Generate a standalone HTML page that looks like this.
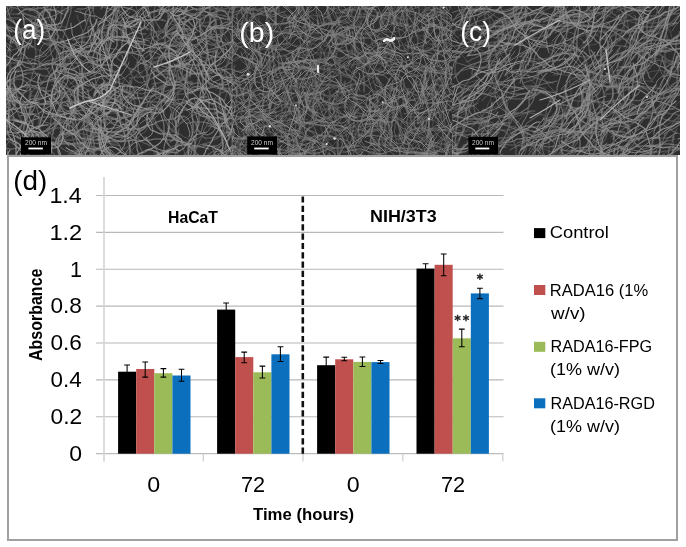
<!DOCTYPE html>
<html><head><meta charset="utf-8"><style>
html,body{margin:0;padding:0;background:#fff;}
body{width:686px;height:547px;position:relative;overflow:hidden;font-family:"Liberation Sans",sans-serif;}
svg{position:absolute;left:0;top:0;}
</style></head><body>
<svg width="686" height="547" font-family="Liberation Sans"><rect x="8" y="156" width="669" height="384" fill="#fff" stroke="#a0a0a0" stroke-width="2"/><line x1="96" x2="503.5" y1="416.71" y2="416.71" stroke="#b8b8b8" stroke-width="1.1"/><line x1="96" x2="503.5" y1="379.85" y2="379.85" stroke="#b8b8b8" stroke-width="1.1"/><line x1="96" x2="503.5" y1="343.00" y2="343.00" stroke="#b8b8b8" stroke-width="1.1"/><line x1="96" x2="503.5" y1="306.14" y2="306.14" stroke="#b8b8b8" stroke-width="1.1"/><line x1="96" x2="503.5" y1="269.28" y2="269.28" stroke="#b8b8b8" stroke-width="1.1"/><line x1="96" x2="503.5" y1="232.42" y2="232.42" stroke="#b8b8b8" stroke-width="1.1"/><line x1="96" x2="503.5" y1="195.56" y2="195.56" stroke="#b8b8b8" stroke-width="1.1"/><line x1="96" x2="503.5" y1="453.6" y2="453.6" stroke="#bcbcbc" stroke-width="1.3"/><line x1="104" x2="104" y1="177" y2="461.5" stroke="#d4d4d4" stroke-width="1.6"/><line x1="203.3" x2="203.3" y1="453.7" y2="461.5" stroke="#d0d0d0" stroke-width="1.3"/><line x1="303.0" x2="303.0" y1="453.7" y2="461.5" stroke="#d0d0d0" stroke-width="1.3"/><line x1="402.8" x2="402.8" y1="453.7" y2="461.5" stroke="#d0d0d0" stroke-width="1.3"/><line x1="502.8" x2="502.8" y1="453.7" y2="461.5" stroke="#d0d0d0" stroke-width="1.3"/><line x1="302.8" x2="302.8" y1="196.4" y2="453.7" stroke="#111" stroke-width="2.6" stroke-dasharray="6.2 3.1"/><rect x="118.1" y="371.7" width="18.1" height="82.0" fill="#000000"/><rect x="136.2" y="369.0" width="18.1" height="84.7" fill="#c0504d"/><rect x="154.3" y="373.2" width="18.1" height="80.5" fill="#9bbb59"/><rect x="172.4" y="375.5" width="18.1" height="78.2" fill="#0b6fbe"/><path d="M127.1 365.0V378.4M124.2 365.0h5.8M124.2 378.4h5.8" stroke="#000" stroke-width="1.05" fill="none"/><path d="M145.2 361.9V377.1M142.3 361.9h5.8M142.3 377.1h5.8" stroke="#000" stroke-width="1.05" fill="none"/><path d="M163.4 368.6V377.1M160.5 368.6h5.8M160.5 377.1h5.8" stroke="#000" stroke-width="1.05" fill="none"/><path d="M181.5 369.2V381.3M178.6 369.2h5.8M178.6 381.3h5.8" stroke="#000" stroke-width="1.05" fill="none"/><rect x="217.1" y="309.6" width="18.1" height="144.1" fill="#000000"/><rect x="235.2" y="357.1" width="18.1" height="96.6" fill="#c0504d"/><rect x="253.3" y="372.3" width="18.1" height="81.4" fill="#9bbb59"/><rect x="271.4" y="354.3" width="18.1" height="99.4" fill="#0b6fbe"/><path d="M226.2 303.0V316.0M223.2 303.0h5.8M223.2 316.0h5.8" stroke="#000" stroke-width="1.05" fill="none"/><path d="M244.2 352.1V362.7M241.3 352.1h5.8M241.3 362.7h5.8" stroke="#000" stroke-width="1.05" fill="none"/><path d="M262.4 366.1V377.9M259.5 366.1h5.8M259.5 377.9h5.8" stroke="#000" stroke-width="1.05" fill="none"/><path d="M280.4 346.8V361.4M277.6 346.8h5.8M277.6 361.4h5.8" stroke="#000" stroke-width="1.05" fill="none"/><rect x="317.1" y="365.2" width="18.1" height="88.5" fill="#000000"/><rect x="335.2" y="359.3" width="18.1" height="94.4" fill="#c0504d"/><rect x="353.3" y="361.9" width="18.1" height="91.8" fill="#9bbb59"/><rect x="371.4" y="362.1" width="18.1" height="91.6" fill="#0b6fbe"/><path d="M326.2 357.1V373.3M323.3 357.1h5.8M323.3 373.3h5.8" stroke="#000" stroke-width="1.05" fill="none"/><path d="M344.3 357.3V360.8M341.4 357.3h5.8M341.4 360.8h5.8" stroke="#000" stroke-width="1.05" fill="none"/><path d="M362.4 356.9V366.5M359.5 356.9h5.8M359.5 366.5h5.8" stroke="#000" stroke-width="1.05" fill="none"/><path d="M380.5 360.4V363.5M377.6 360.4h5.8M377.6 363.5h5.8" stroke="#000" stroke-width="1.05" fill="none"/><rect x="416.5" y="268.6" width="18.1" height="185.1" fill="#000000"/><rect x="434.6" y="264.8" width="18.1" height="188.9" fill="#c0504d"/><rect x="452.7" y="338.3" width="18.1" height="115.4" fill="#9bbb59"/><rect x="470.8" y="293.4" width="18.1" height="160.3" fill="#0b6fbe"/><path d="M425.6 263.7V273.5M422.7 263.7h5.8M422.7 273.5h5.8" stroke="#000" stroke-width="1.05" fill="none"/><path d="M443.7 254.0V275.8M440.8 254.0h5.8M440.8 275.8h5.8" stroke="#000" stroke-width="1.05" fill="none"/><path d="M461.8 329.1V346.8M458.9 329.1h5.8M458.9 346.8h5.8" stroke="#000" stroke-width="1.05" fill="none"/><path d="M479.9 288.3V298.6M477.0 288.3h5.8M477.0 298.6h5.8" stroke="#000" stroke-width="1.05" fill="none"/><path d="M479.9 273.5V280.1M477.0 275.2L482.8 278.4M477.0 278.4L482.8 275.2" stroke="#2a2a2a" stroke-width="1.4" fill="none"/><path d="M457.6 314.7V321.3M454.7 316.4L460.5 319.6M454.7 319.6L460.5 316.4" stroke="#2a2a2a" stroke-width="1.4" fill="none"/><path d="M466.0 314.7V321.3M463.1 316.4L468.9 319.6M463.1 319.6L468.9 316.4" stroke="#2a2a2a" stroke-width="1.4" fill="none"/><rect x="534" y="228.1" width="11.3" height="10" fill="#000000"/><rect x="534" y="285.0" width="11.3" height="10" fill="#c0504d"/><rect x="534" y="341.8" width="11.3" height="10" fill="#9bbb59"/><rect x="534" y="398.3" width="11.3" height="10" fill="#0b6fbe"/></svg>
<svg width="674" height="149" viewBox="6 6 674 149" style="left:6px;top:6px;will-change:transform"><defs><filter id="bl" x="0" y="0" width="1" height="1"><feGaussianBlur stdDeviation="0.55"/></filter><clipPath id="ca"><rect x="6" y="6" width="226" height="149"/></clipPath><clipPath id="cb"><rect x="232" y="6" width="220" height="149"/></clipPath><clipPath id="cc"><rect x="452" y="6" width="228" height="149"/></clipPath></defs><g filter="url(#bl)"><g clip-path="url(#ca)"><rect x="6" y="6" width="226" height="149" fill="#2e2e2e"/><g fill="none" stroke-linecap="round" stroke-linejoin="round"><path stroke="#5f5f5f" stroke-width="0.8" d="M77 102l0-3 0-4 0-3 1-4 1-3 1-3 1-4 2-3 1-3 2-3 3-2 3-2 3-2 2-2 4-2 3 0M190 140l-3-2-3-1-3-2-3-2-2-3-2-3-1-3-1-3-1-4 0-3 1-4 1-3 1-3 1-4 0-3M162 38l-2-2-3-3-2-2-3-2-3-3-2-2-3-3-2-3-2-2-2-3-1-3-1-4M125 92l2-3 1-4 2-3 2-3 2-2 3-2 3-2 3-2 3-2 3-2 2-2 3-2 3-2 4-1 3-1 3-2 3-2 3-2 3-2 3-1M130 141l4-1 3-2 3-2 2-2 3-2 2-3 2-3 2-3 2-3 1-3-1-3-2-3-3-2-4 0-3 1-4 0M17 100l-1 3-1 3-2 3-2 3-3 2-4 0-3 1-4 1-3 0-4-1-3 0-4-1-3 0-3 1-4 2-2 2-3 2-3 2-3 2-3 1-4 0M-9 44l0-4 0-3 0-4 0-3-1-4-1-3-2-3-3-2-3-2-3-2-3-1-4-1-3-1-3 0-4 0-3 0-4 1-3-1-4 0-3 0-4 0-3 0-4-1-3 0M-11 45l3 2 3 2 3 1 4 1 3 0 3-1 4 0 3-1 4-1 3-1 4 0 3 0 4 0 3 2 3 1 3 2 3 2 2 2M-3 141l1 3 2 3 1 4 1 3 1 3-1 4-1 3-3 2-2 3-2 3-3 2-2 3-2 2-3 3-3 2-2 2-3 2-3 3-2 2-3 2-3 2-4 0-3 1-3 1M20 146l-2-3-2-2-3-1-3-3-3-2-2-3-1-3-2-3-1-4 0-3 1-3 1-4 0-3 1-4 1-3 2-3M101 7l4 0 3-1 3-1 4 0 3 0 4 0 3 2 4 1 3 1 3 2 3 1 3 2 3 1 3 2M127 87l0 3 0 4 0 3 0 4 0 3 0 4 0 3 0 4 0 3 1 4 0 3 1 4M-10 137l1-3 1-3 1-4 2-3 1-3 1-3 2-3 1-4 1-3M76 76l-4 0-3 1-3 2-3 1-3 3-3 2-2 2-3 2-3 2-3 2-3 2-3 1-4 0-3 0-4 0M147 166l-3 2-3 2-3 2-2 3-2 3-1 3-1 3 0 4 0 3 0 4-1 3 0 4 1 3 1 4-1 3 0 4M251 132l3 2 2 3 2 3 1 3 1 4 0 3 1 4 0 3 1 3 3 3 3 2 3 1 4 0 3 1 4 0 3 0 3-1 4-1 3-1 4 0 3 0 4 0 3 1M237 129l-1 3-2 3-3 2-2 2-3 2-3 3-2 2-3 2-2 3-1 3 0 4-1 3-1 4 0 3-1 4M151 67l4 1 3 0 4 1 3 1 3 1 3 2 4 1 3 2 3 2 3 2 2 2 3 1 3 2 3 2 4 1 3 0 4-1M61 169l-4-1-3 0-3-1-4-1-3 0-4 0-3 1-4 0M234 67l2 3 2 3 3 2 2 3 3 2 2 2 3 2 3 2 4 1 3 0 4 0 3 0 4-1 3-1 3-1 4-1 3-1 4 0 3 0 4-1 3-1 3-1 4 0 3 1M215 3l3 1 3 1 4 1 3 1 3 2 3 1 3 2 4 1 3 2 3 2 2 3 1 3 1 3 0 4-2 3-1 3-3 3-2 2-3 2M99 25l-2-2-2-4-1-3 0-3-1-4 0-3 0-4 0-3 1-4 0-3 0-4 0-3 0-4M27 100l2-3 2-3 2-3 2-3 2-2 3-3 3-2 2-2 2-3 2-3 2-3 1-3 2-3 2-3 2-3 3-2 3-2 3-1 4 0 3 1 3 2 2 2 3 3 1 3 0 4-2 3M249 114l2-3 2-3 2-3 1-3 0-3 1-4 0-3-1-4-1-3-2-3-2-3-2-3-2-2-3-3-2-3-2-3-1-3-2-3-1-3-1-4M197 104l-1 3-2 3-3 3-2 2-3 3-3 2-2 2-3 2-3 2-2 3-2 3-2 3M195 13l1 4 2 2 3 3 2 3 2 2 3 3 2 3 2 2 2 3 2 3 0 4-1 3-1 4-1 3-2 2-3 3-2 3M46 146l3 2 2 3 2 2 3 3 3 2 3 2 3 1 3 2 3 1 4 0 3 0 4 1 3 1 4 1 3 1 3 2 3 2 3 1 3 2 3 1 4 0M180 28l-3-2-3-1-3-1-3-2-4-2-3-1-3-1-3-1M153 70l4 0 3 1 4 0 3 0 4 0 3 0 4 0 3-2 3-1 3-3 2-2 1-4 0-3-1-4-1-3-1-3-2-3-2-3-2-3-2-3-2-3 0-4M224 75l1-3 1-3 1-4 0-3 1-4 1-3 1-3 3-3 2-3 2-2 3-3 2-3 2-2 2-3 1-4 1-3 2-3 1-3 1-4M240 57l-2-3-2-3-2-2-2-3-2-3-2-3-2-3-2-2-3-3-2-3-2-3-1-3-2-3 0-3 1-4 1-3 2-3 3-2 3-1 3-2 4-1 3-2 3-1 3-1 3-2 3-2M76 5l-3 2-3 2-3 2-3 0-4 0-3-1-4 0-3 0-4 1-3 2-3 1-3 2-4 1-3 0M81 165l2 3 2 2 4 2 3 1 3 1 4 0 3 0 3-2 3-2 2-3 2-3 3-2 2-2 3-2 3-2 3-2 3-2 3-2 2-2 3-3M101 119l1-3 1-3 2-3 3-3 3-2 2-2 3-1 4-2 3-1M-2-13l0-4 0-3 1-4 1-3 2-3 2-3 3-2 2-3 3-2 3-2 3-1 3-2 3-1 3-2M54 116l3-3 1-3 2-3 1-3 1-3 1-4 2-3 3-2 3-1 3-1 4-2 3-1 3-2 2-3 3-2 3-1 4-1 3 0 4 1 2 2 3 2 3 3 2 2 3 2 2 3 3 2M13 4l-1 4-1 3-2 3-2 2-3 2-3 2-3 2-3 1-3 1-4 2-3 2-2 2-3 2-3 2-4 1-3 0-3-1-4-2-2-2-3-2-3-2-3-2-3-2-3-1-3-1-4-1M135 66l2-2 3-3 3-2 3-2 3-2 2-2 3-2 1-4 1-3 1-3 1-4 1-3 0-4 0-3-2-3M76 149l-1-3-1-3-1-4-1-3-1-4-1-3-2-3-2-2-3-3-2-2-3-2-3-2-4-1-3-1-3-2M181 144l1 3 2 4 1 3 3 2 2 3 4 1 3 1 3 2 3 2 3 2 2 2 3 3 2 3 1 3 1 3 1 4 1 3 1 3 2 3 2 3 2 3 3 2M132 72l-3 2-2 2-2 3-2 3-1 3-2 3-2 3-3 3-2 2-3 3-2 2-3 3-2 2-3 2-2 3-3 2-2 3-2 3-1 3-1 4-1 3M105 8l0-4 0-3 0-4 0-3 1-3 2-4 1-3 2-3 2-3 3-2 3-1 3-1 4 1 3 1 4 0 3 1 3 1 4 1 3 1 4 1 3 0 3 2 3 1 3 2M233 5l-2 3-2 3-2 3-2 2-3 2-3 1-4 1-3 1-3 1-4 1-3 0-3-1-3-3-3-2-2-2-3-2-3-3-2-3-1-3-1-3-1-3-1-4-2-3M124 13l-2 3 0 3-1 4 0 3 0 4 0 3 1 4 2 3 2 2 3 2 4 1 3 1 4 0M2 9l-3 1-4 2-2 2-3 1-4 2-3 1-3 1-4 1-3 2-3 1-4 0-3 1-4 0-3 2-3 1-4 0-3 0-4 0-3 0-3 1-4 2-3 2-2 2-2 3M231 165l0-4-2-3-2-3-2-3-3-2-3-1-3-2-3-1-4 0-3 0-4 1-3 0-3 1-4 1-2 3-3 2-2 3-2 2-2 3-2 3-2 3M200 175l-4 0-3 0-4 0-3-1-4 0-3 0-4 1-3 2M67 27l-3 0-4 0-3-1-4-1-2-2-2-3-1-4 0-3 0-4-1-3M104 156l-3 0-4 1-3-1-4 0-3-1-4-1-3 0-3 1-4 1-3 2-2 3-1 3 0 4 1 3 1 3 1 4 1 3 2 3 1 3 1 4 1 3 0 3 0 4M117 113l-3 0-4 0-3-1-4 0-3 0-4 0-3 0-3-2-3-1-4-1-3-2-3-1-3-3-2-2-3-2-3-1-4 0-3 1-4 1-3 0-3 2-4 1-3 2-3 2-2 2M12 68l-2-2-3-2-3-2-2-2-3-3-3-2-2-2-3-3-2-2-3-3-3-2-3-1-3-1-4-1-3 0-4 0-3 0-4 0-3 0-4 1M135 31l1 4 1 3 1 3 1 4 0 3 0 4 0 3-1 4-1 3-1 4-1 3-2 3-3 2-3 2-3 2-3 1-3 1M78 96l-1-4-1-3-2-3-2-2-3-3-2-3-1-3 0-4 0-3 1-4 2-3 2-2 2-3 2-3 3-2 2-3 2-2 2-4 0-3 0-4-1-3-1-3-2-4 0-3-2-3-1-4M186 39l-2 3-2 3-1 3-2 3-1 3-2 3-3 3-3 2-3 1-3 0-4 1-3 0-4-1-3 1-4 1-3-1-3-1-3-3-2-2-3-3M164 33l-3-1-3-1-4 1-3 2-3 2-2 2-3 2-3 2-3 2-3 2M62-4l0 3-2 4-1 3-2 2-3 2-4 1-3-1-3-1-4-1-3 0-4 1-3 0-4 0-3 0M-8 14l-3 1-4 1-3-1-3-1-3-2-3-2-2-2-2-3-2-4-1-3-2-3-2-2-2-3-3-2-3-1-4-1-3 1-4 1-3 0-4-1-3 0-4-1-3-1M137 131l-2 2-3 2-3 2-3 2-3 1-4 1-3 2-3 0-4 0-3 0-4-2-2-2-3-3-2-2-3-2-3-2-3-1-4 0-3 1-3 1-4 1-3 1-3 2-3 2-3 2-2 3M209 6l4-1 3-2 3-1 4 0 3 0 4 1 3 0 4 1 3 0 4 0 3 1 3 0M83 159l3-1 4-2 3-1 2-3 2-2 2-4 2-3 2-2 3-2 3-2 4 0 3 0 3-1 4-2 2-2 2-3 2-3 1-3 1-4M43 132l2 3 2 3 2 3 1 3 1 4 1 3 2 3 1 3 1 3 2 3 2 3 2 3 2 3 2 3 2 2 2 3 2 3 2 3 2 3M232 137l4-1 3 0 4 1 3 2 3 2 2 2 3 2 4 1 3 0 3 1 4 1 3 0 4 1 3 0 3-2 3-3 1-3 1-3-1-4 0-3-2-4-1-3-1-3-2-3-3-2M22 40l3-1 4-1 3-2 2-2 3-3 1-3 2-3 1-3-1-4-1-3-3-2-3-2-3-2-3-2-3-1-3-1-4 1-3 2-2 3M-9 129l-2 2-3 3-2 2-3 2-4 0-3 0-4-2-2-2-2-3-2-3-1-3 0-4 1-3 0-4 0-3 0-4 0-3 2-3 2-3 2-3 0-4-2-3-3-2-3-2-3-1M206 140l-2-3-3-2-2-3-2-3-1-3-1-3-2-4-1-3-2-3-2-2-3-2-3-3-2-2-2-4 0-3 0-3 0-4 2-3 3-2 3-2 3-1 3-1M239 79l-3 2-3 3-2 2-2 3-2 3-1 4-1 3-1 3 0 4 0 3 0 4-1 3-2 3-2 3M80 10l2 3 3 2 2 3 2 3 2 3 2 3 1 3 0 4 1 3 0 4 1 3 0 4-1 3-1 3-2 3-2 3-2 3-2 3M217 74l4 1 3 1 3 1 3 2 2 3 3 2 2 3 3 2 2 3 3 2 3 2 3 2 3 2 3 1 3 2 2 2 3 2M42 16l1-3 1-4 2-2 3-3 3-1 3-2 3-2 3-2 3-2 3-1 3-1 4 0 3-1 3-2 3-2 1-4 1-3-1-4 0-3 0-4-1-3-1-3M33 31l-4 0-3 1-4 0-3 0-4 0-3-1-3 0-4-1-3-2-2-2-2-3-2-3-2-3M36 119l-3 1-4 1-3 1-4-1-3-1-3-1-4-1-3 0M2 8l-3 1-4 0-3 0-4 0-3 2-3 2-3 1-3 1-4 1-3 1-3 2-3 1-4 1-3 0-4 0-3 1-3 2-3 1M239 118l3 1 4 0 3 1 3 2 3 2 2 3 2 3 1 3 1 3 1 4-1 3-2 3-3 2-3 2-3 1"/><path stroke="#5f5f5f" stroke-width="1.1" d="M243 68l3-1 4-1 3-2 3-1 4-1 3-1 3-1 3-1 3-2 3-3 1-3 0-4-1-3M166 138l-2-3-2-3-3-3-2-2-2-3-2-3-1-3-1-4-1-3 0-4 0-3 2-3 3-2 3-2 3-2 3 0 4-1M183 117l-3 2-3 2-1 3 0 4 0 3 1 4 1 3 0 4-2 3-1 3-2 3-3 2-3 2-3 0-4 1-3 1-3 2-4 0-3 1-4-1-3-1-4 0-3-1-3-2M26 57l2 3 2 2 2 3 1 4 2 3 2 3 2 3 2 3 1 3M185 20l0 3-1 4 0 3 1 4 1 3 1 3 1 4 2 3 2 3 1 3 2 3M36 19l-3 0-4 0-3 0-4 0-3-1-4 0-3 0-4 0-3 0-4-1-3 1-3 1-4 1-2 3-2 3-1 3-2 3-2 3-2 3-2 2-2 3-2 3-2 3-1 4-1 3M20 90l-3-2-3-3-2-2-1-3-1-4 0-3 0-4 0-3 0-4 0-3 0-4 0-3 0-4M230 136l-3-2-3-2-3-2-3-1-3-2-3-1-2-3-2-3-1-3 0-4-1-3-2-4-1-2-3-3-2-3-2-2-3-3-2-2M104 85l-4 1-2 2-3 3-1 3-1 4 0 3 0 4-1 3-1 3-2 3-2 3-2 3-2 3 0 3 0 4 1 3 0 4 1 3-1 4-1 3-2 3-3 2-3 1-4 1-3 0M122 158l1 4 2 3 2 3 3 2 2 2 3 2 3 2 2 3 2 3 2 3 1 3 1 3 1 4 0 3M123 127l-3 1-3 2-3 2-3 2-3 2-4 1-3 0-4-1-3 0-4 0-3-1-4-1-3-1-3-2M150 107l1 3 1 3 1 4 2 3 1 3 2 3 2 3 3 2 3 2 3 2 3 1 3 2 2 3M212 148l2 3 1 3 3 3 3 1 3-1 3-1 2-4 2-3 2-2 2-3 2-3 2-3 0-4 1-3 0-4 0-3-1-3-1-4 0-3-1-4 0-3M153 58l4 0 3 0 4-1 3-1 3-1 4-1 3-3 2-2 1-3 1-4 1-3 1-4-1-3-1-3-1-4M129 78l3 0 4-1 3 0 4 0 3-1 3-1 3-2 3-2 3-2 1-3 2-3 1-4 1-3 1-3 2-3 3-3 2-2 3-2 2-3 1-3 1-4 0-3-1-3-2-4-2-3-2-2-2-3M152 84l4-1 3 0 4-1 3 0 3 1 4 0 3 1 4 1 3 1 3 2 3 1 4 0 3 1M199 65l-2 2-3 2-3 2-3 2-3 2-3 2-3 2-3 2-3 1-3 2-3 2-3 2-3 2M-13 58l2 3 3 2 2 3 2 2 3 3 3 1 3 1 4 0 3-1 4-1 3-2M203 158l-3 2-2 3-1 3-1 3-1 4 0 3 0 4-1 3-2 3-2 3-1 3-1 4 1 3 1 3 0 4M132 169l3-1 4-1 3-2 3-1 3-2 3 0 4-1 3 0 4 1 3 0 4-1 3 0 4-1 3 1 4 1 3 2 3 2 3 1 3 1 3 1 4 1 3 1 4 0M-12 174l3 2 3 2 3 2 3 1 4 0 3 1 4 0 3 0 4 0 3-1 3-1 4-1 3-1 3-2 3-1 4-1 3 0M62 105l-1 3-1 3 0 4-1 3-1 4-1 3-2 3-3 2-2 3-3 1-4 2-3 1-3 1-3 2-3 2-2 3-3 2-2 3-2 3-2 3-1 3-2 3-1 3M94 157l0-3 0-4-2-3-1-3-2-3-1-3-1-4 0-3 0-4 0-3 1-3 1-4M101 93l2 3 2 2 2 3 1 4 2 3 2 2 3 2 2 3 4 2 3 1 3-1 4-1 2-3 1-3 1-4 0-3-1-3-2-4-2-2-3-2-3-1-4-1M193 83l-3-1-3-1-4-1-3-1-3-2-3-1-3-2-4 0-3 0-4 1-3 1-3 1-3 2-4 2-3 1-3 1-3-1-3-2-2-3-2-3-1-4-2-3-2-3-2-3-1-3-1-3M59 28l-4-1-3 0-4-1-3-1-3-2-3-1-3-3-2-2-4-1-3-1-3-1-4 0-3 0-4 0-3 0-4 0-3 1-4 1-3 1-3 1-4 0-3 1-4 1-3 1-3 2-3 2-2 2M248 161l3 2 3 1 3 2 3 2 1 3 2 3 0 4 1 3 0 4 0 3 1 4-1 3 0 4-1 3-2 3M88 147l1 3 1 3 0 4 0 3-1 4-2 3-1 3-2 3-2 3M97 0l-2-3-2-3-2-2-1-4 0-3 0-4 2-3 1-3 1-3 2-4 0-3-1-4-1-3-1-3 0-4 1-3M-10 170l3-2 2-3 3-2 3-2 2-2 3-2 3-2 4 0 3 0 4 2 2 2 2 3 1 3-1 4-1 3-3 2-3 2-3 1-4 1-3 1-3 0-4 0-3-1-3-2M235 7l-4 1-3 0-4 1-3 0-4 0-3 0-4 0-3-1-4-1-3-1-3 0-3-2-4-1M150 146l-3-2-3-1-3-2-3-2-2-3-2-3-1-3 0-4 1-3M62 91l0 3-1 4 0 3 0 4 2 3 2 2 3 1 4 0 3-2 1-3 0-4-1-3-2-3-2-3-2-3-2-2-3-2-3-2-2-3-1-3-2-4M86 145l-3-2-1-3-2-4-1-3-1-3-2-3-2-3-3-2-3-1-4-1-3 0-4 2-3 1-3 2-2 2-3 3-2 3-2 3-2 2-3 3-2 2-3 2-3 2-3 2-3 1M131 107l-2 2-2 3-2 3-2 3-3 2-3 2-4 1-3 0-4 0-3-1-3-2M186 22l-1-3-1-3-1-4-2-3-2-3-2-2-3-2-3-2-3-2-3-2-3-2-2-3-1-3-1-4 0-3-1-3 0-4 1-3 1-4 3-2M17 108l-3-2-2-3-2-3-1-4-2-3-2-2-2-3-3-2-3-2-3-1-4-1-3-2-3-2-2-2-3-2-2-3-2-3-1-3M154-3l1 3 0 4 0 3-1 4 0 3 0 4 1 3 2 3 2 3 2 3 3 2 2 3 3 2 2 2 3 3 3 2 3 0 4 1 3-1 3-2 3-2 3-2M1 56l2 2 3 3 0 3 0 4-2 3-2 2-3 2-3 3-2 3 0 3-1 4-1 3 0 4 1 3 1 3 1 4 2 3 2 2M180 170l4 0 3-1 4 0 3-1 3-2 3-2 2-3 2-2 2-3 3-2 3-2 3-2 3-2 2-2 2-3 1-4 0-3 0-4 0-3-1-4 0-3 0-4M46 151l0 3 0 4 0 3 0 4 0 3 0 4-1 3-1 4 1 3 1 3 2 3 3 3 2 3 1 3 0 3 1 4M114 37l-2-3-3-1-4-1-3 0-4 1-3 2-2 3-2 3 0 3 2 3 3 2 3 1 4-1 3 0 4-1 3 1 3 0 4 2M230 63l-3 2-3 2-3 1-4 1-3 1-3 1-4 0-3 0-4 0-3-2-3-1-4-1-2-3-3-2-1-3-2-4-1-3-2-3-3-2-3-1-4 0-3-1M251 52l3-2 3-3 2-2 3-3 2-3 2-3 1-3 1-3-1-4-2-2-3-2-3-2-3-2-2-3-2-3-2-3-2-3 0-3-1-4-1-3-2-3-2-3-2-3-3-2-2-3-2-3-2-2-2-3M168 55l4 1 3 2 3 2 2 2 3 3 2 2 3 2 3 2 3 1 4 1 3 2 2 2 3 3 2 3 2 2 3 2 3 1 4 1 3 1M59 60l4-1 3 0 4-1 3-1 3-1 4-1 3-2 3-1 4-1 3-2 2-2 2-3 2-3 3-2 2-3 3-2 2-3 1-3 2-3 2-3 1-3 1-4 1-3 2-3M172 164l4 0 2-3 3-2 2-3 2-2 3-3 2-2 3-2 3-1 4-1 3-1 4-1 3-1 3-2 3-1 3-2 3-2 3-2 4-1 3-1 3-2 3-2 2-2 2-3 1-3 1-4M187 63l0 4 0 3 0 4 1 3-1 4-1 3-2 3-3 3-2 2-3 1-4 2-3 2-3 1-2 2-3 3-3 2-3 2-3 1-3 2-3 2-3 0-4 1-3 0-4-1-3-2-3-2M15 66l3-2 2-3 1-3 0-3 0-4-2-3-2-3-3-2-3-2-2-3-2-3-2-3-3-2-3-2-3-1-3-2-4 0-3 0-4 0-3 1-3 1-4 0-3 1-4 0-3-1-4-1M140-2l3-3 2-2 3-2 3-2 3-1 4 0 3 1 3 2 3 3 1 3 1 3 0 4 0 3-1 4 0 3 0 4 0 3-1 4-2 3-2 2-3 2-4 0-3-1-3-2-3-1-3-2M79 149l3-1 4-1 3-2 2-2 2-4 1-3 1-3 1-4-1-3 0-4 1-3 0-4 1-3 2-3 2-3 2-2 3-3 3-1 3-1 4-1 3-2 3-2 1-3 1-3 0-4M152 105l4 1 3 1 2 3 2 3 1 3 1 4 2 3 1 3 3 3 2 2 3 2 3 1M43 105l3-1 3-2 3-2 3-1 3-2 3-2 3-2 3-1 4-1 3-1 4 0 3-1 3-1M224 4l-2 3-3 2-2 2-3 2-3 2-4 1-3-1-3 0-4-1-3 0-4-1-3-2-2-3-2-3-1-3-2-3-2-3 0-3 0-4 2-3 2-3 2-2 3-2 4-1 3 1 3 3M170-13l-4-1-3-1-3-1-4-2-2-2-3-2-3-2-3-2-2-3-2-3-1-3-1-3-2-3-2-3-1-4-1-3-1-3 0-4-1-3-3-3M62-2l0 3 1 4-1 3 0 4-1 3 0 4-1 3-2 3-1 3-3 3-2 3-1 3-1 4 0 3 0 4 1 3 0 3 2 4 1 3 1 3 2 3 1 4 0 3 0 4 0 3-2 3-1 3M244-8l2 4 0 3 0 3-1 4-2 3-2 3-2 3-3 1-4 1-3 0-4-1-3-1-3 0-4-1-3-1-4-1-3 0-3-1-4-1-3-1M142 60l3 1 4 0 3 1 4 0 3-1 3-2 3-2 3-2 3-2 3-2 3-1 3-1 4 0 3 2 3 2 3 2 2 2 3 3 2 2 2 3 2 3 2 3 2 3 2 2 4 1M61 54l-1-3-2-3-2-3-2-3-2-3-3-2-3-1-4-2-3 0-3 0-4 0-3 1-3 2M90 144l-1 3-2 3-1 3-1 3-1 4-2 3-2 3-2 2-2 3-3 2-3 3-2 2M53 65l1-3 2-3 1-3 0-4 0-3-1-4-1-3-2-3-2-3-2-2-2-3-1-3-2-3-2-3-3-3-3-2-3-1-3-1-4-1M22 114l1-3 2-4 2-3 2-2 1-4 1-3 0-4-1-3-1-3-3-3-3-2-3-1-3 0-4 2-2 3-2 2-1 4-2 3-1 3-2 3-1 3-2 3-2 3-1 3M176 75l1 3-1 3-1 4-2 3-2 3-1 3-2 3 0 3 0 4 2 3 1 3 1 4 1 3 1 3 2 4 2 2M54 143l-3 2-2 3-2 3-1 3 0 4 0 3 2 3 3 2 3 2 3 2 3 1 4 1 3 0 4 1 3 1 3 1M142 23l-3 1-4 1-3-1-4-1-3 0-3-1-4 0-3-1M28 18l2 3 2 3 1 4 1 3 0 3 1 4 0 3 0 4 0 3 1 4 0 3-1 4 0 3-1 4 0 3-1 3-1 4-1 3-1 4-2 3-1 3-2 3-2 3M27 15l-3-2-3-2-3-2-3-1-4-1-3-1-4-1-3 0-3-1-4-1-3-1-4-1-3 0-3-1-4 0-3-1-4-1-2-3-3-2-3-2-3-1-3-1M116 56l2 3 3 2 2 2 3 3 3 2 3 1 3 1 3 2 4 1M177 64l-1 4-1 3-1 3-2 3-2 3-3 3-2 2-3 3-3 2-2 2-2 3-3 2-2 3-2 3-1 3-2 3-2 3-2 3-2 3-2 2-3 2-3 2-4 1-3 2-2 2-3 2-3 2M15 87l-4 0-3 0-4-1-3-2-2-3-2-2-1-4-1-3-1-3-1-4-1-3-1-3-2-4M80-7l4-2 3-1 3-1 3-1 4 0 3 1 3 2 2 3 2 3 2 3 1 3 2 3 2 3 2 3 1 4 0 3 0 4-1 3-1 3-2 3-1 3-3 3-2 2-4 2-3 1-3 2M212 64l2-3 2-3 1-3 0-4 0-3 1-4 0-3-1-4 0-3-1-4-1-3 0-3 1-4 0-3 1-4 0-3 1-4 1-3M93-11l1-3 0-3 3-3 3-1 3 0 4 1 3 2 2 3 1 3 1 3 0 4 1 3-1 4 1 3 0 4 0 3 0 4M222 68l2 3 2 3 1 3 3 3 2 2 3 2 4 1 3 0 3 1 4 2 3 1 2 3 3 2 1 3 2 3 1 4 1 3 0 3 1 4 1 3 1 4 2 3 0 3 1 4M7 32l-3 1-3 1-4 1-3 1-4-1-3-1-3-2-2-3-2-3-1-3 0-4-1-3 0-4 0-3-1-4 0-3 1-3 1-3M42 31l-4 1-3 0-4 0-3 0-4 1-3 1-3 2-3 2-3 1-4 0M110 109l2-3 2-2 3-3 3-2 3-1 3-1 3-2 3-3 2-2M90 77l3-1 3-2 3-2 2-3 1-3 2-3 2-3 1-4 1-3 1-3 0-4 0-3-2-4-1-3-2-3-3-2-4-1M217 50l-4 1-3 1-3 1-4 1-3 1-3 0-4 0-3 0-4 0-3-1-4-1-3-2-3-1-3-1M55 89l3 2 2 2 3 2 3 2 2 3 2 3 3 2 2 3 1 3 0 4-2 3-2 3-2 2-3 2-3 2-3 1-4 0-3 1-4 0-3 1M208 34l3-3 2-3 1-3 2-3 0-4 0-3 0-4 1-3 1-4 0-3 0-4M135 26l-4 0-3-1-4 0-3-1-3-2-4-1-3-1-3 0-4 0-3 1-3 1-4 2-3 2-3 1M178 63l0 3 0 4-1 3-2 3-2 2-3 2-3 2-3 2-3 2-3 2-3 2-3 1-3 1-4 1-3 1-4-1-3-1-4 0-3-1-4 1M100 136l-3 0-4 0-3 0-4 1-3 1-4 1-3 0-4 1-3 0-3 0-4-1-3 0-4-1-3 0-4 1-3 2-2 2-1 3-1 4 0 3 1 4 0 3 0 3M195-13l-3-1-3-1-3-2-3-2-1-3-2-3-2-3-1-4-2-3-2-2-3-2-3-2-3-1M79 145l3 3 2 3 1 3 2 3 1 3 2 4 2 2 2 3 3 2 3 2 4 0 3 0 4 1 3 1 3 1 3 2 4 1 2 2 2 3 2 3M15 89l1 4 1 3 1 4 1 3 2 3 1 3 2 3 2 3 1 3 1 4 0 3-1 4-1 3 0 3 0 4 2 3 1 3 3 3 3 2 3 1 3 1 4 1 3 2"/><path stroke="#717171" stroke-width="0.8" d="M62 170l-4 0-3 1-4 1-3 1-3 2-2 2-3 3-2 3-1 3-2 3-2 3-2 3-2 3-2 2-3 2-3 2-3 1-4 2-3 2-2 2-3 2-2 2-3 3-1 3-2 3 0 4-1 3M39 5l-3-2-3-1-3-2-4-1-3-1-3 0-4-1-3 0-4 0-3 1-4 1-3 0-3 1-4 1-3 2-3 2-2 2-3 2-3 2-3 3-2 2-1 4-1 3-1 3 0 4 1 3M30 88l0 3 0 4 0 3 0 4 1 3 0 4-1 3-2 3-1 3-2 3 0 4-1 3 0 4 1 3 1 4M5 90l3 1 4 1 3 1 4 0 3 0 4-1 3-2 2-2 3-2 4-1M192 172l2-3 3-2 3-2 3-2 3-1 3-1 4-1 3-1 3-1 4-1 3 1 4 0 3 0 4-1M214 155l3-1 3-1 4-1 3-1 4 0 3 1 3 0 4 1 3 0 4-1 3-1 3-1 4 0 3 2 2 3 1 3 0 4 0 3-1 4M203 137l3 1 3 0 4 0 3-1 4-1 2-3 2-3 1-3 0-4 1-3-1-3-3-3-3-1-3 0-3 2-3 2-1 3-2 4-1 3-2 3-1 3-1 4-2 3-1 3-2 3-1 3-1 4-1 3M1-7l-2 2-2 3-2 4 0 3-1 3 1 4 1 3 2 3 2 3 2 3 3 2 2 3 2 3 1 3 1 4 0 3-1 3-1 4-1 3-2 3-3 3-2 2-3 2-3 1M122 53l-3 2-3 2-3 1-3 0-4 0-3-1-3-2-3-2-1-3-2-3M101 139l3 1 4 2 2 2 3 3 3 1 3 1 4 0 3-1 3-2 3-2 1-4 2-2 2-3 2-3 2-3 3-2M98 97l3 2 3 1 3 2 3 1 3 0 4-1 3-1 3-2 3-2 4-1 3-1 3-2 3-2 3-2 2-2 2-3 2-3 1-4-1-3-2-3-1-3-1-4-1-3M107 51l2-3 2-3 1-3 1-4 1-3 1-3 1-4 2-3 2-3 2-2 3-3 2-2 3-3M235 72l-3 2-3 2-3 1-4 1-3 2-3 1-3 2-2 3-3 2-2 3-1 3-2 3-2 3-1 3-2 4-1 3M142 21l2-3 1-3 1-3 1-4-1-3-1-3-2-4-1-3 0-3 1-4 2-3 1-3 2-3 1-4 0-3M10-2l2 3 2 3 3 2 4 1 3 1 3 1 4 0 3-2 2-2 2-3 1-3 2-3M94 9l-3-1-4-1-2-2-3-2-3-2-3-2-3-2-3-2-3-1-3-2-3-2-3-2-3-1-4 0-3 1-3 2-3 2-2 3-1 3-1 4 0 3-1 3 0 4 1 3 2 3 3 2M7 140l3 2 3 2 3 2 3 2 3 1 3 2 2 3 1 3 1 3M20 122l-3-2-3-2-3-2-2-3-2-2-2-3-3-3-2-2-3-3-2-3-2-2-2-3-3-2M243 109l0 4-1 3-1 3-3 3-3 1-4 0-3 0-3-2-3-2-3-2-3-2-1-3-1-4 0-3 0-4 1-3 3-3 3-2 3-1 3-1 4 0 3 1 4 1 3 0 4 0M89 116l0-3 0-4 2-3 2-3 2-3 2-2 2-3 2-3 2-3 3-2 2-3 2-3 3-2 3-2 3-1 3-2M245 80l4 0 3-1 4 0 3 1 4 1 3 2 3 1 4 0 3 0M154 153l4 0 3-1 4-1 3-2 2-1 4-2 3-1 3-1 3-2 4 0 3-1 4-1 3-1 3-2 3-2 3-2 2-2 2-3 3-2 3-3M16 76l4-1 3-1 3-1 4 0 3 0 4 1 3 1 4 1 3 0 4 1 3 1 3 1 3 2 3 1 3 2 2 3 2 4 1 3M46 24l2 2 2 3 3 2 3 3 2 2 2 3 3 2 2 3 2 3 2 3 2 3 2 3 2 3 1 3 2 3 1 3 1 4 0 3 0 3 0 4-1 3-1 4-1 3 0 4 0 3 1 4 1 3M238 174l-3-3-2-2-2-3-3-2-3-2-3-1-3-2-4-1-3-1-3-2M247 130l-3-2-3-2-2-3-3-2-3-2-3-2-3-2-3-1-3-1-4-1-3 1-4 0-3 0-4 0-3-1-3-2-3-2-2-3-2-3-2-3-1-3-2-3-1-3-1-3-2-4-1-3-1-3-1-4M85 55l3 2 2 2 2 3 1 4 1 3 0 4 1 3 0 3 1 4-2 3-2 3-3 2-3 1-3 1-4-1-3-1-4-1-3-1-3-1-3-1-4-1-3 0-4-1M225 100l-4 0-3-1-4 0-3 0-3 1-3 2-3 2-1 4 0 3 2 3 2 3 3 2 3 2 3 2 2 2 3 3 1 3 0 4M35 137l2-3 3-2 3-1 3 0 4 2 2 2 2 3 2 3 2 3 2 3 3 2 3 2 3 1 3 1 4 1 3 1 4 0 3 1 3 2 4 1 3 1 3 2 3 2 2 2 3 3M176 89l-3 0-4 1-3 1-3 1-3 2-4 1-3 1-3 1M127 111l2 3 2 2 2 4 1 3 0 3 0 4-2 3-3 2-3 2-3 1-3 2M220 34l-3 1-3 2-3 2-3 2-2 3-3 2-2 3-3 2-3 2-2 2-2 3-1 4-1 3-1 3-1 4 0 3-1 4-1 3-2 3-3 2-3 1M246 86l-2 2-4 1-3 0-4 0-3 0-4-1-3 0-3-1-4-1M127 120l-2-3 0-4 1-3 1-3 1-3 2-3 3-2 4-1 3 0 4-1 3 0 3-1 4-1 3-1 4-1 3 1 3 1 3 2 3 2 3 3 2 2M29 63l3-3 3-1 3-1 3-1 4-1 2-3 2-2 2-4 1-3 2-3 3-2 2-3M225 39l2 3 3 2 2 2 3 2 4 1 3-1 3-1 3-2 3-2M130 129l1 4 2 3 2 3 1 3 3 2 1 3 2 4 0 3-1 4-2 2-3 2-3 2-4 1-3 2-3 2-2 2-2 3M83 101l0-3 0-4-1-3 0-3 0-4 1-3 1-4 2-3 2-2 3-3 2-2 3-2 1-4 1-3-1-3-2-4-1-3-2-3-1-3-1-3-1-4-1-3 0-4M138 171l3-1 3-1 4-1 3-1 3-2 3-2 3-2 2-3 2-2 3-3 3-1 3-2M187 110l-4 0-3-1-3-2-3-2-1-3 1-4 2-3 3-1 3 0 4 0 3 0 4-1 3-2 3-2 2-2 3-2 3-3 3-2 3-2 2-2 3-1 3-2M158 128l3 3 2 2 2 3 1 3 2 4 2 3 2 2 2 3 3 2 2 3 2 3 1 3 2 3 2 3 2 3 3 2M108 36l-1-3 1-4 1-3 2-3 3-2 3-1 3-2 2-2 3-3 3-2M40 69l0-4-1-3 0-4 1-3 0-4 1-3 2-3 3-2 4 0 3 0 4 1 3 2 3 2 2 2 2 3 1 3 2 3 1 4 2 3 1 3 2 3 0 4-1 3-2 3-3 2M96 0l-1 3-1 3-1 4-2 3-2 3-1 3-1 3-1 4-1 3-2 3-2 3-2 3-2 3-1 3-2 3-2 3-2 3M227 12l4 0 3 0 3 0 4 0 3-1 4-1 3-1 4 0 3-2 3-2 2-2 2-3 0-4 0-3-1-4 0-3-2-4-2-3-2-2-2-3-2-3-2-3-1-3-1-4 0-3M76-2l-4-1-3-1-4-1-3-1-3-2-3-1-3-1-4-2-3-2-2-2-2-3-2-3-1-3 0-4-1-3 1-4 0-3 1-4 0-3 1-3 2-3 2-3 3-2 2-3 3-2 4-1M130 80l0 3 0 4 0 3-1 4-2 3-2 2-3 3-2 2-3 1-3 2-3 2-3 3-2 2-3 2-3 3-2 2-3 2-4 0-3 0-4-1-3-2-2-2M120 146l-3-1-4 0-3-2-2-2-3-3-2-3-1-3-2-3-1-3-1-3 0-4 0-3-1-4 0-3-1-4 0-3-1-4 0-3 0-4 1-3 0-4 1-3 2-3 2-2 3-3M188 5l-4 0-3 0-4 0-3-1-3-2-3-2-3-2-3-2-2-3-2-3-2-2-2-3-4-1-3-1-3-1-4-1-3 0-4-1-3-1-3-1-3-1-4-1-3-1-4-1-3-2-3-1M245 110l2-3 3-3 3-2 3-1 3-2 3-1 4 0 3 0 4-1 3 0 4 0 3 0 4 1 3 1 3 2 3 2M61 118l-2 2-2 3-2 3-1 4-1 3-1 3-1 4 0 3 0 4 0 3 0 4-1 3-1 3-1 4-1 3-2 3-1 3 0 4 1 3M7 56l-3 2-4 1-3 1-3 1-4 0-3 0-4 0-3 0-4 1-3 1-4 0-3 0-4 0-3 0-4 0-3 0-4 1-3 1-3 1M118 157l-4 1-3 2-2 2-3 2-3 2-3 2-3 2-3 2-3 2M123 23l4-1 3 0 4 0 3-1 4 0 3 0 4-1 3 0 3-1 4 1 3 0 4 1M-1 85l3 1 2 3 3 3 2 2 2 3 2 3 1 3 1 4 1 3 2 3 1 3 2 3 1 3 2 4M31 153l3-1 3-2 3-3 2-2 2-3 2-3 2-3 1-3 0-4 1-3 1-4 0-3 1-4 1-3 1-3 1-3 2-3 3-3 2-2 2-3 2-3 3-2 3-3 3-1 3 0 4 1 3 1 3 3M202 4l-2 3 0 4 0 3 0 4 0 3 0 4 0 3 1 4 1 3 2 3 3 2 3 2 3 2 3 0M208 103l3 1 4 1 3 2 3 2 2 2 2 3 1 4 2 2 2 3 2 3 3 3 2 2 2 3M219 171l3 1 3 1 4-1 3-2 2-3 2-3 3-2 3-2 3-1M217 52l1-3 1-3 0-4-1-3-1-4-3-1-4 1-3 2-2 2-3 2-3 2-3 2-3 2-3 2-3 2-3 2-3 1-3 1-4 1-3 0-3 1-4 0-3 0-4 0M145 173l-2-3-2-3-2-3-3-2-2-2-4-2-3 0-4 0-3 1-3 1-4 1-3 1-4-1-3-1M153 60l-1-3-1-3 1-4 2-3 3-2 3-1 3-1 4 1 3 1 4 0 3 0 4-1 3-1 3-2M205 162l-3 1-3 2-3 1-3 2-4 1-3 1-3 1-3 2-3 2-2 3-3 2-2 3-1 4 1 3 1 3 1 4 1 3 2 3 2 3 3 2 3 1 4 1 3-1 3-2 3-1 3-2 3-2M179 129l-1 4 0 3 0 4 0 3-1 4 0 3-1 3-1 4 0 3-1 4-1 3-1 3-1 4-1 3-1 3-2 3-3 3-2 2-2 3-3 3-2 2-3 3-2 2-2 3-3 2-2 3M33 111l-3 2-3 2-2 3-1 3-2 3-1 4-2 3-2 3-2 2-3 3-2 2-3 3-1 3 1 3 1 4 3 2 2 2 3 3 3 1 3 2 3 2 3 2M65 138l3-2 3-1 3-2 3-2 3-2 2-3 2-2 2-3 2-3 2-4 1-3 1-3-1-4-1-3-2-3-3-2-3-2-2-2-2-3-1-4-1-3 1-3M226 174l-1 3 0 4 0 3-1 3-2 4-2 2-2 3-3 3-2 2-4 1-3 0-4 0-3 1-4 0-3 1-3 1-4 1-3 2-3 2-3 1-3 1M37 67l3-3 2-3 3-2 2-2 3-2 2-3 2-3 2-3 3-2 2-3 2-3 1-3 1-3 1-4 1-3 1-4 1-3 1-3 1-4 0-3 1-3M171 71l-1-4 0-3 0-4 0-3-1-4-1-3-2-3-3-1-3-2-3-2-3-2-2-3M211 56l1 4 1 3 2 3 2 2 3 3 1 3 1 3 0 4-1 3 0 4-1 3 0 4-1 3 0 4 0 3 1 4 2 3 1 3M-8 72l-3-3-2-3-1-3-1-3 0-4-1-3 1-4 1-3 1-3 2-3 2-3 3-1 4-1 3 0 4 1 3 1 3 1 4 0 3 0 4 0 3-1 4-1M125 4l-3 2-3 1-3 2-3 2-2 3-1 3 0 4-1 3 0 4M188 15l-2-3-3-2-3-1-4 0-3 2-2 2-2 3-1 4 0 3-1 4-1 3-3 2-3 2-3 2-3 1-3 1-4 1-3 1M219 53l-4-1-3 0-4 0-3 0-4 0-3-1-3-2-3-2-3-1-4-2-3-1-3-1M215 76l4-2 3-2 2-2 2-3 2-3 1-3 1-4 0-3 0-4 0-3 1-4 0-3 0-4-1-3-2-3 0-4 0-3 0-4 0-3 1-4 1-3M222 50l-2 3-2 2-3 2-4 1-3 0-4 0-3-2-3-2-2-2-3-2-3-2-3-2-3-2-3-2-2-3-2-3-1-3-3-2M108 33l3 2 3 1 4 0 3 1 4-1 3-1 3-1 4-2 3-1 3-1 3-1M170 78l-2 4-2 2-3 2-3 2-3 1-4 0-3 1-4 0-3 0-4 0-3-1-3-2-3-2-2-3-2-2-3-3-3-2-3-2-3-2-3-1-4 0-3 0-4 1-3 1-3 1-4 1M56 69l3-2 4-1 3-1 3-1 4-1 3 0 4 0 3-1 3-2 2-3 1-3 1-3 1-4 2-3 1-3 0-4 1-3 2-3 2-3 3-2 3-2M147 53l2-3 3-2 2-3 3-3 2-2 3-2 3-2 3-2 3-1 4-1 3-1 4 0 3 0 3 0 4-1M37 92l-1 3-1 3 0 4 1 3 1 4 1 3 1 3 0 4 0 3 0 4 1 3 1 4 0 3 1 4 1 3 2 3 2 3 2 2 3 2M143 76l1 4 1 3 2 3 2 3 2 3 2 2 3 3 3 2 3 1 3 2 3 2 3 0 4 1 3-1 4 0 3-1 3-1 3-2 3-2 3-2M76 2l-4 1-3 0-4 1-3-1-3-2-3-2-3-2-2-2-3-3M173 2l-1-3-2-3-3-2-3-2-3-1-4-1-3 0-3 1-4 2-2 2-3 2-3 3-3 1-2 2-3 2M62 97l-1 4 0 3-1 4-1 3-1 3-1 4-2 3-2 3-2 2-3 3-3 2-3 1-3 1-4 0M133 134l-2 3-1 3-1 3 0 4 1 3 2 3 3 2 2 2 3 2 3 2 3 2 3 1 4 2 3 1 3 2 3 1 3 1 4 1 3 1 3 2 4 1 3 1 3 1 3 2M216 54l-2 3-3 2-3 1-3 1-4 0-3-1-4-1-3 1-4 0-3 2-3 2-3 2-2 2-3 2-4 1-3 1-4-1M50 102l2-2 2-3 1-3 1-4 0-3-1-4-1-3-2-3-2-3-2-3-2-3-2-2-3-3-3-2-3-1-3-1-4-1-3 0-4 0-3 0-3 1-4 0-3 1-4-1-3-1-3-2-3-2M173 132l2-3 3-3 2-2 3-2 3-2 3-2 3-2 3-2 2-3 0-3-1-4-1-3-1-3M160 109l0 4-2 2-3 3-4 1-3 0-3-1-3-3-3-2-2-2-2-3-2-3-2-3 0-4-1-3 0-4 0-3 1-4 1-3M110 76l1 3 0 4 0 3 1 4-1 3-1 4-1 3-2 3-1 3-2 3-1 3-2 4-1 3 0 3M76 113l-2 2-3 3-3 1-3 2-3 1-4 1-3 1-4 0-3-1-3-1-3-2-3-2-3-2-3-2-2-3-2-3-2-3-2-3-2-2-3-2-3-1-4 0-3 0-4 0-3 1-4 1-3 1-3 1M223 126l3 1 3 2 2 3 2 3 2 2 3 3 2 2 4 1 3 0M0 64l3-1 4-1 3 1 4 0 3 0 4 0 3-1 4 0 3 1 4 1 3 0 4 0 3-2 3-1 3-1 4-1 3-1 4-1 3 0 4 0 3 0 4 0 3-1 3 0 3-2 3-3M241-1l3-1 4-1 3-1 3-1 3-2 4-1 3-2 3-2 3-2 3-1 3-2 3-2 3-1 3-1 4 0 3 1 4 0 3 1 4 0 3 0 4 0M31 30l4 0 3 1 4 0 3 2 3 2 2 2 2 3 2 3 2 3 2 3 1 3 2 3 1 3 1 4M20 86l4 1 3 0 4 0 3 1 3 1 4 1 3 1 4 0 3 0 4 1 3 0 4 0 3 1 3 1 4 1 3 2 3 2 3 2 2 2 2 3 3 2 3 1 4 1 3 0 4 0 3-1 4 0"/><path stroke="#717171" stroke-width="1.1" d="M-8 109l3 1 3 2 4 0 3 0 4-1 3-2 2-2 1-4-1-3-1-3-3-3-3-2-3-2-3-1-3 0-4-1-3-1-4 0-3 1-3 2-3 2-4 0-3 1-3 2-3 2-1 3M53 134l0-3 1-3 1-4 0-3 1-4 1-3 1-3 1-4 2-3 3-2 3-1 4 1 3 0 3 2 3 2 3 3 2 2 1 4 1 3 1 3 2 3 2 3 3 2 3 2 3 1 3 2M66 88l3 1 3 1 3 3 3 1 3 2 3 1 3 1 4 1 3 1 3 1 3 3 2 3 1 3 2 3 2 3 1 3 3 3 2 2 3 1 4 1 3 1 4 1 3 1 4 0 3 0M148 30l-3-2-3 0-4-1-3 0-4 0-3-1-4-1-3-1-3-2-3-1-3-2-3-1M251-5l0-4 1-3 1-3-1-4-2-3-2-3-2-2-3-2-3-2-3-2-3-2-3-2-1-3-1-3-1-4 1-3 2-3 2-3 2-3 2-3 3-2 2-3 3-2 2-3 3-2M66 148l4 2 3 1 3 0 4 0 3 0 4 0 3 0 4 0 3-1 4 0 3 1 4 1 3 1M8 28l-1-3-2-3-1-3-2-3-1-3-1-4-2-3 0-3 0-4 1-3 1-4 2-2 3-3 3-1 3-1 4 0 3 0 4 1 3 1 4 1 3 0 4 1 3 0 4-1 3-1 3-2 3-2 3-2M198 31l-2-2-3-3-2-2-3-3-3-2-3-1-4 0-3 1-3 2-2 3-2 3M-9 61l-2-3-2-3-2-3-2-3-1-3-2-3-3-2-2-2-3-2-3-2-3-2-3-1-4-1-3-1-4 1-3 1-3 2-2 2-3 3-2 2-3 3-1 3-1 3M172 118l1-3 1-4 2-3 2-2 3-3 3-1 3 0 4 0 2 2 3 3 1 3 2 3 0 4 0 3 0 4-1 3-2 3-2 3M29 11l3-1 3-1 4-1 3 0 3-1 4-2 2-2 3-1 3-2 4-2 3 0 4 0 3 0 4 0 3 0 3-1 4-2 2-2 2-3 1-3-1-4-2-2-3-3-3-1-3-2M54 88l3 2 3 1 4 2 2 2 3 3 2 2 1 4 1 3 1 3 0 4 0 3-1 4 0 3 0 4 0 3 0 4M32 141l-4-1-3 0-3-1-4-1-3-2-3-1-4-1-3 0-4-1M112 36l0-4 1-3 0-4 1-3 2-3 1-3 1-4 1-3 0-4 0-3 1-4 0-3 1-4 0-3M89 119l1 3 1 4 2 3 0 4 0 3 0 4 1 3 0 3 0 4 0 3 0 4-1 3 0 4 0 3 1 4 2 3 2 3M71 112l-1-3-1-3-3-3-3-1-4 1-3 0-3 2-3 1-4 2-2 2-3 2-3 2-4 0-3 1-4 0-3 0-4 1M229 26l3 1 3 0 4-1 3-1 4 0 3-1 4 1 3 1 3 1 3 3 2 3 1 3 1 3 0 4-1 3-1 4-2 3-2 2-3 2-4 2-3 0-3 1-4 0-3 2-3 1-4 0-3 0M-8 14l3 2 4 0 3-1 3-2 3-2 2-3 2-3 2-3 2-3 2-2 3-2 3-1 4-1M159 18l2-3 1-3 3-3 2-2 4-1 3-2 3-1 4 1 3 0 3 1M241 89l0-3 1-3 1-4 1-3 2-3 1-4 2-2 3-2 2-3 3-2 3-1 4 0 3 0 4 1 3 0 4-1 3-1 3-1 4-1 3-2 3-1 4-1 3-1 3-1 4 0M201 105l1 4 2 2 2 3 2 3 2 3 3 3 2 2 0 4-2 3-3 2-3 1-4-1-3-2-2-2-1-4-1-3M127 90l-4 0-3 1-3 1-3 2-3 3-2 2-2 3-2 3-1 4M196 134l0 3 0 4-1 3-1 3-2 3-1 4-2 3-1 3-1 3 0 4 0 3 1 4 2 2 3 2 4 1 3 2 3 2M156 6l-2-3-2-2-2-3-2-3-1-4-1-3 0-4-1-3-1-3 1-4 1-3 3-2 3-2 3-2 3-1 3-2 4-1 3-2 3-2 3-2 2-2 3-1M161 111l0-4 0-3 2-4 2-3 1-2 3-3 3-2 3-1 4-1 3 1 4 0 3 1 4 0 3 0 4 0 3-1 3 0 4-1 3-1 4-1 3-1 3-2 3-1 3-2 4 0 3 1M150 90l-2-3-1-3 0-4 0-3 0-4 0-3 0-4-1-3-1-3-2-3-2-3-2-3-2-3-1-3-2-3-1-4 0-3M107 159l-2-3-2-2-2-3-1-4 0-3 0-4 1-3 1-3 1-4 2-3 0-3 1-4 0-3 0-4M31 20l1 3 2 3 2 3 3 3 3 1 3-1 4-1 2-3 1-3 0-3-1-4-1-3 0-4 1-3 1-4 1-3 1-3 2-3 2-3 2-3 2-2 3-3 2-3 2-3M2 119l-2 3-2 3-2 2-3 2-3 1-4 1-3 2-3 1-3 1-4 2-2 2-3 2-2 3-2 3-3 2-3 2-3 1-4 0-3 1M36 136l3-2 3-2 4-1 3-2 3-1 3-2 3-2 3-1 4 0 3 1 3 2 2 2 2 3 0 4 1 3 1 3 1 4 2 3 1 3 1 4 1 3 0 4-1 3 0 3M106 107l1-4 1-3 0-4-1-3 0-4-1-3-1-3-2-4-1-3-1-3-2-3-2-3-2-3-2-3-2-2-2-3-2-3-2-3-3-2-3-2-3-1-4-1M226 11l-4-1-3 1-4 1-3 1-3 2-3 1-3 2-3 2-1 3 1 4 2 3 2 3 2 2 3 2 3 2 3 1 4 1 3 1 3 1 4 2M63 105l4 1 3 1 3 2 3 1 3 2 2 3 3 2 3 2 2 2 3 3 2 3 2 2 3 3 2 2 3 2 3 3 3 2M20 75l4 2 3 1 3 2 3 1 3 1 4 1 3-1 4-1 2-3 3-2 2-3 2-2 2-3 3-3 2-2 2-3M236 69l3 0 3-1 4-1 3 0 4 0 3 0 3 2 2 3M135 172l-1 3-2 3-1 3-2 3-2 3-2 2-3 2-3 2-2 3-3 3-2 2-3 2-3 2-3 2-2 3M178 39l3-1 3-1 4-2 2-2 3-2 2-3 1-3 1-4-1-3M144 60l3 1 3 2 3 2 3 3 2 2 3 3 2 2 2 3 2 3 3 2 4 0 3-1 4-1 3-2 2-2 3-2 4-1 3 0 4-1 3-1 3-1 4 0 3-1 4-1 3-1M0 174l3-1 4-1 3-1 4 0 3 1 4 0 3 1 3 0 4 1 3 0 4 0 3 0 4-1 3 0 4 1 3 0M194 56l-3-1-3-1-3-1-4 0-3-1-4-1-3-1-3-2-2-3-1-3 0-4 1-3 2-3 3-2 3-2 3 0 4 0 3 1 4 0M171 36l3 2 2 3 3 2 3 1 4 1 3 1 4-1 3 0 3-2 2-3 3-3 1-3 2-3 1-3 1-3 1-4 1-3 1-3M134 115l2-3 2-3 2-3 2-3 2-3 2-3 2-3 2-3 2-3 2-2 2-3M16 94l1 3 1 3 2 3 3 3 3 2 3 0 3-1 3-2M246 171l-3-3-2-2-2-3-3-2-3-2-3-2-3-1-4 0M184 54l-2 3-1 3-1 4 0 3 0 4 1 3 2 3 2 3 2 3 1 3 0 4 0 3M16 129l3-1 2-2 2-3 3-3 2-3 2-2 2-3 2-3 1-3 1-4 0-3 2-4 1-3 2-3M-1 119l-3-1-4-1-3-1-3-2-2-3-3-2-2-2-3-3-2-3-1-3 0-4 1-3M10 111l-2-3-2-3-3-2-2-3-2-2-3-3-2-3-1-3-1-3-1-4 0-3-1-4-2-3-2-3M71 79l3-1 4-2 3-1 3-1 4-1 3-1 3 0 4 1 3 1 3 2 3 2 3 2 3 1 4 1 3 1 3 1 4 1 3 2 3 1 2 3M139 1l2-3 2-2 3-3 2-2 2-3 2-3 2-3 2-2M80 144l3 2 3 2 3 2 3 2 2 2 3 3 2 2 3 2 3 3 3 1 3 2 3 1 4 0 3 1 3 1 4 1 3 1 3 1 4 1 3 0 4 1M117 111l2-3 1-3 1-4 0-3-1-3-2-3-3-2-3-2-4 0-3-1-3-1-4-1-3 0-4 0-3-1-3-2-2-3-1-4 0-3 0-4M157-6l-3 0-4 0-3-1-3-1-4-2-2-2-2-3-2-3M-8 48l-2 3-2 3-2 3-3 1-3 2-3 1-4 2-2 2-3 2-2 3-2 3-1 3 0 4 0 3 2 4 2 2 1 3 2 3 2 3 2 3 2 3 1 4M126 1l-2-3-3-2-3-1-4-2-3-2-2-2-3-2-2-3-2-3 0-4 1-3 2-3 3-2 2-3 2-2 3-3 2-3M113 158l-2-2-3-2-3-2-4-2-3-1-3-2-3 0-4 0-3 0-4 2-3 1-2 3-2 3-1 3 0 4 0 3 1 4M170 43l-2 3-2 3-1 3 0 4 1 3 2 3 1 4 0 3-1 3 0 4-1 3-1 4-1 3-1 3-1 4 1 3 1 3M150 43l3 1 3 0 4-1 3 0 4-1 3-2 3-2 2-2 3-3 2-2 2-3 2-3 2-3 2-2 3-3 3-2 3-2 3-1 3-1 4 1 3 2 2 2 3 3 1 3 0 4-1 3-1 3M49 68l-3 1-4 0-3 0-4 0-3 0-3-1-4-1-2-2-3-3-3-2-3-1-3-1-4-1-3-1-3-1-4-2-3-1-3-1-4 0-3-1-3-2-3-2-3-2-3-2-3-2M248 113l1-3 2-3 2-3 3-2 2-2 3-3 2-2 3-2 4 0 3-1 4-1 3-1 3-3 2-2 3-2M214 41l-2-3-1-3 0-4 0-3-1-3 0-4 0-3-1-4 1-3 0-4 1-3 0-4 0-3M-14 144l-3-2-3 0-4-1-3-2-3-1-3-2-3-3-2-2-1-4-1-3 0-4-1-3 0-4 1-3 0-3 1-4M192 84l-4-1-3-2-2-3-1-3 0-3 1-4 2-2 3-2 3-3 3-2 2-2 3-2 3-2 3-2 3-1 4-1 3-1 4-1 3-1 3-1 3-2 4-1 3 1 3 0 4 2 3 0M25-7l-3 2-3 2-3 2-3 2-3 1-3 2-4 0-3 1-4 0-3 0-4 1-3 1-4 0-3 1-4 0-3 0-3 0-4 2-3 1-3 2-3 1-3 2-3 2-3 2-3 2-2 3 0 3 0 4M111 158l0 4 0 3-1 4-1 3 0 4 0 3 1 3 1 4 1 3 1 3 2 4 2 2 3 2 3 1 4 1 3 0 4 1 3 1 4 0 3 1M180 156l-2 3-2 3-2 3-2 3-3 2-2 3-2 3-3 2-2 2-3 3-3 2M64 137l-2 3-3 2-3 1-3-1-4 0-3 0-4 0-3 1-4 1-3 1-3 1-3 3-2 3-1 3 1 3 2 3 2 3 3 2 4 1 3 2 3 0 4 0 3-2 3-2 2-2 3-2 3-2M68-7l-2-4-1-3 0-3 1-4 1-3 2-3 3-3 2-2 2-3 2-3 2-3 1-3 0-4-1-3-2-3-3-2-3-2-3-1-3-1-4-1-3-2-3-1-2-3-2-3M168 136l3 1 4 1 3 1 3 1 3 2 3 2 3 3 2 2 3 2 2 3 3 2 3 2 3 2 3 1 3 2 3 1M208 1l2 2 3 3 2 2 4 2 3 1 3 1 3 3 1 3 1 3 0 4-2 3-1 3-3 3-2 1-4 2-3 0-4 0-3-1-3-1-3-2-3-2M237-12l1 4 1 3 1 3 1 4 0 3 1 4 0 3 0 4 0 3-1 3-3 3M152-8l-3 2-2 2-3 3-1 3 0 3 0 4 0 3 1 4 2 3 2 3 2 2 3 3 1 3 2 3 1 3 2 3M157-12l-3 1-3 2-4 1-3-1-4-1-3-2-2-2-2-3-2-3-1-4-1-3-1-3-1-3-2-3-2-3-2-3-2-3-1-4-1-3-2-3M6-3l-3 2-2 2-3 3-1 3 0 4 0 3 1 3 2 4 2 2 3 2 3 2 3 2 3 2 2 3 2 2 3 3 2 3 1 3 1 3 0 4-1 3-1 4-1 3-3 2M165 36l4-2 3 0 3 0 4 1 3 1 3 1 4 1 3 0 4 0 3 1 4 0 3 0 4-1M12 20l-2-3-1-3-1-3-1-4-1-3-1-4-1-3 0-3 0-4 1-3 0-4-1-3-1-4-1-3M173 38l3-2 4-1 3-1 4 1 3 1 3 1 3 1 3 2 3 2 3 2 1 4 1 3 0 4 0 3-1 4-1 3-1 3-2 3-3 2-4 1-3 0-3-1M116-12l-3 2-3 1-4 0-3 1-4 0-3-1-3-1-4-1-3 0-4-1-3 0-4 0-3 0-4 0-3 1M150 101l-3 1-3 1-4 2-3 1-3 2-3 2-3 1-4 1-3 0-4 0-3-1-3-2-3-2-2-3-3-2-3-1-4-1-3 0-3 0-4 1-3 1-4 0-3 1-4 0-3 1M27 84l-3 2-3 1-2 2-3 3-3 2-2 3-1 3-2 3-2 3-2 3-2 3-1 3-1 3-2 4M27 74l-4 1-3 1-3 1-3 1-3 2-3 2-3 2-3 2M224 166l0-3 1-4 1-3 0-4 0-3 0-4 1-3 2-3 1-3 1-4 1-3 1-4 0-3M179 28l-1-3-2-3-2-3-3-2-2-3-3-2-3-2-2-2-3-2-3-2M8 152l0 4-1 3-1 4-1 3-1 3-1 4-1 3-1 3-1 4-3 2-1 3M9 86l0 3-1 4-1 3 0 4 0 3-1 4 0 3 0 4 0 3-1 3-2 3-2 3-4 1-3 1-3 2M47 21l-3 2-3 2-3 2-2 3-2 3-1 3-1 3-1 4-2 3-1 3M96 154l2 3 1 4 1 3 0 4 0 3 1 3 2 3 2 3 3 3 2 2 3 2 4 1 3 2 3 1 3 2 3 1 4 1 3 0 4 0M42-8l-2-2-3-3-3-2-3-1-3-1-4 1-3 1-4 0-3 2-2 2-3 2-2 3-1 4-1 3-2 3-2 3-2 2"/><path stroke="#838383" stroke-width="0.8" d="M22 146l0-3-1-4-1-3-2-3-3-2-3-2-3-2-3-1-4-1-3-1-3 0-4 0-3 0M202 64l4 1 3 1 4 0 3 0 3-1 3-2 2-2 2-4 1-3 0-3-1-4-2-3-2-3-2-3-2-2-2-3-2-3-3-2-2-2M198 21l-1 3-2 3-2 3-2 3-1 3-2 3-2 3-2 3-2 2-3 3-2 3M235 121l4-1 3-1 3-1 4-1 3-1 3-1 4-1 3-1 3-2 3-2 2-3 1-3-2-3-2-3-1-3-1-4 0-3 1-3 2-3 2-3 2-3 3-2M176 126l0-3 1-3 2-3 4-1 3 1 2 2 2 3 1 3 1 4 0 3 1 4 1 3 1 4 0 3-1 3 0 4-1 3-1 4-1 3-1 4-1 3 0 3-1 4M145 50l-3 1-4 0-3 1-4 0-3 0-4-1-3 1-3 1-3 3M76 100l2 4 2 2 2 3 2 3 3 2 2 2 3 2 4 1 3 1 4 0 3-1 4 0 3 0 4 1 3 1 3 2 2 3 3 2 3 2 3 1 3 2 3 1 3 3 3 2 2 2 2 3M94 114l-3-2-3-1-4-1-3 0-4 1-3 1-3 1-4 1-3 1-4 0-3 1-3 0-4 1-3 0-4 0-3 1-4 1-3 1-3 1M154 166l-3 2-3 1-4 1-3-1-4-1-3 0-3 1-4 0-3 2-3 2-1 3-1 4 0 3M125 19l4-2 3-1 3-2 2-2 3-3 3-2 2-3 2-3 1-3-1-3-1-3-3-2M136 138l-3-2-3-2-2-3-1-3-1-4 0-3-1-3-1-4-1-3 0-4 0-3-1-3-2-3M211 115l3 2 3 1 4-1 3-1 3-2 2-3 2-3 1-3 1-3 0-4 0-3-1-4M103 110l-3-2-3-1-3 0-4 1-2 3-1 3-2 3-1 4 0 3 1 4 1 3M74 4l-3 2-3 2-3 1-3 2-3 2-3 2-3 1-3 1-4 1-3 1-3 2-3 2-3 2-3 1-4 2-3 1-3 0-4 0-3-1-4-1-3 0-3-2-4-1-3-1-3-2M195 147l0 4 0 3-1 4 1 3 1 4 1 3 0 3 1 4 0 3 0 4 2 3 1 3 1 4M12 47l-3-2-3-2-3 0-4 0-3 0-4 0-3 0-4-1-3-1-3-1-4 0-3 0-4 0-3-1-4 0-3 0-4 0-3 1-4 0-3-1-3-1-4-1M64 1l-3 1-4 1-3 1-3 1-3 2-3 2-1 4-1 3-1 3-2 4-2 2-2 3-3 1-4 2-3 0-3 1M218 70l3 0 4 0 3-1 4 0 3 1 4 1 3 2 3 2 3 1 3 1 4 1 3 0 4 1 3 0 4 0 3 0 4-1 3 0 4 1 3 0 3 1 4 0 3 1 4 1M245 35l3-2 2-3 2-3 1-3-1-4-2-3-2-2-3-2-2-3 0-4 0-3 2-3 3-2 3-1 3 0 4 1 3 1M148 7l1 4 1 3 0 3 1 4 0 3 1 4-1 3 0 4 2 3 1 3 1 4 2 3 2 2 3 2 3 2 3 1 4 2 3 1 3 2 3 2 2 2 3 2M221 21l0 4 0 3 0 4 0 3 0 4 1 3 1 3 0 4 1 3-1 4-1 3-2 3-2 3-2 3M175 148l1-4 1-3 0-3 0-4-1-3-1-4-2-2-3-3-2-2-3-3-1-3-1-3-1-4M104 73l-2-3-2-3-2-3-1-3 0-4 1-3 1-4 1-3 2-3 2-2 3-2 4-1 3-1 4-1 3 0 4 0 3 0 4 0 3 1 3 0 4 1 3 1 4 1M172 33l3-1 4-2 3-1 4 0 3 0 3 0 4-1 3-2 3-2 2-3 1-3 2-3 3-2M224 120l2-3 2-3 1-3 1-3 1-4 1-3 0-3-1-4-1-3-1-4-1-3-1-3 0-4M140 169l3-1 4-1 3-1 3-2 2-2 2-3 1-3 0-4-2-3-3-2-2-3-3-2-3-2-2-3-2-2-2-4-1-3 0-3-1-4 1-3 1-4 1-3 1-3 1-3 2-4 1-3M136 25l1-3 1-3-1-4-1-3-3-2-3-1-4-1-3-1-3 0-4-1-3 0-4-1-3-1-3-2-3-2-3-2-3-1-3-2-3-2-3-2M29 113l1-4 1-3 2-3 1-3 1-4 2-3 1-3 1-3 2-3 3-2 4-1 3 0 4 0 3 1 3 2 2 3 2 3 0 3-1 4-2 2M75 138l1-3 2-3 3-2 3-1 4 0 3 0 4 0 3 0 4-1 3-2 3-2 2-2 3-3M88 89l0 3 1 4 1 3 2 3 2 3 3 2 2 2 3 3 2 2 3 2 4 1 3 1 3 1 4 0 3-1 4-1 3-1 4 0 3 0M85 149l-3-1-4-1-3-2-3 0-4-1-3-1-4 0-3 1-4-1-3 0-4-1M183 64l-3-1-3-2-4-2-3-1-3-1-3-1-4-1-3-2-3-1-4-1-3 1-3 2-2 3-2 3-2 3 0 3 0 4 1 3 2 3 3 2M129 62l-1 3-2 3-2 3-2 3-3 2-3 3-2 2-3 2-3 2-4 0-3-1M81 118l-2-2-3-3-3-2-3 0-4 1-3 2-2 2-1 4 0 3 2 3 2 3 3 2 3 0 4-1 2-2 2-3 2-3 3-2 3-2 3-2 3-2 2-2 3-3 3-2 2-2M87 24l-2-3 0-3 0-4 1-3 3-2 3-2 3-1 4 0 3 0M129 157l-3-3-2-2-3-3-1-3-2-3-3-2-3-2-3-2-3-1-4 0-3 0-4 1-3 1-3 1-3 2-3 2-4 1-3 0-4 0-3-1-3-1M60 132l3 2 3 1 4-1 3 0 4 0 3 2 2 2 2 3 2 3 1 4 2 3M154 73l0 3 0 4 1 3 1 4 0 3-1 3-2 3-3 2-3 1-4 0-3-1-4 0-3 0-4-1-3 0-4 0-3-1-4-1-3-1-3-1-3-2-2-3 1-3 3-3M188 44l4 0 3 2 2 2 2 3 1 4 1 3 0 4 1 3 1 4 0 3M33 22l4 2 3 1 3 2 3 1 3 1 4 0 3 0 4 1 3 1 2 3 2 3 1 4 1 3 2 3 3 2 3 2 3 1 4 0 3 1 3-1 4-2 2-2M200 26l4 0 3 0 4 1 3 0 4 1 3 0 4-1 3-2 2-3 3-2M235 0l0-3-1-4 0-3 1-4 2-3 2-3 2-2 3-2 2-3 3-1 4-2 3 1 3 2 2 3 2 3 2 2 3 3 2 2 3 2 3 2 3 1 4-1 3-2 2-2M77 9l4 0 3 0 3-1 4-2 3-2 3-1 3-1 3 0 4 1 3 1 3 2 3 2 2 3 2 3 2 3 1 3 2 3 2 3 3 2 3 1 3 2 3 2 3 1 4 0M177 56l3 1 4-1 3-1 2-3 3-2 3-2 3-2 2-3 3-2 2-3 2-2 3-3 2-3 3-2 2-2 4-1 3-2 3-1M246 70l-2-3-2-2-3-3-2-2-2-3-2-3-3-2-3-2-3-1-3-1-4-1-3-2-3 0-4-2-3-2-2-2-1-3-1-4 0-3 0-4M186 123l4 0 3-1 4 0 3 0 4 0 3 1 3 1 4 0 3 1 4 1 3 0 4 0 3-2M69 133l0-4 0-3-1-4 1-3 1-4 2-2 3-3 3-2 3-2 3-1 3-2 3 0 4-1 3-1 3-2 3-2 3-2 3-2 2-3 2-3 2-3 1-3 0-3-1-4M94 70l0-3-1-3 0-4 0-3 1-4 1-3 2-3 2-3 3-2 3-1 4-1 3 0 4 0 3-1 3-2 3-2M239 13l4 1 3 0 4 0 3-1 4 0 3 1 4 0 3 0 4 2 3 1 3 2 2 2 3 3 2 2 2 3 3 3 2 3 2 2 2 3 3 2 2 3 1 3 1 4M182-11l3 0 3 2 3 2 3 2 3 2 2 3 1 3 2 3 1 3 3 3 3 1 3 1 4 1 3 2 2 3 1 3 1 3 0 4 0 3-1 4-1 3-2 3M73 4l-4 0-3 0-4 1-3 0-4 0-3 0-4-1-3-1-3-2-3-1-4-1-3-1-4 0-3 0-4 0M204 10l3-2 3-2 3-2 3-1 3-2 3-2 3-2 3-2 2-2 2-4 0-3 0-3-1-4-1-3-1-3-2-3-3-3-3-1-3-1M110 28l1 3 0 3-1 4-3 2-3 0-3-2 0-4 1-3 2-3 4 0 3 0 3 2 3 2M226 136l-3-2-3-2-2-3-2-2-2-3-2-3-3-2-3-2-3-2-4-1-3-1-3-1-3-2-3-1-3-2-3-2-3-2-4 0-3-1-4-1M197 11l-3-3-3-1-3-1-4-1-3-1-3-1-4-1-3 0-4-1-3-2-2-3-1-3-2-3 0-4 0-3M87 146l1-3 1-3 1-4 1-3 0-3 0-4-2-3-3-2-3-1-3-1-3-1-4-2-3-2-3-1-3-1-4-1-3-1M40-4l-2-3-3-2-3-2-3-2-2-2-2-3-1-3-2-4-2-2-3-3-3-1-3-1-4 0-3-1M201 9l3-2 2-3 3-2 3-2 3-1 4-1 3 0 4-1 3 0 3 1 4 1 2 2 2 3 1 4 0 3-1 3-2 3-2 3-2 3-1 4 0 3 0 4 0 3 0 4M38 73l-2 3-2 2-3 2-3 2-3 3-2 2-4 1-3 2-3 2-2 2-1 4 0 3 0 4 1 3 1 3 1 4 1 3 0 4-1 3-2 3-2 3-2 3-3 2-3 2-2 2-3 2-3 3-2 2M137 0l2 3 3 2 2 3 3 2 2 3 1 3 2 3 1 4 0 3 1 4 0 3-1 4-1 3-1 3-1 4 0 3 0 4 1 3 0 3 0 4-1 3-2 3M26 164l-3 0-4-1-3-1-3-1-4-1-3 0-4 0-3 0-4 0-3 0-4 0-3-1-4-1-3-1-4 0-3 1-3 1-3 2-2 2-2 3-1 4-1 3M12 173l-2 3-1 3-2 3-3 3-2 2-3 2-3 1-4 1-3 0-4-1M205 111l-2-2-3-2-3-2-3-1-4-1-3-2-3-1-4-1-3 1-4 0-3 0-4 0-3 1-3 1-4 0-3 0-4 0-3-2-1-4 0-3 1-4 1-3 1-3 1-3 1-4 1-3 1-4M35 116l-2 3 0 4-1 3-1 4-1 3-1 3-1 3-2 4-1 3-1 3-2 3-2 3-3 2-3 2-3 1-3 2M204 5l-3-2-3-2-3-2-3-2-2-3-2-3-3-2-3-2-3-2-3-1M36 143l4 2 3 1 4-1 3 0 3 0 4-1 3 0 4 0 3 0 4 0 3-1 4 0 3 0 4 0 3 0 4 0 3 0 4 1 3 1 3 2 2 3 2 3 1 3 2 3 3 2 3 2 3 1 3 2M97 44l-4-1-3 0-4 0-3-1-4 0-3 1-3 2-3 2-2 3-2 3 0 3-1 4 0 3 0 4 1 3 2 3 3 1 4 1 3 0 4-1 3-1 3 0 4-1 3-1M235 169l3 0 4-1 3-1 4-1 3 0 3 1 3 2 2 3 2 4 0 3M219 83l3 2 2 3 3 2 2 3 1 3 1 4 1 3 1 3 0 4 0 3 0 4 1 3-1 4-1 3-1 4-2 3-2 2-2 3-3 3-2 2-3 2-4 0M236 20l2 3 2 2 3 3 3 2 3 1 3 1 3 1 4 0 3 1 4 0 3 0 4 1 3 1 3 2 4 0 3 0 4-1 3 0 4-1M67 11l-2 3-1 4-1 3-1 3-2 4-2 2-2 3-2 3 0 3 1 4 3 2 3 2 4 0 3 2 3 1 3 2M181 161l3 1 4 0 3 0 4-1 3-1 4 0 3-1 4 0 3 0 4-1 2-3 3-2 2-2 2-3 1-4 1-3 2-3 0-4 0-3 0-4-1-3-1-3-2-3-1-4M-10 126l-4 0-3 0-4 1-3 1-3 2-3 2-3 1-3 2-3 2-3 2-2 3-3 1-4 2-3 1-3 0-4 1-3 0-4 1-3 2-2 2-4 1-3-1-3-2-2-2M46 108l3 3 2 2 3 3 2 2 3 3 1 3 1 3 0 4-1 3-1 3-1 4M163 39l1-3 2-3 2-2 3-3 3-2 3-2 3-1 3-1 4-1 3-1 3-2 3-1 3-3 2-2 2-3 2-3 1-3 1-4 0-3 0-4 0-3 0-4M167 82l-2 3-1 3-2 3-1 3-1 4-1 3-2 3-2 3-2 2-3 3-3 1-4 1-3 1-4 0-3 0-4 0-3 1-3 1-4 1-3 1-4 0-3-2-3-1M226 131l3 2 3 2 3 2 2 3 2 3 1 3 0 4-1 3-1 3-1 4-1 3 0 3 1 4 1 3 0 4 0 3 0 4-2 3-2 3M36 19l-1 3-1 4 0 3 1 4 2 3 1 3 3 2 3 2 3 2 4 0 3-1 3-2 1-4 0-3-1-4-1-3-1-3-1-3-1-4M140 124l2-2 3-2 3-1 3-2 3-2 3-2 3-3 2-3 2-2 3-3 3-2 3-1 3-2M88 137l-1 3-2 3-1 3-1 4-2 3-1 3 0 4-1 3 1 4 1 3 2 3 3 2 2 3 3 2 2 3M50 159l0 3 1 4 1 3 1 4-1 3 0 4 0 3 0 4 0 3 1 3 0 4 0 3-1 4 0 3-1 4 0 3 0 4M7-1l-3-1-4 0-3-1-3-1-4-2-3-1-3 0-4 0-3 0-4 1-3 1-3 1-4 1M209 101l-3 1-4-1-3-2-2-2-3-3-2-2-3-2-3-3-2-2-3-2-4-1-3-1-3-2-3-1-3-1-3-2-3-2-3-2-3-2-3-2-3-2-3-1-4-1-3-1M181 106l1-3 1-3 2-4 2-3 2-2 2-3 3-1 4-1 3 1 3 2 2 3 2 3 1 3 0 4 0 3 0 4-1 3-1 4-1 3-2 3-1 3-1 4-1 3M1 144l2 2 3 2 4 1 3 0 4-1 3-1 3-3 2-2 2-3 1-3 1-4 0-3M22 107l2 3 1 3 1 3 0 4-1 3-1 3-1 4-1 3 1 4 1 3 3 2 3 1 3 1 4 2 3 1 2 2 3 3 1 4M77 154l3 0 4-1 3-1 3-2 4 0 3-1 4-1 3 0 3 0 4 2 2 2 2 3 1 4 1 3-1 3-3 3-3 2-2 2-3 2-3 2M34 23l-3 1-3 2-3 1-3 2-3 2-2 3-2 3 0 3 1 4 1 3 2 3 2 3 3 2 3 2M173 15l3 1 3 2 2 3 2 3 1 3 2 3 2 3 0 3 1 4 0 3 0 4 0 3-1 4-1 3-3 3-2 3-3 2-3 1-3 1-3 2-3 2M117 21l-3 1-3 1-3 2-3 1-3 2-3 2-2 3-3 2-3 1-4 1-3 0-4 1-3 1-4 1M106 8l4 1 3 1 4 1 3 0 3 2 2 3 2 3 1 3 2 4 1 3 2 3 1 3 1 3 1 4 0 3 1 4 2 3 1 3 1 3 2 3 2 3 1 4M209 92l-2-3-2-2-3-3-3-1-3 0-4 1-2 2-2 3-1 3 1 4 0 3 2 4 1 3 3 2 2 2 4 2 3 1 3 2 3 2M112 92l-3-1-4-2-3-1-3 0-4-1-3-1-4 0-3-1-4 0-3 1-3 2-2 3-1 3-2 3-2 3 0 4 1 3 2 3 1 3 2 4 1 3 1 3 1 4 0 3 1 3 2 4 2 2M46 101l3 1 3 0 3-1 2-3 1-4 1-3 1-3 2-4 1-3 2-3 0-3 0-4-1-3-1-4 0-3 0-4 0-3 0-3 1-4 0-3-1-4"/><path stroke="#838383" stroke-width="1.1" d="M62 6l1-3 2-3 1-3 1-3 2-3 2-3 2-3 2-3 1-3 1-4M121 165l-2-3-2-3-2-3-3-2-2-3-2-2-2-3-1-4 0-3-1-4-1-3-2-3-2-3-1-3-1-4-2-3M70 123l1-3 0-4 1-3 0-4-1-3-1-3-1-4-1-3-2-3-2-3-2-2-2-3-2-3-2-3-1-4-1-3-1-3-1-4 0-3 1-4M40-1l-3-2-3-2-3-2-2-2-3-2-2-3-3-2-4-1-3 1-3 2-3 2-2 3-2 3-1 3-1 3 0 4-1 3 0 4-1 3-2 3-3 2M40 127l0-3 1-4 1-3 1-3 1-4 0-3 1-4 0-3 0-4 1-3 0-4 1-3 1-4 1-3 1-3 3-3 2-2 3-2M232 146l-2 3-2 2-2 3-2 3-1 4 1 3 0 4 0 3-1 4-1 3 0 4-2 3-1 3-3 3-2 2-2 3-3 2M196 104l2-3 2-3 0-3 1-4 1-3 1-4 0-3 0-4-1-3-1-3M207 97l-3 0-4 1-2 2-2 3 0 4 1 3 2 4 2 2 4 1 3 0 4 1 3 0 4 0 3 1 4 0 3 0 3-1 4-1 2-3 2-3 1-3 1-4-1-3M116 162l-3-3-3-2-3-1-4 0-3 0-3 1-4 0-3 0-4 0-3 1-4 1-2 2-3 2-3 2-2 3-2 3-1 3-1 4-1 3 0 4M66 57l4-1 3-1 3-2 3-1 3-2 3-2 4-1 3-2 3-1 3-1 3-1 3-2 2-3 2-3 1-4 1-3 1-3 1-4 1-3 1-4 0-3 1-3 2-3 1-4 2-3 1-3 1-3 1-4M13 20l2 3 2 2 2 3 2 3 0 4 1 3 2 3 3 2 3 2 3 2M12 32l-3-2-2-2-3-3-3-2-3-2-3 0-4 0-3 1-3 2-3 2-1 4-1 3M209 28l3-1 4-1 3 0 4 0 3-1 3-1 3-2 3-2 2-3 2-3 3-2 3-1 3-1 4 0 3-1 4-1 3-1 3-2 2-3 3-2 2-3 3-2M172 35l2-2 3-3 1-3 1-3 1-4 3-2 3-2 3-1 4 0 3 0M92 124l1 3 2 3 2 3 2 3 1 3 1 3 1 4 1 3 2 3 2 3 4 1 3 0 3-2 3-2 2-3 2-3 1-3 0-4 0-3-1-4-1-3-2-3-1-4 0-3-1-4-1-3M216 74l-2-3-2-3-2-3-1-4-1-3 0-3 0-4-1-3 0-4-1-3 0-4 0-3 0-4 2-3 2-3 2-2 3-2M7 99l3-2 3-2 2-2 3-3 2-2 2-3 1-3 0-4 0-3-1-4-1-3-2-3-1-3M80 156l-1-4-2-3-2-2-3-3-3-1-3-1-3-1-4 0M187 98l-1-3-1-4 0-3 0-4 1-3 0-4 1-3 0-4-2-3-1-3-2-3-2-3-3-2-3-1-3-2-4 0-3 1-3 2-2 3-1 3-1 3 0 4 2 3M195 155l1 3 1 3 2 3 2 3 3 2 4 1 3 0 4 0 3 0 4 0 3-1 3-1 4 0 3-1 4 1 3 2 2 2 2 3 1 4-1 3-1 3M230 154l4 0 3-1 4-1 3-1 3-1 4 0 3-1 4-1 3-1 3-2 2-2 2-3 1-4 1-3 0-4-1-3-1-3-2-3-2-3-2-3-1-3-1-4-2-3-2-3-2-2-4 0-3 1M205-12l-4 1-3 2-3 1-3 1-4 1-3 0-4 1-3 1-3 2-3 2-2 2-3 3M47 135l-3 0-4 0-3 0-4 0-3 0-4-1-3-1-3-1-3-2-3-2-3-2-2-2-3-3-2-2-2-3-3-3-2-3-2-2-3-2-3-2-3-1-4-1-3 0-4 0-3 1-4 1-3-1-3-2M176 26l4-1 3-1 3-2 3-2 3-1 3-1 3-2 3-3 3-2 2-3 3-2 3-1 3-1 4 0 3 1 4 1 3 0 3-1 3-2 2-3 1-3-1-3-1-4-1-3M117 104l3 2 1 4 2 3 1 3 2 3 3 2 2 3 2 2 3 3 3 1M12 43l2-3 2-3 2-3 0-3-1-4-2-3-2-2-3-2-4-1-3 0-4 0-3 1-4 0-3 1-3 1-4 1-3 1-3 1-3 2-2 3M102 60l-4-1-3-1-3-1-4 0-3-1-3-1-3-2-3-2-3-2-3-1-4-2-3-1-3-2-3-1-4-1-3-1-3 0-4-1-3 0-4-1-3 0-4-1-3 0M156 41l1 3 2 3 1 3 2 3 3 3 1 3 2 3 2 3 3 1 4 0 3 1 4-1M63 14l-4-2-3-1-3-1-4-1-3 1-3 1-3 3-1 3-1 3-1 4-2 3-3 2-3 1-4 0-3 1-3 2-3 2-3 2-2 3-1 3M102 136l3-1 3-2 3-2 2-3 2-3 2-3 0-3 1-4-1-3-1-4M96 124l3 2 3 2 3 1 4 0 3-1 4 0 3-1 3-2 3-1 3-2 3-2 3-2 3-2 2-3 3-2 3-1 3-2 4-1 3 1 4 1 3 1 2 2M34 5l-3-2-3-2-3-1-4-1-3-1-3-1-4 0-3 0-4 1-3 1-3 2-3 1-3 2-3 1-3 3-1 3-1 4 0 3 0 4 0 3 0 4 1 3-1 4 0 3M237 60l-3 0-4-1-3-2-2-2-2-3-2-3-2-3-2-3 0-4 0-3M72 63l-4 1-3 0-4 0-3 0-4 0-3 0-4 1-3 0-4 1-3 2-3 1-3 1-4 0-3 1-4 0-3 1M177 19l4 2 2 2 3 2 3 2 2 3 2 3 2 3 2 3 1 3 2 3 2 3 1 3 3 2 3 2 3 1 4 1 3 0 4 0 3 1M169 65l3 1 4 0 3 1 4 0 3 1 4 1 3 2 2 2 2 3 2 3 1 3 1 4 1 3 1 3 2 3M154-12l-3 0-4 0-3-1-3-1-4-1-3-1-3-1-4 0-3-1-4-1-3 0-4-1-3-1-3-2-2-3-3-2-3-1-3-2M95 36l-1-3-1-4-1-3-1-3-1-4 0-3 0-4-1-3-1-4 0-3 1-4 1-3 2-3 2-3 2-2 3-2 3-2 3-2 3-2 3-1 4-1M172 10l4 0 3 1 3 1 3 2 4 1 3 2 3 1 3 1 3 1M87 74l3-2 3-2 2-2 4-2 3-1 2-3 3-2 2-2 3-3 3-1 4-1 3-1 3 1 4 0 3 0 4 1 3 1 4 1M8 93l0-3 0-3-2-4-1-3-1-3-2-3-2-3-2-3-2-3-2-3-1-3-1-3-1-4 0-3 0-4M15 106l-2-2-1-4-2-3-1-3-2-3-2-3-2-3-3-2-2-3-2-2M83 129l3 1 3 1 4 1 3 1 4 0 3 1 3 2 2 3 1 3M120 69l-1 3-1 4 1 3 0 4 1 3 1 3 0 4-2 3-2 3-2 3-2 2-4 2-3 0-4 0-3-1-3-1-3-2-2-3-3-2M74 130l2 3 2 3 3 2 4 1 3 0 4 1 3 0 4 0 3-1 4 0 3-1 3-1 3-2 3-1M124 163l3-1 3-2 2-3 4-1 3-2 3-1 3-1 3-2 3-1 3-2 3-2 3-2 2-3 3-2 2-3 1-4 1-3 0-3 0-4 1-3 1-4M122 32l3 1 2 3 2 3 1 3 0 4-1 3-1 4-1 3 0 3-2 4-2 2-3 2-2 3-3 2-1 3-2 3-2 3-1 3-3 3-2 2-4 2-3 1-3 2M25 107l1 3 1 3 2 3 1 3 2 4 1 3 0 3 0 4-1 3-3 3-3 1-3 0-4-2-2-2M206 132l-3 1-4 1-3 1-3 3-2 2-3 3-2 2-2 3-3 2-3 2-3 1-4-1-3 0-4-1-3-1-3-1-3-2-3-2-3-3-2-2-1-3M97 139l3 0 4-1 3-1 3-1 4-1 3-2 3-1 3-1 4-1 3-1 4 0 3 0 4-1 3-1 3-1 4-1 3-1 3-2 3-1 4-1 3 0 4-1 3 0 3-2 3-3 2-2 1-4M117 29l0 3 0 4 0 3 0 4 0 3-2 3-2 3-3 3-2 2-3 2-3 1-4 1-3 0-4 1-3 0-3 1-4 2-3 1-3 2-3 1-4 0-3 1-4 0M92 82l2 3 1 3 3 3 2 2 4 1 3 1 3 2 3 2 3 1 3 2 3 2 3 2 3 2 3 0 4 1 3 1 4 0 3 0 4 0M190 169l0-4 0-3 0-4-1-3-1-3 0-4 1-3 0-4 2-3 1-3 1-4 0-3 0-4 0-3-1-4 0-3 0-3 2-4 2-3 2-2 2-3 2-3M63 175l-1-4 0-3-1-4 0-3-1-4-1-3-1-3 0-4 0-3 0-4 2-3 2-3 2-2 2-3 1-4 0-3 0-3-2-3-1-4-2-3-2-3-2-3-2-2-2-3-3-2-3-2-3-2-2-2M198 63l1 4 1 3 1 3 1 4 2 2 3 2 3 2 3 2 3 1 3 2 4 1 3 2 3 2 2 2 2 3 1 4 0 3-1 4-1 3-1 3-2 3-2 3-3 2-3 1-4 0M197 90l1-3 0-4 0-3 1-4-1-3-1-3-2-4-1-3-2-3-2-3-1-3-1-4 0-3 0-4 1-3 2-3 2-3 3-2M86 85l-3-2-3-2-3-1-3-1-4-1-3 0-4 0-3 0-4 0-3 1-3 1M166-13l2-3 3-3 1-3 2-3 2-3 2-3 2-2 2-3 3-2 3-2 3 0 4 0 3 1 4 1 3 1 3 2M221 69l3 1 3 2 3 2 1 3 0 4-3 3-3 1-3 0-4-1-3-2-3-1-2-3-2-3-1-3-2-3-1-3-2-3-1-4M153 78l3-2 3-2 3-2 3-2 3-2 3-1 3-1 4-1 3-1 3 0 4 0 3 1 4 0 3 0 4 0 3 2 3 1 3 2 3 2 3 2 3 2 2 3 1 3 0 4-1 3M6 92l1 3 1 4 1 3 0 3 0 4 0 3 0 4-1 3-1 4 0 3 0 4 1 3 1 3 2 3 2 3 2 3 2 2 3 3 3 1 3 2 3 2 4 1 3 1 3 1 4-1 3 0M42 65l3-1 4-1 3 1 3 0 4 1 3 1 3 2 4 1 3 1 3 1 3 2 4 1 2 2 3 3 2 2 2 3 2 3 3 2 2 3 2 3 1 3 2 3 1 4M174 85l-1 4-2 3-2 3-3 2-2 2-3 2-2 3-2 3-1 3-1 3-2 4-2 3-2 2-2 3-2 3-3 2-3 2-2 3-1 3 0 4 1 3 0 4 1 3 1 4M195 147l-4 0-3-1-3-1-3-2-3-2-3-1-3-2-3-3-1-3-1-4M126-13l4-1 3-1 3-2 2-3 3-2 1-3 2-3 2-3 2-3 2-3 1-4 1-3 1-3M59 76l1-4 1-3 0-4-1-3 0-3-1-4-1-3-2-3-1-3-2-3-2-3-1-4-1-3-1-3-1-4-1-3-1-3-2-3-3-3-2-2-4-2-3-1-3 0-4 1-3 2-3 2M228 43l4-1 3 0 4 0 3-1 4-1 2-3 2-3 0-3 1-4 0-3 0-4-1-3 0-4 0-3 0-4-1-3 0-4-2-3-2-2-3-3-3-2-2-2-2-3-1-4 0-3-1-4 0-3M95 92l2-3 2-3 3-2 4 0 3 0 3 2 3 1 4 2 3 1 3 2 3 1 4 1 2 2 2 3"/><path stroke="#969696" stroke-width="0.8" d="M13 109l3 1 3 2 3 1 4 1 3 0 4 0 3 2 3 1M119 109l-3 1-3 1-4 1-3 1-3 3-2 2-3 2-2 3-2 3-1 3-1 3-1 4 0 3-1 4-1 3-1 3-2 3-1 4-1 3 0 3 0 4-1 3M104 161l4-1 3-1 4 0 3-1 4 0 3 2 2 3 2 3 1 3 2 3 2 3 1 3 1 4 0 3-1 3-1 4M-6 170l0 3 0 4-1 3-1 4-1 3-2 3 1 4 0 3 1 3 1 4 2 3 2 3 1 3M169 146l-2-3-2-3-4-1-3 0-4 0-3 1-4 0-3 0-3 1-4 1-3 1-3 3-2 2-2 3-2 3-2 3M208 126l4 0 3 2 3 1 3 2 2 3 2 3 1 3 1 3 1 4 2 3 1 3 2 3 3 2 3 2 3 2 3 2 3 2 2 2 3 2 3 3 1 3 2 3M174 64l3 2 3 2 3 1 3 2 3 1 3 1 4 1 3 0 4 0 3 0 4-1 3 0M193 9l-2-3-3-2-4 0-3 0-3 2-2 3-2 3-2 3-2 3-2 3-2 3-1 3 0 3 1 4 1 3 3 2M228 54l2 3 3 2 3 2 3 2 3 2 3 1 3 1 4 1 3 1 3 1 4 1 3 0 4 1 3 1 3 0 4 1 3 1 3 2 2 3 1 3M208 14l3 1 3 1 4 1 3 1 3 1 4 0 3 0 4 0 3 1 3 2 2 3 0 4 0 3-1 4M128 160l3-2 3-1 3-2 3-2 3-1 3-2 3-1 4-1 3-2 3-2 2-2 2-3 1-4 0-3 0-4 0-3-1-4-1-3-1-3-2-3-2-3-2-3-3-2M35 57l3-1 4-1 2-3 3-2 2-3 3-2 3-1 3-2 4 0 3 1 4 1 3 2 3 2 2 2 3 2 2 3 3 2 3 2 3 2 3 2 3 2 3 1 3 2 3 1 3 2 4 1M31 102l4-1 3-1 3-1 3-1 4-2 3-1 3-1 3-2 3-1 3-2 2-3 2-3 1-3 0-4 0-3 1-4 2-3 2-3 2-2 3-3M170 142l3-2 1-3 2-4 0-3 0-4 0-3-1-4 1-3 0-4 2-3 2-2M142 52l1-3 1-4 0-3-1-4-1-3-1-3 0-4-1-3 0-4 0-3 1-3 3-3 2-2M55 145l1-4 1-3 2-3 3-1 4-1 3 0 4 1 3-1 3-2 3-2 3-2 3-2 3-2 2-2 3-3 3-2 3-1 3-2 3 0M5 99l3 1 3 1 4 0 3 1 4 0 3 0 4 0 3 0 3 1 3 2 3 3 2 3 2 2 3 1 4 1 3 0 4 0 3-1 4 0 3-1 4 0 3 0 4 1 3 1 3 1 3 2 3 3 1 3M66 147l2 2 3 2 3 1 3 2 4 1 3 2 3 2 3 1 3 2 3 1 3 2 4 0 3 1 4 0 3 0 3-2M63 173l3 1 3 1 4 1 3 0 4-1 3-1 3-1 2-3 1-3 0-4 1-3 1-4 0-3M189 137l1-4-1-3-1-3-1-3-3-3-2-3-2-3-2-3-2-2-3-2-3-2-4-1M178 17l3-3 3-2 3-1 3-1 4-1 3 0 4 0 3 0 4-1 3-1 3-2 2-2 2-3 2-4 1-3 2-3 2-2 2-3 3-3 2-2 3-2 4-1 3-1 3-2 3-1 3-2M37 64l-4-1-3 1-4-1-3-1-4-1-3 0-3-1-3-2-3-2-3-2-3-2-3-2-2-3-3-2-3-2-2-2-3-3-2-2M133 42l3 1 3 1 4 0 3 1 4 1 3 1 3 1 4 0 3 0 4-1 3-1 4 0 3 0 4 0 3 0 3 2 3 2 1 3 2 3 2 3 3 3 2 2 4 1 3 0 4 0 3-1M98 34l0-4 0-3 1-3 2-3 2-3 2-3 2-3 3-2 2-3 3-2M221 75l-3 0-4 1-3 2-3 2-2 2-2 3-1 3 0 4 0 3 1 4M66 133l3-2 3-1 3-3 2-2 2-3 2-3 2-2 3-3 2-3 2-3 2-3 2-2 3-2 4-1 3 0 4 0M137 93l1 4 1 3 1 3 0 4-1 3-1 4 0 3-1 4 0 3-1 3M-13-11l-2 3-2 3-2 3-3 2-2 3-3 2-3 2-2 3-3 2-2 2-4 2-3 0-3 1-4 0-3-1-4 0-3-1-3-2-3-2-3-2-2-3 1-4 2-3 1-3 2-3M240 95l-3 2-3 1-3 2-3 3-2 2-1 4 0 3 1 4 0 3 1 4 0 3 0 4 0 3M90 114l4-2 3-1 2-3 2-2 2-3 2-4 0-3 1-3 1-4 1-3 1-3 1-4 1-3 1-4 0-3 0-4-1-3-1-3-1-4-1-3-1-4 0-3-1-3M56 71l4 0 3 1 4 0 3 1 3 1 4 1 2 2 2 3 2 3M109 27l3 0 4 1 3 0 3 2 2 3 1 4 2 3 1 3 2 3 2 3 1 3M4 148l-2-3-1-4-1-3-1-3-2-4-1-3-2-3-1-3M137-2l-1 4-2 3-2 2-3 2-3 2-3 2-3 2-2 3-1 3-2 3-1 4-1 3 0 3-1 4-1 3-1 4 0 3-1 4 0 3M167 5l1-3 3-3 2-3 2-2 3-2 4-1 3 1 3 2 1 3 1 3-1 4-2 3-2 3-3 1-4 1-3 0-4-1-3 0-4 0-3 0-3 0-4 1-3 0-4 1M82 148l-2 3-1 3-2 3-2 3-3 2-3 2-3 2-2 2-3 2-3 2-2 3-2 3-2 3-2 3 0 3 0 4 1 3 2 3 2 2M135 20l1-3 2-4 2-2 2-3 3-1 4-1 3 0 4-1 3 1 4 0 3-1 4 0 3-1 3-2 3-1 4-1 3-2 3-1 3-1 4 0 3 1 4 1 3 1 3 1 3 2M176 1l-1-4-2-3-2-3-2-2-3-2-3-2-3-1-4-1-3 1-4 1-3 1-3 0-4 1-3 0-4 1-3 0-4 1-3 1-3 2-3 2-3 2-2 2-3 3-2 2-3 3-2 3M95 34l0 3 0 3 1 4 2 3 2 2 3 3 2 2 3 3 2 2 2 3 3 3 2 2 4 1M197 5l1-3 0-4 0-3-1-4 0-3 0-4 2-3 2-2 3-3 3-1 2-3M120 30l-3-3-2-2-4-1-2-2-3-2-4-1-3-1-3-2-4 0-3-1-4-1-3-1-3-1-4-1M232 67l1-4 1-3 1-3 2-4 2-2 2-3 2-3 1-3 2-4 2-2 2-3 3-2M100 58l3 0 4 0 3 0 4-2 3-1 2-3 2-3 1-4 0-3 1-3 0-4 1-3 0-4 1-3 1-3 2-3 3-2 4-1 3 0 3 1 3 3 1 3-1 4M167 32l0-4 0-3 1-3 2-3 2-3 3-2 3-3 2-2 2-3 2-3 2-3M128 158l0 3 0 4-1 3-1 3-2 3-1 4-1 3 1 4 1 3 1 3 3 3 2 2 4 0 3-1 3-1 2-3 1-4 1-3 2-3 1-4-1-3-1-3-1-4M236 157l3 2 3 2 4 0 3-2 3-2 2-2 2-3 2-4 1-3 1-3 0-4 0-3-1-3-1-4-2-3-2-3-2-3-1-3-2-3-1-3 0-3 0-4 1-3 0-4 1-3M56 24l-3 1-4 1-3 1-4 0-3-1-3-1-3-2-3-2-3-2-2-2-3-3-2-3-2-3-1-3 0-4-1-3-2-3-1-3-1-4 0-3M78 57l2 3 1 3 1 4 0 3 0 4 0 3-1 4 1 3 1 3 0 4 0 3 0 4 2 3 2 3 2 2 4 1 3 1 3 1M180 16l-1 3 0 4 0 3 1 4 2 3 2 2 2 3 2 3 3 2 1 3 1 4 1 3 0 4 0 3-1 4-1 3-1 3-1 3 0 4M53 63l3-1 3-2 3-1 3-2 3-2 4-1 3-2 3-1 3-2 3-1 3-2 4-1 2-3 1-3 1-4 1-3M100 143l4-1 3 0 4-1 3 0 4 0 3 1 4-1 3 0 4-1M33 106l-4 1-3 0-4 0-3 1-4 1-3 0-3 1-4 2-2 2-3 2-2 3-3 2-3 1-3 2-3 3-2 3-1 3-2 3-2 3-1 3-3 2-3 2-3 1-4 1-3 0-3-2M57 90l0-3-1-4-1-3 0-3 0-4 1-3 1-4 3-2 2-3 2-2 3-3 2-2 3-2 3-1 4 0 3 0 4 0 3 0 4 0 3 1 4 2 3 1 3 1 3 2M179-14l0-3-1-4 0-3 1-4 1-3 1-3 1-3 2-3 1-4 1-3 1-3 2-4 2-2 3-1 4 0 3 1 4 1 3 2 3 2 3 1 3 0 4-1 3-2 2-3 1-3 0-4 0-3 0-4M209 149l-4-1-3-1-4-1-3 0-3-1-4-1-3-1-3-1-4-1-3-1-4 0-3 0-4-1M131 72l2-3 3-2 2-2 4-2 3-1 3-1 3-3 2-2 2-3 2-3 3-2 2-3 3-2M126 163l2-3 1-3 1-3 0-4 0-3-1-4-1-3 0-4 0-3 0-4 1-3 1-3 1-3 2-3 2-3 2-3 1-4M207 41l-1 4-2 3-2 3-2 2-2 3-3 2-3 2-3 2-3 2-3 1-4 1-3 1-4 0-3 0-4 0-3-1M124 95l2 2 2 3 1 4 2 2 2 3 1 4 0 3-1 4-2 3-3 2-3 0-4-1-2-2-3-2M234 124l4 0 3-2 4 0 3 0 4 0 3-1 4 0 3 1 4 0 3 0 4 1 3 0 4 1 3 0 3 1 4 1 3 2 2 3 2 3 1 3 1 3 1 4 1 3M146 115l2 2 2 3 2 3 0 4 1 3-1 4-2 2-3 2-3 2-4 1-3 0-4-1-3-2-3-1-3-1-4-1-3-1-3-1M191 105l1 3 2 3 2 3 1 4 1 3 0 4-1 3 0 3-1 4-2 3-1 3-2 3-2 3 0 4-1 3 1 4 0 3 1 3M42 163l-4 1-3 1-3 2-2 2-4 2-3 1-3 0-4 1-3 1-4 0-3 0-4 1-3 0-4-1-3 0-4 0-3 1-2 2-2 3-2 3-1 4M240 108l3-2 4 0 3-1 3-2 4 0 3 0 4 0 3 1 3 2 4 1 3 2 3 0 4 1 3 2 2 3 1 3 0 4 0 3-1 4-2 3M56 94l-3 1-4 1-3 1-3 1-4 0-3 1-4 0-3 1-3 2-3 2-2 3-3 2-2 3-3 2-2 2-4 2-3 1M169 126l0 4-1 3-1 4-1 3-1 3-1 4 0 3 0 4 0 3-1 4 0 3 0 4 1 3 0 4 1 3 2 3 3 2 3 2M67 118l-1 3-2 3-1 4-1 3 0 3 1 4 2 3 2 2 2 3M167 10l-3-1-4 0-3 1-3 1-3 2-3 2-3 2-4 1-3 1-3 1-4 1-3 1-3 3-2 2 0 4 0 3 1 4M77 77l2 3 1 3 2 4 1 3 2 3 3 2 3 2 2 3 2 2 3 3 3 1 3 2 3 1 4 1 3-1 4 0 3-2 3-2 2-3 2-2 3-3 2-2 2-3 3-3 3-2 2-2 3-1M45 88l-4 0-3 0-4-2-3-1-3 0-4 1-3 1-3 2-3 1-4 1-3 2-3 2-2 3 0 3M71 23l0 3 1 4 0 3 1 3 2 3 2 3 3 3 1 3 2 3 2 3 1 3 2 3 2 3 4 1 3 1 4 0 3 0 4 0 3 0 3 0 4 1M190 173l4 1 3 1 4-1 3-1 3-1 3-2 2-3 2-2 2-3 2-3 2-3 3-3 3-2 2-2 3-2 4 0M-2 7l4-1 3-1 2-3 1-4 0-3-1-3-1-4-1-3-1-4 0-3 0-4 1-3 2-3 1-3 2-3 1-4 0-3 0-3-1-4 0-3-2-4-1-3M144 160l1 3 1 4 1 3 3 2 2 3 3 2 3 1 3 1 4 1 3 1 3 2 3 1 3 3 2 3 0 3 0 4-1 3-2 3-2 2-4 2-3 1-3 0M11 51l-3-3-2-3-2-2-2-3-2-3-2-3 0-4 0-3 0-4 1-3 1-3M56 71l3 2 4 1 3 2 3 1 3 1 4 0 3 0 4-1 3-1 3-1 3-2 4-1 2-2 3-3 2-3 1-3 1-3 1-4 0-3 0-3-1-4-2-3-3-2-2-2-4-2-3-2M53 109l-1-4 0-3-1-4 0-3 1-3 1-4 1-3 1-3 2-4 2-2 2-3 2-3 2-3 3-2 3-2 2-2 3-3 2-3 1-3 2-3 0-3 1-4 0-3 0-4M222 150l-4 1-3 1-2 3-3 2-1 4 0 3 1 3 1 4 3 2 3 2M57 31l-4-1-3-1-3-1-4 1-3 1-3 2-2 2-3 3-2 3-2 3-1 3-2 3-1 3 0 4M102 1l3-2 2-3 2-3 3-2 2-3 3-2 3-1 3-2 3-2 3-2 2-3 3-1 3-2 4-1 3 0 4 1 3 1 2 3 3 2 1 3 0 4M90 123l3 2 3 2 3 2 2 3 3 2 2 2 3 2 4 1 3 1 3 1 4 0 3-2 3-1 3-2 3-2 2-3 3-2 3-2 3-2 3-1M238 61l0 4-1 3-1 3-2 3-2 3-4 1-3 0-3-2-4-1-3-2-2-2-3-3-2-2-2-3-4-2-2-2-2-2-3-3-2-3-2-2-2-3-2-4M125 37l3-2 3-2 4-1 3-1 3-1 3-2 3-2 2-3 3-2 2-3 3-2 3-2 3-1 3-2 3-1 4-2 3 0 3 1 3 2 3 2 3 2 3 2M6 27l-4 0-3 0-4 1-3 1-2 3-1 3-2 3-2 3-3 2-3 2-3 2-2 3-1 3 0 3 1 4 2 2M-8 155l0 4 0 3 0 4-1 3 0 4 0 3 1 4 0 3 0 4 0 3-1 4-1 3 0 3-2 4-1 3-1 3-2 3-2 3-1 3-2 4-1 3-1 3"/><path stroke="#969696" stroke-width="1.1" d="M94 51l2-3 2-2 3-3 1-3 0-4 0-3 0-4 1-3 1-3 1-4 1-3 0-4 1-3 1-3 1-4M50 173l-3 1-4 1-3 1-3 1-4 1-3 0-4 0-3-1-4-1-3-2M-14 70l-3 0-4 1-3 1-3 0-4 2-3 1-2 3-3 2-2 3-1 3-2 3-3 3-2 2-2 3M37 104l2 3 3 2 3 2 3 1 3 1 4 1 3 1 3 1 4 1 3 2 3 0 4 1 3 0 4-1 3-2 2-2 3-2 2-3 2-3 3-2 3-2 3-1 4 0 3 0 4 1 3 1 2 3 3 2M151 70l2 3 2 3 2 2 3 2 3 2 3 2 3 1 4 0 3 0 4 0M176 31l3 3 2 3 2 3 2 3 2 2 2 3 2 3 3 2 2 3 3 2 1 3 2 3 2 3 1 4 2 3 1 3 1 3M243 131l-3 1-3 0-4-1-3-2-2-2-2-3-1-3-1-4 0-3-1-4-1-3-1-4-1-3-1-3M178 123l1-4 0-3 1-3 2-3 2-3 2-3 2-3 3-2 4-1 3 1 3 1 4 0 3 2 3 1 4 1M116 83l-2-3-2-3-3-2-3-2-2-3-2-3-1-3-1-4 0-3 0-4 0-3 1-4 2-2 2-3 3-3 3-1 3 0 4 0 3 0 4 0 3 1 3 1 4 2 2 2 2 3 3 3 2 2M148 114l-1 3 0 4 0 3 2 3 2 3 3 1 4 2 3 1 3 0 4 0 3 1 4 0 3 2 3 2 1 3M137 169l1 4 1 3 1 3 1 4 1 3 1 3 1 4 0 3-1 4-1 3-2 3-3 2-3 2-3 0-4-1-3-1-4 0-3 0M142 165l-3-2-3-2-2-2-3-2-4-1-3-2-3-2-2-2-3-2-3-1-4 0-3 2-3 2-2 3-2 3-2 3-1 3-1 3M107 128l0 3 0 4 0 3-1 4-1 3-3 2-3 1-4 1-3 0-4-1-3-2-2-2-3-2-2-3-2-3-3-2-3-2-3-2-3-2-2-2-3-2-2-3-3-2-2-3M-6 106l2 3 1 3 3 3 2 2 3 2 4 1 3 0 4 0 3 1 4 1 3 1 2 3 2 3 1 3 2 3 1 4 1 3 1 3 2 3 1 3M21 64l-3 2-3 1-3 2-2 3-2 3-1 4 0 3 0 3 1 4 2 3 2 2 3 3 2 3 3 2M16-3l3 1 4 1 3 1 3 1 4 0 3-1 3-2 3-2 2-3 1-3 1-4 1-3 0-4 0-3 0-4 0-3 0-4M165 103l2-2 3-3 2-3 1-3 1-3-1-4-1-3-2-3 0-4-1-3 1-4 0-3 0-4-1-3 0-4 0-3 0-4 1-3 1-3 2-3 2-3 3-2M239 55l1-3 2-3 3-2 3-2 2-2 2-3 2-3 1-4 1-3 1-3 1-4 0-3 1-4 0-3 1-4M244 122l-3-2-2-2-1-4-1-3 1-4 1-3 2-3 2-3 1-3 3-2 3-2 4 0M121 158l1 4 1 3 2 3 2 3 3 2 3 2 3 2 2 2 3 2 4 1 3 1M10 150l-2 3-1 3-1 3-1 4-1 3-2 3-3 2-2 3-3 1M209 162l2 3 1 4 0 3 0 3-2 4 0 3-1 4 0 3 1 4 2 3 2 2 2 3M111 76l-1-3 1-4 0-3 1-3 1-4 3-3 1-3 2-3 2-2 3-3 3-2 3-1M92 128l4 1 3 1 4 1 3 0 3 1 4 0 3 0 4-1 3-2 3-1 2-3 3-2 2-3 1-3 2-3 2-3 1-3 2-3 2-3 2-3 2-3 2-3 2-3 3-2M18 56l2-3 1-3 1-3 1-4 1-3 1-3 3-3 3-1 4 1 3 1 3 2 2 2M99 125l0 3 0 4 0 3 0 4 0 3 1 4 1 3 1 3 2 3 3 2 3 1M219 127l0-3-1-3 0-4-1-3 0-4-1-3-1-4-2-3-2-3-1-3-2-3-1-3-1-3 0-4 0-3 0-4 1-3 2-3 2-3 3-2 3-2 3-2 2-3 3-2 2-2 3-3 2-3 2-2M123 86l-1 4 0 3 1 3 2 3 2 3 3 1 3 2 4 1 3 1 3 1 4 1 3 0 4 1M10 79l-3 3-3 2-3 2-3 2-3 2-2 2-1 3-1 4 0 3 0 4 1 3 2 3 2 3 3 2M193 19l1 3 1 4-1 3-1 4-1 3-2 3-2 3-2 2-2 3-2 3-2 3-2 3-3 2-2 3-3 1-4 2M168 151l-2 3-2 3-1 3-1 3 0 4 0 3 0 4 1 3 1 3 2 3M180 65l-1-3-1-4-1-3-2-3-2-2-3-2-3-2-3-1-3-1-4 0-3 1-3 2-4 1-3 1-3 0-4-1-3-1-3-2-2-3-1-4-1-3-1-3 0-4-1-3-1-4-1-3M63 131l0 3 0 3-1 4-1 3-3 3-3 1-3 0-3-1-3-2-2-3-3-3-2-2-2-3-3-2-3-2-2-2-2-3-1-3-1-4-1-3-2-3-1-4-1-3 0-4 1-3 2-3M183 40l0-4 0-3-1-3-2-3-2-3-2-3-2-3-1-3 0-4 0-3 1-4 0-3-1-4-1-3M43 156l-3 2-3 2-2 3-3 2-3 2-3 1-3 2-4 1-3 1-3 2-3 2-3 2-2 3-2 3-3 1-3 2-4 1-3 1-3 1-4-1-3 0-4-1-3-1M32 159l-3 2-3 2-2 3-2 3-2 3-1 3-1 3-1 4 0 3M226 106l4 1 3 1 4 1 3 1 3 1 4 0 3 1 4 1 3 0 3-2 3-2 2-3 1-3 1-4 0-3-1-3 0-4M20 60l-2 3-1 3-2 3-2 3-2 3-1 3 0 4 0 3 0 4 1 3 1 3 1 3 3 3 2 2 4 1 3 1 4-1 3 0 3-1 4-1M100 30l-1 4-1 3-2 3-2 3-2 3-1 3-2 3-2 3M125 28l2-2 3-2 3-2 3-2 4 0 3 0 4 0 3 0 4 0 3 0 3-2 2-3 2-3 0-3M249 71l-1 3-1 3-2 3-2 3-1 3-2 4-1 3-2 3-1 3-1 4 0 3-1 4 0 3 0 4 0 3 0 4-1 3-1 3-2 3-2 3M237 85l-3-1-4-2-3-2-3-1-3-2-2-3-2-2-1-4-1-3 0-4 0-3 1-4 0-3M249 113l-3 1-3 2-4 0-3-1-3-2-2-3-2-3-3-2-2-3-2-3-3-2-3-2-3-2-3-1-3-2-3-2-3 0-4 1-3 2-3 1-3 1M226 174l-2-3-1-3-1-4 0-3-1-4 1-3 0-4 1-3 0-4-1-3 0-4-1-3-2-3-1-3-2-3-2-3-2-3-3-2-3-2-3-2-2-2-3-3-2-2M20 47l-2-3-3-3-2-2-3-2-3-2-3-2-2-3-2-3-3-2-3-1-4-1-3 0-4 0-3 0-4 0-3 0-4 0-3-1-4 0-3-1-3-1-3-2-1-4 0-3 0-4 0-3 0-4M248 170l3 1 4-1 3-2 2-2 2-3 2-3 3-3 2-2 2-3 3-2 4 0 3 1 3 2 4 1 3 1M162 174l1-3 1-3 0-4 0-3-2-4-2-2-3-3-3-1-3-1-4 0M179 151l-3-2-4 0-3 1-3 1-3 3-1 3-1 3 2 3 2 3 3 2 3 0 4 0 3 0 4-1 3-1 3-1M77 101l3 3 2 2 3 2 3 1 3 3 3 2 3 2 3 2 1 3 0 4 0 3 0 4 1 3 0 4 1 3 1 3 1 4 2 2 3 3 2 2 2 3 2 3 0 4 0 3M203 145l3 0 4 1 3 1 3 2 3 1 3 3 3 2 2 3 2 3 2 2M157 113l-4-1-3 0-3 1-3 2-3 2-2 3-2 3-2 3-3 2-2 3-2 3-3 2-3 1-4 0-3 0M41 24l3 1 4 1 3 1 3 2 3 1 3 0 4 0 3-1 4-1 3-1 3-2 3-2 3-2 3-1M94 96l2-3 2-2 2-3 3-2 3-1 4 0 3 2 2 3 0 3 0 4 0 3-1 3-2 4-1 3-2 3-3 2M49 98l2 3 2 3 1 3 1 3 2 4 2 2 3 1 4 1 3 0 4 1 3 0M114 42l-3-2-3-3 0-3 0-4 2-3 3-2 3 0 4 0 3 1 3 1 4 0 3-1 3-2 3-2M105 130l0-4-1-3 0-3 0-4 0-3 0-4 0-3 0-4-1-3 0-4-1-3 0-4 0-3 2-3M149 17l-1-3-1-3-2-3-2-3-3-2-3-2-3-1-4 0-3 1-3 1-4 1M48 125l-3 0-4 1-3 0-4 2-3 1-2 3-3 2-2 3-1 3-1 4-1 3 1 3-1 4-1 3-1 4-1 3-2 3-2 3-3 2-3 2-3 2-2 2-2 3-2 3 0 3M98 25l3-2 3-2 2-2 3-3 3-2 2-3 2-2 2-3 1-4 2-3 2-3 2-2 2-3 2-3 2-3 1-3 1-4 1-3 0-4 0-3 0-4M187 110l3-1 4-2 3-2 2-2 3-2 3-1 4-1 3 1 3 1 3 2 3 2 3 2 3 2 2 3 2 2 2 4 1 3 1 3 1 3 2 4 2 2 3 2 4 1 3 1 3 2 3 1 3 2 3 1M153 114l3-1 4 0 3-2 2-2 3-3 2-3 2-3 1-3 1-3 0-4 1-3 0-4-1-3-1-4-1-3-1-3M144 20l-4 0-3-1-3-1-4-1-3-2-2-3-2-2-2-4 0-3-1-3-1-4-1-3-1-4-1-3-2-3-2-2-3-3-3-1M61 156l-1-3-1-3-2-3-3-2-3-3-2-2-3-2-3-2-2-3-3-1-4-1-3 0-4 0-3 1-4 0-3 1-4 0-3-1-3 0-4 0-3-1-4 0-3-1-4 0-3 1-3 2-3 2M43 18l2 3 2 3 4 1 3 0 4-1 3-1 2-3 2-3 1-3 2-3 0-4 1-3 0-4M-8-14l-3-1-3-3-2-2-3-3-2-2-3-2-3-1-3-2-4-2-3-1-3 1-4 1-2 3-2 3 0 3-1 4 0 3 2 4 1 3M26 91l-4-1-3-1-3 0-4 0-3-1-4 1-3 1-3 2-3 1-3 2-3 2-2 3-2 3-2 3-1 3-1 4-2 3-2 3-2 2-3 2-3 2-3 1-4 1-3 1M26 152l-2-3-3-2-2-3-3-2-3-1-3-2-4 0-3 1-3 2-2 3-1 4 1 3 1 3 3 3M16 71l-1 3-1 3 0 4 0 3 1 3 2 3 3 3 2 2 3 3 2 2 3 2 3 1 4 1 3 0 4 0 3 0 4 0 3-2 3-2 2-3 1-3 0-3-1-4M114 39l3 1 4 0 3 1 4 0 3 0 4 0 3 0 4 1 3 0M9 89l-2 3-1 3-1 3-1 4-1 3-1 3-1 4-2 3-2 3-2 2-3 3M152 156l4-1 3-1 3-1 4-1 3-1 3-2 3-1 3-2 4-1 3 0 4-1 3-1M61 42l4-1 3-1 3-1 4-2 3-1 3-1 3-1 4-2 2-2 3-3 2-2M1 106l2 3 2 3 3 2 1 3 0 4 0 3 1 4 1 3 2 3 1 3 1 4 1 3 0 4 0 3 0 4M159 14l1-3 2-3 3-3 3-2 2-2 3-2 2-3 2-2 2-3M55 20l1-3 0-4-1-3-1-3 0-4-1-3 0-4 0-3 0-4-2-3-1-3 0-4 0-3 0-4-2-3-1-3-3-3-3-1-3-1-4 1-3 1-3 3-2 2-2 3-3 2-3 2-3 1M15 121l4 1 3 1 4 1 3 1 3 1 4 2 3 1 2 2 3 3 3 2 2 3 2 3 1 3 0 3-1 4-1 3-3 2-3 2-3 2M121 162l1 3 3 3 3 1 3 1 4 0 3 0 4-1 3 0 4 0 3 1 3 2 3 2 3 1 4 1 3 2 3 1 3 1M226 118l-2-3-3-2-3-2-3-2-4 0-3 0-4-1-3 0-4 0-3-1-3-1-3-2-2-3M220 173l-3 3-2 3-1 3-2 3-2 3-2 3-1 3-1 3 0 4 0 3 0 4 0 3 1 4 1 3 2 3 3 3 2 2M228 118l-2 3-3 2-2 3-2 3-2 3-2 3-2 3-1 3-2 3-2 3-2 3-1 3-2 3-2 3-2 3-1 3-2 3-1 4-1 3-2 3-2 2-4 2-3 0-4 0-3-2M60 54l3-2 4-1 3 0 4-1 3-1 3-1 3-2 3-2 2-3 2-3 1-3 1-4 1-3 2-3 1-3 1-3M31 43l-3 1-3 2-3 2-3 2-2 3-3 2-2 3-2 3-2 3-2 2-2 3M30 122l-2 3-1 4-1 3-1 4-1 3-2 3-1 3-1 3-2 3-2 4-1 3M179-1l-3-2-3-1-4-1-3 0-4 1-3 0-4 0-3 1-4 1-3 1-3 2M181 36l3 2 3 1 4 1 3-1 3-2 3-1 3-2 3-2 3-2 3-2 3 0 4 0 3 0 4 0 3 1 4 1 3 0 4 0 3 1 4 0 3 2 3 1 2 3 3 3 1 3M96 36l2 2 2 3 2 3 1 3 1 4 1 3 1 4 1 3 1 3 1 4 1 3M0 157l1 3 1 4 0 3 0 4-2 3-1 3-1 4 0 3-1 3-2 3-3 3-2 2-3 3-2 2-2 3-3 2-3 2M79 102l-1-4 0-3 0-4 0-3 0-4-2-3-2-3-3-2-3-1-4 1-2 2-3 3-2 2-2 3-2 3-1 4 0 3-1 4 0 3 0 4 0 3-2 3-1 3-2 3-2 3-2 3-3 2-3 2M120 75l-4 0-3 0-4 1-3 0-4 0-3 1-3 1-4 1-3 2-3 1-3 2-3 2-3 2-2 2-1 4 1 3 0 4 0 3 0 4-2 3M170 12l2 2 4 2 3-1 4-1 2-2 2-3 1-4 0-3 0-4-1-3-1-3-1-3M235 106l2-3 2-2 4-1 3 0 4 1 3 2 3 1 3 2 3 1 3 2 3 1 4 1 3 1 4-1 3 0 4-1 3 0 4 1 3 1 3 1 3 2 3 2 2 2 3 3 2 3 1 3M40 74l-1 3-1 3 0 4 1 3 1 3 1 4 2 3 2 3 1 3M173 100l-3-1-3-2-3-2-3-1-3-2-4-1-3 0-4-1-3-1-3-1-4-1-3 0-4-1-3 0-4 0-3 0-3 2-3 2-3 2-2 3-3 2-2 3-1 3-1 3-1 4M23 14l0 3 1 4 0 3 1 4 2 2 3 3 3 1 3 2 4 1 3 1 3 1 4-1 2-2 2-4 1-3 0-4-1-3-2-3-2-3-1-3-3-3-2-3"/></g></g><g clip-path="url(#cb)"><rect x="232" y="6" width="220" height="149" fill="#2e2e2e"/><g fill="none" stroke-linecap="round" stroke-linejoin="round"><path stroke="#5c5c5c" stroke-width="0.6" d="M274 89l-2 2-2 3-2 1-3 2-3 1-3 0-3 0-2-1-3-2-2-1-3-2-3-1-3-1-2 1-3 2-1 2M333 9l2-2 3-1 2-1 3 0 3-2 2-2 2-2 2-3 1-2 1-3 3-2 2-2 3-1 3 0 3 2 2 2 1 3M470 0l3-1 3-1 3 0 3 0 3-1 2-1 3-2 2-2 3-2 2-1 3 0 3 0 3-1 3-1 3-1 3 0 3 0 3 1 3 1M395 6l2 3 2 2 2 2 2 3 2 2 1 3 1 2 2 3 1 3 3 2 2 2 2 2 3 1 3 0 3 1M334 104l3 0 2-1 3-1 3 0 3 0 3 1 3 1 3 1 3 1 2 1 3 1 3-1 3 0 3-2 2-2 1-2 0-3 0-3 0-3 0-3M225 26l3 1 3-1 3 0 3 0 3-1 2-2 3-2 1-2 1-3 0-3 0-3M457 170l-1-3 0-3 1-3 1-3 1-2 2-2 3-2 3 0 3 0 3 0 3 0 3 0 3-1M326 10l3 0 3-1 3 0 3 0 3 2 2 1 3 2 2 2 1 3M251 67l0-3 0-3 0-3 1-3 0-3-1-3-2-2M287 16l-2 2-2 2-3 2-2 2-3 1-3 0-3 1-2 2-3 1-2 2-3 2-2 2-2 2-1 3-1 3-1 3-2 2-1 3M256 131l1 3 1 2 1 3 1 3 1 3 1 3 2 2 2 3 1 2 3 2 2 2 3 1 3 1 2 1 2 2 2 3 1 3 0 3-1 3-1 3-1 2-2 3M422 10l3-1 3-1 2-1 3-1 3-1 3-1 2-1 3-2 2-2 2-2 2-3 0-3 1-3-1-3-1-3 0-3 1-3M421 96l-2-1-3 0-3-1-3 0-3-1-2-2-2-2-2-3-2-2-2-3-2-2-1-2-2-3-2-2-3-1-3-1-3 0-3-1-3 0M370 59l1-2 2-3 2-2 2-2 2-2 2-2 2-2 2-3 1-3 1-3M346 87l2-3 2-2 1-2 2-3 2-2 2-3 1-2 1-3 1-3 1-3 1-2 2-3 2-2M384 32l3-2 2-2 2-2 1-3 2-2 2-3 0-2 1-3 1-3 2-3 1-2 2-3 1-3 0-3M443 84l-1 3-1 3-2 3-1 2-2 2-2 3-1 3-1 3 0 3M428 113l2 2 1 3 2 3 0 3-1 3-1 3-1 2 0 3 0 3 1 3 2 2 2 3M415 168l-2-2-3-1-3 1-3 1-3 1-2 1-3 1-3 0M386 171l3-1 3-1 3 0 3 0 2 2 3 2 2 2 1 2 1 3 0 3 1 3 1 3 1 3M299 29l-2-2-1-3-2-3 0-3-1-3-1-2-2-3-1-2-1-3-2-2-3-2-3 0M240 93l-2 2-2 2-2 2-2 3-3 1-2 2-3 0-3 0-3 0-3-1-3 0-3-2-2-2 0-3 1-3 2-2 2-3 1-2M348 40l-3 0-3-1-3 0-3 1-3 0-3 1-2 2-3 1-3 0-3 1-3 1-2 1-3 2M367 16l1 3 0 3 1 3 2 2 2 2 3 2 2 2 3 1 2 3 2 2 1 2 2 3 2 2M446 173l1-3 2-2 3-1 2-2 3-2 2-2 2-2 2-2 2-2M407 46l3 1 2 0 3 0 3 0 3 0 3-1 3-1M231 92l-2 3-1 2-3 2-2 1-3 1-3 0-3 0-3 1M330 120l-2 1-3 1-3 0-3 0-3-1-2-2-2-2-1-3-2-3 0-3 0-3M335 59l2 3 1 2 1 3 0 3 0 3 0 3 0 3 0 3 0 3 0 3-1 3 0 3-1 3-1 3 1 3 0 3 0 3 1 3 1 3 1 3M356 129l0 3-1 3 0 3 0 3 1 3 0 3-1 3 1 3 2 2 2 2 2 3 2 1 3 2 2 2 2 2M342 123l3-1 3-1 3-1 2-1 3-1 3-1 3-1 3-1 3-1 2-2 3-1 2-2 3-2 2-1M441 160l-2-2-2-2-2-2-2-3-2-2-1-3-1-2M336 142l-2 2-2 2-3 2-2 1-3 1-3-1-3-1-3-1-2-2-2-2-1-3-2-2-3-2-2-2-2-2-2-2M297 84l-3 2-2 1-3 2-2 2-2 2-2 2-2 3-2 2-1 3-2 2-2 3-2 2-2 2-2 2-2 3-1 2-1 3-1 3-2 2M461 170l-2-2-2-3-1-2-2-3-1-3-1-3-1-2 0-3-1-3 0-3 1-3 2-3 1-2 2-3M363 17l-3 0-3 0-3 1-3 2-2 1-3 2-3 1-2 1-3 2M251 132l-3 0-3 1-3 1-2 2-2 2-2 3-1 2-2 3-1 3-1 2-1 3 0 3 0 3M442 100l-3-1-3 0-2-3-1-2 0-3 0-3 2-3 2-2 2-2 3-2M355 90l-3 1-3 0-3-1-3-1-3-2-2-2-2-2-2-1-3-2-2-2-3-1-2-2-3-1-2-2-3-2-2-2-2-2-2-2-2-3-1-2-2-3-2-2M407 159l1 3 1 3 0 3 1 2 2 3 2 2 2 2 3 2 2 2 3 1 3 1 2 1 3 0 3-1 3-1 3-2M445 23l-3 2-2 1-3 2-2 1-3 1-3 0-3 0-3-1-3 0-3 0-3 0M375 37l3-1 2-2 2-2 2-3 1-2 1-3 1-3 1-3 1-2 2-3 2-3 1-2 1-3 0-3 0-3 0-3 0-3-1-3-1-3 0-3 2-2 2-2M280 48l-1-3-2-2-2-3-2-2-2-2-3-2-2-1-3 0-3 0-3-1-3-1-3 0-3-1-3 0-3 0-3-1-3 1-3 0-3-1M311 56l3-2 3 0 2 1 1 3-1 3-2 2-3 0-3 1-3 0-3-1-3-1-3 0-3-1-3-1-3 0-3-1-3 0-2-2-2-2M269 88l3 0 3-1 3-1 2-2 2-2 1-3 2-3 1-2 2-3 1-3 0-3 1-3 1-2 2-3M446 108l2-2 2-3 1-2 2-2 2-3 2-2 2-2 2-3 1-3 1-2 2-3 2-2 1-3 2-2M317 48l2 2 2 2 3 2 2 2 3 0 3 0 3-1 2-2M292 137l-1-3-1-3-1-3-1-3 0-2-1-3-1-3-1-3 0-3 1-3 0-3 0-3 0-3 0-3-1-3M365 124l3-1 3-2 2-2 2-2 2-2 1-3-1-3-1-3-1-3M352 107l0 3 2 3 1 2 1 3 2 2 3 2 2 2 3 1 3-1 2-2 3-1 3-2 2-1 3-1 2-2 2-3 1-3-1-3 0-2-1-3-2-3-2-2M237 89l1 3 2 3 1 2 3 2 2 2 3 0 3-1 3 0 3 0 3-2 3-1 2-2 2-2 2-2 3-2M344 124l2 2 3 2 2 2 2 1 3 1 3 1 3 1 3 0 3 1 3 1 2 1 3 1 2 3 1 2 1 3 0 3 0 3 0 3-1 3-1 3-2 2M292 162l1-3 0-3 0-2 1-3 1-3 0-3M280-12l1 3 0 3 0 3-1 3-1 2-1 3-1 3 0 3-1 3-1 3 0 3 0 3-1 3 0 3 0 3-1 3-1 3M339 1l-3 1-3 1-2 2-2 3 0 3-1 2 0 3-1 3-1 3-2 2-3 2-2 1-3 2-2 2-1 2-2 3 0 3-1 3-1 3-1 3-1 3-1 2M252 134l-2 1-3 2-2 1-3 1-3 2-2 2-2 2-1 3M341 114l-1-3-2-2-2-1-3-1-3 1-3 1-3 1-2 2-3 2-3 1-2 0-3 0M386 57l2-2 3-2 2-3 2-2 2-1 3-1 3-1 3-2 2-1 2-3 2-2 1-3 1-3 0-3M465 64l1 2 2 3 2 2 2 2 3 1 3 2 3 0 3 0 2-2 2-2 0-3-2-2-3-2-2 2-2 2 0 3 0 3 1 3 2 3 1 2 1 3M266 30l-2-2-1-3-2-2-2-2-2-3-3-2-2-1-2-2-2-3-1-2 0-3 0-3M233 75l-2-2-2-2 0-3 0-3 1-3 1-3 1-2 1-3 1-3M213 175l1 3 1 2 3 2 3 1 3 0 2-1 3 0 3 1 3 1 3 1 3 1 3 0 3 1 3 0 3 0 2-1 3-1 3-2 2-2 2-2 2-2 0-3 0-3M296 11l-1 3-1 2-1 3-2 3-2 2-2 2-2 3-2 2-2 2-3 1-2 2-3 1-2 2-2 2-3 2-2 1-3 2-3 0M322 99l-3-1-3-2-3-1-3 0-3 0-3 1-2 0M395 163l-2 2-2 3-2 2-1 3-2 2-2 3-1 2-2 3-1 3M406-13l2 2 3 1 2 1 3 0 3-1 2-2 1-3 0-3 1-3M399 90l-3 0-3-1-3 0-3 1-3 1-3 0-3 1-3-1-2-1-3-2-2-2-2-2-3-1-3 0-3 1-3 1-3 1-3 1-2 1M331 72l3 1 3 0 3 0 3-1 2-1 3-2 1-3M300 154l-1-3-1-3-1-3-1-3-1-3-1-2-2-3 0-3-1-3-1-3 0-3 0-3 0-3 0-3-1-3-1-2-1-3-1-3-2-2-1-3M457 95l2-2 2-2 2-2 3-1 3 0 3-1 3-1 3-1 2-2 2-2 2-3-1-3-1-2-2-3-2-2-3-1-3 0-3 0-3 0M414 87l2-2 3-1 3-2 2-2 3-1 3-1 2-1 3-1 2-2 3-2 2-2 3-2 2-1 3 1 3 0 3 2 2 2M298 77l3 1 3 0 3 0 3 1 3 1 2 1 3 1M365 73l0-3-1-3-1-3-2-3-1-2-1-3 0-3-1-3-1-3-2-2-2-3-2-2-3-1-3 1-2 1-3 2-2 2-1 3-2 2-2 3-2 1M305 0l-3 1-3 0-2-2-1-3 0-3 2-3 1-3 1-3 0-2 1-3 1-3 0-3-1-3 0-3 0-3 1-3 1-3M406 27l-3 2-2 1-3 1-3 1-3 0-3 0-3 0-3-1-2-2-3 0-3 1-3 1-3 2-2 2-2 2-2 2-3 0-3 0-3 0-2-2-2-3M289 144l2 3 1 3 1 2 3 2 2 2 3 1 3 0 3-1 3 0 3-1 3-1 2-1M251 134l-2-2-3-1-3-1-2-2-2-2-2-2-1-3 0-3 1-3 0-3 2-3 3-1 2-2 3-1 3-1 3 0 3-1M410-13l2-2 2-3 2-2 1-3 0-3 1-3 0-3 1-2 2-3 1-3 0-3 0-3 0-3-1-3M418 72l0-3-1-3 0-3-2-3-2-2-1-2-3-2-2-2-3-1-3-2-3-1-3 0-2 1-3 1-3 2-2 2-2 2-1 3 0 3 0 3 2 2 2 2M385 143l0-3 0-3 0-3 1-3 1-3 0-3-1-3-2-2-3-2-2-2-2-2M398 4l2 2 2 3 1 3 1 3 0 3-2 2M409 7l2 3 2 2 2 3 1 2 1 3 0 3 1 3 0 3-1 3-1 3-2 2-3 0-3 0M404 157l-1 3-2 2-1 3-2 2-2 3-2 2-1 3-2 2-2 2-3 1-3 0-2-1M352 52l0 3 1 3 1 3 0 3-1 3 0 3-1 3 0 3 1 3 2 2 2 2 3 1 3 1 3 0 3 0 2-2 3-1 2-3M337 92l0 3 2 2 3 2 3 1 3 1 2 1 3 2 3 0 3 0 3-1 2-2 2-2 2-2 1-3 1-3M447-2l0-3-1-3-2-3-2-2-3-1-3-1-2-2-2-2-2-3-1-2-1-3-1-3 0-3 0-3-1-3 0-3 0-3 0-3 0-3-1-3M229 156l-3 2-2 1-3 1-3-2-2-2-1-3 0-3 0-3 0-3-1-3 0-3 0-3M427 146l3 0 3-2 3-1 2-1 3-1 3-2 2-2 2-2 2-2 2-2 3-2 3-1 2-2 2-2 3-1 2-2 3-2 2-2 2-2 1-3 2-2M405 20l-3 0-3-1-3-1-2-2-3-1-3 0-3 0-3 0M396 57l3 0 3-1 3-1 2-1 3-1 3-1 3-1 3-1 3 0 3 1 3 0M265 4l-2-3 0-2-1-3-1-3-1-3-1-3-1-3-1-2-1-3 0-3 1-3 1-3 1-3 1-3 2-2 3-1 3-1 3-1M445 139l3 1 3 0 3 1 3 0 2 2 3 1 2 2 3 1 3 2 2 1 3 1 3 1 3 0 3 0 3-1 2-2 2-3M305 141l-2-2-2-3-1-2-1-3 0-3 0-3 1-3 1-3 0-3 1-3 1-3M356 41l1-3 1-3 0-3 0-3 1-3 1-2 1-3 0-3 0-3-1-3 1-3 1-3 2-2M295 71l3 0 3-1 3 0 3-1 3 0 3 0 3 0 3-1 3 0 3 1 3 0 3 0 3 0 3-1 3 0 3 0 3 1 3 0M470 80l-2-2-1-2-2-2-3-2-3-1-2-1-3-1-3-2M224-1l-1 3-1 2-2 3-3 2-1 2-2 3-1 2 0 3M363-3l1 3 0 3 2 2 2 3 2 2 2 1 3 1 3 1 3 1 3 1 3 1 3 0 3 1 2 1 3 2 2 2 2 2M360 159l3-1 2-1 3-1 3-1 2-2 2-2 3-2 3-1 2-1 3-2 2-2M307 95l3-1 3-1 2-2 2-2 2-3 2-2 1-3 2-2 1-3 2-2 2-3M317 84l0 3-1 2-2 3-3 1-2 1-3 1-3 0-3-1-3-1-3 0-3-1M286 110l-1 2-2 3-2 2-2 2-3 2-2 1-2 2-2 3-1 3 1 3 1 2M334 88l-2 2-2 2-1 3 0 3 1 3 2 3 2 2 2 2M451 167l1-3 1-3 2-2 2-3 1-2 2-3 2-2 1-3 2-2 2-3 2-2 3-1 3-1M212 24l-2-1-2-2-3-2-2-2-2-2-2-3-1-3M314 160l0 3 1 3 1 3 1 3 0 3 1 3 1 2 0 3 2 3 1 2 3 3 2 2 2 2 2 2 3 1 2 2M287 18l2 2 2 3 2 2 1 3 0 3 0 3-2 2-2 2-3 1-3-1-2-2-3-1M248 140l3 1 3 0 3-1 2-2 2-2 1-3 1-2 2-3 1-3 1-3 1-3 0-3 1-2 1-3 0-3 1-3 2-3 2-2 1-3 1-3M256-6l3 1 2 2 2 2 0 3 0 3-1 3-2 2M466 57l1 3 1 2 1 3 0 3 0 3 0 3-2 3-2 2-2 2-2 3-2 2-2 2-2 2-3 1-3 1-3 0-2-2-3-2-2-2-2-1-3-1-3 1M272-8l1-3 0-3 1-2 0-3 0-3-1-3-1-3-1-3-2-2-2-2-2-2-1-3-1-3-1-3 0-3M336 120l0-3 0-3 1-3 1-3 0-3 1-3 1-3 1-3 2-2 3-1 2-1 3 0 3 0 3 0M355-6l1 2 2 3 1 3 1 3 0 3 0 2-1 3-1 3M233 106l2-3 1-2 2-3 2-2 1-3 2-2 1-3 2-2 2-3 1-3 2-2 3-1 2-2 3 0M250 24l-3-2-1-3-2-2-2-2-1-3 1-3 1-3 3-2 2-1 3-2M257 10l1 3 1 3 0 2 0 3 1 3 1 3 2 3 1 2 3 2 2 1M324-5l-2 3-2 2-2 1-3 0-3 0-3-1-2-2-2-3M387 16l3-1 3 0 3 1 3 0 3 1 3-1 3-1 2-2 1-3 0-3-2-2-2-3-2-2-2-2-1-3M316 101l0-3 0-3 0-3 2-3 2-2 1-3 0-3 1-3 1-3 1-2 0-3 0-3 0-3-1-3M446 135l1 3 1 3 1 3 1 3 1 2 2 3 1 3 1 2 2 3 2 2 2 2 3 2 2 1 2 3 2 2 2 2 2 3 1 2 1 3M456 151l-3 0-3 1-3 1-2 2-3 1-2 2-2 2M374 107l-3 0-2-1-3-1-3-2-2-1-3 0-3 1-2 2-2 2-1 3M255 136l1 3 1 3 1 3 1 2 2 3 2 2 1 3 2 2 2 3 2 2 2 2 2 3 1 2 1 3 1 3 0 3M349 109l-2-1-3-2-2-2-2-2-2-3-2-2-2-2M440 146l-3 1-2 1-3 2-3 1-2 2-3 1-2 2-3 1-3 1-3 1-3-1-3 0-3-1M326 58l1-2 2-3 1-3 1-3 2-2 2-2 2-2 3 0 3 1 3 1 3 1 3 2 2 1 3 1 3 2M389 5l0 3 1 3 1 2 2 3 3 1 2 1 3 1 3 0 3 0 3-1 3 0 3-2 2-2 1-3 2-2M436 54l3-1 3-1 2-2 2-3 1-2 2-3 1-2 2-3 1-3 1-3 1-3 1-2 1-3 2-2 2-2M307 54l-2-3-3-2-2-2-2-1-3-1-3 0-3-1-3 1-3 2-2 2-1 2-1 3-1 3 0 3 0 3 1 3 1 3 1 3 1 2 1 3 1 3 2 3M230 117l-2-2-2-2-2-3-2-2-2-2-2-2-3-2-2-2-3-1M375-1l-3 0-3 1-3 1-2 2-2 2-3 2-3 0-3 0-3-1M358 165l-3 0-3 1-3 1-2 2-2 3-1 3 0 3 2 2 2 2 3 2 3 0 3 0 2 0 3-1 3-1 3-1 3-2 2-2 2-2M230 30l2-2 2-2 2-3 2-1 3-1 3-1M223 6l-2-2-2-2-2-3-2-2-1-3-3-1-3-2-3-1M312 108l1 3 1 3 1 3 1 2 3 2 3 1 3 0 3-1 2-2 2-2 1-3 2-3 0-3 0-3-1-2-2-3M394 172l-1 3 1 3 2 2 3 2 3 0 3 0 3-1 3 0 3 0 3-1 2-1 3-2 2-1 3-1 3-2 3-1 2-1 2-3 1-3-1-3 0-2-1-3M385 103l1-3 1-3 1-2 2-3 1-3 1-2 1-3 1-3 1-3 1-3 1-2 1-3 2-3 1-2 0-3-1-3-1-3-3-2-2-1-3-1M446 125l-1-3-1-2 0-3-1-3 0-3 0-3-1-3 1-3 0-3 2-3M336 30l2 2 3 1 3 0 3 1 3 1 3 1 1 3 1 3 0 3-1 3-2 2-2 2-2 2-2 3M217 38l-3 0-2-1-2-3-1-3 0-3 2-2 3-1 3 0 2 1 3 2 3 1 2 2 1 3 1 3 2 2 2 2 3 2 2 1M413 136l3-2 1-2 2-3 1-3 0-3 0-3-1-3-1-3-1-2-2-3-2-2-2-2M270 106l-2 2-2 2-1 3-2 3-2 2-2 2-3 1-2 2-2 2-1 3-1 3-1 2-1 3-1 3 0 3M295 129l1-3 0-2 1-3 0-3-1-3 0-3-2-3-3-1-3-1-3 0-3 0M320 68l-3 1-3 0-3 0-3-1-3-1-3 0-3 1-3 1-2 2-1 2-2 3-2 2-2 2-2 2M311 16l3 2 2 2 2 2 1 3 0 3 0 3-1 3-2 2-1 3-1 2-2 3-1 3-1 2-2 3-2 2-1 3 0 3 1 2 1 3 2 3M247 23l3 1 3 0 3 0 3 2 2 1 3 1 3 2 2 1 3 1 3 0 3 1 3 0 3 1 2 2 1 3 0 3-2 2-2 2M289 155l2-2 2-2 2-2 3 0 3 0 3 2 2 3 1 2 1 3 0 3 2 3M432 145l-2 2-2 2-2 2-2 2-3 2-2 2-3 1-2 2-2 2-1 3 0 3 1 3 1 3 1 3 1 3 1 2M382 173l-3-1-3 0-3 0-3-1-3 0-3 0-3 1-2 1-3 1-3 1-2 2-2 3 0 3 0 3 1 2 1 3"/><path stroke="#5c5c5c" stroke-width="0.9" d="M441 4l1 3 1 3 0 3 1 3 0 3 1 3 2 2 2 2 2 3 2 1M470 113l2 2 1 3 1 2 2 3 2 2 3 2 1 2 2 3 2 2 1 3 1 3-1 3-1 2-1 3-1 3-2 2-2 3-2 2-2 2-2 3-2 2M274-10l-3-1-3-1-2-1-3-2-1-2-1-3-1-3M281 173l-3 0-3 0-3 0-3 0-3-1-3-1-3-1-3 0M387 148l-2-3-2-2-1-3 0-3-1-3 0-3 0-3-1-3-2-2-2-2-3-1-3-1-2 0-3 0-3 1-2 3M423 161l3-1 3-1 3 0 3 1 2 3 1 2-1 3-3 2M333 124l2 1 3 1 3 0 3 0 3-1 2-2 2-2 2-3 0-3 0-3 1-3 1-3M467 134l3 0 3 0 3 0 3-1 2-1 3 0 3 1M336 93l1 3 2 3 2 2 2 2 2 2 2 2 1 3 1 3 1 3-1 3-1 2-2 3-2 2-3 2-2 1-3 1-3-1-3-1M335-13l-1-3 0-3-1-3-1-3-2-2-2-2-3-2-2-2-3-1-2-2-3-1-3-1-2-2-3-1-2-3-1-2-2-3-1-2-3-2-2-2-3-1M299 131l2-3 2-2 3-1 2-2 2-2 2-2 2-3 1-3 2-2 2-2 2-2M348 17l2-3 2-2 1-3 2-2 1-3 1-3 0-3 1-3 1-3 1-2 1-3 2-3 1-3 2-2 2-2 2-2 2-2 3-2 2-1M369 8l-1 3 0 2-1 3-1 3-1 3-1 3-2 2-2 3-1 2-2 3-2 2-1 3-1 3M241 94l3-1 3-1 3-1 3-1 3-1 2-1 3-1 3 0 3-1 3-1 3-1 2-2 3 0 3 0 3-1 3 0 3 0 3 0 3 0 3-1 3 0M308 35l-2-1-3-2-2-2-2-2-2-3-2-2-2-2-2-2-3-2-2-1-3-1-3 0-3-1-2-2-2-2-1-3-1-3M326 148l0 3-1 3-1 3-2 3-2 2-2 1-3 1-3-1-3-2-2-2-2-2M462 169l0-3 0-3 0-3 1-3 2-3 2-2 2-2 2-2 2-3 1-2M308 120l-3-1-3 0-3 0-3 1-3 1-3 1-2 1-3 1-3 1-3 1-3 0-3 0-3 0-3 0-3 0-3-1-3 0-3 1-2 1-2 3M450 67l3 1 3 1 2 1 3 1 3 1 3 0 3 1 3 0 3 1 3-1 3-1M310 35l0-3 0-3-1-3-2-3-1-2-2-3-2-2-1-3-1-3 0-3 0-3-1-3-1-2M286 162l-2 3-2 2-2 2-2 2-1 3-2 3-1 2 0 3-1 3-1 3 0 3 0 3-1 3-1 3M273 175l-1-3-1-3 0-3 1-3 1-3 2-2 2-2 3-2 2-1 3-1 3 0 3 1 3 1 1 3 1 3M299 54l1-2 2-2 2-3 2-2 2-2 2-3 2-2 2-2M247 152l-1-3-1-3-2-2-3-2-2-1-3 0-3 0-3 0-3 1-3 1-3 0-3 1-3 0-3-1-2-2M303 134l-1-2 0-3-1-3 0-3-1-3-1-3 0-3-1-3-1-3-1-2-1-3-2-3-1-3-1-3 0-3 0-3M212 29l0-3-1-3 0-3 0-3 0-3 1-3 1-3 2-2 2-2 2-2M358 14l3 0 3 0 3 1 2 0 3 1 3 1 3 0 3 0M387 41l2 3 1 2 2 3 0 3 0 3-2 2-1 3-2 2-3 1-3 1M284-8l-2 2-2 2-3 1-2 2-3 1-3 0-3 1-3 0-3 0-3 0-3 0-3 1-3 0-3 0-3 0-3 1-2 2-3 1-2 2-2 3M294 89l-2-3-1-3 0-3-1-2-1-3-1-3-2-3-1-2-2-3M441 169l-2 3-1 2-2 3-1 3-1 3-1 2-2 3-2 2-1 3-2 2-2 3-1 2-2 3-1 2-2 3-1 3-2 2-2 2-3 0-3 1-3 0M359-11l-2-2-3-2-3-1-2-1-3-1-3-1-3-1-3-1-3-1-2-2-2-2-2-2-1-3 1-3 2-2 3-2 2-2 1-3 2-2 2-2 3-1 3-1M267-11l3-2 2-2 2-2 1-3 1-3 1-2 1-3 2-3 2-2 3-1 3-1 3 0 3-1 3 0 3 0 3-1 2-1M241 44l2-1 2-3 1-3 0-3 0-3 0-3-1-2-2-2-2-2-3-2-2-2-3-1-2-2-3-1-3 0-3-1-3 0-3 0-3 0-3 0M279 92l1-3 0-3 1-3 1-2 1-3 1-3 2-3 0-3 1-2 1-3 2-3 1-2 2-3 0-3 0-3M295 68l3-1 3-1 3 1 3 0 3 1 2 2 1 3 0 3 1 3 0 3 2 2 2 2 2 2 2 3 2 2 0 3-1 3-1 3-2 2-2 2-3 0-3 1M276 49l-2-3-2-1-3-2-2-2-3-1-3 0-3 1-2 3-1 2 0 3 1 3 2 3 2 2 3 1 2 1 3 1 3 1 3 2 2 2 0 3 0 3-1 3M223 13l-2-1-3-2-3-1-3-1-3 0-3-1-3 0M225 116l0 3-1 3 0 3-1 3-2 3-2 2-1 2-3 2-2 2-3 1-3 0-3 0-3 0-3 0-3-2-1-2 0-3 1-3 1-3 2-2 1-3M467 132l-2 3-2 2-2 1-3 2-2 2-3 0-3 0-3-1-3-1-3-2-2-2-2-2-2-2-2-2-3 0-3 0-3 0-3-1-3 0M220 84l-1-3-1-3-1-2 0-3-1-3 0-3 1-3 2-3 2-2 1-3 2-2 1-3 2-2 1-3 1-3 1-3-1-3-1-3M415 134l2-1 3-2 2-2 2-2 2-2 1-3 1-3 1-3 1-2 2-3 3-2 2-2 2-2 2-2M341 90l0-3 0-3 0-3 0-3 0-3-1-3-1-3-2-2-2-2-3-1-3-2M281 75l1 3 1 3 1 3 1 3 0 3-1 2-1 3-1 3M287 102l-3-1-3-1-2-2-3-2-2-2-1-2-2-3-1-3 0-3 1-3 1-3 0-3 1-3-1-3-1-2M239 128l3 1 2 2 2 2 2 2 3 2 2 2 3 1 3 0 3 1 3 1 2 1 3 2 1 2 1 3 0 3-2 3-2 2-2 2-1 3-2 3-2 2-2 2M469 154l-2-3 0-3-1-3-1-2-2-2-3-2-2-2-2-2-2-2-1-3-1-3 0-3 0-3M321-9l3-1 3-1 2-3 2-2 2-2 2-2 3-1 2-2 3-1 3 0 3-1 3-1 2-2 2-2 2-2 2-2 3-2 2-2 1-3 2-3 2-2 3-1M425 66l-3 0-3 0-3 0-3 0-3 1-3 0-3 0-3-1-2-1-3-1-3 0-3 1-3 1-3 1M377-9l3-1 3 1 2 2 2 2 1 3 1 3 1 2 1 3 0 3-1 3-1 3-2 2-2 3-2 2-2 2-1 3M438 121l1-3 2-3 1-2 2-3 1-3 1-2 1-3 1-3 1-3 1-3 0-3-1-2-1-3-1-3-1-3 0-3-2-2-3-1-3-1-3 1-2 1-3 2M274 1l-1 3 0 3-1 3-1 3-2 2-3 1M261 66l1-3 0-3-1-3-1-3 0-3 0-3 1-2 2-3 2-2 2-3 1-2 2-2 1-3 1-3 1-3M328 44l1-3 2-2 2-2 3-2 2-1 3-1 3-1 3-1 3-1M286 145l-2 2-3 2-3 1-3 0-3 0-2-1-3-2-2-2-2-2-1-3 0-3 1-3 1-3M303 101l2-2 3-1 3-1 3 0 3 1 2 2 0 3-1 3-1 3 0 3 0 3-1 3 0 3 0 3M238 82l-3-2-2-1-3-1-3 0-3 2-2 1-3 2M286 60l2-2 3-1 3-1 3 0 3-1 3 0 3 0 3 1 3-1 2-1 3-2 2-3 1-2 2-2 2-3 1-2 2-3 1-3 2-2M257 174l-2 3-2 2-1 3-1 2-2 3-2 2-2 2-3 1-3 0-3 0-3-2-2-1-3-2-2-2-3-1-3-1-2-2-3-2-1-2M471 158l-2 2-1 3-1 3-1 3-1 3-1 2-1 3 0 3M310 159l-3 0-3 2-3 1-2 1-2 3-2 2-1 3-1 3 0 3 0 3 0 3 0 3 0 3 0 3 0 3 1 3M302 134l3 2 2 1 3 1 3 0 3 0 3-1 3 0 3 1 3 0 3-1M406 173l-1 3-2 3-2 2-2 2-1 3-2 2-2 3-2 2-3 1-3 0-3 0-3 0M407-10l3-1 3 0 2 1 3 2 2 2 2 2 3 2 2 2 3 1 2 2 1 3 1 3M258 94l1 2 3 2 2 2 3 2 1 2 1 3 1 3-1 3-1 3M283 88l-2-2-3-1-2-3-2-2-1-3-1-2-1-3-1-3-2-3-1-2-1-3-2-2-2-2-2-3-2-2-1-3M400 159l-3-1-2-2-2-2-2-2-1-3 0-3 0-3 0-3 0-3-1-3-2-2-3-2-2-1-3-1-3 1-3 1-3 1-3 2M441 125l-3 0-3 1-3 2-1 2-1 3-1 3-2 2-2 2-2 2-3 3-2 2-1 3-1 2-1 3-2 3-2 2-2 1-3 0-3-1-3-1-2-2-3-2M399 142l0-3 0-3 1-3 0-3 1-3 0-3 1-3 0-3-1-3 0-2-1-3-1-3-1-3 0-3 1-3 0-3 1-3 2-2 3-1 3 0 3 0M369 17l-3-1-3 1-3 0-2 1-3 2-2 1-3 1-3 1-3 0-3-1-3-1-2-2-2-3-1-2 0-3-1-3-1-3-1-3M351 88l-3-1-3-1-3-1-3 0-3 1-2 1-3 1-3 1-3 0-3 0M372 140l2 2 1 3 0 3-1 3 0 3-2 3-1 2-2 3-2 2-2 2M450 91l-2-3-1-3-2-2-2-2-1-3-1-3-2-2-2-2-2-3-3-2-2-1M400 83l0 3-1 3 0 3 0 3 2 2 3 2 3 0 3-1 2-2 1-3 1-3 0-3 1-3 0-2 1-3 1-3 1-3 2-2 2-2 2-3 2-2M342 101l0-3 0-3 0-3-1-3-2-2-3-1-3-1-3 0-3-1-3 0-3 0-3-1-3 0-3 0-3-1-2 0-3-2M354 43l-1 2-1 3 0 3 1 3 3 2 2 1 3 1 3 0 3 0 3-1 3-1 2-2 3-1 3-1 3 0 3 0M333 6l0-3-1-3-1-3 0-3 0-3 1-3 2-2 1-3 2-2 1-3 1-3 2-2 2-2M324 102l-3 1-3 0-3 0-3-1-3-1-2-1-3-2-2-1-3-2-2-2-2-2-2-2-3-2-2-2-2-2-3-2-2-2M358 82l-3-2-3-1-2-1-3-1-3-1-3-1M470 119l-3-1-3 1-3 0-2 2-3 2-2 2-2 2-1 2-2 3-1 3-1 3-1 2-1 3 0 3 0 3-1 3M362 152l-1 3-2 2-2 2-2 2-2 3-2 2-3 1-3 1-3 0-2-1-3-1-2-2-3-2-2-1-3-1-3-1-3 0-3 1-3 0-3 1-3 0M243 121l3-1 3 0 3-1 2 1 3 1 3 2 2 2 2 1 3 1 3 0 3 0 3 0 3-1 3 0 3 0 3 1M453 42l-1 3-1 3-2 2-3 1-3 1-3-1-3-1-3 0-3 0-3 0-3 1-3 0-2-1-3-2-1-2M409 139l0 3-1 3 1 3-1 3-1 3-1 3-1 2-1 3 0 3-1 3-1 3 0 3 0 3M448 1l1 3 1 2 0 3-2 3-2 2-3 1-3 0-2-1-3-2-2-2 0-3 0-3 1-3 1-3 2-3 1-2 2-3 1-2 1-3 2-3 2-2 2-2M246 101l-3-1-3-1-2-2-1-2-1-3 0-3 1-3 2-2 2-2 2-2 3-2 3-1 2-2 3-1 3-1 3 0M337 27l-2-2-3-1-3 0-3-1-3 0-3 0-3 1-3 1-2 2-2 3-1 3-1 2-1 3-1 3-2 2-1 3M436 48l0-3-1-3-1-2-2-3-2-2-2-2-2-2-3-1M336 12l2-2 3 0 3 0 3-1 3 0 3 1 3 1 2 2 3 2 2 2 3 1M228 16l3 0 3-1 3-1 3-1 2-1 3-1 3-2 3 0 3 0 3 1 2 0 3 1 3 0 3 0 3 1M219 65l-1 3-2 2-2 2-2 2-3 2-3 0-3 1-2 1-3 2-3 1-2 1-3 1-3-1-3-1-2-3M457 47l1 2 1 3 2 3 2 2 2 2 1 3 2 2 1 3 2 3 1 2 2 3 2 2 2 3 1 2 2 2 2 3 3 2 1 2M244 126l3 0 3 1 2 2 2 2 2 3 0 3-1 2-1 3-2 2-2 3-1 3 1 3 1 3 2 2 3 1 3 1 3 0 3 1 2 1M421 140l3-1 3 0 2 2 2 2 2 3 1 3 1 2 2 3 1 2 1 3 1 3 0 3-1 3-1 3-2 2-2 2-3 0-3 0-3-1-2-3 0-3 0-2M300 46l1 3 2 2 1 3 2 2 1 3 2 2 2 3 2 2 3 1 2 1 3 1 3 1M322 68l-3 1-3 1-3 1-3 0-3-1-2-2-1-3 0-3-1-3 0-3M440 51l-1 2-3 2-3 1-3 0-3-1-3 0-3 1-2 1-3 1-2 2-3 2-2 2-3 1-2 1-3 1-3-1-3 1-3 1M276 170l1 3 1 3 1 2 1 3 0 3 0 3 1 3-1 3-2 3-2 2-3 1-2 2-2 2 1 3 2 3 2 1 3 0 3 0 3-2 2-2M228 95l-1 3-1 3-1 3-1 2-1 3-2 3-2 2-2 2-3 2-2 1-3 2-2 1-3 2-2 2-2 2-2 3-2 2-3 1-1 3-1 3-1 3M406 132l3 0 3 1 2 0 3 1 3 0 3 1 3 2M276 68l3-1 3-1 2-2 2-3 2-2 2-2 2-2 2-2 3-2 2-2 2-2 2-2 3-2 2-1 3-2 3-1 2-1 3-1 3-1 3 0 3-1 3-1 2-2M436 45l-3 0-3-1-3-2-2-1-3-1-3-2-2-2-1-2-1-3 0-3 0-3 2-2 2-3 2-2 2-2 2-3 1-2M451 69l-3 1-2 1-3 1-3 0-3 0-3 0-3 0-3 1-3 1-3 1-3 1-2 2-1 3 0 3 0 3M388 119l1 3 0 3 1 3 1 2 0 3-1 3-2 3-3 1-3 0-3 0-2-1M408 106l-1 3 1 3 1 3 1 2 1 3 1 3 1 3 2 2 1 3 2 2 1 3M268 25l-3 1-2 3-1 2-2 3-2 2-2 2-1 3-1 3 0 3 0 3M375 4l0-3 1-3 1-3 2-2 2-2 2-3 0-3 0-3-1-3-1-3-2-2-2-2-3-2-2-1-3-1-3-2M414 15l-3-1-2-2-2-2-2-2-3-2-3-1-3-1-3 0-3 0-3 0-3 1-2 0-3 1-3 0-3 1-3 1-3 1-3 0-3 0-3-1-3 0-3 1M332 36l3-1 3 0 3 0 2 1 3 1 3 1 2 2 2 2 2 3 2 2 2 2 2 2 3 1 3 1 3-1 3 0 3-1 2-2 2-2 1-3 1-3 0-3M339 116l-1-3-1-3-2-2-3-2-3-1-3 0-3 0-3 0-2 1-3 1-3 2-2 1-3 1-3 1-3 0-3-1-2-2-2-2M330 100l-2-2-2-2-3-1-3-1-2-2-3-1-2-3-1-2-1-3-1-3-1-3-2-2-1-3-2-3-1-2-3-1-3-1-3 0-3 1-3 1-3 0-3 0M219 76l3-1 3 0 2 2 3 1 2 2 3 2 2 2M405 153l0-3-1-3-1-3-1-3 0-3-1-3-1-3-1-3 0-2-1-3 0-3-1-3-1-3-2-2-3-1-3-1M255 44l-2 1-2 2-3 2-2 2-2 2-2 2-2 2-3 2-2 2-3 0-3 0-2-2-2-3-1-3-1-2-1-3 0-3 0-3 0-3 1-3 0-3 0-3M230 145l3 1 3 1 3 1 2 0 3-1 3-2 2-2 2-2 2-2 2-3 1-2 2-3 2-2 2-2 3-1 3-2 2-2 3 0M232 141l3 2 3 1 3 1 3 0 2 0 3-2 3-1M410 15l-1-3-1-3-2-2-2-3-1-2-2-3-2-2-1-3-2-2-2-2-3-2-2-1-3-2-3 0-3 0-3 2-2 1M427 175l0-3 1-3 0-3-1-3-1-3 0-3-1-3 0-3-1-3-1-3-1-2-2-3-2-2-3-1-2-2-2-3-1-2-1-3M237 57l-3 2-2 2-2 2-1 3-1 2-1 3 0 3 0 3 1 3 0 3 2 3 1 2 2 3M314-3l2 1 3 1 3 1 3-1 3 0 3-1 2-2 1-3 1-3M336 3l2-2 1-3 1-2 2-3 2-2 2-2 3-2 2-1 3-2 3-1 3-1 3 0 3-1 3 0M450 126l1 3-1 3-1 3 0 3-1 2-1 3 0 3 1 3 1 3 1 3 1 3 0 3 0 3-1 3 0 3M318 69l-1 3-1 3-1 3 0 3 1 3 0 3 1 2 2 3 1 3 1 2 2 3 2 2 2 2 2 2 2 3M413 165l2 2 1 2 1 3 1 3 1 3-1 3-1 3-2 1-3 1-3 1-3 0-3 0-3 1-3 1-3 1-3 1-2 1-2 2-3 2-1 3M244 101l-1-3-1-3-1-3 0-3-1-2 0-3-1-3-1-3-2-3-2-2-2-2-1-3-3-2M328 154l-1 3-1 3-1 2 0 3 0 3 0 3-1 3-1 3-1 3-2 2-1 3-2 2-2 3-2 2-1 3-1 3 0 3 0 2 0 3-1 3 0 3M327 14l1 3 1 2 0 3 0 3-1 3-2 2-2 2-3 1-3 0-3-1-3-1-2-2-2-3-2-2-1-3-1-3 0-3-1-3 0-3 0-3M280 132l-3 1-3 2-2 1-3 1-3 0-3-1-2-1-3-2-3-1-2-2-3-1-3 0-3-1M312 30l3 0 3 1 2 2 2 2 2 2 1 3 2 3 1 3 1 2 1 3 1 3 2 3 2 2 3 1 3 1 2-1 3-1 2-3M232 175l-1-3-1-3-1-3 0-3 1-3 2-2 1-3 1-3 3-2 2-1 3 0 3 0M230 75l-1-3-1-2-1-3 0-3 0-3-1-3 0-3 0-3 0-3 2-3 1-2 2-3 1-2 2-3 2-2 1-3 1-3 0-3M430 132l-2 3-2 2-3 1-3-1-3-1-2-1-2-3-1-3-1-2-1-3 0-3 1-3 0-3 1-3 1-3 1-3 1-3M395 39l-3 1-2 2-3 1-3 1-3 0-3-1M278 115l1 3 2 2 2 2 1 3 1 3 1 3 0 3-2 2-3 0-3 0-3-2-2-1-3-1-3 0-3 0M271 52l2-3 2-2 2-1 3-2 2-2 2-2 3-2 2-2 2-1 3-1 3-1 3 0 3 0M449 11l-2-2-2-2-3-2-2-2-2-2-3-2-2-1-3 0-3 1-3 1-3 1-2 1-3 2-2 2-3 1-2 2M413 20l3-1 2-1 3-2 2-1 3-1 3-1 3 1 3 0 3 1 3 1 3 1 2 1 3 0 3 0 3 0 3 2 2 2 1 3M286 106l2-2 0-3 0-3 1-3 0-3-1-3-1-3M458 164l-1-3-1-3 0-3 0-3-1-3 0-3 0-3 0-3 0-3-2-3-2-2M411 32l-3-2-2-2-3-1-2-2-3-1-2-2-1-3 0-3 1-3M326 175l-2 1-3 2-2 2-3 1-2 2-3 2-2 2M267 8l2 3 1 3 1 3 1 2 3 2 2 2M351 81l-3 2-3 1-2 1-3 1-3 0-3 0-3 1-3 1M370 153l-2 2-2 2-3 2-2 1-3 2-2 2-2 2-2 3 0 3 0 3 0 3 0 3 0 3-1 3 0 3-1 3-1 2-2 3-2 2-1 3M426 100l2-2 1-3 2-2 1-3 1-3 1-3 2-2 2-2 3-1 3-1 2-2 3-2 2-1 3-2 2-1 3-2 1-3 2-2M411 116l0-3 0-3-1-3-2-2-3-1-3 1-3 1-2 2-2 2M422 131l0-3 0-3 1-3 1-3 2-2 2-2 3-2M416 15l-2-2-2-2-3-1-3-1-3-1-3-1-3 0M325 143l-2 2-3 1-3 1-3 0-3 0-3 0-3 1-3 1M317 98l0 3-1 3 0 3-1 2-1 3-1 3-1 3-1 3-1 3-1 3-1 2-2 2-3 2-3 0-3 0-3 0-3 0-3 1-2 1-3 2M423 22l3-1 2-1 3-2 1-3 1-3 1-3 0-3-1-2-2-3-1-3-2-2-3-1-2-2-2-2M455 39l1-3 2-2 3-2 3 0 3-1 3 0 3 1 3 1 2 1 3 2 3 1M378 78l-3 0-3-1-3-1-2-2-1-3-1-3-1-3 0-3 0-3 1-2 2-3 2-2 2-2 2-2 2-3 1-3 1-3 1-2 1-3M372 69l-2-2-3-1-2-2-3-1-3 1-3 0-3 1-3 0-3 0-3 1-3 1-2 2-3 2-1 2-2 3M435 131l3 0 3-1 3 0 3 0 3 1 2 2 3 1 2 2 3 1 2 2 2 2 1 3 1 3M297 39l3-1 3-2 2-1 3-1 3-1 3 0 3 0 3 0 3 0 3 1 2 1 3 1 3 0 3 1 3 1 3 0 3 0 3 1 3 0 3-1M414 116l3 1 3 1 3 1 3 0 3 0 3 1 3 1 2 2 3 1 2 2 3 1 3 1 2 2 2 2 2 2 2 3M277 108l1-2 2-3 0-3-1-3-2-2-3-1-3 0-3 0-3 0-3 0-3 0M229 100l-2-2-2-1-3-2-2-2-2-3-1-2-1-3-1-3-1-3-1-2-2-3-2-2-2-2-2-2-3-1-3 1-3 1-2 2-2 3-1 2M226 173l3 1 3 1 3 0 3 0 3 1 3 1 2 1 3 1 3 2 2 2M407 50l-2-2-2-2-1-3-2-3 0-2 0-3-1-3 0-3-1-3-2-3-1-2-1-3 0-3 2-3 1-3 1-2 1-3-1-3-2-3M368 0l-2 2-2 2-1 3-2 2-1 3-2 2 0 3 0 3 2 3 3 2 2 1 3 0 3-1 2-2 2-2 1-3 1-3 1-3M427 89l3 1 3 1 2 2 3 1 3 2 3 0 3 1M430 49l2-1 2-2 3-2 3-1 3-1 3 1 3 0 2 2 2 2 3 2 2 2 2 2 2 2 2 2 3 2 2 1 3 2 2 2 2 2 1 3 2 3M259 145l-2-3-2-2-1-3-2-2-2-2-1-3-1-3-1-3-1-3 0-3 1-2 1-3 0-3 0-3M456 4l0 3 0 3 0 3 0 3 0 3-1 3-1 3-2 2-2 2-3 2-3 0-2-2-2-2 0-3M426 93l3 2 2 2 1 2 2 3 1 3 2 2 1 3 1 3 2 2 1 3M339 132l-2-2-2-2-1-3-1-2-1-3-1-3 0-3-1-3 0-3-2-3-2-2-2-2-1-3M345 131l-3-1-3 0-3 0-3 1-3 0-2 2-2 3 0 3 2 3 2 2 2 2 2 3 1 2 0 3 0 3-2 2-3 2-2 2-2 2-2 2-2 3"/><path stroke="#6b6b6b" stroke-width="0.6" d="M288 136l0 3 0 3 1 3 1 3 1 3 1 2 0 3 0 3-1 3-1 3-2 2-3 1M385 7l2-2 3-1 3 0 3 0 3 1 2 1 3 2 3 1 3 0 3 0 3-1 3-1 2-2 0-3 0-3-1-3-1-2-2-3-1-3-1-2-2-3M294 157l0 3 0 3 0 3 0 3 1 3 0 3 0 3 1 3 1 3 1 3 1 3 0 3 0 3-1 2M381 44l-3 1-2 1-3 2-2 2-3 2-2 2-2 2-2 2-2 3-1 2-1 3-1 3-1 3-3 1-2 2-3 0-3-1-3-1-2-2M248 101l-3 1-3 1-2 1-3 1-3 2-2 1-3 2-3 1-3 0M223 18l1-2 2-3 2-2 3-1 2-1 3-2 2-2 2-2 2-3 2-1 3-2 3 0 3-1 3 0 3 0 3 0 2 1 3 2 2 2 2 3M343-2l-3 0-3 0-3-1-2-2-2-2-1-3 1-3 1-3 3-1M287 107l0-3 1-3 2-2 3-1 2-2 3-1 3-1 3-1 2-1 3 0 3 0 3 1 3-1 3-1 3 0 3-2 2-2 1-3 1-2 2-3 2-2M259 141l1-3 1-2 0-3-1-3 0-3 0-3-1-3 0-3 1-3 0-3-1-3-1-3-1-3-1-3-2-2-2-2-3-1-3 0-3 0-3 0-3 1M324-6l-1-3 0-3-1-3 0-3 0-3 1-3 1-3 0-3-1-3 0-3-1-3-2-2-2-2-3-2-2-1-3-1-3-1-3 0-3-1M472 18l3 0 2-1 3 0 3-1 3 1 3 1 2 2 3 2 2 2 2 2 3 1 3 0 3 0 3 0 3 0 3 0 3 0 3 0 2 2M374 141l-2 3-2 2-2 3-2 1-3 1-3 1-3 1M430 143l1 2 2 3 1 2 0 3 1 3 0 3 0 3 0 3-1 3-2 2-2 2-3 2-2 1-3 2-3 1-2 2-3 1-3 0-3 0-3 1-3 0-3 0M332 51l3-1 3-1 3-1 3-1 2-2 3-1 2-2 2-2 2-2 2-3 1-3 1-3 1-2 1-3 1-3 2-3 0-3 1-2 1-3M445 136l-2 2-2 2-2 3-2 2 0 3 0 3 1 3 2 3 1 2 2 2 3 2 2 2 3 1M419 48l2 3 2 1 3 2 2 2 3 1 2 2 3 1M426 153l1-3 1-3 1-3 0-3 1-3 0-3-1-3-1-2M335 130l1 3 0 3 1 3 0 3 0 3 0 3 0 3 1 3 1 3 2 2 1 3 3 2 2 1 3 2 3 1 2 2 1 3M234 12l0-3 0-3-1-3-1-2-1-3-1-3 0-3-1-3 0-3 0-3 1-3 1-3M221 68l-2 2-3 1-3 0-3-1-3 0-3-2-2-2-1-3 1-3 2-2 3-1 3-1 3 0M347 145l2-2 2-2 2-2 2-3 1-2 2-3 2-2 1-3 3-2 2-1 3-2 2-2 2-2 1-3 1-3 1-2 1-3 1-3 0-3M245 130l-1-3-1-3-1-2 0-3-1-3 1-3 0-3 1-3 1-3 1-3 2-2 3-2 3-1 2 0 3-1 3-1 3 1 3 0 3 0 3 0M235 27l1 3 1 3 1 2 2 3 1 2 2 3 1 3 1 3 0 3 1 2 1 3 2 3 2 2 2 2 3 1M391 6l-1 3 0 3 0 3-1 3-1 3-2 3-2 2-2 2-2 2-3 1-3 1-2 1-3 0-3 0-3 0-3 0-3 0-3 0-3 0-3 0M391 126l-3-1-3-1-2-2-1-3 0-3 0-3 2-2 3-2 2-1M342 131l2 2 2 2 1 3 1 3 1 3 2 2 1 3 1 3 1 3 1 3 0 3-1 3 0 3-1 3-1 2-1 3-2 2-2 3-3 1-3 0-3 0-2-2M315 80l0 2 1 3 1 3 1 3 0 3 0 3 0 3 1 3 1 3 2 2 1 3M333 103l3-1 3-1 2-2 2-2 1-3 0-3 0-3M399 42l1-3 1-3 2-2 2-2 2-2 2-2 2-2 2-3 2-3 1-2 2-2 2-2 3-2 2-2 3-2 2-2 2-2 2-2 3-1 3-1 3-1 3 1M340 88l-2 2-2 2-2 2-2 3-2 2-3 2-1 3M298 168l-2-2-1-3-3-2-2-1-3-1-3-1-2-3-2-2-1-3-2-2-1-3-1-3-1-3 1-3 0-3 1-2 2-3 1-3 2-2 2-2 2-2 2-2M432 65l2-1 3-1 3-2 3 0 3-1 3 0 3 0 3 1 2 1 2 2 1 3M468 6l1-3 1-3 1-2 1-3 1-3 1-3 3-2 3-1 3 0 3 0 2-1 3-1 3-2 2-1 3-2 3-1M355 42l3 0 3 0 3 1 2 2 2 2 1 3 1 3 0 3 0 3 0 3 0 3 1 3 1 2 2 3 1 2 2 3 2 2 1 3 3 2 2 2M353 76l1-2 1-3 1-3 1-3 0-3 1-3-1-3M351-3l2-2 3 0 3 0 3 0 3 1 3 1 2 1 3 1 3 1 3 1 3 1 2 2 3 2 2 1 3 1 3 2 2 2M358 100l-1-3 0-3-1-2-2-3-2-2-1-3 0-3 1-3 1-3 2-2 2-2 2-2 3-2 2-2 3-1 3-1 3 0M222 148l1 3 1 3 1 3 0 3-1 3 0 3 1 3 1 3 1 2 3 2 2 1 3 1 3 0 3 0M461-5l0-3-1-3-1-3-2-2-2-2-3-1-3-1-3 0-3 0-3-1-3-1-2-2-2-2-2-2-1-3-1-3 0-3 0-3 0-3 1-3 2-2 1-3M331 78l2-1 3-1 2-3 1-2 1-3 0-3 0-3 1-3 2-2M452 164l1-3 1-3 2-2 1-3 0-3-1-3-1-3-2-2-2-2-3-1-2-3-1-2 0-3 0-3-1-3 0-3M442 164l1 3 1 2 3 2 1 3 2 2 1 3 2 2 2 3 2 2 2 2 2 2 3 1 3 1 3 1 3 0 3 1 3 0 3 0 3 0 3 0 3 0M471 30l0-3 0-3 0-3-1-3 1-3 2-2 2-2M333 166l2-3 1-3 0-3-1-3-1-2-2-3-2-2-2-2-2-2-2-3-1-3-1-3 0-3-1-2 0-3 0-3 0-3M377-12l-2 1-3 2-2 2-1 3 0 3 0 3 0 3 1 3M259 9l3-1 3 0 3-1 2-1 3-1 3-1 3 0 3 1 3 1 3 1 3 0 3 0 2-1 3-1 3-1 3-1M434 23l-2-1-3-1-3-2-1-2-1-3 0-3 1-3 1-3 1-3 2-2 2-3 1-2 0-3 0-3 0-3 1-3M427 80l-1-3-1-2-2-3-2-2-2-2-2-2-3-1-3-1-3 0-3 1M322 89l-2 2-3 2-3 1-3 1-2 1-3 2-2 2-3 1-2 1-3 1M317 66l-3 0-3 0-3 1-3 1-3 1-3 1-3 0-3 0-3-1-3 1-2 1-3 2-2 2-2 3M438 142l-3 1-3 0-3-1-3-1-3 0-3 0-3 1-3 1-2 2-2 3-1 2-1 3-1 3-1 3-1 3-2 2-1 3-2 2-1 3-1 3M244 155l2 2 1 3 1 3 1 3 1 2 2 3 2 2 2 2 3 0 3 0 3 0 3 1M262 132l3-1 2-2 3-1 3-1 3-1 3-1 3 1 3 0 2 1 3 1 3 2 2 2 2 2 2 2 2 2 2 2 2 2M267 27l-1-3 0-3 1-3 1-3 1-2 2-3 3-1 2-2 3-1M441 85l1 3 2 2 1 3 0 3 1 3 1 3 0 3-1 3M391 140l0-3 1-3-1-3-1-3-1-3-1-2-1-3-2-2-2-2-3-2-2-2-3-1M283 88l0 3 1 3 1 3 1 3 1 2 1 3 0 3 1 3-1 3-2 2-2 2-2 3-2 2-3 2M355 50l-2 1-3 0-3 0-3 0-3 0-3 0-3 1-3 1-3 0-3 0-3 0-3 0-3 0-3-1-2-2-2-2-2-3M249 152l1 3 1 3 0 3 0 3 1 2 1 3 1 3 1 3 1 3 3 2 2 1 3 0 3-2 1-2 2-3 2-2 2-3M338 45l3-1 3-1 2-2 3-1 3-1 3-1 3 0 3 0 3 0 3 0 2-1 3-2 2-2 1-3M373 56l3 0 3 0 3 1 2 2 2 3 1 3 1 3 1 2 2 3 1 2M445 10l-3 1-3 1-3 1-2 2-1 3 0 3 1 3 2 2 3 1 3 2 2 1 3 2 2 2 1 3M354 22l2 2 2 2 3 2 2 1 3 1 3 2 2 1 3 1 3 1 2 2 3 1 3 1 3 1 3 1 2 1 2 2M296 145l0-3-1-2 0-3 0-3 0-3 0-3 1-3 0-3 0-3 1-3 2-3 1-2 2-2 3-2 3 1 3 1 2 2 0 3M260 130l-2 2-2 2-1 3-1 3-2 3-2 2-2 2-2 2-1 3-1 3-2 2-1 3M311 45l-2-3-1-3-1-2-1-3-1-3 0-3 0-3 1-3 1-3 2-2 2-2 3 0 3 1 3 0 3-1 3-1 3-1 2-2 2-2 1-3M217 5l3-1 3 0 3 0 3-1 3 0 3 0 3-1 3 0M329 114l0 3 0 2 2 3 2 2 2 3 1 2 2 3 2 2 1 3 0 3 1 3 1 3 0 3-1 2-2 3-2 1M381 96l-1 3-2 2-2 2-2 2-2 2-3 2-2 3-2 2-1 2-2 3-1 2-1 3 0 3M215 152l-1 3-1 2-2 3-2 2-2 2-2 2-3 2-2 2-2 2-2 2-1 3-2 2-1 3-1 3M236 47l-1 3-1 3-1 3-2 3 0 2-1 3 0 3 0 3 2 3 2 2M284 17l-1 3-1 2-1 3-2 3-1 2-2 3-2 2-1 3-2 3-1 2 0 3M249 151l-1 3-1 3 0 3 0 3 0 3 0 3 0 3 1 3 1 3 1 3 1 2 2 3M319 60l-3 0-3 0-3 0-3 0-3 0-3 1-3 0-3 1-3 0-3 0-3 0-2 1M301 127l-1-3-2-2-2-3-2-2-2-2-2-2-1-3 1-3 1-3 1-2M256 135l-2 1-3 2-2 2-2 2-2 3-2 2-2 2-2 2-2 3-2 2-1 3-1 3-1 2 0 3 0 3 1 3 0 3 1 3M363 116l0-3-1-3-1-3-1-2-2-3-1-2-2-3-2-2-2-2-2-2-2-3-2-2-2-2-2-2M326 125l2 2 3 1 3 1 3 0 3 0 3 0 3 0 3-1 3-1 2-1 3-2 2-2 2-2 2-2 2-3 2-2 1-3 2-2M439 55l-1-3-2-2-3-1-3-1-3 0-3 2-2 1-3 2-2 2-2 2-2 2M464 169l-1-3 1-3 2-2 1-3 2-2 2-2 3-2 2-2 2-2 3-2 2-2 3-1M216 142l1 2 1 3 0 3-1 3 0 3 1 3 1 3 2 2 2 2M462 81l3 0 3-1 3 1 2 1 3 2 3 1 3 1 2 1 3 2 1 3 1 3-1 3-1 3-1 2-2 3-1 2-3 2-3 0-3-1-2-2M326 6l2 2 3 1 3 0 3-1 3-1 3-1 3 0M212-9l3 1 3 1 2 2 2 3 1 2 2 2 2 3 3 1 3 1 3 0 3 0 2-2 2-2 1-3 0-3 1-3-1-3-1-3M412-11l2-2 2-2 2-2 3-2 2-2 2-2 1-3 2-2 2-3 1-2 1-3 0-3-2-3-3-1-3 0M385 4l1 3 0 3-1 3 0 3-1 3 0 3-1 3-2 2-3 2-3 1-3 0-3-1-3 0-3-1-3 0-2-1-3-1-3-1-3-1-2-2-2-3M395 96l-1 3-1 3-1 3-1 2-1 3-2 3-1 2-1 3-1 3-1 3-2 2-2 3-3 1-2 1-3 1-3 1-3 1-3 1-3 1-2 1-3 1M346 148l3 0 3 0 3-1 3-2 1-2 1-3 1-3M402-2l2 2 3 1 2 2 3 2 3 1 3 0 3 0 3 0 2 1 3 1 3 2 2 2 2 2M456 105l2 3 1 2 2 3 1 2 0 3-1 3-2 3-2 2-2 2-1 3-1 3-1 3M282 124l-2-1-3-1-3-1-3-1-2-2-2-2-2-3-1-2-1-3-1-3M347 140l1-2 1-3 2-2 2-2 3-1 3 0 3-1 3-1 3-1 3-1 2-1 3-2 2-2 2-2 2-2 2-2 2-2 2-2 3-2 3 0 3 0M344 115l2 3 2 2 1 3 1 3 0 3 0 3-2 2-3 2-2 0-3 0-3-1-3-2-3-1-3-1-3 1-2 1M377 148l0 3 0 3 1 3 0 3-1 3 0 3-1 3-2 2-2 3-2 2-3 1-2 2-2 2-2 2-2 2-2 3-1 2-1 3 0 3 0 3 0 3-1 3M452 55l-3 1-2 2-2 2-2 2-3 3-2 2-1 2M234-1l1-3 1-3 1-3 1-2 1-3 1-3 1-3 1-3 1-2 2-3 2-2 3-1 3-1 3 0 3 0M304 94l1 3 1 3 0 3 0 3 0 3 0 3-1 3-1 3-2 2-3 1-3 2-2 1-3 0-3 1-3 0-3 0-3 0-3 2-2 2-1 2M277 133l-1 3 0 3 0 3 1 3 2 2 0 3 0 3-1 3-1 3-2 2-3 2-3 1-2 1-3 1-3 1-3 1-2 1-3 2-2 2-2 2-1 3M303 27l-1 3-2 2-3 2-2 2-3 1-3 1-2 1M436 6l0-3-1-3 1-2 0-3 1-3 0-3 1-3 0-3 0-3 0-3-1-3-1-3-1-3-1-3-1-2-1-3 0-3 0-3 0-3 1-3 1-3M259 66l0 3 2 2 1 3 3 2 2 2 2 1 2 3M308 42l3 1 3 1 3 1 2 2 3 1 1 3 1 3 1 3 0 3 2 2 2 2 3 1 3-1 3-1 3-1 2-1M367 126l3 0 3-1 2-1 3-2 1-3 2-2 2-3 1-2 2-3 0-3 1-3-1-3 0-3-2-2-1-3-3-1-3 0M259 71l-3-1-3 0-2-1-3-2-2-2-2-2-2-2-2-3-2-2-2-2-2-3-1-2-2-3-1-2-2-3-2-2M336 48l3 1 3 1 3 0 2 1 3 1 3 1 3 2 1 2 2 3 1 3 2 2 1 3M441 31l-2 3-2 2-2 3-1 2-2 3 1 3 1 3 1 2 2 3 1 3M241 152l3 0 3 1 3 1 2 2 2 2 2 2 3 1 3 1 3 1M214 33l1 3 2 2 1 3 1 3 1 3 1 2 0 3-1 3-3 2-2 2-3 1-2 2-2 2-2 2-3 2M353 12l-3-1-3-1-3 0-2 2-2 2-1 3 0 3 0 3 1 3 1 3 1 3 1 3 1 2 0 3-1 3-1 3-2 2-2 3M351 173l-3 1-3 1-2 1-2 2-2 3-1 3-2 2-1 3-1 2-3 2-3 1-3 1M267 158l2-3 0-3 1-3 0-3 0-3-1-3-1-2-2-3-3-1-3-1-3 0-3 1-2 0-3 1-3 1-3 1-3 0-3 0-3 1M325 28l-2-2-1-3-1-2-1-3-1-3 0-3-1-3 0-3 0-3 0-3 1-3 0-3 1-3 2-2 2-3 2-2 2-2 1-3 1-3-1-3 0-3M335 108l2 1 2 2 2 2 3 2 1 3 2 2 1 3 2 3 1 3 0 3 0 2 1 3-1 3-1 3 0 3M425 28l0 3-1 3 0 3 0 3 0 3-1 3-2 2-1 3-2 2-2 2-2 3-1 2 0 3 2 3 2 2 3 0 3 0 3-1 3-1 3 1M340 108l-3-1-2-2-3-2-3-1-2-1-3-1-3-1-3 0-3 1-3 0-3 1-3 0-3 0-3 1-3 0-3 1-3 0-3 0-2-2-2-2-3-2-2-2M418 174l-3-1-3 0-3 0-3 1-2 1-3 1-3 1-3 0-3-1-3 0-3-1-3 0M453-12l0-3 0-3 0-3-1-3 0-3-1-3M262 121l3 0 3 1 2 1 3 1 3 2 2 2 2 2 3 1 3 1 2-1 2-2 2-3 0-3 1-3 1-3 0-3 0-3 1-3M214 74l-3 1-3 1-3 0-3-1-3-1-3-1-3 0-2-1-3-1-3-2-3 0-3 0-3 0-3-1M403 145l-3 1-2 1-3 1-3 0-3 1-3 1-3 0-3 1-3-1-3-1-3 0-3-1-3 0-2 1-3 2-3 0-3 0-3-1-2-2M317 82l3 0 2-1 3-1 2-3 1-2 0-3 0-3-1-3-1-3-1-3 0-3-1-3 1-3 1-2 2-2 3-1 3-1 3 0M300-14l-2-2-2-2-2-2-2-2-1-3-1-3 0-3-1-3-2-2-2-3-1-2-2-3 0-3-1-3 0-3 0-3 1-3 0-3-2-2M347 135l-1-3-2-3-1-2-2-3-2-2-2-2-1-3-1-3-1-3-2-2-2-2-2-2-3-2-2-1-3 0-3-1-3 0M250 94l1 3 2 2 3 1 3 1 3 0 3 0 3 0 3-1 2-2 3-1 3 0 3-1 3-2M380 105l-3 1-3 1-3 0-3 0-3 0-3-1-3 0-3 0-3 1-3 0-3 0-3 0-3 0-3 1-3 1-3 0-3 0-3 0-3 0M220 3l0-3-1-3 1-3 2-2 3-1 3 0 3 1 2 1 3 1 3 1 3 1 3 0 3 0 3-1 2 0M388 36l0 3 0 3 0 3-1 3-1 2-1 3 0 3-1 3-2 3-2 1-3 1-3-1-2-3-1-2 0-3 2-3 2-2 3-1 3-1 3-1 3-1M251 93l3-2 2-2 3-1 2-2 3-1 2-2 2-2 1-3 1-3 0-3-1-3 0-3 1-3 1-3M354-8l-1 3 0 3-1 3 0 3 0 3 0 3 0 3-1 3-2 2-2 3-3 1-3 0-3 1-3-1-3-1-2-2-3-1-3-1-2-2M300 45l-2 2-2 2-2 2-3 2-2 1-3 1-3 1-3 1-3 0-3 1-3 0-3-1-2-2-1-3M286 67l1-2 2-3-1-3-1-2-2-2-3 0-3 1-3 1-2 2-3 2-1 2-2 3-1 3 0 3 0 3 1 3 0 3 2 2 1 3 2 3 0 2M247 69l3-1 2-1 3 0 3 0 3 1 3 0 3 2 3 1 2 1 3 2 2 2M438 2l-1-3 0-3 1-3 0-3 0-3 0-3 0-3-1-2-2-3M406 92l1 3-1 3-1 3-2 2-2 2-2 2-2 3-2 2-3 1-2 2-2 2-3 2-2 2-1 3-1 3 0 3 0 3M364 101l-2 2-3 1-2 1-3 0-3 0-3 0-3-1-3-1-3-2-2-1-3-2-2-2-2-2-1-3-1-3 0-3M282 50l2-1 2-2 2-2 2-3 1-3 1-3 0-3-1-2-1-3 0-3-1-3-1-3-1-3-2-2-3-2M254 74l3 0 2-1 3-1 3-1 3-2 1-2 2-3 1-2 1-3 1-3 0-3M382 62l-3 0-2-1-3-2-3-2-2-2-2-2-1-2-2-3-1-3-1-2-1-3-2-3 0-3 0-3 2-2 2-1 3 0 3 1M363 126l-3 0-3 0-3 1-3 1-2 1-2 2-3 2-2 2-3 2-2 1-3 1-3 0-3 1-3 0-3 0-3-1-3-2-2-1M378 76l0-3 1-3 1-2 2-2 2-3 1-3 1-2 0-3-2-3-2-2-1-3M233 93l1 3 1 2 1 3 1 3 1 3 1 3 1 3 2 2 2 2 3 2 3 1 3 0 3 0 2-1 3-2 3-1M349 64l0-3 0-3-1-3 0-3-1-3-1-3-2-3-2-2-2-2-3-1-3-1-2-1-3 0-3 0-3 1-3 1-3 2-2 2M243 118l2 3 1 3 0 3 0 3 1 3 1 2 2 3 1 3 1 2 2 3 1 3 1 3 2 2M287 72l3 1 3 0 3-1 2-3 0-3-1-2-2-3-3-1-3-2-2-1-3-1M376 89l-1-3-1-3-1-3 0-3 0-3 0-3 0-3 1-3 2-2 1-3 2-2 2-3 2-2 1-3 2-2M269 91l2-2 2-2 3-2 3-1 3 0 3 1 3 0 3 1 3 0 3-1M447 157l-1 3-1 3-1 2-2 3-3 1-3 1-3 1-3 0-3 0-3 0-3 0-3 1-2 1M360 107l-3 2-2 2-1 3 0 3 1 3 2 2 2 3 1 2 3 2 2 2M250 72l-3 0-3-1-3 0-3 0-3 1-3 0-3 2-3 1-2 1-3 1-3 1-3 0-3 0-3-1-3 0-3-1-2-1-3-2M464 169l-1-3-1-3-1-2 1-3 1-3 3-2 3-1 2-1 3-2 1-2 3-2 2-3 2-1 3-2 2-2 3-1 2-2M274 13l2-2 2-3 1-3-1-3 0-2-2-3-3-2-2-1-2-3-2-2M349 133l3 1 3 0 3 1 3 0 2-1 3-2 3-1 2-2 3 0 3 1 2 2 2 3 0 3-2 2-2 2-3 1M265 9l-3 0-3 0-3 0-3-1-3 1-3 0-3-1-2-1-3 0-3 0-3 1-3 2-2 2-1 3-1 3 0 3 0 3 0 3 1 3 2 2 2 2 3 1 3 0M244 111l-3-1-2-2-3-1-3-1-3-2-2-1-2-2-2-3 0-3 1-2 2-3 2-2 2-1 3-2 2-2 3-1 3 0 3 0 3 0 3 1"/><path stroke="#6b6b6b" stroke-width="0.9" d="M404-10l3 2 2 1 3 1 3 1 3 1 3 1 2 1 3 1 3 1 3 1 3 0 3 0 3 1 2 1 3 2 3 1 2 2M271 9l-3-1-3-2-2-1-3-2-3-1-2-2-2-2-3-2-3-1M406 144l-2-2-1-3-1-3-1-3-1-3-1-2-1-3-2-3-1-3-1-2 0-3 0-3 0-3 0-3 1-3M310 30l2 0 3-1 3-1 3-2 3-1 2-1 3-1 3-1 3 0 3-1 3 0 3-1 2-1 2-2 1-3-2-3-1-2-2-2-2-3-1-3M269 17l3 0 3-1 2-1 2-3 0-3-1-3 0-3-1-3-1-3 0-2-1-3 0-3 0-3 0-3 1-3 2-3 2-2 3-1M312 163l-3-2-1-2-2-2-1-3 0-3 0-3 2-3 2-2 3-1 3-1 3-1 2-1 3-1 3-2 2-2 2-2 1-3 1-3 2-2 1-3 0-3 1-3M471 11l2-2 2-2 1-3-1-3-1-3-2-2-3-1-2-2-2-2-2-3-2-2-1-3-1-3-1-2M227 157l-1 3 0 3-1 3 0 3-1 3-1 2-1 3-1 3-1 3 0 3-1 3M350 142l0 3 1 3 2 2 2 2 3 2 2 1 3 0 3 1 3 0 3 1 3 0 3 0 3-1 3 0 3 0 3 0 3 1 3 0 2 2 1 3 1 3M435 84l-2 2-2 3-1 2-2 3-1 3 0 2-1 3M439 111l-2 2-2 2-3 2-3 1-2 2-1 3 0 3-1 3-1 3-3 1-3 1-3 0-2-1-3-1-3-1-2-2-3-1-2-2-2-3M353 148l-2-2-1-2-2-3-3-1-2-1-3 0-3 0-3-1-3-2-2-2-2-2-1-3M366-2l3-1 3-1 3 1 3 0 3 1 3-1 2-1 1-3 0-3-1-3-2-2M217 152l3 0 3 0 3 1 3 1 3 1 2 2 2 3 2 2 2 2 2 2 1 3 1 3 0 3 1 3 0 3-1 3 0 3M415 69l3 0 2 1 3 0 3 0 3 1 3 1 3 1 3 0 3-1 3 0 3 1 3 1 2 1 3 2 1 3 2 3 1 2 2 3 1 2 1 3M426 19l2 2 2 3 3 1 2 2 3 1 3 1 3 1 3 0 3 1 2 2 3 1 3 1 2 2 3 1 3 0 3 0M218 140l0 3 0 3-1 3-1 2-2 3-3 1-3 1-3 1M299 147l-1-2-1-3-1-3 1-3 1-3 1-3 2-2 2-3 2-1 3-1 3 0 2 2M308 46l-1-2 0-3-1-3 1-3-1-3 0-3-1-3 0-3 1-3 1-3 0-3 1-3 2-2 2-2M463 69l-2-2-2-2-2-2-2-3-1-2-1-3 0-3 1-3 1-3 0-3 1-2 0-3 0-3 0-3-1-3 0-3-1-3-1-3-2-2-2-2-3-2-3-1-3-1M360 91l-1-3-1-2-1-3-3-2-2-2-2-2-2-2-2-3 0-3M308 108l3 1 3 1 2 2 3 1 2 2 3 1 3 2 2 1 3 2 3 1 2 1 3 0 3 0 3-2 2-2 2-3 1-2 0-3-1-3M318 5l2-2 1-3 0-3-1-3-1-2-3-2-3-1-3 0-2 1-2 3-1 3 0 3 1 2M457 104l1-3 1-3 0-3 0-3 1-3 0-3 1-3 0-3 0-3 0-3 0-3-1-3-1-2-1-3-3-2-3-1-3 1-2 1-3 2-2 2-2 2M389 42l1 2 1 3 2 3 1 2 1 3 1 3 2 2 1 3 2 2 2 3 2 2 3 2 2 1 3 1 3 1 3 1M266 140l1 3 2 2 2 2 2 3 2 2 3 1 3 0 3 0 2-1 2-3 0-3 0-3 0-3-1-3M311 140l-1 3-1 3-1 3-2 3-2 1-3 1-3 0-3 0-3 0-3 2-2 1M315 26l-2 1-3 1-3 2-2 2-2 1-3 2-2 2-2 2-2 3-2 2-2 2-3 2-2 1-3 1-3 0-3-1-2-1-2-3 0-3 0-3M453 64l1 2 2 3 2 2 1 3 0 3-1 3-2 2-2 2-2 2-2 2M319 153l0 3-2 3-2 2-2 2-3 1-3 0-3 1-3 2-2 1-3 1-3 1-3 1-3 0-3 0-3 1-2 1M439 66l-3 0-3 1-3 1-3 2-2 1-2 3-1 2-1 3-1 3 1 3M309 49l-3-1-3 0-3 0-3-1-3-1-2-1-3-2-2-2-2-2-1-3-2-2-1-3-1-3-2-3-2-2M260 80l3-2 2-1 3-3 1-2 1-3 0-3-1-3 0-3 0-3-1-3 1-3 0-3 1-2 2-3 2-2M290 138l-3-1-3 0-3 0-3-1-3-1-2-1M355 95l3 1 3 1 3 0 2 1 3 0 3 0 3-1 3-1 2-2 1-3 1-3-1-3 0-2-2-3-2-3M334 32l0 3-2 3-1 2-2 3 0 3 1 3 1 2 2 3 2 2 3 2 2 0 3 0 3 0 3 0 3-1M376 164l-2 3-1 2-2 2-2 3-2 3 0 2 0 3 2 3 2 2 2 3 1 2 2 2 3 2 1 3 1 3M377 172l-2-3-1-2-1-3-2-2-3-2-3 0-3 1-2 2-3 1-3 1-2 2-3 0M271 117l-3 0-3-1-3 0-3 0-3 0-3 0-3-1-3-2-2-1-3-1M370 4l3-1 2 1 2 3 2 2 1 3 1 3 1 3 0 3 0 3-1 2-1 3-2 3-3 1-3 0M316 1l0 3 0 3-2 2-2 2-3 2-2 2-3 1M444 107l2 2 3 1 3 1 3 1 3 1 3 0 3 0 3 1 3 0 3 0 3-1 2-2 2-2 2-2 1-3M397 163l2 3 2 1 3 1 3 0 3-1 3-1 3-1 3 0 3 0 3 0 3 1 2 1 3 2 3 1 3 1 2-1M424 15l-1 3-1 2 0 3 0 3 1 3 2 3 1 3 2 2 2 2 3 2 3 0 3-1 2-2 1-2 2-3 1-3 1-3 1-2 2-3 2-2 3-1 3 0M374 95l-1-3-1-2-1-3-1-3-1-3-1-3 0-3M369 172l-3 0-3 0-3 0-3 1-3 0-3 1-3 0M437 166l2-2 2-2 3-1 3-1 2-2 3-1 3-1 3 1 2 2 2 2 1 2 2 3 3 2 2 2 3 1 3 0 3 0 2-1 3-1 3-1 2-2 1-3M380 159l3 1 2 2 2 3 1 2 1 3 0 3 1 3 1 3M442 166l-1 2 1 3 0 3 0 3 0 3 0 3M436 47l-2-3-1-2-2-3-2-2-1-3-1-3-1-3 0-2-1-3-2-3-1-3-2-2-1-3 0-3-1-3-1-3-2-2-2-2-3 0-3 2-1 2-1 3M275 11l-3-3-2-2-2-1-3-1-3-2-3 0-3 0M396 162l3 1 3 0 3-1 3-1 3-1 2-2 3-1 3-1 3-1 2-1 3 0 3-1 3-1 3-1 3 0 3 0 3-1 3 0 3-1 3 0 3 1M442 19l3 1 2 2 2 2 1 3-1 3-1 2-3 2-3 2-2 0-3 1-3 1-3 1-2 2-3 2-2 1-3 2-3 1-3 0-3 1-3 0-2-1M401-7l3-1 3 0 3 0 3 2 3 0 3 1 3 0 3 0M228 169l-2 1-3 0-3 1-3 2-2 1-3 2-2 1-3 2-2 2 0 3M443 125l-1-3-1-3-1-2-1-3-1-3 0-3 0-3 1-3 1-2 2-2 2-3 1-3M272 1l1 3 0 3 1 3 1 3 0 3 0 3 0 3-1 3-2 2-3 2-2 2-2 2-2 2-2 2-3 2-3 0-3 1-3-1-2-2-3-2-2-2-2-1-3-2M289 151l-1-3 0-3 0-3-2-3-1-3-2-2-2-2-2-3M266-10l-2 2-1 3-1 3-1 3-2 2-2 2-2 3-2 1-3 1-3-1M297-12l-3-1-3 1-3 1-3 1-2 2-2 2-1 3-2 3-2 2-1 2M365 61l-2-1-3-2-2-1-3-2-3-1-3 0-3 1-2 2-3 1-2 2-3 2-2 2-2 2-2 2-3 1-3 1M236-7l2-2 3-2 2-1 3 0 3 1 2 2 2 3 0 3 0 3 0 3 0 3 0 3 0 3 0 3 1 2 2 3 2 2 3 1 2 2 2 3 1 2M292 173l-1-3-1-3-1-2-1-3 0-3 0-3 1-3 1-3 3-2 2-2 3-1 2-1 3-1M325 118l-2-2-1-3-1-3-1-3-1-2-2-3-1-3-2-2-2-2-2-3-1-2-2-3-1-2-1-3M305-12l3 1 3 0 3 1 2 2 2 2 2 2 2 2 2 3 2 2 2 2 0 3 0 3 1 3 0 3 1 3 2 3 2 2M247 40l-2 2-3 0-3 1-3 1-3 0-3-1-3-1-3-1-2-1-3-1-2-2-2-3-2-2-1-3-2-2-1-3-1-3 0-3-2-3-1-2-2-3M240 31l-2 1-3 0-3-2-2-2 0-3-1-3-1-3-2-2-2-2-3-2-3-1-2-1-3-1-3-1-3-2-2-2-1-3-1-3 0-3 1-3M453 25l-3 1-3 0-3 1-3 0-3 1-3 1-2 2-2 3-2 2-2 2-2 2-2 2-3 1-3 1-3 1-3 1-3 0-3-1M365 115l-3-1-3-1-3 0-3 1-3 0-3 1-3 1-3 1-2 1-3 2-2 2-2 2-2 2-3 2-2 3-2 2-2 2-3 1-3 0-3 1-2 1-2 2M262 104l3-2 2-2 2-2 2-3 2-2 2-1 3-2 3-1 2-1 1-3M297 163l-2 2-2 2-1 3-1 3-1 3 1 2 1 3 2 3 2 2 2 2 2 2 3 1 3 0 3 0 3 1 3 0 3 0 3 0M414 132l-3 2-2 2-3 1-3 1-3 1-3 0M235 83l2-2 3-2 2-2 1-3 2-2 2-3 1-2 0-3 1-3 1-3 2-3 1-2 2-2 3-2 3 0 3 0 3 0 3-1 3 0 3-1 3 0M358 63l0-3 2-2 2-2 3 0 3 1 3 2 2 2 2 2M260 39l-1 3 0 3-1 2 0 3 0 3 1 3M335 52l-2 3 0 3 1 3 1 2 3 2 2 2 3 0 3 0 3-2 2-2M325 156l-1 3-1 2-1 3 0 3-1 3-1 3-1 3-1 3 0 3 0 3M388 143l-2-3-1-3-1-2-1-3-1-3 0-3 0-3 0-3-1-3-1-3-1-3-1-2-1-3 0-3 1-3 0-3M367 109l1-3 2-3 1-2 1-3 2-2 2-3 2-2 2-2 3-1 3-1 3-1 3 1 3 0 2 2M266 119l3 2 2 1 3 1 3 0 3-2 1-3 0-3M408 31l-2-3-1-3-2-2-1-3-3-2-2-1-2-2-2-2-2-3-2-2-2-2-3-1-3-1-3 0-3 0-3 1-3 1-3 1-2 1-3 2-2 2M380 126l0-3 1-3 0-3 0-3-1-3-1-2-2-3-3-2-2-1-2-3M412 120l0 3 0 3-1 2-2 3-2 2-2 2-3 0-3 1-3 0-3 0-3 1-3 1-3 1M232 47l0 3-1 3-1 3-2 2-2 2-3 1-3 0-3 1-3 2-2 2-2 2-1 3M373 46l-1-3 0-3-1-3-2-2-1-3-2-2-3-2-2-1-3 0-3 1-3 0-3 0M273 78l2-3 2-1 3-1 3-1 3 1 3 1 3 0 3-1M296 107l1 3 1 2 1 3 0 3 1 3 0 3 0 3-1 3-2 2-3 2-3 0-3 1-2 1-3 1-3 2-2 1-3 2-2 2-1 2-2 3M234 81l2 2 2 3 2 2 3 1 3 1 3 1 2-2 1-3 0-3 0-3-1-3-1-3-1-3-1-2-1-3-1-3-1-3-2-2-1-3-1-3M299 49l-2 3-1 3-1 2-1 3 1 3 2 2 3 1 3 1 3 0 3 1 2 1 2 3 1 3 1 2 1 3 1 3 1 3 1 3M437 135l-1 3-2 2-1 3-2 2-2 3-1 3-1 2 0 3-1 3 0 3 0 3 1 3 0 3 1 3 1 3 0 3 1 3 0 3 1 3 2 2 2 2 3 2M241 7l0 3 1 3 1 2 2 3 1 2 2 3 2 2 2 2 2 3 1 2 1 3M468-12l-2 3-2 2-2 3-1 2-3 2-2 2-3 1-3 0-3 0M328 147l-2-2-3-1-2-2-2-2-2-2-2-2-2-3-3-2-2-2-2-1-3-2-2-2-3-1-2-2-2-3-1-2-2-3-1-3 1-3M267-5l-2-2-2-2-2-3-2-2-3-2-3 0-3 0-3 1-2 1-2 2-3 2-2 2M285 108l0-3 0-3 1-3 1-3 1-3 1-3 1-3 1-2 1-3 1-3 1-3M243 167l-1 3-2 3-2 2-3 1-3 0-3 1-3-1-3 0M256 68l2-2 1-3 1-3 0-3-1-3-1-2-2-3-3-2-2-2-2-2-2-2-3-2-2-2M330 75l2 1 3 2 2 2 2 2 1 3-1 3-1 3-1 3-2 2-1 3-1 2-1 3 0 3 2 3 3 2 2 1 3 1 3 1 3 1 3 0 3 1 3 0M238 87l-3 2-3 1-3 0-3 0-2-2-2-2-2-2-1-3 1-3 1-3 1-3 1-3 1-3 1-2 2-3 1-3 1-2 1-3 2-3M404 47l1 3 2 2 1 3 1 3 1 3 2 2 1 3 2 2 2 3 2 2 3 2 1 2 2 2M218 81l3-2 2-1 3-1 3 1 3 1 3 1 3 1 2 1 3-1 3-2 2-2 2-3 1-2M252 16l-2 2-1 3-1 3-1 2-2 3-2 2-3 2-2 2-2 2-2 2-2 2-2 3-2 1-3 1-3 1-3 0-3 0-3 0-3 0-3 0-3 0M428 174l-2 2-3 1-2 2-3 2-2 1-3 0-3 1-3 2-2 2-1 3-1 2 0 3 1 3 2 2 2 2 2 2M294 157l1 2 3 2 2 1 3 1 3 1 3-1 3-1 2-3 1-2 0-3 0-3-1-3M286 11l-3 1-3 1-2 1-3 0-3 1-3 0-3 0-3 0-3-1-3 1-3 1-3 1M442 19l3 1 3 2 2 2 1 3 2 2 3 1 3 1 3 0 3 0 3 0M361 156l1 3 2 2 1 3 2 2 3 2 3 1 3 0 3 0 3-1 2-2 2-2 3-2 2-2 2-2M241 3l2 1 3 2 2 3 2 2 1 3 1 2 0 3-2 3-1 3-2 2-3 1-3 2-2 1-2 2-3 2-2 2-3 1-3 2M234 18l-1-2 0-3 1-3 2-3 2-2 3-1 3 0 3-1 3-1 2-2 2-2 1-3-1-3-1-2-3-2-2-2-2-2-3-2-2-1M214 76l2 3 1 2 1 3 0 3 0 3 0 3 0 3 0 3 1 3 1 3 0 3 2 3 1 2 2 3 2 2 2 2M408 71l-2-2-3-2-2-1-3-1-3-1-3-2-3-1-2-1-3 0-3-1-3-1-3-2-2-1-3-2M288 103l-3 1-3 1-3 2-2 1-3 1-3 1-3 1-3 0-3 1-3 0-3 1-2 2-3 1-2 1-3 1-3 0-3 1-3 1-2 2M323 61l3 1 2 2 1 3 1 3 0 3 0 3 0 3 0 3-2 2-2 3-2 1-3 0M352 98l3 1 3 0 3 1 3 0 3 0 3-1 3-1 3 0 2-2 3-2 3-1 2 1 3 2 1 2 2 3 0 3 1 3 0 3 0 3 0 3-1 3M238 38l3 1 3 0 2 0 3 0 3-1 3-2 3-1 3-1 2-1 2-2 2-2 2-3 0-3 0-3M308 7l0 3 0 3 1 3 0 3 1 3-1 3 0 3-1 2-2 3-1 3 0 3-1 3-2 2-2 3-2 2-2 1-3 2-3 1-2 1-3 2M408 28l2-2 3-1 3-2 2-2 3-1 2-2 3-1 3-1 3-1 3 1 2 2 2 2 2 2 1 3M326 35l-2-2-2-2-2-3-1-2-1-3 0-3-1-3 0-3-1-3 1-3 0-3 2-2 2-2 3-2 3-1M317 136l3 0 2 0 3 0 3 0 3 1 3 0 3-1 3-2 2-2 2-2 2-2 3-1 3-2M236 151l2 2 3 2 2 1 3 2 3 1 2 1 3 1 2 2 3 1 3 2 3 1 2 1 3 1 3 1 3 1 3 0 3 0 3 0 3 1 3 0 3 0M233 13l2-1 3-1 3-1 3 0 3-1 3 0 3 0M324 69l1-3 1-3 1-3 1-3 1-3 0-2 1-3 2-3 2-2 2-3 1-2 2-3 2-2 3-1 2-2 2-2 3-2 2-1 3 0M265 163l-2-3-1-3-2-2-1-3-1-3-2-2-1-3 0-3-1-3 0-3-1-3-1-3 0-3-2-2-2-3-1-2-1-3 0-3 1-3-1-3-2-3M326-13l-3 0-3 0-2 2-2 2-1 3-1 3 0 3M395 89l2 2 2 2 2 2 2 2 2 3 1 3 1 3 0 2 1 3 0 3 0 3-1 3 0 3 1 3 0 3 0 3 0 3 0 3M228 163l1 2 2 3 1 3 0 3 1 3 2 2 2 3 1 2 3 2 3 1 3-1M347 27l0 3 0 3 0 3 1 3 1 3 2 2 2 2 2 3 2 2 2 2 2 2 3 2 2 2 1 2 2 3 1 2 2 3 2 2 1 3 1 3 1 3 0 3M464 121l3 0 3 1 2 2 3 2 2 2 3 1 3 1 2 1 3 2 2 2 1 3 0 3 1 2M394-12l-3 0-3 1-3 1-3 1 0 3 0 3 2 3 1 2 2 3 1 3 1 3 1 3 0 2 1 3 1 3M232 18l2 3 2 2 3 1 3 0 3 0 2-2 3-1 2-2 2-2 3-2 2-2 3-1M391 45l-2 0-3-2-2-2-3-1-3-2-2-2-2-1-3 0-3-1-3 0-3 0M256 58l-3 1-3 0-3 0-3-1-3-1-3-1-2-2-3-1-3-1-3-1-3 0-3 0-3 0-3-1-3-1-3 0-2 2-3 1-2 2-2 2-3 1-3 1-3 2M340 40l3 0 3 1 3 0 3 0 3 1 3 0 3 1 2 0 3 1 3 2 2 1 2 3 3 2 2 1M283 141l-3 1-2 2-3 1-3 2-2 2-2 1-3 1M337 33l-2-1-3-1-3 0-3-1-3-1-3-1-2-2-3-1-2-2-3-2-1-2-2-3M251 125l3-2 3-1 2-2 3-2 2-1 3-2 2-2 3-1 2-2 2-2 2-2 2-3 2-2 2-2 1-3 1-3 1-3M437 173l0-3-1-3-1-3-1-3-2-2-2-2-3-1-2-1-3-1-3-1-3-1-3 0-3-1-3 0-3-1-3 0-3-1-3-1-2-2-3-1M346 171l-1-2-2-3-2-2-1-3-2-2-3-1-3-1-2-2-2-2M253 149l3 1 3 1 2 2 2 2 2 3 1 3 0 3-1 3-1 2-2 2-3 2-2 2-3 0-3-1-2-2-2-3-1-3 1-3 2-2 3 0M297-6l2-3 1-2 0-3 0-3 0-3-1-3 0-3-1-3 0-3 0-3-1-3-1-3M315 67l-3 1-2 2-2 2-1 3-2 2-1 3-1 3-1 3 1 3 0 3 2 2 2 3 2 1 3 0 3 0 3 0 3 0M264 151l2 2 2 1 3 2 2 3 2 2 1 3 0 3-2 2-2 3-2 2-2 1-3 2-2 2-3 1-3 0-3 0M322 121l2-2 2-2 3 0 3 0 3 0 3 0 3 0 3 0 3 0 3-1 3-1 2-2 3-2 1-2M236 83l-3 0-3 1-3 1-3 1-3 0-3 0-3-1-3 0-3 0M373 20l-2-2-2-2-1-3-2-2-1-3 0-3 2-3 1-2 2-2 2-3 1-3 1-3-1-3-1-2M460 53l-3 0-3-1-3-1-2-2-3-2-1-2-2-3-1-3 0-3 0-3 1-3 2-2M424 108l-3 1-3 0-3 1-3 1-3 0-2 2-3 1M446 71l-1 3 0 2 0 3 1 3 0 3 2 3 1 3 2 2 2 3 2 2 1 2 2 2 3 3 2 1 3 1M244 166l-1-3-1-2-1-3-1-3-2-3-3-1-3-1-3 0-3-1-2 0-3 2-2 2-2 2-1 3-1 3 0 3-1 3M385 12l3 1 3-1 3 0 3-1 2-1 2-3 1-2 2-3 1-3 1-3 0-3 1-3 0-3-1-2-1-3-2-3-2-2M395 117l3 2 2 1 3 2 3 1 2 2 2 2 1 3 1 3M373 49l-3 1-2 2-3 1-2 2-3 2-2 2-2 2-2 2-2 3-1 2"/><path stroke="#7a7a7a" stroke-width="0.6" d="M269 9l3-2 2-1 3-2 3-1 3 0 3-1 3 0 2-1M226 105l0-3 1-3 1-3 2-3 2-2 2-2 2-2 3-1 3-2 2-1 3-1M236 144l-1 2 0 3 0 3 0 3 0 3 1 3 1 3 1 3 0 3-1 3-1 3-1 3M259 154l-2-2-1-3-2-3-1-2-2-3-2-2-2-2-3-1M391 171l3-1 3 0 3 0 3 0 3 1 2 1 3 2 3 0 3 0M293 33l1-3 1-3 1-3 0-3 0-3-1-3-2-2-2-2-2-2-3-2-1-2-2-3-2-2M256-11l-2-2-3-2-2-2-3-1-3 0-2 1-3 1-2 3-1 3-1 3 0 2-1 3 1 3 3 2 3 1 3-1 3-1 2-1 3-2 2-1 3-2M314 20l-2-2-3-2-2-2-2-2-1-3-1-2-1-3 0-3-1-3 0-3 0-3M466 42l1 3 2 2 0 3-1 3-1 3-1 3-1 3-2 2-2 3-2 2-2 2-2 2-2 2-1 3-1 3 0 3M273 58l1 3 0 3 1 3 0 3 1 3 1 3 1 2M456 9l2-2 3-1 3-1 3-1 3 0 3 0 3 1 3 1 2 1 3 1 3 0 3 1 3 2M315 171l2 2 2 3 3 1 2 2 2 2 2 3 2 2 2 2 2 3 1 2 2 3 1 2 2 3 2 2 3 1 2 2 3 0M467 12l-1-3-1-3 0-3 0-3 0-3 1-3 1-2 1-3 0-3 0-3 1-3 2-3 2-2 1-3 1-3 1-3 0-3 2-2 1-3 1-3 1-3M234 154l0 3 0 3-1 3-1 3 0 3-1 2 0 3-1 3 1 3 1 3M460 106l0 3-1 3 0 3-1 3 1 3 1 2 2 3 3 1 3 1 3 0 3-1 3-1 2-2 2-2 1-3 0-3 0-3-1-3M278 1l3-2 2-3 2-2 2-2 2-2 2-2 2-2 3-2 2-2 2-2 3-1 3-1 3 0 3 0 3 0 3 0 3 1M336 13l2 0 3-1 3 0 3-2 3 0 3-1 3 1 3-1 3-1 1-3 2-2-1-3M385 50l1 3 3 2 2 1 3 2 2 1 2 3 3 2 2 2 2 2 2 2 2 3 2 2M249 130l-1 3 0 3 0 3 2 2 2 2 3 2 2 2 2 2 1 3M334 65l-3 0-3 0-3 0-3 1-2 1-3 2-2 1-3 2-1 3-2 3-1 2-1 3-2 3-1 2M380 64l2 0 3-1 3-1 3-1 3-1 3 0 3-1 3 1 2 2 2 2 2 2 3 2 2 2 3 1 2 2 2 2 2 3 1 3 1 2 1 3 2 3M456 132l-3-1-3 0-3 0-3-1-3-1-3 0-3 0-3 0-3-1-3-1-2-2-1-3 0-3M450 33l3 1 3 1 3 1 3 1 3 1 2 2 2 2 2 2 1 3 1 3 0 3-1 3-1 3-1 2-1 3-2 2M432 81l2 3 1 2 1 3 1 3 1 3 1 3 0 3-1 3-2 2-2 2-2 2-3 2-2 1-3 1-3 0-3-1-2-2-1-3M429 118l-3-1-3 0-3 0-3 0-3 0-3 0-3 0M354-10l-3-2-1-2-1-3-1-3 1-3 1-2 2-3 3-1 2-2 2-3 1-3 1-3 1-2 2-3 2-2 2-2M290 90l0-3 1-3 0-3-1-3-2-2-2-2-2-3 0-3-1-3M252 158l2 1 3 0 3 0 3-1 2-2 1-3 1-3 0-3 1-2 2-3 3-1 3-1M345 81l0 3-1 3-1 3-1 2-2 2-3 2-3 0-3 0-3 0-3-1-2-1-3-2-3-1-2-1-3-2-3 0-3-1-3 0-3 0-3 0-3-1-3 0M419 84l2 1 3 2 2 2 1 3 2 2 2 3 1 2 1 3 1 3 1 3 1 3 0 3 0 3-1 2M376 99l2 2 2 2 3 2 2 2 2 2 1 3 0 3-1 3-1 2-1 3M260 108l2 2 2 2 2 2 3 1 3 1 3 0 3 0 3 0 3 0 3 0 2-2 3-2 1-3 0-3 1-3M389 91l3-1 3-1 3 1 3 0 3 1 3 0 3 1 2 1 3 2 2 1M450 83l2-3 2-2 2-2 2-2 3-2 3-1 2-1 3 0 3-1 3-1 3 0 3 1 3 1 2 2 2 2 2 2 3 2 3 1 2 2 2 1 3 2M329 152l1 2 1 3 2 3 1 3 0 3 0 3-1 2-2 3-2 2-2 2-3 1-3 1M301 172l0-3 0-3-1-3-2-3-1-3-1-2-1-3-2-2-3-2-3 0M339 154l1-3 1-3 1-3 1-3 0-3 0-2-2-3-1-3-2-2-3-1-2-1-3 0-3-1-3-1-3-2-2-2-2-2-2-2-1-3-2-2-2-3-2-2M357 78l-3-1-3-1-3 0-3-1-2-1-3-2-2-2-2-2-1-3 0-3 0-3 1-3 1-3M235 110l-1 3-1 3 1 3 1 3 1 2 1 3 1 3 1 3 0 3-1 3-1 3-1 2-1 3-2 3-1 2 1 3 1 3M450 74l-1 3-1 3-1 3-1 2-1 3-2 3 0 3M265 114l2 2 2 3 1 3 2 2 2 2 2 2 3 2 2 2 3 1 2 2 2 2 2 2 3 2 2 1 3 1 3 1 3 1 3 1M393 37l-1 3-1 3-1 2-1 3-2 3-1 2-3 2-2 2-2 2-2 2-3 2-2 2-2 2-1 3-1 3M316 88l-3 1-3 1-3 2-2 1-2 3-2 2-1 3-1 2 0 3 0 3 0 3 0 3 0 3 0 3M431 175l3-2 2-1 3-1 3-1 3-2 2-2 2-2 2-2 2-3 2-2 1-3 2-2M433 142l-2-3-1-2-2-3-1-2-2-3-1-2-2-3 0-3 0-3 0-3 2-3 1-2 1-3 2-3M324 6l-3-2-2-2-2-2-1-2-1-3 0-3 0-3 1-3 2-2 2-3 2-1M245 31l-3 0-3 0-3-2-2-2-2-2 0-3 0-3 2-3M256 49l-1 3-1 3-1 3-1 2-2 3-2 2-2 3-2 1-3 2M240-8l-3 1-3 1-3 1-2 2-2 2-2 2-1 3 0 3 1 3 1 3 2 2M215 9l-3 0-3 1-3 0-3 0-2 1-3 1-3 1-3 0M382 92l-3 0-3 0-3 0-2-2-2-2-2-2-3-2-2-2-3-2-2-2-2-2-2-2-2-2-2-2-3-2-2-1-3-2-2-2 0-3M463 111l-2 3-2 2-2 2-1 3-2 2-2 2-3 2-3 0-3 0-3 0-3 1-3 0-3 1-3 0M273 60l0-3 0-3-1-2-1-3 0-3 0-3 0-3 1-3 0-3 0-3 0-3-2-3-1-2-2-3 0-3-1-3-1-3 0-3-1-3-1-2-1-3M403 175l2-1 3-1 3-1 3-1 3-1 2-1 3-2 1-3 0-3 0-3 1-3 0-3 1-3 2-2 3-1 3-1 3 0M417 85l3 1 3 1 3 0 3 0 3-2 2 0 3 0 3 0 3 1 3 2 3 1 2 1 3 1 3 1 3 1M465 172l-2-1-3-1-3-1-3 0-3-1-3 0-3 0-3 1-2 2-2 2-1 3-1 3 0 3 1 3 1 3 2 2 2 2 2 2 3 2 3 1M361 147l3 0 3 0 3-1 3-1 3-1 3-1 3 0 3 0 2 2 2 2M276 102l-1 3 0 3 0 3 1 3 0 3 1 3 1 3 1 3 2 2 3 1 3 1 3 1 3 0 3-1 2-1 2-2 2-3M411 20l-1-2-2-3-1-3 0-3-1-3 1-2 2-3 2-2 2-2 3-1 3-1 3 0 3 0 3 0 3 0 3 1 2 2 3 2 1 2 1 3 0 3 0 3M378 20l0-3-1-3-1-3-1-2-3-1-3 0-3 1M294 35l3 0 2-1 3-1 3-1 3-1 3-1 3-1 2-1 3-2 3-1 3-1 2-1 3 0 3 0 3 2M228-6l-3 0-3 0-3-1-3-1-3-2-2-1-2-3-2-2-2-3-1-2 0-3 0-3 2-3 2-2M334 51l1-3 2-3 2-2 2-1 3-1 3-1 3 0 3-1 3-1 3 0 3 0 3 0 3 0 3 1M246 100l-3 1-3 2-2 2-2 1-3 2-2 2-1 3-1 3-1 3-1 3 0 3 1 3 0 3 0 3 2 2 3 1 3 1 3 1 3 0 2-1M385 154l-3 0-2 0-3 1-3-1-3-1-3-1-3-2-1-2-2-2-2-2-2-3-2-2-2-2-3-2-2-2M262 113l1 3 1 2 2 3 2 2 3 1 3 1 3 1 2 1 2 2 2 3 2 2 2 2 2 3 1 3-1 3-1 2-2 2M466 79l1 3 2 2 3 1 3 0 2 2 3 1 2 2 3 2 2 2 2 2 1 3 1 3 2 2 1 3M255 134l1 3 2 2 1 3 0 3 1 3 1 3 1 3 1 3 0 3 0 3 0 3-1 3-1 2-2 3-2 2-2 2-2 2-2 3-2 2-2 2-2 2M310 48l-1 3-1 2-1 3-1 3-2 3-1 3-1 2-2 3-1 2-2 3 0 3M438 130l3-2 3-1 2-1 3-1 3-1 3 0 3 0 3 0 3-2 1-2 1-3-1-3 0-3 1-3M341 66l2-2 2-2 3-1 3-1 3-1 3 0M442 132l1 3 1 3 1 3 2 2 3 2 3 0 3 0 3 0 2 0 3 1 3 0 3 0 3 1 3 1 2 2 3 1 3 1 3 0 3-1 3-1 3-1 3 1M365 128l-2 2-1 3-1 3 0 3 1 3 1 2 2 3 3 1 3 1 3 1 2 2 2 2 1 3 1 3 1 2 1 3 0 3M309 86l-3-2-3-1-3 0-2-1-3-2-2-2-1-3 1-3 0-3 0-3 1-3 0-3-1-3M455 38l-2 2-1 3-3 2-2 2-2 2-2 2-3 1-2 2-3 2-2 2-2 2-2 2-2 2-2 2M435 50l3 1 3 0 3 0 3 0 3 0 3 0 2 2 3 1 3 2 1 2 3 2 3 0 2-1 2-2 2-3 0-3 1-3 1-3M220 146l-3 1-3 0-3 1-3 0-3 1-3 1-3 1-2 3-1 2 0 3 0 3 0 3 0 3 0 3 0 3 0 3 0 3 1 3 0 3 1 3 0 3M438 124l2 3 2 2 1 3 0 3-2 3-2 2-2 2-2 2-2 2-2 2-3 2-1 3-2 3-1 2M296 155l0-3 0-3 1-3 0-2 1-3-1-3-1-3-2-3M341 116l-3 0-3 0-3-2-2-2-1-2 0-3 1-3 2-2M221 7l3 0 3 0 3-1 3-1 3-1 2-1 3-2 2-2 1-3 2-3 1-2 1-3-1-3-1-3-2-2-2-2-3-1-3-1M435-8l-1 2-2 2-3 2-3 1-3 0-2-1-2-3M311 105l-1-2-1-3-1-3 0-3-1-3-1-3-3-1-2-2-3-1-2-2-2-2-2-3-2-2-2-3-2-2-2-2-3 0-3-1M404 130l1 3 0 3 1 2 1 3 1 3 1 3 2 2M437-13l-2 3-1 3-1 3-1 2-2 3-1 3M456 114l3-1 3 0 2 1 3 1 3 1 3 0 3 1 3 0 3 0 3-1 2-2 3-2 2-2 2-2 1-3 2-2 2-2 2-3 1-3 1-2 2-3M310 64l3 0 3 0 3-1 3-1 2-1 3-2 3-1 3 1 2 2 3 2 1 2 1 3 0 3 0 3 1 3 0 3 0 3-2 3-2 2-3 0M250 59l3 0 2 1 3 1 3 2 2 2 2 1 2 3 2 2 2 3 2 2 3 1 3 1M470 29l-2 2-1 2-1 3 0 3 0 3 2 3 2 2 2 2 2 2 1 3 0 3 0 3-1 3M277 112l-3 1-3 0-3 1-3 0-3 1-3 1-3 1-3 0-3 0-3 1-3 0-3 1M454 72l-2-3-1-2-3-2-2-2-3-1-3-1-3 0-3-1-2-1-3-1-2-2-3-1-3 0-3 1-3 1-2 2-3 1-3 1-3 1-2-1M345 83l-3 2-2 1-3-1-3 0-3 0-3 0-3 0-3 0-3 1-3 1-2 2-1 3 1 3 2 3 2 2 2 2 2 2 2 3 1 2 1 3M227 54l3-1 3-1 2-2 3-2 2-1 3-1 3-1 3-2 2-2 3-1 3-1 2-1 3-1 3-1 3-1M410 99l0-3-2-3-1-3-1-2-2-3-2-2-2-2-2-2-2-2-1-3-1-3-2-2-1-3 0-3-1-3 1-3 2-3 1-2 2-2 2-3 2-2M390 131l-3 0-3-1-2 0-3 0-3 1-3 0-3 0-3 0-3 0-3-1-3 0-2-2-2-3M423 137l-1 3-2 2-2 2-2 2-2 3-3 2-2 1-3 1-3-1-3-1-2-3-1-2 0-3-1-3 0-3-1-3-1-3 1-3 0-3 1-3 0-3M249 117l2-2 3-1 3 0 3 1 2 2 3 2 2 2 1 3 2 2 2 2 1 3 2 2 2 3 1 2M413 112l-3-1-3-1-2-2-1-3-1-3 0-3 2-2 2-2 3-2 3-1 2-1M440 86l3-1 3 0 3-1 3 0 3-1 3 0 3-1 3-1 2-2 2-2 2-2 2-3 2-3 2-2 2-2 2-2 2-2 2-2 3-2 3 0 3-1M440 7l0 3 0 3 1 3 1 3 2 2 3 1 3 1 2 2 2 2 2 3 1 2 1 3 1 3 1 3 1 3 1 3 0 3 1 3 0 3 0 3-1 3-1 2-2 3M318 78l3-2 2-3 2-1 3-2 3 0 3-1 3 1 2 0 3 2 2 2M419 137l3 2 2 2 2 2 2 2 2 3 2 1 3 2 3 0 3 1 3 0M304 25l0 3-1 3-1 3-1 2-1 3 0 3 1 3-1 3-1 3-1 3-2 2-1 3-2 2-2 3-2 2-1 3M247 168l2-2 3 0 3 0 3 1 2 1 2 3 1 2 2 3 1 3 1 2 2 3 1 3 0 3 0 3 0 3-1 3-1 3-1 2M240 150l-1 3-1 3 0 3-1 3-1 3-1 3-2 2-1 3M319 42l1 3 1 3 0 3 0 3 0 3-1 3 0 3-1 3 0 3 0 3 0 3 0 3-1 3-1 2-3 2M421 27l3 0 3-1 3 0 3-1 3 0 3-1 2-1 3-1M257 69l2-2 2-2 1-3 0-3-1-3-1-3-2-1-3-1-3 0-2 2-2 2-1 3 0 3M456 54l-1-3-1-3-1-3-2-2-2-2-1-3-2-3-2-1-3-2M371 111l-1 3 0 3 0 3 0 3 0 3 1 3 1 3 0 3 0 3 0 3-1 3-2 2-1 3-2 2M359-2l-3-1-3 0-3-2-3-1-2-1-3-1-2-3-3-1-2-1-3-1-3-1-3 0-3-1-3 0-3-1-3 1-3 1M271 132l-2-2-2-3-2-2-2-2-2-3-2-2-3-1M319 2l-2 3-1 2-2 3-3 1-3 1-2 2-2 2-2 3-2 2-1 3-1 3M221 114l-1 2-2 3-2 2-2 2-1 3-1 3 0 3 0 3 1 3 1 3 1 3 0 3-1 3-1 2-2 2-3 2-2 1-3 2-3 1M398 12l0-3 1-3 1-3 2-2 1-3 0-3-1-3-1-3-2-2-2-2-3 0M218 37l2-1 3-1 3-1 3-1 3 0 3-1 3-1 3-1 2-1 3-1 2-2 2-2 2-3 1-2 1-3 0-3M438 171l-2-2-3 0-3 0-3 2-3 1-2 2-1 3-2 2M235 65l-1 3 0 3 0 3 1 3 1 3 1 3 1 2 2 3 1 3 1 2 1 3 1 3M340 23l0-3 0-3 2-2 1-3 2-2 3-2 3-1M405 137l3 2 2 1 3 1 3 1 3 0 3 1 2 2 2 2 2 3 2 2 1 3 1 3 1 2 0 3M416 159l1-2 2-2 3-2 3 0 3 0 2 2 2 2 2 3 2 2M257 53l-2-3 0-3 0-3 0-3 0-3-1-2-2-3-1-3-1-2-1-3-1-3-1-3 0-3 0-3 1-3 1-3 2-2 2-2 1-3 1-3 1-3M453 117l1-2 3-2 1-3 2-2 3-2 3-1 3 0 3 1 2 1 3 1 3 0 3 0 3 2M446 74l-1 2-1 3-1 3-2 3-1 2-2 3-1 2-1 3-1 3-1 3 0 3 0 3 0 3 0 3 1 3 2 3 1 2 1 3 0 3 0 3M444 53l3 1 3 0 3 0 3 0 3 0 3 1 3 1 3 0 3 1 2 1 3 1 3 2 3 1 2 1 3 1 3-1 3-1 2-2 2-2 2-3 1-2 2-3M281 160l-3 0-3-1-3-2-2-1-3-2-2-2-3-1-3-1-3 1-3 1-2 1-3 0-3 1-3 0-3 0-3-1-3 0-3-1-3 0-3 0-3 0-3-1M401 120l2 3 2 2 3 2 2 1 3 2 3 0 3 1 3 0 3 0 3 0 3 0 3-1 3 0 3 0 3 0M271 155l3 1 2 3 2 2 1 3 0 3 0 3-2 2-2 2-2 2-2 2-2 3-2 2-3 2-1 2-2 3-2 2-2 2-2 2M330 119l0-3-1-3 0-3-1-3 1-3 0-3 1-2 0-3M229 175l-1-3-2-3-1-2-3-2-2-1-3 0-3 1-3 2-2 3-2 2-1 2-2 2-3 2-2 2-3 1-3 1-3 1-3 1-2 2-2 2-1 3-2 2M353 103l1-3 0-3 1-3 1-2 1-3 0-3-1-3-1-3-3-2-2-2-2-2-2-2-1-3-1-3 0-3M304 93l-3-1-3 0-3 1-3 1-2 2-1 3-1 3-2 3-1 2-2 2-3 2-3 1-3 1-3 0-3 0-3 1-3 0-2-1-3-1-3-1M396 28l3 1 3 1 2 2 1 2 1 3 1 3 1 3 1 3 2 2 3 1 3 1 3 0 3 0M374 124l3 0 3-2 2-1 3-1 3-2 2-1 3 0 3 0 3 1 3 1 2 2 3 1 3 2 3 0 3-1 2 0 3-1 3-1 3-1 3 0 3-1M213-6l-1-3-1-3 0-3-1-2-1-3-2-2-3-2-3-1-3 0-3 0-2 1-3 0-3 0-3 1-3 0-3 1-3 1-3 1-3-1M213 154l-2-2-1-3-2-2-1-3-1-3 1-3 2-2 3 1 3 0 3 1 2 2 3 2 2 2 2 2 2 2 3 2M300 149l-3-1-2-1-3-2-2-2-2-3-1-2-2-3-1-2-1-3-1-3M361 17l-3 0-3 0-3-1-3 0-3 0-3 1-3 0-3 1M240 161l-2-2-1-3-2-2-1-3-2-3-2-2-3-1-2-2-2-2-3-1-2-2-3-2-2-2-3-1-2-2-2-2-3-2-2-2-3-1M223 82l3 0 2 1 3 2 1 2 0 3-1 3-2 2-3 1-3 1-3-1-3-1-2-1-3-1-3-1-3 0M466 104l3 1 3-1 2-1 3-1 3-1 2-2 1-3 1-3 0-3 1-3M302 90l1-3 1-2 2-3 2-2 1-3 1-3 2-2 1-3 0-3 1-3M451 0l-3 0-3 1-3-1-3 0-3-2-2-1-3-2-2-1-3 0-3 0-3-1-3 0-3 0-3 1-3 1-2 2-1 3 1 2M446 136l-2 3-2 2-1 3 0 3-2 3-2 2-2 2-3 1-3 1-3-1-2-1-2-3-2-2-1-3-1-3-2-2-2-3-2-2-2-2-2-2-2-2-1-3M245 40l-1-3-1-2-1-3-1-3 0-3 1-3 1-3 0-3 2-2 1-3 3-1 3-1 3 0 3 1 3 0 3 1M459 82l2 2 2 2 2 2 2 2 3 2 1 3 1 2 1 3 2 3M237 89l3-1 3 0 3 0 2 2 3 1 2 2 2 3 1 2 2 3 1 2 1 3 1 3 0 3 0 3 0 3M360 29l-1-3-1-2-2-3-2-2-2-2-3-1-3 0-3 0-3 2-1 2-2 2-2 3-2 2-2 3-2 2-2 2-2 2-3 1-3 1-2 2-3 1M245 103l-3 0-3-1-3 0-3 0-3-1-3 0-3 0-3 1-2 2-3 1-2 2-2 2-2 3-1 3-1 2M358 102l-2 3-2 2-2 2-2 2-2 2-2 2-3 2-2 2-2 3-2 2-2 2M389 36l-3 1-3 1-2 1-3 1-3 2-2 1-3 2-2 1-3 2-2 2-2 2-2 2-2 3-3 1-2 2-3 2-2 1-3 2-2 3M399 69l-1 2-2 3-3 1-2 3-1 2-2 3-1 2-2 3-2 2-2 3-1 2-2 2-2 3-2 2-1 3-1 3"/><path stroke="#7a7a7a" stroke-width="0.9" d="M455 69l1 3 0 3 0 3 0 3-1 3 0 2-1 3-1 3-2 2-3 2-2 1M282 86l-3 1-2 1-3 2-3 1-3 0-3 1-3-1-3-1-2-2-1-2-2-3 0-3 0-3 0-3M339 139l-1 3 0 3 0 3 0 3 0 3 0 3 0 3 0 3-1 3-2 3-1 2-2 2M462 145l2 2 2 2 2 3 2 2 1 3 1 3 1 2 0 3 0 3-2 3-1 3M236 88l-3 2-2 1-2 3-1 2-1 3-1 3 0 3 1 3 2 2M290 82l-2 2-1 2 0 3 0 3 2 3 1 3 1 3 1 2 2 3 1 3 0 3 1 3M404 143l1-3 1-3 1-3 2-2 2-2 3-1 3-1 3 0 3 0 3 1 2 1 2 2 2 3 2 2 0 3-1 3-1 3-2 2-2 2-3 2-2 2M436 70l-3 1-3 0-3 0-3 1-2-1-3-1-3-1-3-1-2-2-3 0-3 1-3 2-2 2-1 3-1 3 0 3M230 114l3-1 2-1 3-2 2-2 2-2 2-2 2-2 2-3 1-3 2-2 3-2 2-1 3-1M461 76l0 3 1 3 0 3 1 3 2 2 1 3 1 3 1 3 1 3 0 3 1 3 1 2M394 52l-3 0-3 0-3 1-2 0-3 1-3 1-3 1-3 2-2 1-2 3-1 2-2 3-3 2M236 147l-2-1-3-1-3-1-3-1-2-2-1-2 0-3 2-3 2-2 3 0M259 137l2 2 3 2 2 1 2 2 3 2 3 1 2 1 3 1 3 1 3 0 3 1 3 1 3 1 3 1 2 1 3 2 3 1 2 1 3 1M466 125l0-3-1-3-1-3-1-3-1-3 0-3 0-3 1-3 2-2 3-1 3 0 3 1 3 2 2 2 1 2M291 150l3 0 3-1 3 1 3 0 3 0 3-1 2-1 2-3 2-2-1-3-3-2-3 1-3 0-2 1-3 2M401 8l1 3 1 3 0 3 1 3 1 3 1 3 0 2 0 3 0 3-2 3-3 1-3 1-3 0-3-1-3-1-2-2-3-1-2-2M393 148l3 0 3 0 3 0 3 0 3 1 3 0 3-1 3 0 3 1 3 1M249 101l1 3 0 3 0 3-1 3 0 3-1 3 0 3 0 3 0 3-2 2M466 150l2-2 2-2 2-2 2-3 1-3 0-3 1-3 1-3 1-2 2-3 2-2 2-2 2-2M434 147l-2-2-1-3 0-3 0-3 0-3-1-3-1-3 0-3 0-3 1-3 0-3-1-2-1-3-1-3-1-3-1-3 0-3-1-3 0-3-1-3 0-3M307 71l3 0 3 1 3 1 2 2 3 1 3 1 3 1 2 1 3 2 3 1 3 1 2 2 2 2 2 3 1 2 1 3 0 3 0 3 0 3M436 20l-3-2-2-1-3-1-3-1-3 0-3-1-3-1-3-1-3-1-3 0-3-1-3 1-2 2-2 2-2 2-1 3 0 3 0 3 0 3 1 3M295 30l-1-3 2-3 1-2 2-3 2-2 2-2 2-2 2-3 2-3 2-1 2-2 3-2 2-1 3-1 3 0 3 0 3 1 3 1 3 1 3 0M416 132l-1 3-1 3-2 2-2 3-2 1-3 0-3-2-1-2-1-3-1-3M213 9l-2 2-3 2-1 2-1 3 2 3 1 3 1 2 1 3 0 3 1 3 1 3 0 3-1 3-1 3-1 3-1 2-2 3-2 2-2 3-2 2-2 1M278 157l-1 3-1 3-1 2-1 3 0 3 0 3 2 2 3 2 3 0 3 0 3 0 3 1 3-1 3-2 2 0 3-1 3-1 3 0 3 2 2 2M291 32l-3 0-3 0-3 0-3 0-3-1-3 0-3 0-3-1M225 90l2 2 3 2 2 1 3 1 3 0 3-1 2-1 3-1 3-1M456 139l-1-3-1-3-2-3-1-2-2-3-1-3-1-2-1-3-1-3-3-2-2-2-1-3-2-2 0-3-1-3-2-2M409 38l1 3 1 3 1 3 0 3 1 2 0 3 0 3-1 3-2 3-3 1-3 1-2 1-3 0-3 0-3 0M345 32l-3 2-3 0-3 0-3-1-2-1-3-1-3-1-3-1-2-1-3-2-3-1-3 0-3-1-3 0-3-1-2-1-3-1-3-2-2-1-3-2M410 159l-3 1-3 1-3 0-3 1-3 0-3 1-3 0-2 2M459-8l2 2 2 2 2 2 3 2 2 2 3 1 3 2 2 1 3 1 3 2 2 1 3 2 2 1 3 0 3 0 3-1 3-1 2-2 2-2 3-2 3-1 3-1 3 0M364 92l0-3 0-3 0-3 0-3 0-3-1-3 0-3 1-3 1-2 2-3 2-2 3-2M337 32l2-3 3-1 3-1 3 0 2 0 3 1 3 2 2 2 3 2 2 2 1 3 0 3-1 3-1 2M372 116l2-2 2-3-1-3-1-2-2-2-2-3-2-2-2-2-3-1-3-1-3 0-3-1-3 0-3 1-2 2-3 2-2 2M436 15l1 3 2 3 1 2 1 3 1 3 0 3 0 3 0 3 1 3 1 3 0 3 1 3 2 2 1 3 2 2 2 3 2 2 2 3 2 1 3 1 3 2 2 2 2 2M317 20l1 2 0 3 2 3 1 3 2 2 2 2 3 0 3 0 3 0 3-1 3-2 3-1 2-2 2-1 3-2 3-1 2-3 2-2 1-2 1-3 1-3-1-3 0-3M275 38l-2-1-3-1-2-2-3-2-1-2-3-2-2-2M291 80l-2-2-2-3-1-2-2-3-1-3 0-3-1-3-1-3-1-2-1-3-2-2-3-2-3-1-2-2-3-1-3-2-2-1M300 155l-1-3 1-3 1-3 1-3 1-2 2-3 0-3 1-3 2-2 2-2 3-2M466 82l3-1 3-1 3-1 2 0 3-1 3 1 2 2 2 2 1 3 0 3 0 3-1 3-2 2M304 106l-2-3-1-2-1-3-1-3 0-3 0-3 1-3 1-3 1-2 1-3 2-3 2-2 2-2 3-1 3-1 3-1M421 99l2 2 3 0 3-1 3-1 2-2 3-2 2-2 2-2 2-3 2-2 2-2M365 31l2 2 2 3 2 2 2 2 2 2 2 2 2 3 1 2 0 3 0 3 1 3 1 3 1 3 1 3 2 2 2 2 2 3 2 2 2 2 3 1M375 112l3-1 2-1 3-1 3-1 3-2 2-2 1-2 2-3 0-3 0-3-1-3M338 0l0 3 0 3 1 3 2 3 3 1 3 0 2-1 3-2M368-13l0-3 1-3 2-2 2-2 3-1 3-1 3 0 3 0 3-1 2-2 3-2 1-2 2-3 2-2 2-2 3-1M288 43l-3 1-3 0-3 1-3 0-3 1-3 0-3 0-3-1-2-2-1-3-1-3 1-3 1-3 2-2 2-2 2-2 3-1M406 162l-2 2-3 2-2 2-2 2-2 2-2 2-2 3-1 2M343 115l2 1 3 1 3 1 2 2 3 1 3 0 3-1 3-1 3-1 2-2 3-1 3-1 3 0 2 0 3 2 2 2 1 3 1 2 1 3 0 3 1 3 0 3M450 19l3-1 2-1 3-1 3-2 1-3 1-3 0-3-1-2-1-3-1-3-1-3-2-2-1-3-2-3-3 0-2 1-3 2-1 3 1 3 3 2 2 2 2 2 2 2M308 18l-3 1-3 1-3 1-2 1-3 0-3 1-3 0-3 1-3 0M333 107l1 3 0 3-2 2-2 2-2 2-3 0-3-1-3-1-3-2-1-2-1-3-1-3 1-3 2-2 2-2 3-1M296 118l3-1 3-1 2-2 2-2 1-3 0-3 0-3 0-3 0-3 0-3 1-3 1-3 1-3M300 149l-1-2-1-3-1-3-1-3-2-2-3-1-3-1-3-1-3-1-3-1-2-1-2-2-3-3-2-2-1-2-2-2-3-2-2-2M290 30l-3 0-3 0-2 2-2 2-2 3-1 2 1 3 1 3 2 2 3 2 2 1 3 2 3 1 2 1 3 2 3 1 3 1 2 1 3 1 3 1 3 1 2 2 2 2M315 70l1-2 0-3 0-3-2-3-1-3-1-2-2-3-2-2M246-4l-2 2-1 3-1 3 0 3 2 3 2 2 3 1 2 1 3 0 3 0 3 0 3-1 3-2 2-1 3-2 2-2 2-3 1-2M420 31l-1-2-2-3-2-2-3-2-1-2-2-3-2-2-2-3-2-1-3 0-3 0-3 2-2 1-3 1-3 0-3 1-3 0-3 1-2 2-1 3-1 3 1 3M434-1l3 0 3-1 3 1 3-1 2-1 3-2 2-2 2-2 3-2 2-2 2-2M340 18l-3 2-2 2-1 3-2 2-1 3 0 3 0 3 1 3 0 3 1 3 2 2 2 2 3 2 2 1 3 2 3 1 2 1 3 1 3 1 3 1M416 8l-1-3-1-3-1-3-2-2-2-2-3-1-3-1-3 0-3 0-3 0-3 0-3 0-3-1-3-1M350 134l-2-2-2-2-2-2-3-2-3-1-3 0-3 0-3 1-3-1-3 1-3-1-2 0-3-1-3-1-3 0-3 0M286 157l2-2 3-1 3 0 3 0 3 0 3 0 3-1 3 0 3 0 3 0 3 0 3-1 3-1 2-1 3-1 3 0 3-1M245 160l1 3 1 3 1 3 0 3 0 3-1 3 0 3-1 2-2 3-3 1-3 1-3 0-3-1-2-1-2-2-2-3M358 135l2 0 3 1 3 0 3 0 3 2 2 2 0 3M304 162l-3-2-3 0-3 0-3 0-3 0-3 0-3 0-2 0-3 1-3 0-3 0M239 35l1-3 1-3 1-3 2-2 3-1 2-2 3 0 3 1 2 2 2 3 1 2 1 3 1 3M352 31l1 3 0 3 0 3 1 3 0 3 1 3 0 3 0 3 2 3 2 2 2 2 2 2 3 0 3 0 3 0 3-1 3-2 2-1 2-2M470 86l-1-3 0-3 0-3 0-3 1-2 0-3 1-3 1-3 0-3-1-3 0-3-1-3M366 2l-1-2-2-2-3-2-3-1-2-1-3 0-3-1-3 0-3-1-3 0-3 0M304 90l-2 2-1 3-1 3 0 3 1 3 2 2 3 1 3 0 2 0 3-2 2-2M250 99l1-3 0-3-1-3 0-3 0-3-1-3-1-2-1-3-3-1-3 1-3 2-2 2-2 3-2 2-2 2-1 2-2 3-2 2M433 160l-1-2-3-2-2-1-3-1-3 0-3 0-3 2-2 2-3 2-2 1-2 2-2 3M317 92l-1 3-1 2-1 3-1 3 0 3 0 3 0 3 0 3 0 3 1 3 1 3M432 109l-3 1-3 0-2 3-2 2-2 2-2 2-3 2-2 2-2 2-2 2-2 2-1 3-1 3 0 3-1 3-1 3-2 2-1 3M265 120l-1-3-1-3 0-2-1-3 1-3 0-3 1-3 1-3 3-2 2-1 3-1 3-1 2-2 2-2M407 151l-3-2-3-1-3 0-3 1-3 1-2 1-3 1-3 1-3 1-3 0-3-1-2-1-3 0-3-1-3-1-3-1-3 0-3 1-3 0-3 1-3 1-3 0M396 102l-3-1-3-1-2-2-2-2-1-3 0-3 2-3 2-2 2-2M369 77l2-3 2-2 1-3 2-3 1-2 1-3 1-3 1-3-1-3M365 138l2-2 3-1 3 0 3 1 3 0 3 1 3 2 2 2 2 2 2 2 2 3 2 2 2 2M308 39l1-2 2-3 2-2 2-2 2-2 3-2 2-1 3 0 3-1 3 0 3-1 3 0 3-1M434 44l2-2 2-2 1-3 1-3 0-3-1-3-2-2-3-2-3-1-2 1-3 2-2 2-1 3M230 61l-1 3-1 3-2 2-2 2-2 2-2 2-2 3-2 2 0 3-1 3-1 3-1 3-1 3-2 2M438 10l-1-3-2-3-1-3-1-3 0-3 0-3 0-3 1-2 1-3 2-3 1-2 1-3 2-2 2-3 2-2 2-2 3-1M265 7l2 1 3 2 3 1 2 2 3 1 2 2 3 1 3 1 3 0 3 0 3 0 3 0 3 0 3 0 2 2 2 2 1 3 1 3 0 3M294 51l-3 0-3 0-3-1-3-1-3 0-3 1-3 0-2 2-3 2-2 2-1 3-1 3-1 2-1 3M319 173l-2 3 0 3-1 3-2 3-2 2-2 2-2 2-3 1-3-1-3 0M258 151l2-2 2-2 2-2 3-2 2-2 2-2 2-2 2-2 2-2M360 146l-3 0-3 0-3 0-3 0-3 0-2 2-2 3-1 3-1 2-1 3-1 3-2 2-3 1-3 0-3-1-2-2-2-2-3-2-2-2-3-1M404-3l1 3 0 3 0 3 1 3 1 3 0 3 0 3 0 3 0 3 0 3 0 2 1 3 1 3 1 3 1 3 2 2 1 3 1 3M395 142l-2-2-3-2-2-1-2-3-2-2-2-2-1-3-1-3 0-3 1-3 2-2 2-2 3-2 2-1 3-1 3-1 3-1 2-1 3-2 3-2 2-1M225 140l2 1 3 2 2 2 2 2 2 2 3 2 2 2 2 2 2 2 2 3 2 2 1 3 2 2 3 2 2 1M288 119l3 0 3 1 2 2 2 2 2 3 0 3 0 3-2 2-2 3-2 1-3 1M240 36l-3-1-2-2-3-2-3 0-3-1-2-1-3-2-2-2-3 0-3 1-3 1-2 2-2 2-2 2-3 2-2 2-3 1-2 2-2 2-2 3M418 81l-2 3-2 2-1 2-2 3-3 2-2 1-3 2-3 1-2 0-3 1-3 0-3 2-3 1-2 2-1 2-1 3 0 3 0 3M334 71l-3 1-2 2-2 2-2 2-2 3-1 3-2 2-1 3-3 2-2 1-3 2-2 2M415 113l0-3 0-3 1-3 2-3 1-2 1-3 1-3 1-3 0-3 1-3 1-3 1-3 0-3 0-3 0-3 1-2 3-2 2-2 3-1M290 37l1-3 0-3 1-2 1-3 0-3 1-3 1-3 1-3 1-2 2-3 1-3 2-2 3-2 2-1 3-2 3-1 2-1 3-1 3-1 3-2M422 55l2 3 1 3 1 2 1 3 0 3 0 3-1 3-1 3 0 3-1 3 0 3M398 165l-3 1-3 0-3 0-3-1-3 0-3 0-3 0-3-1-2-1-3-2-3 0-3 0-3 0-3 1-2 1-3 1M448 64l1 3 0 3 1 3 0 3 1 3 2 2 2 2M246 136l-3 2-1 2-1 3-1 3 0 3 0 3 1 3M404 163l1 3 0 3 0 3 1 3 1 2 2 3 3 1 3 1 3 0 3 0 3 0 2 1 3 1 3 1M410 106l-2-2-2-2-1-3-1-3-2-2-2-2-2-2-3-1-3-1-3 0-3 1-3 1-2 2-3 2-2 2-2 2-3 1-3 1M446 139l1-2 1-3 2-3 2-2 2-2 2-2 3 0 3-1 3 0 3-2 2-2 2-2 2-2M450 143l-1 3-1 3 0 3-1 2 0 3 0 3 0 3 0 3 0 3 1 3 1 3M422 16l2 2 3 1 3 0 3-1 3-1 2-1 3-2 2-2 3 0 3 1 2 2 1 3 0 3M329 123l-2-1-3-1-3 0-3 1-3 1-3 0-3 0-3 0-3-1-3-1-2-2-3-1-2-2M426 22l2-1 3-2 1-2 2-3 1-3 0-3-2-3-1-2-2-3-2-2-1-3-2-2-1-3-3-1-3-1-3 0-3 0M407-3l3 0 3 0 3-2 2-2 1-3 1-3 1-2 1-3 0-3-1-3-1-3-1-3 0-3 0-3 1-3 1-2 3-2 2-2M216 161l1-3 0-3-1-3-1-3-2-2-1-3-1-3 0-3 2-2 2-2 3-1 3 0 3 0 3 0 3-1 3 0M291 129l1 3 2 2 3 1 3 1 3 1 3 1 2 0 3 2 3 1 3 1 2 2 2 2 3 1 3 1 2 2 3 1 2 2 2 3 2 2M222 74l2-2 3-1 3-1 3 0 3 1 3 1 3 1 2-2 3-1 2-2 1-3 0-3 0-3M324 81l-2 2-3 2-3 1-3 0-2-1-3-2M380 42l-1 3-1 3 0 3-1 3-1 3-3 2-2 0-3-1-2-2-1-3 1-3 2-2 3-1M287 7l-1-3-1-3-2-2-2-2-2-2-2-2-3-1-3 0-3 0M338 45l-1-3-1-3 0-3 0-3 1-3 2-2 3-1 3 0 2 1 2 2 1 3-1 3-1 2-2 3-3 1-3 2-2 1M386 125l1-3 1-3 0-3 1-3 0-2 2-3 1-3 1-3-1-2-1-3-2-3-2-2-2-2-3-1-2-2-3-1-2-2M447 113l-1-3-2-3-1-2-1-3 0-3 1-3 0-3 1-3-1-3 0-3-2-3-1-2-2-2-2-3-1-2-2-3-3-1-3-1-3 0-3 0-3 2-2 2-2 2M368 21l0-3 1-3 1-3 1-2 2-2 3-2 2-2 2-2 3-2 2-1 3-1 3 0 3 2 3 1 2 2M224 114l2 2 3 1 3 2 3 0 3 0 2-1 3-2 2-2 2-2 2-2 3-1 3-1 3-1 3-1 3-1M278 70l-3 2-3 1-2 2-2 2-1 3 0 3 1 3 1 3 1 2 2 3 1 2 3 2 3 1 3 0M323 119l-3 1-3 0-3 1-3 1-3 0-3 1-3 0-3 0-3-1-2-1M425 55l-2-3 0-3 0-3 1-2 1-3 1-3 1-3 1-3 0-3M293 84l2-2 2-3 2-2 2-2 2-2 2-2 3-1 3-1 3 0 3 1 2 2 2 2 3 1 3 2 3 0 3 0 3-1 2-1M292 136l1 3 1 2 0 3-1 3 0 3-1 3-1 3-2 2-3 2-3 0-3 0M282 83l-1 3-1 2-2 3-2 2-3 1-2 1-3 2-3 1-2 2-3 1-3 2-2 1-3 1-3 1-3 1-3 1-2 1M288 149l3 0 3 1 3 0 3 2 2 2 1 3 1 3-1 3-1 3-1 2-2 3M425 144l3 1 3 0 3 1 3 0 2 1 3 2 2 2 2 2 2 3M253 65l0-3-1-3 1-3 0-3 0-3-1-3-1-3-1-2-1-3-2-3-1-2-2-3-3-1-3-1-3 0-2 2-2 2 0 3 1 3 2 3 2 2M270 2l-3 1-3 0-3 1-3 1-3 0-3 0-2 2-3 2-1 2-2 3-1 2-2 3-2 2-1 3-1 3 1 3 0 3 1 3 1 2M352-14l-3 1-3 1-3 1-3 2-2 1-3 1-3 1-3 0-3-1-2-2-2-3 0-3-1-3-1-3 1-3 0-3M382 168l-2 2-2 2-1 2-2 3-1 3-1 3-1 2 0 3 0 3-1 3M459 43l-3 0-3-1-2-2-3-2-1-3-2-2-1-3-1-3-1-3-1-2 0-3 0-3M391 141l3 2 2 2 2 2 1 3 1 3 0 3-1 3-1 2-2 2-2 3-2 2-1 3-2 2-1 3-1 3 0 3-1 3 0 3 0 3 1 3 2 2 2 2M354 28l-3 0-3 1-3 1-3 1-2 2-3 1-2 2-2 2-2 2-2 3-2 2M469 145l-2-3-1-3 0-3 0-3 1-3 1-2 1-3 2-2 2-3 1-2 1-3 1-3 0-3-1-3-2-2-3-1M303 139l3 1 3 0 3 1 3 0 3 1 2 1 3 2 2 1 3 1 3 0 3 1 3 0 3 0 3-1 3 0 3 0 3-1 3-1 2-3M224 67l1 3 1 2 2 3 2 2 1 3 2 2 3 2 3 1 2 0M246 133l0-3 1-3 0-3-1-3 0-3 2-2 1-3 3-2 2-2 2-2 2-2 2-2 2-3 1-3 0-3 0-3 1-3-1-3-1-2 0-3M381 113l-1 3-2 3-1 2-2 3-2 2-1 3-1 3 0 3 0 3-1 3 1 3 2 2 2 2 3 2 2 0M429 80l-2 2-2 2-2 3 0 3 0 3 1 3 0 3 0 3-1 3-1 2M370 121l-2-3-1-2-2-3-2-2-2-2-2-3-2-2-2-1M298 64l3-2 2-1 3-2 2-2 1-3 2-2 2-3 2-2 2-2 3-2 2-1 2-2 2-2 2-3 1-3 1-2M310 40l-2 2-1 3 0 3 1 3 1 2 1 3 1 3 2 2 2 3 1 2 2 3 1 3 0 3 1 2 1 3M451 131l-2-2-2-2-3-1-2-2-2-2-2-3-2-2-2-3-2-2M300 47l0 3-2 2-1 3-2 2-2 3-2 2-3 1-3 1-3 0M219 91l-3-1-3 0-3 0-3-1-3 0-3-1-3 0-3 0-3 1-3 1-3 1-3 0M382 122l3-2 1-3 1-2 2-3 1-3 0-3 1-3 0-3 1-3 1-3 1-2 1-3 2-2 2-2M471 145l-1 3-1 3-2 2-2 2-3 1-3 0-3 1-3 0-3 1-3 0-3 0-3-1-3 0M385-5l3-1 3 0 3 0 3 0 3 1 3 1 3 2 2 2 1 2 1 3 2 3 1 2 2 3M394 22l0-3 1-3 1-3 2-3 2-2 2-2 2-2 2-2 3-2 2-2 1-2 2-3 2-2 3-2M335 56l-3 1-3 1-3 2-2 0-3 0-3 0-3 1-3 1-3 1-3 0-3-1-2-1-3-1M309 143l-3 1-3 1-3 1-2 1-3 2-3 1-2 1-3 2-2 1"/><path stroke="#8a8a8a" stroke-width="0.6" d="M409 98l-1 2-1 3-1 3 0 3 1 3 3 2 3 0M399 49l1-3-1-3-1-3-2-3-1-2-3-2-2-2-2-2-2-2-2-2-2-3 0-3-1-3 1-3 1-2 2-3 2-2 2-2 2-3 0-3 0-3-1-3-1-2M431 113l1-3 0-3 1-3 0-3 0-3-1-2 0-3 1-3 1-3 1-3 1-3 2-2 2-2 3-2 2-2 3-1 2-2 2-2 2-3 1-3 0-3 1-3M352 162l-1 2-1 3-1 3-1 3-1 3-2 2-1 3 0 3-1 3 0 3 1 3 1 3 1 2 2 2 3 2 2 2 3 2 2 1 2 2 2 3 1 3M313 22l-1 3-1 3-1 2-1 3-1 3-1 3-2 2-2 2M358-8l-1 3 1 3 0 3 2 2 1 3 2 2 2 3 2 1 3 2 2 1 3 1 3 0 3 1 3 1 3 1 2 2 3 2 2 1 3 1 3 1 3 0 3-1 3-1M392 50l3 2 3 1 3 1 2 2 2 2 1 3 1 3 0 3 0 3 1 3M375 70l3 1 3 1 3 1 3 0 3 1 3 0 3 0 2 1 3 2 2 2 1 3 0 3 0 3-2 3-2 2-2 2-3 1-2 1-3 2M438 83l-3 2-2 2-3 1-3 1-3 0-3 0-3-1M258 142l3 1 2 2 3 1 3 1 2 1 3 2 2 2 3 2 1 2 1 3 1 3-1 3 0 3 0 3 0 3 1 3 0 3 0 3M440 90l2 1 3 2 2 2 2 2 2 2 3 2 2 1 2 3 1 2 0 3 0 3-1 3-2 3 0 3 0 3 1 2 3 3 2 1 3 1 2 2 3 2M356 151l-1-2-1-3-1-3 0-3 0-3-1-3 1-3 0-3 1-3 0-3 0-3 0-3 1-3 1-2 2-2M330 169l-3-1-3-2-2-2-2-2-2-2-2-3-1-2-2-3 0-3-1-3 1-3 1-3 2-2 2-2 3-1 2-2 2-2M234 146l-1 3-1 3 0 3 0 3-1 2-2 3-2 2-2 2-3 2-2 1-3 0-3 1-3 0-3-1-3-1M274 124l2-1 3-2 2-2 2-2 3-2 1-2 2-3 1-3 1-2 0-3-1-3-1-3-1-3-1-3-1-3-2-2-2-2-2-2-3-1-3 0-3-1M372 143l3 1 3 0 3 1 3 0 3 0 3 0 3 0 3 0 2 2 1 3 1 3M271 33l-3 0-3 0-3 0-3-1-3 0-3-1-3 0M298 107l3 1 2 2 2 2 3 2 2 2 2 1 3 2 3 1 3 1 2 1 3 1 3 0 3-1 3-1 3-1 2-2 3-1 3-1 3-2 2-2M397 104l-1 3-2 2-3 2-3 0-3 0-3 0-3 0-3 0-3 0-3-1-2-2-2-3 0-2 1-3 1-3 3-1 3-2 3 0 2-1M456 147l0-3 0-3 1-3 0-3 1-3 2-3 2-2 3-1 3-1 2-1 3-1 3 0 3-2 3-1 2-2 2-2 2-2 2-2M317 26l-3-1-3-1-3-1-2-2-3-1-2-2-1-3-2-3-1-2-1-3-1-3 0-3M432 111l-1 3-2 2-2 3-2 2-2 2-2 2-2 2-1 3-1 3-2 2-1 3-2 3-2 2-1 3-1 2-1 3 0 3-2 3-1 3-2 2M441 40l-1 3-2 2-3 2-2 1-3 2-3 1-3 0-3 0-3-1-2-1-3-1M432 120l1-3 1-3 1-3 1-3 2-2 1-3 2-2 2-2 2-2 3-2 3-1 2-1 3-1 3 0 3 1 3 1M263 149l-3 1-3 1-2 2-3 1-3 1-3-1-2-2-3-1-3-2-2-1-3-2M415-13l-1 3-1 3-1 3-1 2-2 3-1 3-1 2-2 3-2 2-1 3-1 3 0 3-1 3 2 3M427 138l1-3 1-3 0-3 0-3 0-3-1-3 1-3 2-2 3-1 2-1 3-1 3 0 3-1 3-1 3-1 3-1 2-2M337 139l-3-2-2-1-3 0-3 0-3 0-3-1-3-1-3-2-2-1-3 0-3-2-2-2-2-2-2-3 0-3-1-3 0-3-1-3 1-3 0-3 2-2M373 50l2 2 2 3 3 2 2 2 2 1 3 2 1 3 2 2 1 3 2 2 2 3 2 2 2 2 2 2M422 88l0 3 2 3 1 2 1 3 1 3 1 3 0 3 1 3 0 3 0 3 1 3-1 3 0 2-1 3M419 159l-2-2-1-3-1-2-2-3-1-3-2-2-2-2-2-2-1-3-2-3-1-3-1-2-2-3-1-2-1-3M468 164l-2-2-2-2-1-3-1-3-1-3 0-3 0-3-2-3-2-2-3 0-3 1-2 1-3 2-3 0-3 0-3-1-3-1-3-1-2-2-1-3 0-3 0-3M410 155l1 3 0 3 0 3 0 3 1 3 0 3 1 3 1 3 1 2 2 3 2 2 1 3 2 2 2 3 3 1 2 1 3 1 3 1M436 161l-1 2-2 3-2 2-3 1-3 0-3 0-3 0-3 0-3-1-2-1-3-1-3-2-2-1-3-1-3-1M299 10l-2-2-2-3-2-1-3-1-3 0-3 1-3 1-2 2-3 1-2 2-3 2M222 8l-3-1-3 0-3-1-3 0-3 0-3 0-3-1-3 0-2-1-3 1-3 1-3 1-3 1-3 1-2 1-3 2-2 1M375 32l2-2 3-1 2-2 3-1 3-1 3-1 3-1 3 0 3 0 3 1 2 1 3 1 3 1 3 0 3-2 2-2 2-2 2-2 2-2 2-2 3-2 2-2 3-2M219 171l-2-2-2-2-2-3-1-3 0-3-2-2-2-2-2-3-1-3-2-2-1-2-3-2-3-1-3-1-2-1-3-2-2-2-1-3 0-3-1-3 0-3 1-3M448 71l0-3 0-3 1-3 1-3 1-3 1-2 2-3 3-1 2-2 3-1 2-2 3-1 3-1 3 0M283 84l3-2 2-2 2-2 2-3 1-3 1-3 0-3 1-2 2-3 1-3 1-3 0-3-1-3M431 138l2-2 3-2 2-1 3-2 2-1 3-1 3 0 3 1 3 1 2 2 1 3 0 3-2 2-2 2-3 2-3 0-3 0M258 120l-1 3 0 3-1 3 0 3 1 3 0 3 0 3-1 3 0 3 1 3 1 3 1 3 2 2 1 2M412 95l2 2 1 3 2 3 0 3 1 3 0 3 1 3 0 3 1 2 1 3 1 3 1 3 1 2 2 3 1 3 0 3 0 3-2 2-2 2M391 124l1-3 1-2 2-3 1-3 2-2 2-3 2-2 2-2 2-1 3-2 3-1 3 1M417-11l-3 0-3 1-3 1-3 0-3 1-3 1-3 0-3 0-3-1-3 0-3 0-3 0-2-1-3-2-2-2-2-2-3-2-1-3-1-2-2-3-2-2-3 0M380 154l2 2 3 1 2 2 2 2 2 2 1 3 1 3 0 3-1 3 0 3-1 3-2 3-1 2-1 3-1 3 0 3-1 3 1 3 0 3 2 2 2 2M295 117l-2 2-3 1-3 1-3 0-3 0-3 0-2 1-3 1-3 2-3 1-3 1-2 1-3 0-3 1-3 0-3 1-3 0M354 146l2-2 2-2 1-3 0-3 0-3-1-3 1-3M306 16l-1-3-1-2-1-3-2-3-2-1-3-1-3 0-3-1-3 0-3 1-3 0-3 1-3 1M384-2l-3 0-3 0-3-1-3-1-3-1-3 1-3 0-2 2-2 2 0 3 2 3 2 2 3 1 3 0 2-1 2-2M308 69l-2-2-3-1-3-2-2-2-3 0-3 0-3 0-3 1-2 2-3 2-2 2-2 1-3 2-3 1-2 0-3-1-3-1-3-1-3-1-2-2-2-2M439 126l2-2 2-3 2-2 2-2 1-3 1-3 2-2 0-3M405 142l-3 1-3 1-3-1-3 0-2-2-3-2-2-2-2-2-2-2-2-2-2-2-2-3-2-2-1-3-2-3-1-2 0-3 0-3 2-3M397 65l-2-3-2-2-3-1-3-1-3-1-3 0-3-1-2-1-3-1-3 0-3-1-3 0-3 0-3 0M343 169l-3 1-3 1-2 1-3 1-3 1-3 0-3-1-3 0-3 0-3 0-3 0-3 0-3 0-3-1-3-1-3-1M332 95l2-1 3-2 2-2 3-2 2-1 3-1 3-1 3-1 3 0 3 0 3-1 3-1 2-1 2-2 3-2 2-2 3-1 3 0 3 1 3 2 2 2 1 2M441 1l0-3 0-3 0-3 0-3 0-2 1-3 0-3 0-3M378 126l-1-3-2-2-2-2-3-2-2-1-3 0-3 0-3 0-3 0M408 89l0 3 0 3-1 3 0 3-1 3-2 2-2 2-2 2-2 3-1 3M214 125l2 3 1 2 1 3 0 3 0 3-1 3 0 3-2 3-3 1-3 0-3 0-3 0M225-13l-1 3-1 3 1 3 1 2 2 2 3 2 3 0 3 0 2-2 3-2 2-1 3-1 3 0 3 0M428 29l-3 1-2 0-3 1-3 1-3 0-3-1-2-2M472 122l2-2 2-2 3-1 3-1 3-2 2-2 1-2 2-3 1-2 2-3 1-3 1-3 1-3 0-2 1-3 2-3 1-3 2-2 2-2M414 53l3 0 3 0 3-1 2 0 3 0 3 1 3 2 1 3 1 3 1 2 1 3 3 2 3 0 2-2 1-3-1-2-1-3-2-2-3-2-2-1M270 162l-2 3-1 3-1 3-2 2-3 1-3 1-3-1-2-1-3-1-3-2-2-1M324 42l2-2 1-3 3-2 3 0 3 0 3 0 2 1 3 1 3 1 3 1 3 0M232 57l2-2 2-3 1-2 1-3-2-3-2-2-3-1-3 0-3 0-2 2-2 2-2 2-3 1-3 2M467 113l0-3 0-3 0-3 0-3-1-3 0-2-1-3-1-3 1-3 1-3M358 171l2 2 3 1 3 2 2 2 2 2 1 3 1 2 2 3 1 3 0 3 0 3 1 3 2 2 3 2 2 2 1 2 1 3M350 85l1 3 1 3 2 3 2 1 3 1 3 0 3-1 3-1 2-2 2-2M277 156l0 3 0 3 0 3 0 3 0 3 1 3 0 3 0 3-2 3-2 2-3 1-3-1-2-2-1-3-1-3M394 157l3-1 2-1 3 0 3-1 3-1 3-1 3 0 3 0 3 0 3 1 3 1 2 1 3 0 3-2 3-1 2-2 3-1 3-1 3-1 2-1M457 80l-3 0-3-1-3-1-2-2-1-3-2-3-1-2-2-3-1-2-1-3-1-3 1-3 1-2 3-2 3 0 3 1 2 1 3 3 2 2M304 153l2-2 2-2 2-3 2-2 3-1 2-3 1-2-1-3-1-3-1-3-1-2M372 172l0 3-1 3-1 3-2 2-2 2-2 2-2 2-3 1-3 0-3 0M359 59l-3 0-3-1-3-1-2-1-3-2-2-2-2-2-3-2-3 0-3-1-2-1-3 0-3 0M228-2l3 2 2 2 1 3 0 3-1 3-1 3-1 2-2 3-2 1-3 2-2 2-3 1-3 1-3-1M354 123l-3 1-2 2-3 2-2 1-3 2-3 0-3-1-2-1-1-3M376 78l2 2 1 3 1 3 2 2 1 3 0 3 1 3 1 3 1 3 2 2 3 2 2 1M366 64l-2-1-3-2-2-2-1-3-1-3-1-3-1-3 0-3 0-3M338 58l-3-1-3 0-3 1-3 0-3 1-3 0-3 0-3 1-3 1-1 2 0 3 0 3 1 3 0 3 1 3 1 3-1 3-1 3M316 159l-1-2-2-2-3-2-3-1-3 0-3 1-2 1-3 2-2 2-2 2-2 3-1 2 0 3 0 3 1 3 0 3 1 3 0 3 1 3 0 3 0 3 1 3M371 134l1-3 1-3 0-3 0-3 0-3-2-2-1-3-1-3-1-3-1-2-2-3-2-2-3-2-3 0M402 63l-3-1-3 1-3 1-1 3-2 2-2 2-2 2-3 2-3 0-3-1-3-1-3 0-3 1-2 2-3 1-1 3-2 2M360 31l2-3 2-2 2-2 3-2 2-1 3-1 3-1 2-2 3-2 2-1 3-1 3 0 3 2 2 2 1 3 1 2 0 3M438 53l-3 1-2 2-1 3 0 3-1 3-1 3 0 3 0 3-1 3-1 3-1 3-1 3-1 2-1 3-1 3 0 3M256 95l-3-2-2-2-1-3 0-3 2-2 3-1 3 0 3 1 3 1 3 1 2 2 2 2 1 3 3 2 2 2 1 2 2 3 1 3 1 3 0 3 0 3M412 34l0 3-1 3-2 2-1 3 0 3 0 3M236 45l-2 3-1 3-1 2-1 3 0 3 0 3 0 3 0 3 0 3 2 3 2 2 2 2 3 1M248 130l-3 0-3 0-3-2-2-2-1-3-1-3 1-3 1-3 2-2 3-1 3-1 3 1 3 1 3 0 3 0 3 0 3-1 3 0M468 112l3 0 3-1 3 0 3-1 3-1 3-1 2-2 2-2 2-3 2-2 2-2 3-2 2-1 3-1 3 0M288 21l3 1 3 2 2 1 3 1 3 1 3 0 3 0 3 0 3 1 3 1M255 127l-3-1-2-2-3-1-2-2-3 1-3 0-3 2-3 1-1 3-1 3 0 3 1 2 2 3 2 2 3 2 2 1 3 1M468 50l-2-2-1-2-1-3-2-2-3-2-3-1-2-2-3-1-3 0-3 0-3 0M443 156l-3 0-3 0-3 1-3 1-3 1-3 1-3 1-2 0-3 1-3 0-3 0-3-1-3 0-3-1-3-1M380 160l0-3-1-3 0-3 0-3-1-3-2-2-1-3-2-2-2-2-2-3-2-2-2-2-2-3-1-3-1-3 1-3 1-2 1-3 1-3M454 65l-2 2-3 1-3 1-3 1-3 0-2 1-3-1-3 0-3-1-3-1-2-2-3-2-2-1-3 0-3 0-3 1-3 1-2 2M427 16l2-2 2-3 2-2 3-1 3 1 2 1 2 3M288 161l3 0 3-1 3-1 2-1 3-1 2-2 2-3 2-2 3-1 3-2M330 137l-1-2-2-3-1-3-1-3-1-2-1-3 0-3 1-3 2-3 2-2 2-2 1-3 2-2 1-3 2-2M303 21l1-3 2-3 0-3 1-3 0-3 0-3 1-3 0-3-1-2-2-3-2-2-3-1-3 0-3 0-3 1-2 2-3 2-2 2-2 2M461 40l-3-1-3 0-3 0-3 1-3 0-3 2-2 2-2 3-1 2-2 3-1 2-2 3-1 2-1 3-1 3 1 3 2 2 2 2 3 1 3 1 3-1M286 75l0-3 0-3-2-2-2-2-3-2-2-2-2-2-2-3 0-3-1-3 0-3-1-2-2-3-2-2-1-3-2-2M295 140l-3 1-3 0-3 0-2-2-2-2-1-3 0-3 0-3 0-3 0-3 1-3 0-3 2-2 2-2 3-1 3 0 3 1 2 3 0 3 0 3-2 2-2 2M245 142l3 0 3 0 3-1 3-1 3 0 3 0 3 0 3 0 3 0 3 1 3 1 3 0 3 1 3 0 2 1 3 1 3 0 3 1 3 1 2 2 1 3 1 3M289 16l0 2 1 3 0 3 0 3 0 3-1 3-2 3-1 2-2 3-2 2-2 2-3 2-1 3-1 3 0 3-1 2-1 3M468 61l2-2 2-3 1-2 1-3 0-3-2-3-2-2-2-2-3-1-3 0-3 0-3 0-2 2-2 2-2 3-1 3 0 3 1 3M241 31l-2-2-1-3-1-3 0-3 0-3 0-3 2-2 2-3 2-1 3 0 3 0M398 96l3 1 2 2 3 1 3 0 3 0 3-1 3-1 2-2 2-2 3-2 2-2 1-2 3-2 1-3 2-2 3-2 2-1 3 0M348 52l-1-2-1-3 0-3 0-3 1-3 0-3-1-3-1-3-2-2-2-2-3-1-3 0-3 0-3 0-3 1-3 1-3 0M260 64l-3-2-2-2-2-2-2-2-2-2-3-2-2-2-2-2-3-2-2 0-3 0-3 0-3 2-2 2-3 1-3 1-3 1M213 18l-3 1-3 1-3 1-2 1-3 1-3 1-3 1-2 2-2 2-2 2-3 2-2 2-2 2-3 1-2 2-3 1M306 93l-3 2-2 2-1 3-2 2-2 3-1 2-1 3 0 3M391-1l-2-3-2-1-3-2-3-1-2-2-3-1-3-1-3-1-3 0-3-1-2-1-3-1M318 142l-2-2-3-1-3-2-2-1-2-2-1-3-1-3 0-3 0-3 0-3 1-3 1-3 1-3 1-3 1-2 1-3 1-3 3-1 2-2 3-1 2-2 2-3M347 25l1 2 1 3 1 3 0 3 1 3 0 3M306 104l1 3 2 2 2 3 2 1 3 2 3 1 2 2 3 1 2 2 2 3 1 2 1 3M302 127l0-3 0-3 0-3 1-2 2-3 1-2 1-3 1-3 0-3 0-3 0-3 1-3M310 127l-2 2-2 2 0 3 0 3 3 2 2 1 3 2 2 2 2 2 2 3 1 2 2 2 2 3 2 2 3 2 2 1 3-1 3 0 3 0 3 0M221 158l1-3 3-2 2-2 2-2 3-1 3-1 3-1 2-1 3-2 1-3 0-3 0-2-1-3M384-1l3 1 2 2 2 3 1 2 0 3 1 3 0 3 0 3 0 3 0 3M255 82l-2-2-3 0-3-1-3 0-3-1-3 0-3-1-3 0-3-1-2-2-3-2M292 23l2 2 1 2 2 3 1 3 2 2 1 3 2 2 3 1 3 1 3-1 2-2M264 150l-2-2-2-3-2-2-1-3-1-3-2-2-2-2-2-3-1-3 0-3 1-3M389 132l-1 2-1 3-1 3-1 3 0 3 0 3 1 3 0 3 0 3 0 3 0 3M384 128l-3-1-3-1-3 0-3 1-2 1-2 2-2 3-1 2-2 3-2 2-1 3M252 115l3 2 2 2 3 1 3 0 3 0 3 0 3-1 3-1 2-2 2-2 3-1 3-1M445 3l1 3 1 2 0 3 0 3 0 3 0 3 0 3 0 3 0 3 0 3-1 3 0 3 0 3 0 3 1 3 0 3M254 94l-2 3-1 2-2 3 0 3-1 3 1 3 1 3 0 2 1 3 0 3 0 3 2 3 2 2 1 3 1 3 1 3 1 3 1 2 2 3 3 1 3-1 2-2 1-3M323 19l3-2 3-1 2-2 2-2 1-3 0-3-1-3-3-2-2-2-3-1-2-1M456 20l-2-2-2-2-3-2-2-2-2-2-2-2-3-2-2-1-3-2-3-1-2-2-2-2-2-2-2-3 0-3M269 52l0 3 1 3-1 3-1 2-2 3-2 2-2 2M346 168l3 0 3 1 3 0 3-1 2-1 2-2 2-3 1-2M392-2l-3 0-3 0-3-1-2-1-2-2-1-3 0-3 0-3 1-3 1-3 0-3M258 43l1 2 0 3 1 3 0 3 1 3 0 3-1 3-1 3-2 2-1 3-1 3 0 3 0 3M446 79l0-3-1-3 1-3 1-3 1-3 2-2 3-2 2-1M380 3l1-3 0-3 1-3 1-3 2-2 0-3 1-3 1-3 2-2 3-2 2-2 2-2 2-2M330 42l1-3 1-3 1-3 1-2 2-3 2-2 1-3-1-3-1-3-1-2-1-3-3-2-2-2-3-1-2-2-3-1-2-2-3-2-1-3-1-2M423 81l2 2 2 2 2 3 2 1 3 2 3 1 3 0M227 97l3 0 3-1 3-1 3 0 3-1 3-1 3 0 2 1 3 1 3 2 1 2 2 3M271 57l-2 3-2 2-1 3-2 2-2 3-1 2-1 3 1 3 2 2 3 2 2 1 3 0 3-1 3-1 3-2 3-1 2-1 3-1M370 102l3 1 2 3 0 3 0 3-2 2-3 2-2 2-2 1-3 2-2 2-2 2-1 3 0 3M418 106l1-3 1-3 1-3 2-2 3-1 3 0 3 0 3 0 3 0 2 1 3 2 2 2 1 3 2 2 2 2 2 2 2 3M454 162l-2-1-3-2-2-2-1-3 0-3 0-3 1-3M370 108l2 2 3 2 2 1 3 0 3-2 2-2 2-2 1-3 1-3 0-3 1-3 1-3 1-3 0-3 0-3 1-3M243 78l2 3 1 3 1 2 1 3 1 3 1 3 1 3 0 3 2 2 2 2 3 1 3 0 3 0 3-1 3-1 2-1 3-1 3 0 3-1 3 1M290 101l-1-3-1-2-1-3-1-3-1-3-1-3-1-3-1-2-1-3-1-3-1-3 0-3 0-3 0-3-1-3 0-3-1-3-1-3 0-3 1-3M349 18l1 2 2 2 2 3 2 2 1 3 0 3-1 3 0 3-2 3 0 3 0 3 2 2M361 78l0 3-1 3-1 2-1 3-1 3-1 3 0 3 0 3 0 3-1 3-1 3-1 2-2 3-1 2-1 3 0 3M261 120l-3-1-3-1-3-2-2-2-2-2-2-2-1-3-2-2-1-3-1-3-2-2M341 136l2 2 1 3 2 3 1 2 2 3 1 3 1 2 0 3 2 3 1 3 1 3 1 2 3 2 2 1 3 0M231 73l-2 2-2 3-1 2-2 3-2 2-2 2-2 2-2 2-3 1-2 2-2 3-2 2-2 2-2 2-2 2M411 53l2-2 2-2 2-3 1-3 0-3-1-3-1-2-1-3 0-3 0-3 1-3 1-3 1-3 2-2 2-2 3-2 2-1 3 0 3 0 3 1 3 1 3 1M444 121l0-3 0-3-1-3-1-3-1-3-1-3-2-2-1-3-3-2-2-1-3-2-2-2-2-2M328 5l-1 3 0 3 1 2 2 3 1 3 1 3 0 3 0 3 1 3M328 134l-1-3-1-3-2-2-3-1-3 0-3 0-3 0-3-1-3-1-2-2-1-3-2-2-1-3-1-3-2-2-2-2-3-1-3-1-3 0M259 93l3 1 2 2 3 2 2 2 1 2 0 3-1 3-3 1-3 1-3-1-3 0-3 0-3 1-3-1-2-1-3-2-2-2-2-2-3-2"/><path stroke="#8a8a8a" stroke-width="0.9" d="M261 68l0-3 0-3 1-3 1-2 2-3 1-2 2-3 1-3M282 5l2 2 3 2 2 2 2 2 2 3 1 2 2 2 3 2 3 1 3 1 2 1 3 1 3 1 2 2 2 2 3 2 2 2 0 3 0 3M458 21l-2 2-2 2-1 3-1 2-1 3-1 3 1 3 1 3 2 2 2 3 1 3 2 2 2 2 3 1 3 1M406 162l-3-1-3 0-3 0-2-1-3-2-1-2M348 64l2-2 2-2 3-2 3 0 3-1 2-1 3-2 3-1 3 0 3 0 3-1 3 0 2-2 2-2 2-3 1-2 2-3 3-1 3-1 3 0M280 168l2 3 1 2 2 3 0 3-1 2 0 3-1 3-2 3 0 3-1 3 1 3 0 3 0 3 0 3-1 3 0 3M279 105l-3-1-3-1-2-2-2-2-1-3 1-3 1-3 2-2 1-2 3-2 3-2 2-1 3-1 3-1 3-1 2-1 3-2 2-2 2-2 0-3-1-3-2-2M455 128l1-2 2-3 2-2 3-1 2 2 3 2 2 2M406 101l3 2 2 2 2 2 1 3 1 3 2 2 1 3 0 3 0 3M404 168l-2 3-2 2-1 2-2 3-1 3 0 3 1 2 1 3 1 3 2 3 1 2 2 2M388 8l-2 3-2 2-2 3-1 2-1 3 0 3 1 3 3 2 3 1M438 36l1 3 0 3-1 3 0 3 0 3 0 3-1 3 0 3-1 2-1 3-2 3-1 2-1 3 1 3 0 3 1 3 1 3 0 3 1 3 1 3 0 3M265 126l-1 2-1 3-1 3-1 3 0 3-1 3 0 3 0 3 2 2 3 1 3 0 3-1 2-2 0-3-2-3-2-2M233 169l-3-2-2-2-3-1-2-2-2-2-2-3-2-2-2-2-3-2-2-1M274 57l-3-1-2 0-3-1-3-1-3-1-3-2-2-1-3-1-2-2-2-3-2-2M336 91l3 1 3 0 3 0 2-1 3-1 3-1M434 81l0-3 1-3 0-3 0-3-1-3-1-2-3-2-2-2-1-3-1-3M288-5l2 1 3 2 2 2 1 2 2 3 1 3 0 3-1 3-1 2-3 2M273 173l2 2 2 2 2 3 1 3 1 3 1 2 1 3 2 3 1 2 2 3 1 3 1 2 1 3 2 2 2 3 2 2 2 2 2 3 2 2 2 2M258 69l-2 2-1 3-1 3 1 3 0 3 1 3 2 2 3 2 2 1 3 1 3 0M419 93l-1-3-1-3-1-3-1-2-2-3-2-2-3-1-2-2-3-2-2-1-3-1-3 0-3 0-3 2-2 2M250 116l-3 1-3 0-3 0-3 0-3-1-3-1-2-2-1-3-1-3-2-2-1-3-2-2-2-3M441 102l-3 1-3 0-3 0-3 0-3 0-3 0-3 0-3 2-2 2-2 2-2 2-2 2-2 3-2 2-2 2M259 48l3-1 2-1 3-1 2-2 2-3 2-2 3-1 2-2 3-1 3-1 3 0 3 1 3 0 3 1 2 2 3 1 2 3 2 2M236 34l1 3 2 2 2 2 2 2 2 3 2 2 3 1 2 2 2 2 2 3 1 2 1 3-1 3-1 3-1 3-1 3-2 2-2 2-3 2-3 1-2 1M328 142l-2 3-2 2-3 1-3 1-3 1-3 1-2 0-3 0-3 0-3-2-2-2M369 59l3-2 2-1 3-1 3 1 2 2 2 2 2 3 0 3-1 3-1 2-3 1-3 2-3 0-3 0-3 0-3-1-2-1-3-2-3-1-2-2M279-8l-1 3-1 3-1 3-1 3-2 2-2 2-2 2-2 3 0 3 1 2M460-5l2-2 2-2 3-2 2-1 3-1 3 1 3 1 2 2 2 2 1 3 1 3-1 3-2 2M385 52l3 1 3 1 3 1 3 0 3 1 2 2 0 3 0 3-2 3-2 2-1 3-1 2-1 3 0 3M289 64l0 3 0 3 2 3 2 2 1 3 2 2 1 3 0 3 0 3 0 3 0 3 1 3 1 3 0 3M263 82l-1-3-1-3-1-3-1-2-2-3-1-2-2-3-3-1-2-2-3-2-3-1M340 138l2 2 2 2 1 3 2 2 1 3 2 2 1 3 2 2 1 3 2 3 2 2 2 2 3 1 3 0 3-1 3-1 2-1 3-2 2-3 0-3M253 39l1-3 3-1 3-1 3 0 3 0 2-1 3-1 3-2 2-2 0-3 0-3 0-3 0-3 0-3 0-3 1-3 2-2 2-3 1-2 1-3 1-3M235 90l-3-1-2 1-3 1-3 1-3 1-3 1-3 0-2-1M306 95l-1 3 1 3 0 2 2 3 1 3 3 2 2 1 3 1M251 158l3 0 3 0 3 0 2 2 3 2 1 2 1 3 0 3M220 15l3 1 3 1 2 2 2 2 1 3 1 3 0 3 0 3 0 3 0 3 1 3 1 3M344 111l2 2 1 3 2 2 3 2 3 1 3 0 3 0 3 0 2-1 3 0 3-1 3 1 3 0 3 0 3 2 3 0 3 0 3-1 3-1M276 23l-3-2-2-2-2-2-2-3-1-2-1-3-1-3-2-2 0-3 0-3 1-3 2-2 2-2 3-2 2-2 2-2 1-3M380 108l-2 2-3 1-3 1-3-1-3 0-2-2-3-2-2-1-3-2-2-2-3-1-2-2-3-2-2-2-1-2-1-3-1-3-2-3-1-2-2-3M443 102l2 3 1 2 0 3 1 3 1 3 1 3 1 3 2 2 3 2 2 1 3 1 3 1 3 0 3 0 3-1 3 0 3 0 3 1 3 1 3 0 2-1 3-2M437 154l-2-1-3-1-3-2-2-2-2-2-2-2-3-2-3-1-3-1-2 0-3-1-3-2M460 121l3 0 3-1 2-2 2-2 3-2 2-2 2-1 3-2 1-3 2-2 1-3 2-2 2-3 3-1M239 155l3 2 2 2 3 1 2 2 2 2 2 2 2 3 2 2M404 106l2 1 3 2 3 1 3 0 2-1 3-2 1-2 0-3-1-3-1-3-1-3-2-2-1-3-1-3 0-3-1-3M282 102l-2-2-2-2-2-3-2-2-2-2-2-2-3-1-3-2-2-2M300 53l3-1 3-2 3 0 2-1 3-1 3-1 2-2 2-2 3-2 1-3 2-2 1-3M304 171l3 0 3 0 3 0 3-1 3 0 3 0 3-1 3-1 3-1 2-1 3-1 3-2 2-1 3-1 3-1 3-1 3-1 3-1 2-1 3-2 2-2M440 41l-2-2-2-2-1-3-1-3 0-3 0-3 0-3-1-3M244 96l-1-3 0-2 1-3 2-3 2-2 2-2 2-2 3-1 3-1 3-1 3-1 2-1 3-2 3-1 2-1 3-1 3-1 3 0 3-1 3 0 3 1M468 30l0 3-1 3-1 2-3 2-2 2-3 2-2 1-2 2-3 2-2 1-3 2-2 2-2 2M293-5l-3-1-3-1-3-1-2-1-3-2-2-2-1-3-2-3-2-2-1-2-3-2-2-2-3-2M472 67l-3-2-2-2-2-2-2-2-2-3-1-2 0-3 0-3 0-3 1-3 1-3 1-3 2-2 2-2 3-2 3-1 2-1 3-1 3 0 3-1 3-1 3 0 3 0M323 39l-3 0-3 0-3-1-3-1-2-1-3-2-2-1-3-3-2-1-3-2-3-1-2 0-3 1-3 1M263 165l-3 0-3-1-3-1-2-1-3-2-3-2-2-1-2-2M304 92l2 2 3 0 3 0 3 0 3-1 3-1 3-1 2-2 3-2M417 47l2 2 1 3 2 2 2 2 2 2 3 1 3 1 3 1 3 0 3 0 3 0 3-1 2-2 2-2 2-2 0-3 0-3 0-3 1-3M422 56l-2 2-3 1-2 2-3 2-2 1-3 2-2 2-2 2M452 35l-3 2-2 2-3 1-3 1-3 0-3-1-2-2-2-2-2-3-2-2-2-2-2-2M358 37l-2-2-1-3-1-3 0-3 0-3 0-3 1-3 1-3 1-2 1-3 1-3 0-3 0-3-1-3M295 168l-2 2-3 2-3 1-2 1-2 3-2 2-2 3-1 2-1 3 0 3 0 3 0 3 1 3 1 3 1 3 1 2 1 3M353 144l1-3-1-3-1-3-1-2-2-3-2-2-3-1-3-1M252-7l-3-2-3 0-2 3-1 2-1 3 1 3 2 2 3 1 3 1 3-1 3-1 3-1 2-1M231 164l-2 2-1 3-1 2-1 3-1 3 1 3 2 2 3 1 3 2 3 1 2 1 3 2 2 2 1 3 1 3 0 3-1 3 0 3 0 3-1 3 0 3 1 3M464 172l-3-1-3-1-2-2-3-2-2-1-3-1-2-2-2-3 1-3 1-3 1-2 1-3 0-3M306 3l3 1 3 1 3 1 2 2 2 2 2 2 1 3 1 3 1 3 0 3M326-8l3 1 3-1 3 1 3 0 3 1 3 1 2 2 2 3 1 2 1 3 0 3-1 3-1 3-2 2M234 141l-2-2-2-2-2-2-2-3-1-2-1-3 1-3 1-3 1-3 2-2 3-2 2-2 1-3 0-2 0-3-2-3-2-2-3-1-3 0M385 152l-2-2-2-2-3-2-2-1-3-1-3-1-3-1-2-1M318 68l-3 1-3 0-3-1-3 0-3 0-3 0-3-1-3-1-2-2-2-1-2-3-2-2M457 18l3-1 3 0 3-2 2 0 3-1 3-1 3-1 3-1 3-1 3-1 2-1 3-2 2-2 2-2 3-1 2-2 3-2 3-1 2-1 3-2 2-1 3-1 3 0M357 118l-3-1-3-1-2-1-2-3-2-2 0-3 0-3 0-3 2-2 3-2 3 0 3 1M229 131l2-2 1-3 1-2 1-3-1-3-2-3-2-2M427 13l1 3 1 3 0 3 0 3-1 3-1 2-1 3-1 3 0 3 0 3 2 2M324 14l2-2 1-2 1-3-1-3-1-3-2-2-2-2-2-3-2-2-2-2-1-3-2-3-1-2 0-3 1-3 1-3 1-3 2-2 1-3 2-2 1-3M225 120l-1 2 0 3 0 3 1 3 1 3 3 2 2 2 3 0 3 1 3 0 3 0 3 0 3 0 3 0 3 1 3 1 3 0M393 95l2 3 1 2 1 3 1 3-1 3 0 3-1 3-1 3-2 2-1 3 0 3-1 3 1 3 0 3 0 3-1 3 0 3M406 101l-1-3-1-3-1-3-1-2-1-3 0-3 0-3 1-3 2-2 2-2 3-2 3-1 2-1 3-2 2-2 1-3 1-3 0-3 2-3M409 165l1-2 3-2 2-2 3 0 3 0 3 1 3 1 3 0 3 1 3-1 2-1M428 56l-2-1-3-1-3 0-3-1-3 1-3 0-3-1-3 1-3 0-3-1-3-1-3-1-3-1-2-1-3-1-3-1-3 1M222-5l-3 0-3-1-3 0-3 0-3 0-3 1-3 1-3 0M264 156l3-2 1-2 2-3 0-3 0-3-2-3-1-2-2-3-1-2-2-3-2-2-2-2-3-2-3-1-3 1-2 2-2 2-2 2-2 2M409 35l3-2 2-1 3-2 3 0 3-1 3-1 3-1 2 0 3-1 3 0 3 1 3 1 3 0 3 2 2 1 3 2 2 2 2 2 2 2M293 79l3-1 3 1 3 0 3 0 3-1 3-1 3-1 3-2 2 0M444-7l0-3 1-3 0-3-1-3-1-2-3-2-3-1-3-1-2-1-3-2-1-2 0-3 1-3 2-2M235 54l3 1 3 2 3 1 2 1 3 2 3 1 2 1 3 1 2 2M458 120l-3 1-3 2-1 2-1 3 0 3 2 2 3 1 3 0 2-2M215 173l-2-2-2-2-1-3 0-3 1-3 3-1 3 1 3 2 2 1 3 2 2 1 3 1 3 1 3 0 3 0M333-11l3 1 3 0 3-1 2-2 2-2 1-3 1-3 1-3 2-2 2-2 2-2 3 0 3 0 3 1 3 1 3 1M280 141l3 0 3-2 1-2 2-3 0-3 1-3 1-3 1-3 1-2 1-3 1-3 1-3 1-3M370 63l-2-3-1-3-2-2-1-3-1-3-1-2 0-3-1-3 0-3 0-3 1-3 2-3 2-2 3-1 2-2 3-1 2-2 1-3 1-3 0-3M277 148l1 2 1 3 1 3 0 3 0 3-1 3-2 2-3 2-3 1-2 1M366 19l-1 3-2 3-1 2-2 2-2 3-2 2-1 3-1 3-2 2-3 1-3 1-3 0-3 0-3 0-3 0-2-2M370 95l0 3 0 3 0 3 0 3 0 3-1 3-1 3-1 3M248 99l3 2 2 1 2 2 2 3 2 2 2 2 2 2 2 2 3 2 3 1 2 2 3 1 3 1 3 1 2 2 3 1 2 2 3 2 3 0 3 1M467 96l1-2 1-3 3-2 3-1 3 0 3 1 2 1 3 2 2 1 3 2 1 3 2 2 0 3M404 96l-2 1-3 1-3 2-2 1-3 1-3 1-3 0-3 1-3 2M403 65l1 3 1 2 1 3 1 3 1 3 2 2 2 3 1 2 2 3 2 2 3 1 3-1 2-2 1-2 1-3-1-3-1-3 0-3 0-3 1-3M386 43l2-2 2-2 3-1 3 0 3 0 3 0 3-1 3-1 2-1 2-3 1-3 1-2 0-3 1-3 0-3 0-3 1-3M412 108l-3-1-3-1-3-1-3 1-3 1-3 0-3 0-2-1-2-2-2-3 0-3 0-3 0-3 0-3 1-3 1-2 2-3 1-3M369 50l-3-1-2-2-2-2-2-3-2-2-3-2-2-1-3-1-3-1-3 0-3 0M412-5l-3-1-3-1-2-2-2-2-2-3-2-1-3-2-3-1-3-1-3 1-2 1-3 1-2 2M355 90l1-3 1-2 1-3 1-3 1-3-1-3M294 148l-3-2-2-1-3-1-2-2-3-1-3-2-3-1-3 0-3 0-3-1-2-1-3-1-3-2-2-2-2-2-1-3-1-3-1-3M354 74l0-3 2-2 2-1 3-1 3-2 3-1 2-2 3-1 3-1 2-2 2-2 3-2 2-2 1-3M410 164l1 2 1 3 0 3-1 3 0 3 0 3 1 3 1 2 3 2 2 2 3 1 3 0 3 1 3 1M224 83l2 3 1 2 2 3 0 3 0 3-2 2-2 2-3 1-3 1-3 0-3-1-2-2-2-2-3-2-2-1-3 0-3-1-3 0-3 0-3 0M262 3l-2-2-2-3-2-2-2-1-3-2-3-1-3-1-2 0-3-1-3 0-3-1-3 1-3 2-1 2-1 3M336 121l-2 1-3 1-2 2-1 3-2 3-1 3 0 3-1 2-1 3 0 3 0 3 0 3 1 3 1 3 1 3 0 3-2 2-2 2-3 1-3 0-3 0-3 0M437 125l2 2 2 2 2 3 2 2 2 2 2 2 2 2 3 2 3 0 2 0 3-2 3-1 2-2 3-2 2-1 3-1 3 0M254 160l2 2 2 2 3 1 3 0 2-2 2-2 0-3-2-3-3 0-3 0-2 2-2 3-1 2-1 3 0 3 0 3 1 3M298 14l2-2 2-2 0-3 0-3-1-3-1-3-1-3-2-2-3-2-2-1-3-1M370 129l-2 3-2 2-2 2-3 1-2 2-3 2-2 1-2 2-2 3-2 2 0 3 1 3 1 3 2 2 2 3 2 2 1 2M436 25l-3 0-3 0-3 0-3-1-2-2-3-1-2-2M384 1l-2 2-3 1-2 2-3 1-3 1-2 2-2 3 0 3-1 2 1 3 0 3 2 3 2 2 3 1 3 1 3 0 3-1 2-2 2-2 1-3 1-3 0-3M259 140l-3 0-3-1-3 0-3-1-3 0-3 0-3-2-2-2-2-2-1-3-1-3-1-2-1-3 0-3 0-3 0-3M379 146l0-3 0-3 1-3 2-3 2-2 1-3 0-3 0-3-1-3-2-2-2-2-3 0-3 0-3 1-2 2-2 2-1 3-1 3 0 3 0 3M279 157l-2 2-3 2-2 2-2 2-2 2-3 0-3 0-3-1-3 0-3 0-3 1-2 2-2 2-3 1-2 2-2 3-1 2-1 3-1 3-1 3-1 3-1 2M241 119l-1 3 2 2 2 2 3 1 3-1 2-1 3-2 2-1 3-2 3-1 2-1 3-2 2-2 3-2 2-1M387 86l3-1 3-1 3-1 3-1 2-1 3-2 2-2 3-1 3 0 3 0 3 2 2 2 1 2 1 3 1 3-1 3 0 3 0 3 0 3 1 3M253 159l1 3 2 2 1 3 1 3 0 3 0 3 0 3 1 3 1 2 2 3 2 2 2 2 2 2 3 2 2 2 3 0 3 0 3 0 3 0 3-1 3 0M434 24l0 3 0 3 1 3 0 3 2 3 1 2 2 3 1 2 2 3 1 3 0 3 1 3 0 3 0 3 1 3 0 3 0 3 0 3 0 3-1 3 0 3M385 105l1-3-1-3-2-2-3-2-3-1-3 1M270 109l1-3 0-3 2-3 2-2 2-2 3-1 2-2 3-1 3 0 3 1 3 1M329 80l-2 1-3 1-3-1-3-2-2-2-1-3-2-2-1-3-1-3-2-2-2-2-3-1-3 0-3 0-3 1-3 1-3 0-3 0-3 0-3 0M460 90l0 3-1 2-1 3-2 2-3 2-3-1-3 0-3 1-3 0-3 1-3 1-2 1-2 2-3 2-2 2-3 1-3 1-3 0-3 0M359-9l-1 2-1 3 0 3 1 3 1 2 3 2 3 1 2 1 3 1 3 0 3 1M254 26l3 0 3 0 3-1 3 0 3-1 3 0 3 0 3 0 3 0 2-1 3 0 3-1 3-2 2-2 1-3M297 152l2 2 3 1 3 2 2 1 3 1 2 2 3 2 1 3 1 2 1 3 1 3-1 3 0 3 0 3 1 3 2 3 2 1M218 5l3-2 1-3 2-2 0-3 1-3 0-3 0-3-1-3 0-3-1-3 0-3 0-3 2-3 2-2 3-1 2-2M425-1l3 1 3 0 3 0 3 0 3 0 3-1 3-1 2-1 2-2 1-3 0-3-1-3-1-3 0-3-1-2-2-3-2-2-3 0-3 1M468 153l-1-3-1-3-1-3 0-3 0-3 1-3 1-2 2-3 0-3 1-3 0-3 0-3 0-3-1-3-1-3-1-2M383 145l3 2 2 1 3 2 3 1 3 0 3 0 3 1 3 0 3 1 2 0 3 0 3 0 3 0 3 0 3 0 3 0 3 1 3 1 3 1 3 0 3 1M391 60l2-3 1-2 1-3 0-3-1-3 0-3-2-2-3-2-3 0-3 0-3 0-3 1-3 1M287 21l1-2 2-3 2-2 2-2 2-2 1-3 1-3 0-3-1-3-1-3-2-2-3-1-3 1M420 132l-2-2-2-2-2-3 0-3 0-3 2-2 2-2 3-2 3-1 2-1 3 0 3-1 3 0M269-11l2-2 3-2 2-1 3 0 3-1 3 0 3-1 3 0 3 0 3 1 3 1 3 0 3 2M274 65l-1 3 0 3-1 3 1 3 0 3 1 2 1 3 1 3-1 3-1 3-2 3-1 2-1 3-1 3 0 3M321 93l-1 3 1 2 2 3 3 1 3 1 3 1 3 0 3 0 3-1 2-1 3-1 2-3 1-3 0-3-1-2-3-2-3 0M289 39l1-2 1-3 2-2 3-1 3 0 3 1 2 1 3 2M298 63l-2 2-2 3-2 1-3 1-3 0-3-1-2-2M333 30l0 3 1 3 1 2 0 3 1 3 0 3-1 3-1 3-2 2-2 3-2 2-2 2M282 145l-2 2 0 3 0 3 2 2 2 2 3 2 2 2 3 1 2 2 3 2 2 1M374 7l-2 3-1 3-2 2-1 3-1 3 1 3 1 3M226 147l2-2 1-3 2-2 2-2 1-3 0-3 0-3-2-2-3-2M306 49l-3-1-3 0-3 1-2 1-2 2-1 3 1 3 1 3 3 1 3 0 3-1 3-1 3 0 3 0 3 1 3 1 3 0 2 1 3 0 3 1 3 2M301 72l-1 3-2 3-2 2-1 3 0 3 0 3 1 3 2 2 1 3 2 3 1 2 1 3 1 3 0 3-1 3-2 2-1 3-3 2-2 1M465 31l3-1 3-2 2-2 2-2 1-3 2-2 1-3 0-3 0-3-1-3-2-2-3-1-3 0-3 2-2 1M396 78l0 3 1 3 0 3 0 3-1 3-1 2-1 3-2 2-2 3-2 2-2 2M236 98l1-3 0-3-1-3-1-2-2-3-2-2-2-2-2-3-1-2-2-3-2-2-1-3-1-3M290 125l2 2 2 2 2 3 2 2 1 3 1 2M374 18l-2 2-1 3-1 3 1 3 1 3 2 2 1 3 1 3 1 2 1 3 0 3 0 3-1 3-1 3M455 46l-1 3 0 3-1 3-1 3 1 3 0 3-1 3 0 3 0 3-1 3-1 2-2 3-1 3-1 3-1 2-2 3-1 3-2 2-1 3-2 2M433 137l-2 2-1 3-1 3 0 3-1 3-1 3 1 3 1 3M365 124l3 0 3 0 3-1 2-1 3-2 3-1 2-2 2-2M405 51l-3 0-3-1-2-2-2-2-2-2-1-3-1-3 1-3 1-3 1-2 1-3 2-2M230 173l-3-1-3 1-3 1-3 1-3 1-3 1-2 0-3 1-3 1-3 0-3 1-3 2-3 1-3-1-2 0-3-2-3-1-3-1"/></g></g><g clip-path="url(#cc)"><rect x="452" y="6" width="228" height="149" fill="#2d2d2d"/><g fill="none" stroke-linecap="round" stroke-linejoin="round"><path stroke="#5c5c5c" stroke-width="0.7" d="M546 88l-3 0-4-1-3-2-2-2-3-3-2-3-1-3-1-3-1-4-1-3M494 67l-2 3-3 2-3 2-2 3-3 2-3 1-4 1-3 1-3 1-4 1-3 1-3 2-4 0-3 1-3 1-4 2-3 1-3 1-4 1-3 1M457 15l3-2 2-3 3-2 2-3 2-3 0-3 1-4 0-3 0-4 0-3M484 47l4 0 3 1 4 1 3 2 2 2 2 3 2 3 1 3 1 4 0 3 1 4 0 3 1 4 0 3 0 3 0 4-1 3-1 4-2 3-2 2-2 3-3 2-4 0M511 50l-3 1-3 1-3 1-4 1-3 1-4-1-3 0-3-2-3-2-4-1-2-2-3-3-2-2-2-3-2-3-2-3M499 73l-2 2-2 3-2 3-3 2-3 2-2 3-3 2-3 2-3 1-3 2-4 1-3 1-3 1-4 1-3 2-2 2-2 3-2 3M519 139l4 0 3 1 4 1 3 2 3 1 3 2 3 2 3 1 3 2 4 1 3 0M667 11l-3 2-3 2-2 2-3 3-2 3-2 3-2 3-1 3-2 3-2 3-1 3-2 3-1 4 0 3 0 3 0 4M549 44l3-1 3-2 2-3 2-2 3-3 2-3 2-3 2-2 3-3 2-3 2-2 2-3 2-3 2-3 1-3 2-3M434-3l-1 3 0 4 0 3 1 4 1 3 1 3 2 3 2 3 1 3 2 3 2 3 2 3 1 3 2 3 2 3 2 3 3 3 2 2 3 3 2 2 2 3 3 3 2 2 2 3M500 103l-1 3-2 3-2 3-3 2-3 2-2 3-2 3-2 3-1 3 0 4-1 3 1 4 0 3 0 3M634 29l0 3 0 4 1 3 1 3 2 3 3 2 2 3 3 2 3 3 3 1 3 2 3 1 3 2 3 1 4 1 3 1 4 0 3 0 4 0M595 158l1-3 2-3 1-4 1-3 1-3 0-4 1-3 0-4 1-3 0-4 0-3 0-4-1-3 0-4-1-3-1-3-2-4-1-3-2-3-2-2-3-3M466 151l-4 1-3 0-4 1-3 0-4 1-3 0-4 0-3-1-4 0-3-1-3-1-3-2-3-2-2-2-2-4-2-3 0-3-1-4 0-3 0-4 0-3 1-4 0-3-1-4 0-3-1-3M575 27l2-2 2-3 1-3 1-4 0-3-2-4-1-3-2-3-3-2M564 67l3 0 3-1 4 0 3 0 4 0 3 1 3 2 3 2 2 2 2 4 1 3 1 3 1 4 1 3-1 4 0 3-2 3-1 3-1 4-2 3-1 3 0 4M657-5l3 1 4 1 3 0 4 1 3 1 4 0 3 0 4 0M489-11l-2 2-2 3-3 2-2 3-3 2-2 3-2 3-3 2-2 3-3 2-2 3M677 64l4 1 3 0 4 1 3 0 4 2 3 0 3 1 4 1 3 0M447 93l-3 1-4 1-3 0-4 1-3 0-4 0-3-1-4 0-3 1-3 1-4 2-2 2-2 3-2 3-1 3 0 4 1 3 1 4 1 3 2 3 2 3 2 3 1 3 2 3 1 3 1 4 0 3M564 89l0 3 0 4-1 3 0 4 1 3 0 3 0 4 1 3-1 4-1 3-2 3-2 3-2 3M619-7l0-4 0-3 0-4 0-3-1-3-1-4-2-3-1-3-2-3-2-3-3-2-2-2M656 155l-3 2-3 2-3 2-3 1-3 2-3 2-3 2-2 3-2 3-3 2-2 3-2 3-2 3-2 3-2 3-2 2-2 3-3 3-2 2-2 3-2 3-2 3-2 3-2 2-2 3-2 3M621 124l2-3 2-2 3-3 1-3 2-3 1-4 1-3 0-3 0-4 0-3 1-4 1-3 1-3 2-3 3-3 2-2 3-2 4-1 3-1 3 0 4-1 3 1 4 1M554 173l-2 2-2 3-1 4-1 3 1 4 0 3 0 4 1 3 1 3 0 4 0 3-1 4-2 3-2 3-2 2-2 3-2 3-2 3-2 3-3 2-2 3-3 2-2 3M672 38l-1-4-1-3-2-3-2-3-2-3-2-3-1-3-2-3-2-3-1-3 0-4-1-3 0-4 0-3-1-3-1-4-2-3-1-3-2-3-2-3-1-3-2-3-2-3-1-3-2-3-1-4M532 90l2-3 2-3 1-3 1-4 1-3 1-3 0-4 0-3-1-4-1-3-2-3-2-3-2-3-2-2-3-3-2-2-3-2-2-3-3-2-3-2M603 8l3-1 4-1 3-1 4 0 3-1 4 0 3 0 3-1 4-1 3-1 3-2 3-2M630 0l1-3 1-3 0-4 0-3-1-4 0-3-1-4 0-3 0-4 1-3 2-3 1-3 3-3 2-3 3-2 3-2 3-1 3-1 4 0 3-1M608 16l3 1 3 1 4 2 3 0 4 1 3 0 3 1 4 1 3 2 3 2 2 2M645 10l-1 3-1 4-1 3-1 4-1 3-1 3-2 3-2 3-2 3-1 3-2 3-1 4-1 3-1 3-2 3-1 4-1 3-1 3M569 107l-3 1-3 2-3 2-3 2-3 2-2 3-2 3-1 3-2 3-3 3-2 2-2 3-2 3-1 3-2 3-1 4-1 3-1 3-2 3-2 3-2 3-1 3-2 3-2 3-2 3M441 77l-3 2-3 1-3 2-3 2-2 3-3 2-3 2-3 2-2 2-3 3-2 3-2 3-1 3-2 3-2 2-3 3-2 2-3 3-3 1M466 142l3-1 3-3 2-2 2-3 2-3 1-3 1-4 1-3 1-3 1-4 2-3 2-3 1-3 2-3 1-3 1-4 2-3 1-3 1-3 1-4 0-3 1-4 1-3 0-4 1-3M626 45l0 3-1 3 0 4 0 3 0 4 0 3 0 4 0 3-1 4 0 3-1 4 0 3-1 4M555 116l1 3 0 4-1 3-2 3-2 3-2 3-2 2-3 3-2 3-2 2-2 3-2 3-3 2-1 3-2 3-2 4-1 3-2 3-1 3-1 3-1 4-1 3 0 4 1 3 2 3M511 131l-1 3-2 3-2 3-3 2-3 2-3 1-3 1-4 1-3 1-4 1-3 0-4 1-3 1-3 1M579 52l-3 3-2 3-1 3-2 3-1 3-1 4 0 3 1 4 0 3 0 4 1 3 0 4 0 3 0 4 0 3-1 3-1 4-1 3 0 4-1 3 0 4-1 3-1 3 0 4 0 3 1 4 0 3M524 116l-3 2-2 3-2 2-2 4-1 3-1 3-1 4-2 3-2 2-2 3-3 3-2 2-3 2-2 3-2 3M586 45l3 0 4 0 3-1 3-2 3-2 3-2 3-1 4-2 3 0 3-1 4-1 3-1 4-1 3 0 4 0 3-1 3-1M602 76l-3 2-3 2-3 2-2 3-2 3-1 3-1 4 0 3 0 4 0 3 0 4 0 3-1 3-2 4-1 3-2 3-1 3-2 3-1 3-2 3-3 3-2 3-2 2-3 3-2 2-2 3-2 3M440 149l3-2 2-3 2-3 1-3 1-4 0-3 2-4 1-3 2-3 2-2 3-2 3-2 3-2 2-3 3-2 3-2 2-2 3-3 2-3M656 9l2-2 3-3 3-2 3-2 3-2 2-2 3-2 3-2 2-3 2-3 1-3 1-4 0-3 1-3 1-4 0-3 1-4 0-3 1-4 1-3 0-4M603 93l3-2 4-2 3-1 3 0 4-2 3-1 3-1 4 0 3-1 4-1 3-1 3 0 4 0 3 0 4 1M685 34l3 0 4-1 3 0 4 0 3 1 3 1 4 1 3 0 4 0 3-1 4 0 3-1 4 0 3-1 3-1 4-2 3-2 3-2 2-2 1-3 2-4 1-3M573 10l-4 1-3 1-3 2-3 2-3 2-3 2-2 2-3 2-2 3M650 156l1-3 1-4 1-3 0-4 1-3 2-3 2-3 2-3 3-2 2-2 3-2 3-2 3-2 3-2 2-3M657 17l-3 2-3 2-3 2-2 2-3 2-2 3-2 3-1 3 0 4 0 3 0 4 1 3 1 4 1 3M448 81l-3 2-3 1-3 2-3 2-2 3-2 3-2 3-2 3-1 3-1 3-1 4 0 3-1 4 0 3 1 3 1 4 0 3 2 4 1 3 1 3 1 3 1 4 1 3 0 4 0 3 0 4-1 3M507 168l4-1 3-1 3-2 3-2 2-2 2-3 1-4 1-3 1-3M634-8l-4-1-3 0-3-1-4-1-3 0-4-1-3 0-4-1-3-1-3-2-2-3-2-3-2-2-2-4-2-2-2-3-3-3-2-2-2-3-2-3-1-3-1-4-2-3M662-13l2-3 2-3 1-3 3-2 2-3 2-3 2-2 3-3 2-3 2-2 3-3 2-2 2-3 3-2 2-3 2-3 2-3 2-3 1-3 1-3M517 16l-1 3 0 4 0 3 0 4 1 3 1 3 1 4 1 3 1 3M496 132l-3 0-4 0-3-1-4 0-3 0-4 0-3 0-4 0-3 0-4 0-3-1-3-1-3-2M513 25l-2 2-3 3-2 2-3 2-2 3-2 2-3 3-3 2-3 1-3 1-4-1-3-1-3-2-2-3-2-3-1-3-1-3-1-4-1-3-1-3-1-4M451 148l2-3 2-2 2-3 3-3 2-2 3-2 2-3 3-2 3-2 2-2 3-3 2-2 3-3 2-3M463 17l3-2 2-2 3-2 3-2 3-3 2-2 2-3 2-3 2-3 1-3 1-4 0-3 1-4 1-3 2-3 2-2M652 7l-4 0-3 1-3 1-4 1-3 1-3 2-3 2-3 2-3 2-3 2-3 2-2 2-3 2-4 1-3 2-3 1-3 2-3 2-3 2-2 2-3 2-3 2-3 2-3 3-2 2M566-3l-3 1-4 1-3 1-3 1-4 2-3 1-3 0-4 0-3-1-3-2-3-2-3-2-3-2-3-2-2-2-3-2-3-2-3-2-2-3-3-2-4-1-2-2-4-2M589 65l3-1 3-2 3-2 3-2 2-3 2-2 3-3 2-2 3-3M686-1l3 0 4-1 3 0 4-1 3-1 4 0 3-2 3 0 4-1 3 0 4 0 3 1 4 0 3 1 4 0 3 1 3 1 4 1 3 1M576 2l-4 0-3 1-4 0-3 1-3 2-4 1-3 0-3 1-4 2-3 1M632 67l-4 1-3 0-4 1-3 1-3 1-4 1-3 1-3 3-2 2-3 2-3 2-2 3-3 1-3 2-4 1-2 2-3 3-1 3 0 4-1 3 0 4 0 3M616 12l3-1 3-2 3-2 2-3 2-3 2-3 2-3 2-3 2-2 3-3 3-2 3-1 3-1 4 0 3-1 4-1 3 0 4 0 3 0 4 1 3 0 3 1 4 0 3 1 4 2M660 145l-3 2-2 2-3 2-4 1-3 2-3 2-2 2-3 2-2 3-1 4 0 3M665 74l3-1 4-1 3-1 3 0 4-1 3 0 4 0 3 0 4 1 3 0 4 1 3 0 4-1M509 131l1-3-1-4 0-3-1-4-2-3-1-3-2-3-2-3-1-3-3-3-2-3-2-2-3-2M530 66l4-2 3-1 3-1 3-1 4-1 3-1 3-2 3-2 3-2 2-3 3-2 2-2 3-3 3-2 2-2 4-2 3-1 3-1 4 0 3 0 4 0 3 1 3 2 3 1 3 2 4 1 3 1 4 0M445 62l2-2 3-2 3-2 3-2 4-1 3-2 3-1 3-2 2-3 3-2 3-2 3-2 2-2 3-3 2-3 1-3 2-3 0-3-1-4 0-3-1-4 0-3M449 139l-2 3-3 2-3 2-3 1-4 1-3 2-3 1-3 2-2 3-3 2-2 3-2 3-2 2M674 154l-2 3-3 2-2 3-2 3-2 3-2 3-1 3-1 3 0 4 1 3 2 3 2 3 2 3 2 2 3 3 2 3 2 3 1 3M456 160l3 2 3 2 2 2 3 2 3 2 3 2 3 1 4 0 3 0 4 0 3 0 4-1 3-1 3 0 4 0 3 1 4 1 3 2 3 2 2 2 3 1 4 2 3 1 4 0 3 0 4-1 3 0 3-1M672 109l3-2 2-3 2-2 3-3 2-3 2-2 3-3 3-2 3-1 3-1 3-2 4 0 3-1 3-2 3-2 3-2 3-2 2-2 3-3 2-2 3-2 3-2 2-3 3-2 3-2M619 51l-1 3-1 4-1 3-1 3-2 3-2 3-2 3-2 3-2 3-1 3-3 3-3 2-3 1-3 0-4-1-3-1-3-1-3-3-3-2-3-2-3-1-3-2-3 0-4-1-3 1-4 0M575 3l-1 3-1 3 0 4 1 3 0 4 1 3 0 4 0 3-1 4 0 3-1 4-1 3-1 3-1 4-2 3M673 135l0 3-1 4-1 3-1 3-2 3-3 2-3 2-3 2-3 1-4 1-3 1-4 0-3 1M695 132l4 1 3 1 3 2 3 2 3 1 3 2 3 2 3 1 4 2 2 2 3 2M586 70l3-2 3-2 3-2 2-3 3-2 2-3 2-2 3-3 2-2 3-3 3-2 2-2 3-3"/><path stroke="#5c5c5c" stroke-width="1.1" d="M505 75l4-2 3-1 3-2 3 0 4-1 3 1 4 0 3-1 4 0 3-1M698 119l-3 1-4 0-3-1-3-2-4-1-3-1-3-1-4 0-3-1-4 0-3 1-4 0M690 54l-2 3-2 3-2 3-3 3-2 2-3 2-2 3-3 3-1 3-2 3-1 3-1 3-1 4-1 3-1 3-2 4-1 3-2 3-3 2-3 1-3 1-4 0-3 1-4 0-3 0-4 0-3 1-4 0M618 107l4-1 3-1 4 0 3 1 3 2 3 2 3 2 3 2 3 1 3 1 4 1 3 1 4 0 3 1 3 1 4 1 3 0 4 1 3 0 4 1 3 1 3 1 4 1 3 1M498 2l-4 1-3 2-3 1-3 2-3 1-4 2-3 1-3 1-4 1-3 1-3 1-3 1-4 2-3 1-3 1-3 2-2 3-3 3-1 3-1 3M603 123l-3 2-3 2-3 2-3 1-3 2-4 1-3 1-3 1-4 0-3-1-3-2-3-1-4-2-3-2-3-1-3-1M587 109l-2 3-1 4-2 3-2 3-2 3-2 2-2 3-3 2-2 3-2 3-2 3-1 3-2 3-1 4 0 3 0 4M637 151l3-1 4-1 3-1 4-1 3-1 3-1 3-2 3-2 1-3 1-4M659 94l1-4 1-3 1-3 1-4 1-3 0-3 1-4 0-3 0-4 0-3 0-4 0-3 1-4 0-3 1-4 2-3M684-2l3-1 4 0 3-1 3-1 4-1 3-2 2-2 3-2 3-3 2-3 2-2 2-3M495 64l-4 2-3 1-3 1-4 0-3 0-4-1-3-1-4 0-3-1-3-1-4-1-3-2-3-2-3-1-3-1-4-1-3-1-3-1-3-2-3-2-2-2-2-4-1-3-1-3M479 17l3-2 3-1 3-3 2-3 2-3 2-3 1-3 2-3 3-2 1-3 2-3 1-4M464 40l1-3 2-3 3-2 3-2 3-2 4-1 3-1 3 0 4-1 3-1 4-1 3 0 3-1 4 0 3-1 4 0 3-1M660 169l0-4-1-3 0-4 0-3 0-4 1-3 2-3 1-4 1-3 2-3 2-3 2-3 2-2 3-3 2-2 2-3 3-2 3-3 2-2 3-2 3-2 2-3 2-2 3-3M574 23l4-1 2-2 3-2 2-3 2-3 2-3 2-3 1-3 1-4 1-3 0-3 0-4 0-3 0-4 0-3 0-4 0-3-1-4 0-3-1-4-1-3-2-3-2-3-3-2-2-3M615 102l-4 1-3 1-3 1-4 1-3 2-3 2-2 2-2 3-1 4-1 3 0 3 0 4-1 3 0 4 0 3 0 4 0 3 1 4M461 93l2-2 3-2 3-2 4-1 3-2 2-2 3-2 3-3 2-2 2-3 1-3 2-4 1-3 2-3 2-3 2-3 2-2 2-3 3-2 2-3 2-3 1-3 1-4 0-3 0-4M628 105l-1 3-2 3 0 4-1 3 1 3 1 4 1 3 1 4 1 3 1 3 2 3 2 3M534 94l1-3 1-3 0-4 1-3 1-4 1-3 2-3 2-3 2-2 2-3M644 154l4 0 3-1 3 0 4-1 3 0 4-1 3 0 4-1 3-1 4 0 3-1M611 53l-3 1-3 2-2 3-2 3-2 3-2 3-2 2-3 2-3 2-3 2-3 1-4 0-3 0M621 29l-3 2-3 2-2 2-3 3-1 3-1 4-1 3-1 3 0 4 1 3 2 4 1 3 2 3 1 3 1 3 1 4 1 3 1 4 0 3 1 3 1 4 1 3 0 4 1 3 1 3 1 4 3 2 2 3M529 151l2-4 1-3 1-3 1-4 1-3 2-3 2-3 3-2 2-2 3-3 3-2 2-3 2-2 2-3 2-3 2-3 2-3 2-3 3-2 3-1 4-1 3-1 4-1 3-1 3-2 2-3 2-2M626 50l-3 3-2 2-1 4-2 3 0 3 0 4-1 3 1 4 1 3 0 4 1 3 0 4 0 3 0 4-1 3 0 4 0 3 0 4 0 3 1 3 1 4 2 3 3 2 2 3M588 150l3-2 3-2 3-2 2-3 2-3 2-3 1-3 1-3 1-4 1-3M626 82l3-1 3-2 3-2 3-1 3-2 3-2 3-2 3-2 2-3 3-2M560 152l-2 3-2 3-3 2-3 2-3 2-3 1-3 2-3 1-3 2-3 2-3 1-4 2-3 1-3 1-3 2-3 2-3 2-2 3-1 3-1 4-1 3 0 4M643 86l-4 1-3 0-3 1-4 1-3 1-4 1-3 1-3 1-4 1-3 0-4 0M665 18l-3 2-3 2-4 1-3 0-4 0-3-1-3-1-4-1-3-1-3-2-3-2-3-1-3-2-3-2-3-1-4-2-3-1-3-2-3-1-4-1-3 0-4 0-3 0M439 64l-1 3-1 4 0 3 0 4-2 3-2 3-2 3-2 2-3 2-4 1-3 1-4 0-3 0-3-1-3-2-3-3-2-3-1-3-1-3-1-4 1-3M511-1l0-4 0-3 0-4 1-3 1-3 2-3 2-3 2-3 2-3 2-3 2-3 1-3 2-3 2-3 2-3 2-3 2-3 2-3 2-2 2-3 1-3 1-4 1-3 1-4M482 88l-3 1-3 2-3 2-2 2-2 3-1 4 0 3 1 4 1 3 2 3 2 3 3 2 2 3 2 2 3 3 2 2 3 3 3 2M639 117l4 1 3 0 4 0 3 1 3 1 3 2 3 2 3 2 3 2 3 2 3 2 3 1 3 1 4 1 3 0 4 0 3 0 4-1 3-1 3-1 3-2M450 39l2-3 2-3 2-3 2-3 2-3 1-3 1-4 0-3 0-4 0-3 1-3 0-4 1-3 2-4 1-3 2-3 1-3 2-3 1-3 2-4 0-3 1-3-1-4 0-3-1-4-1-3 0-4M492 17l-3 1-4 1-3 1-3 1-3 1-4 2-3 2-3 1-3 1-3 2-4 0-3 1-4-1-3 0-3-2-3-2-3-2-3-2M647 60l3-2 3-1 3-1 3-2 3-3 2-2 2-3 1-4 0-3 0-4M441 87l-2 3-2 2-2 3-2 3-1 4 0 3 1 4 1 3 1 3 2 3 2 3 1 3 2 3 2 3 2 3 2 3 3 2 2 3 2 3 2 3 2 3M479 85l-1 3-2 4-1 3-1 3-1 4 1 3 0 4 1 3 2 3 3 2 2 3 3 2 3 1 3 2 4 1 3 2 3 2 3 1 3 2 2 3 3 2 1 3 2 3 1 4 0 3 0 4-1 3-1 3M432 67l-3 0-4 0-3 0-4 0-3-1-3-2-3-2-2-3-2-2-2-4-1-3-1-3-1-4 0-3 0-4 1-3 1-3 1-3 2-4 2-3 2-2 3-3 3-1 3-2 3-1 3-1 4 0 3 0M450 133l3-3 2-2 3-2 3-2 3-1 4-1 3-1 4 1 3 0 3 1 4 2 3 1 3 1M598 172l-3 1-3 2-3 2-3 2-2 3-3 2-2 3-2 2-2 3-2 3-1 4-1 3 0 3-1 4 0 3 0 4-1 3 0 4M523 146l-3 0-4-1-3 0-4 0-3-1-4 1-3 1-3 2-3 1-3 2-4 1-3 0-4 2-3 1-3 2-3 2M440 137l-3-2-3-1-3-2-3-2-3-2-3-2-3-2-3-2-3-1-4-1-3-1-3-2-2-2-3-3-2-3-2-3-2-3M621 104l4 0 3 0 4 0 3 1 3 2 3 2 2 3 3 2 2 3M514 42l-3 2-3 2-3 1-3 2-3 1-4 1-3 1-3 1-4 1-3 1-3 1-4 2-3 1-3 2-3 1M493 80l-3 3-3 1-3 2-4 0-3 0-4 0-3 0-4 0-3-1-3-1M625 99l2-3 2-3 3-2 2-2 3-3 2-3 2-2 1-4 2-3 1-3 2-3 2-3 2-3 1-3 2-3 3-2 3-3 2-2 3-2 3-2 2-3 2-2 3-3 3-2 3-2 3-2M489 141l-3 2-3 2-2 2-3 3-2 2-3 3-2 2-3 2-3 2-3 1-4 1-3 1M469 51l2-3 3-2 2-3 2-3 2-3 1-3 1-4 1-3 1-3 1-4 0-3 0-4-1-3-1-4 0-3M532 90l3 0 3 1 4 2 3 1 3 2 2 3 3 2 3 2 3 2M553 95l-2 4-1 3-2 3-1 3-1 4 0 3-1 3-1 4-1 3 0 4-1 3-1 3-1 4-2 3-2 3-2 2-2 3-2 3-2 3-2 3-2 3-2 3M660 0l1-4 2-3 1-3 2-3 3-2 3-2 3-2 3-1 3-2 3-2 3-1 3-2 3-2 3-1 4-1 3 0 4 0 3 2 3 2 2 2 2 3 2 3 1 4 1 3 2 3 2 3 2 3 2 3M597-2l2 2 3 3 3 2 2 3 2 2 3 3 3 2 2 2 3 3 2 2 2 3 3 2 2 3M492 54l-3 2-3 1-3 2-3 2-3 2-3 2-1 3-1 4 0 3M580 137l-2 3-1 3-2 3-2 3-1 3-2 3-1 4-2 3-1 3-2 3-2 3-1 3-2 3-3 2-3 2-3 2-3 0-4 0-3 0-4-1M592 40l-3 3-3 2-3 2-2 2-3 2-3 3-2 2-3 3-2 2-2 3-1 3-2 3M511 58l-3 3-3 1-3 1-4 1-3 1-3 1-4 1-3 0-4 0-3 0-4 0-3 0-3 2-4 1-3 1-3 2-3 1-4 1-3 2-2 2-3 2-3 2-3 2-3 1M655 139l2-2 3-2 3-3 3-2 3-2 2-2 2-3 2-3 3-2 2-3 3-1 3-2 3-2 3-2 2-3 2-3 3-2 2-3 2-3 2-3M664 96l-3-2-3-1-4-2-3-1-3-1-4-1-3 0-4 0-3 0-4 0-3 0-4 0-3-1-3-1-4-1-3-2M561-1l4-2 3-1 3-2 3-1 3-1 4-2 3-1 3-1 3-1 4-2 3-2 3-1 3-2 3-1 4 0 3 0 4 0 3 1 3 1 4 1 3 2 3 1 3 1M602 22l3-2 2-3 2-2 3-3 1-3 1-4 2-3 0-3 1-4 0-3-1-4-1-3-1-3-1-4-1-3-1-4 0-3 0-3 0-4 1-3 1-4 1-3 2-3 0-4 1-3 0-4M457 56l-1 3 0 4-1 3 0 3 0 4 1 3 1 4 2 3 1 3 2 3M555 171l2-3 2-2 2-3 2-3 2-3 2-3 3-2 2-3 1-3 1-4 1-3 0-4 0-3-1-4 0-3 0-3-1-4-2-3-1-3-2-3M569 100l-1 4-1 3-1 3-2 3-2 3-2 3-2 2-2 3-3 3M569 29l-2 3-2 3-2 3-2 3-2 3-2 3-2 2-2 3-2 3-2 3-3 2-1 3-2 4-1 3-2 3-2 3-3 2-2 2-4 1-3 1-3 1M434 157l-4 1-3 0-4 0-3 0-4-1-3-1-4 0-3 0-4 1-3 2-2 3-2 3-1 3-1 3-1 4-1 3M681 15l-3 1-3 3-2 2-3 2-3 2-3 2-3 1-3 1-4 2-3 0-4 1-3 0-4 0-3 0-4-1-3 0-4 0-3 0-3-1-4-1-3-1-3-2-1-3M516 19l2-3 2-3 1-3 2-3 1-3 2-3 1-4 1-3 1-3 0-4 0-3 0-4 0-3 0-4 0-3 0-4 0-3M621 59l4-2 3-1 3-2 3-1 4-1 3 0 3-2 4-1 3-1M542 113l-3 2-3 2-3 2-3 2-3 2-2 3-1 3 0 4 1 3 2 3 2 3 2 2 3 3 2 2 3 3 3 2 2 2 3 3 2 3 2 2 1 4 2 3 1 3 2 3M558 26l-3 1-3-1-4 0-3-1-4 0-3-1-4 0-3-1-4 0-3 0-4-1-3 0-4-1-3-1-3 0-4 1-3 0-4 1-3 1M500-13l4 0 3 0 4 0 3-1 4-1 3 0 4 0 3 2 3 1 3 2 3 1 3 3 2 3 2 2 3 2 3 2 3 2 3 2M576-6l-3 3-2 2-2 3-1 4-2 3-1 3-2 3-1 3-2 3-2 3-2 3M452 137l-4 1-3 1-4 1-3 1-3 1-4 1-3 0-4 0-3-1-4 0-3 0-3-1-4 0-3-2-4 0-3-1-4 0-3 0-4 0-3-1-3-1-3-2-4-1-3-2-2-2-3-3M542 133l-4 0-3-1-3-1-4-1-3-1-3-1-3-2-3-3-2-2-3-3-2-2M662 92l3-2 3-2 3-1 3-1 4 0 3 0 3 1 4 1 3 1 4 1 3 0 3 1 4 2 3 1 3 1 4 0 3 1 4 1 3 1 3 1 4 1 3 1M612 45l3-2 3-2 3-2 3 0 4 0 3 0 4 1 3 2 3 2 3 2 3 1 3 2 3 2 3 1 3 2 3 2 3 2 3 2 3 1 3 1 4 1 3 1M485 20l3-2 3-2 3-2 2-3 3-2 3-2 2-3 3-2 3-2 2-2 3-3 2-3M547 33l-3 2-3 2-4 1-3 0-4 0-3-1-4 0-3 0-4-1-3 1-3 1-4 0-3 1-4 2-3 1-3 0-4 1-3 0-4 0-3 0-4-1-3-1-3-2-3-1-3-2-3-1M563 16l-1 3-2 3-2 3-2 3-2 2-2 3-3 3-3 2-2 2M465 101l-3 2-3 2-3 2-3 1-3 2-3 1-4 1-3 1-3 1-4 0-3 0-4 0-3 1-4 1-3 0-4 1-3 1-3 2-3 2-3 1-4 1-3 1-3 1-4 1-3 1-3 1-4 1M598 167l4-2 3-2 2-2 3-2 3-1 4-2 3-1 3-2 3-2 3-2 2-2 3-3 1-3 2-3 2-3 2-3M600 28l3-2 3-1 3-2 3-2 3-2 2-2 3-2 3-2 3-2 4-1 3-1 3-1 4-1 3 0 3-2 4-1 3-1 3-2 3-2 3-2 3-1 3-1 4 0 3 1 4 1 3 1 4 0 3 1M474 167l-3 2-3 2-3 2-2 2-3 2-3 2-3 2-3 2-3 2-2 2-3 3-2 3 0 3-1 3 0 4 0 3 1 4 0 3 1 4M611 137l3-2 3-2 3-2 3-2 3-2 3-2 3-1 3-2 3-2 2-3 3-2 1-3 1-4 2-3 1-3M582 19l2-3 2-3 1-3 1-4 1-3 0-4 0-3 1-4 1-3 1-3 2-4 1-2M649 35l1-3 1-4 1-3 1-3 2-4 1-3 1-3 1-4 1-3 0-3 1-4 1-3 0-4 0-3-1-4 0-3 1-4 1-3 1-3 2-3 2-3 3-3 2-2 3-2 2-2 3-2M614 44l-3 3-3 2-2 2-3 2-3 2-4 1-3 1-4 0-3 0-4 0-3-1-3-1-3-1-3-2-3-3-2-3-1-3-1-3-1-4M562 167l2-3 2-3 2-3 2-3 2-3 1-3 2-3 2-3 1-3 1-4 0-3 1-4 0-3 1-4 1-3 2-3 1-3 2-3 1-3 2-3 2-3M698 72l-4 1-3 1-4 0-3 0-4 1-3 1-4-1-3-1-3-1M481 14l2-3 2-3 2-3 2-3 2-2 3-3 2-3 2-2 3-3 2-2 3-3 3-2M571 174l4-1 3-1 4-1 3-1 3-1 4-1 3-1 3-1 4-1 3-1 4 0 3-1 4-1 3 0 3-1M485 171l-3 1-3 2-3 1-3 2-3 2-4 1-3 2-3 1-3 2-3 1-4 1"/><path stroke="#6d6d6d" stroke-width="0.7" d="M624 31l0-4 1-3-1-4 0-3-1-3-2-4-1-3-2-3-2-3-2-2M672 31l2-3 2-3 2-2 2-3 2-4 1-3 0-3 1-4 0-3 0-4 0-3-1-4-1-3-2-3-2-3-2-3-2-2-3-3-2-2M545 14l-3 1-3 2-4 1-3 2-3 2-3 2-3 1-3 1-3 1-4-1-3-1-3-1-4-2-3-2-2-2-3-2-3-2-3-2-3-1M607 115l-3 2-3 2-3 2-3 2-3 1-3 2-3 2-2 3-2 3-2 2-3 3-2 3-2 3-3 2-2 2-3 2M490 62l-2 2-3 3-3 2-3 2-3 2-2 2-3 2-2 3-2 3-2 3-1 3-1 4-1 3 0 4 1 3 1 3M566 38l3 1 3 2 3 2 2 3 2 3 2 3 2 3 1 3 2 3M616-13l4-1 3 1 4 0 3 2 3 2 2 3 1 3 1 3 2 3 0 4 1 3 0 4 1 3 1 4M626 122l-3 1-3 1-4 0-3 1-4 0-3 1-4 0-3 1-4 0-3 0-4 0-3 1M447 1l4 1 3 0 4 1 3 1 3 1 4 1 3 2 3 1 3 1 4 2 3 1 3 1 3 3 2 2 2 3 1 4 1 3 1 3 1 4 1 3 1 3 2 3 1 4 2 3 1 3 2 3M653 155l2-3 2-3 2-3 3-2 3-2 3-1 4-1 3-1M483 32l3-1 3-2 3-2 2-2 3-3 3-2 3-1 4-1 3-1 4 0 3 0 4 0 3 0 4-1 3-1 3-2 2-2 3-2 3-2 3-2 3-2 3-1 3-2 4-1M437-8l2-3 1-3 2-3 2-3 1-3 1-3 2-4 2-3 2-2 3-1 4-1 3-1 4 0 3 1 4 0 3 1M434-3l3-2 4 0 3 1 4 1 3 2 3 2 2 2 3 2 3 2 3 1 4 1 3 2 3 2 2 3M583 25l4 0 3 1 4 0 3 0 4 0 3 1 4 0 3 1 4 0 3 1 3 1 4 1 3 2 2 2 2 3 2 3 2 3 2 3M622 59l3-2 3-2 3-2 3-2 3 0 4 0 3 0 4 2 2 2 3 2 2 3 2 3 1 3 2 3 1 3 2 4 2 3 2 2 1 3 2 4M433 139l-3 0-4 0-3 0-4 0-3-1-4 0-3 0-4 0-3 1-3 2-3 2-2 3-1 3-2 3-1 3-3 3-3 2-3 1-3 1-4 1-3 1-3 0M697-1l3-2 3-1 3-2 3-1 3-3 2-3 1-3 0-4 1-3 1-3 1-4 2-3 2-3 2-2 2-3 3-2 2-3 3-2 2-3 2-3 3-2 2-3 2-3 2-3 2-3 1-3 1-3 1-4M685 171l3-2 2-2 2-3 3-2 3-2 4-1 3 0 4 0 3 0 3-1 4-1 3-1 3-2 3-1 3-2 3-3 2-2 2-3 2-3 2-3 1-3 2-3 1-4 1-3 1-3 1-4 1-3M621 7l-2-2-3-2-2-3-2-3-3-2-2-3-3-2-3-1-4-1-3 1-3 0-4 0-3 1-4 0M662-1l3-1 4-1 3 0 3 0 4 1 3 1 3 2 3 2 2 2 3 2 3 2 3 2 3 2M601 118l-3 2-3 2-3 2-3 2-3 1-3 2-3 1-3 1-4 2-3 2-3 1-3 1-4 1-3 0-4 0-3 0M594 18l3-2 3-2 3-2 3-2 2-3 2-2 2-3 2-3 2-3 2-3 1-3 2-3 1-3M512 174l3-1 4 0 3-1 3-2 3-1 4-1 3-1 3-1 4-1 3 0 4 1 3 0 4 1 3 0 4 0 3 0 4-1 3 0 4-1M505 60l-4 1-3 0-4 1-3 2-3 1-3 2-3 1-3 2-3 2-3 3-2 2M699 6l4-1 2-2 3-2 4-2 2-2 3-2 2-3 2-3 1-3 1-4M583 117l4 0 3 1 3 1 4 1 3 1 3 3 2 2 2 3 2 3 3 2 2 3 1 3 2 3 2 3 2 3 2 3 2 3 2 3 2 2 3 3 3 1 3 2 3 0M466 45l-3 2-3 1-3 2-3 2-3 2-3 2-3 2-3 2-2 2-3 2-3 2-3 2-3 2-3 1-3 1-4 2-3 0-3 1-4 0-3 1-4 0-3 1-4 0-3 1-4 1-3 1M562 123l-3 2-3 3-2 2-2 3-1 3-1 4-1 3 0 4 0 3 0 4 0 3-1 4 0 3 0 4 0 3 0 4-2 3-1 3-2 3-2 3-2 3M624-5l-3 2-3 2-3 1-3 2-4 1-3 1-3 2-3 1-3 2-4 1-3 1M439 126l1-4 3-2 2-3 3-2 3-2 3-2 3-1 3-2 3-2 3-1 4 0 3 1 3 2 2 2 2 3 2 4 0 3 0 4-2 3-1 3-2 3-2 3-1 3 0 4M457 28l2-2 3-3 3-2 3-2 2-2 3-3 3-2 2-2 4-1 3-2 3-1 2-3 2-3 2-3 1-3 0-4 1-3 1-4 1-3 1-3 1-4M482 101l2-3 3-2 2-3 2-3 2-2 2-3 2-3 2-3 2-3 2-3M549-4l3 0 4 0 3 1 3 1 3 1 3 2 3 3 2 2 2 3 3 3 2 2 3 2 3 2 3 2 3 2 3 2 3 1 3 0 4 0M521 34l3 1 4 1 3 1 3 2 3 2 3 2 3 2 3 2 3 2 3 1 3 2 3 2 3 1M594 149l-4 0-3 0-4 1-3 0-4 2-2 2-3 2-3 2-3 2M455 137l-4 0-3 1-4 1-3 2-2 2-3 3-1 3-2 3-2 3-2 3-2 3-1 3-1 3-1 4-1 3-1 3-1 4 0 3 0 4 0 3 1 4 1 3 2 3M466 9l-3 2-3 2-3 2-2 3-2 2-2 4 0 3 1 4 2 2 2 3 3 2M470 101l0 4 0 3-1 4-1 3-1 3-1 4-1 3-1 3-1 4-1 3M559 166l3-1 4 0 3 1 4 1 3 1 4 0 3 1 3 1 4 1 3 1 3 1 4 0 3 0 4 0 3-1 4-1M629 32l-4 0-3-1-4-1-3-1-3-1-4-1-3-1-3-2-3-2-2-2-3-3-2-3-1-3-2-3-2-3-2-3-3-2-2-3-2-2M624 76l-4 1-3 1-4 0-3 0-4-1-3 0-4 0-3-2-3-2-2-2-3-2-2-3-1-3-1-4M621 46l-3 3-2 3-2 2-3 3-2 2-3 2-3 2-3 2-2 3-2 3-2 3-1 3-2 3-1 3-1 4 0 3 0 4 0 3 1 4 0 3 0 4 0 3-1 4 0 3 0 4M689 172l-3 2-3 1-4 0-3-1-4-1-3-2-3-1-3-1-3-2M626-7l-2 3 0 3 0 4 1 3 0 4 1 3-1 4 0 3-1 4-1 3-1 3-1 4-1 3 0 4M552 165l1-3 1-4 1-3 2-3 1-3 2-3 2-3 3-2 2-3M539 159l-2 4-1 3-1 3-1 3-1 4-2 3-2 3-2 3-2 2-2 3-2 3-2 3-3 2-2 3-3 2-2 3-3 1-3 2-3 2-4 1-3 1-4 1-3 0M547 70l3-1 3 0 4 0 3 1 4 0 3 0 4 0 3 0 4 1 3 1 4 0 3 0 4 0 3-1 3-2 3-2 2-3 2-3 2-3 1-3 0-4 1-3-1-4 0-3-1-3-1-4-2-3M622 153l-2 2-1 4-1 3-1 3-1 4-1 3-1 3-2 4-1 3-2 3-2 3-3 2-2 2M630 114l3-2 3-2 3-1 3-2 3-2 3-2 3-2 2-2 3-3 2-2M591 133l-3 1-3 0-4 0-3 1-4 0-3 2-3 1-3 2-3 3-2 2-2 3-2 3-2 3-3 2-2 3-2 3-2 3-2 3-1 3-1 3-1 4 0 3 0 4M660 153l-3 3-2 3-2 2-3 2-3 2-3 2-3 2-3 2-3 2-2 2-3 3-3 2-2 2M629 140l2-2 2-3 2-3 2-3 2-3 2-3 2-3 3-2 3-2 3-2 2-2 3-2 3-2 3-2 3-2 2-3 2-2M512 129l-3 1-4 0-3 0-4 0-3-1-3-1-3-2-3-2-3-2-3-2-3-2-3-2-3-2-2-3-3-1-3-2-4-1-3-1-3-1-4 0M435 132l-4-1-3 0-4 0-3 0-4 1-3 0-3 2-4 1-3 1-3 1-4 2-3 1-3 1-3 2-3 1-3 2-4 1-3 1-3 2M446 109l-3 1-3 2-3 1-3 2-3 3-2 3-3 2-3 1-3 2-3 1-3 2-3 2-2 3-3 2-2 3-2 3-3 2-3 2-3 1-3 2-3 1-4 1-3 1-4 0-3 1-3 0-4 0-3 1M589 169l-2 4-1 3 0 3-1 4 0 3 1 4 0 3 1 4M661 52l3-1 4-1 3-1 4 0 3 0 3 1 3 2 3 2 3 2 3 2M549 9l2-3 2-2 3-3 2-3 2-2 3-2 3-2 4-1 3-1 3-2 3-1 4-1 3-1 3-2 3-2 3-2M593 99l-3 1-4 0-3 1-4 0-3 0-4-1-3 0-4-1-3-2-3-2-2-2-3-2-3-3-2-2-2-3-2-3-2-3-2-3-2-3-2-3-2-2-2-3-3-2-2-3-2-3M534 159l-4 1-3 0-4 0-3 0-4-1-3-1-3 0-4-2-3-1-3-1-4-1M649 7l-4 1-3 0-4 0-3 1-4 0-3 0-4 0-3-1M506 17l3-1 4 0 3-1 3-1 4 0 3-1 4 0 3 0 4-1 3 0 4-1M459 102l3-1 4-1 3-1 4-1 3-1 3-1 3-2 3-2 2-2 2-3 3-3M523 38l3 0 4-1 3-1 3-2 3-2 3-2 3-1 4-1 3 1 4 0 3 1 3 1 4 0 3 1 3 1 4 2 2 2 3 2 3 3 2 2M615-6l3-3 3-2 3-2 2-2 3-2 3-2 3-1 3-2 3-2 3-2M499 13l3-2 3-1 4-1 3-1 4 0 3 0 4 0 3 2 2 2 2 3 1 3 1 4 0 3-1 4-1 3-2 3-2 3-3 2-3 2-3 2-3 2-3 1-3 2-3 2-3 2-2 2-3 3-2 2M623 3l1 4 1 3 1 4 0 3 1 3 1 4 0 3 1 4 2 3 1 3 2 3 3 2 2 3 3 2 3 2 2 3 2 3 2 2 2 3 2 3M663 56l-1 4-1 3-1 4-1 3-2 3-2 3-2 3-2 3M439 109l-3 3-1 3-2 3-1 3-1 3 0 4 0 3 0 4 1 3 1 4 1 3 1 3 0 4-1 3 0 4-1 3-1 4 0 3 0 4 0 3M664 25l-4 2-3 1-3 1-3 1-4 1-3 1-4 0-3 0-4-1-3 0-4 0-3 0-4-1-3 0-4-1-3-1-3-1-3-2-4-1-3-1-3-1-4 0-3-1-4 1-3 1-3 1-3 2-3 2M688 151l-3 0-4 0-3-1-3 0-4-1-3-1-4-1-3 0-4-1-3-1-3 0M489 60l2-3 3-2 3-2 3-1 4-2 3-1 3-1 3-2 3-1 3-2 3-2 4-1 3-2 3-1 3-2 3-2 3-1 3-2 3-2 3-2 3-2 3-2 3-2 2-2 3-2 4-1 3 0 4 0M461 53l-2 3-3 2-3 2-3 1-4 0-3 0-4 0-3-1-3-2-3-2-3-2-2-3-2-3-2-3-2-3-1-3-1-3 0-4-1-3 0-4-1-3-1-3-2-4-2-2-2-3-3-2-2-3M491-1l-4 1-3 1-3 1-4 1-3 1-3 1-3 2-3 3-2 2-3 2-3 2-2 3-2 3-1 3-1 4-1 3-1 4 0 3 0 4M557 55l-4 2-3 1-3 0-4 1-3 0-4 0-3 0-4-1-3-1-4 0-3-1M585 162l3-3 2-2 3-3 2-2 2-3 3-3 2-2 2-3 2-3 1-4 1-3-1-3-1-4-1-3-1-3-2-4-1-3-1-3-1-3-1-4-1-3-1-3-2-3-2-3-1-4-2-3M473 118l3 0 4 1 3 0 3 2 4 1 3 1 4 1 3 0 3 1 4 0 3 1 4 1 3 1 4 1 3 1 3 0 4 1 3 0 4 1 3 2 3 1 3 2 3 2 2 2 3 3M494-5l-2 2-3 3-2 2-3 2-3 1-3 2-3 2-3 2-3 2-2 3-3 2-2 3-2 3-3 2-2 3-2 3-2 2-3 3-2 2-3 3-2 2-2 3-2 3-3 3-2 2M612 145l-2 3-2 3-2 2-2 3-3 3-2 2-3 2-3 1M569 122l-2 2-3 2-2 3-2 3-2 3-2 3-1 3-1 4-1 3 0 3 0 4 0 3 1 4 1 3 1 4M490 47l3-2 3-2 3-2 3-2 3-2 2-2 3-2 2-3 2-3 2-3 2-2 2-3 2-3 2-3 1-3 2-4 1-3 1-3 0-4 0-3-1-4M592 132l1-3 1-4 0-3 1-4 0-3 0-4-1-3-1-4 0-3 0-4-1-3 0-4 0-3M542 13l-2 3-3 3-2 2-3 3-2 2-3 3-2 2-3 2-3 3-3 1-3 1-3 1-4 0-3-1-4 0-3 0-4-1-3-1-3-2-3-1-4-1-3-2-3-1-3-2-3-2-3-3-2-2M460 118l-4-1-3 0-4-1-3-1-3-1-3-2-3-2-3-2-2-3-2-3-3-2-2-2-3-2-4-1-3-1-4-1-3 0-3-1-4-1-3-1-3-1-4-1-3-2-3-1-3-2M536 86l-2 2-2 3-3 2-2 3-3 2-2 3-2 3-1 3-2 3-2 3-1 3-2 3-1 4-2 3-1 3-1 3-2 4-1 3-2 3-1 3-2 3-2 3-3 2-3 2-3 1M647 66l2-3 3-1 4-1 3-1 4 1 3 0 4 1 3 0 4 0 3 1 3 0 4 1 3 0 4 0 3 0 4-1 3 0M516 155l-3 2-3 1-4 2-3 2-3 1-3 2-2 2-3 3-2 2-3 3-1 3-2 3-1 3-2 3M572 97l3-2 3-2 3-2 3-3 2-3 2-2 2-3 2-3M661 169l-4 1-3 0-4 1-3 0-4 0-3 0-4-1-3 0-3-1-4-1-3-2-3-1-4-1-3 0-4 0-3 2-3 1-3 1M485 146l3 0 4 0 3-1 3-2 3-2 2-2 2-3 2-3 1-4 1-3 1-4 0-3-1-3-1-4-2-3-1-3-2-3-2-3-1-3-3-3-1-3-1-3-2-4-1-3-1-3-2-3-3-2M605 92l2-3 2-3 2-3 1-3 2-3 2-3 3-2 2-3 3-2 3-2 2-2 3-3 2-2 2-3 2-3 2-3M501 122l-1 3-1 3-2 4-1 3-1 3-1 3 0 4 0 3 0 4-1 3-1 4-1 3-1 3-2 3-1 4-2 3-1 3-2 3-1 3-1 4-2 3-2 3-2 2-3 2-4 1-3 0-4 1-3 0M486 137l3-3 2-2 2-3 3-2 2-3 3-2 3-1 3-2 4-1 3-1 3-1 4-1 3-1 4-1 3 0 4 1 3 0 3 1 4 0"/><path stroke="#6d6d6d" stroke-width="1.1" d="M575 50l-3 0-4 1-3 1-4 1-3 1-3 1-3 2-3 2-3 2-3 2-3 2-3 2-3 1-3 2-3 2-3 2-2 2-2 3-1 4M557 1l0 3-1 3-1 4-1 3-2 3-1 3-2 3-2 4-2 2-2 3-2 3-2 3-2 3-2 2-2 3-3 3-2 2-3 2-3 2-2 2M640 91l-2 3-3 2-2 3-2 3-1 3-1 4 0 3-1 4 0 3 0 4 0 3 1 4 1 3 1 3 1 3 2 3 3 3 2 2 3 2 3 2 3 2 3 2 2 2 3 3 3 2 2 2M520 33l-2 3-2 3-1 4-1 3-2 3-2 3-1 3-2 3-2 3-3 2-2 3-3 2-3 2-3 2-2 3-2 3-1 3-2 3-1 4M592 97l3-1 3-2 2-3 1-3 1-4 0-3 0-4 0-3 1-4 1-3 0-4 2-3 1-3 2-3 2-3 1-3 2-3 1-4 1-3 0-4 0-3M486 120l-3 1-4 0-3 1-3 1-4 1-3 1-4 1-3 1-3 1-4 1-3 1-3 1-4 1-3 0-4-1-3-1-4-1-3-1-3 0-4-1M524 18l-3 1-3 0-4 1-3 1-3 2-3 1-3 2-3 3-2 2-3 3-2 2-3 2-3 2-3 2-3 2-2 3-2 3-2 2M462-7l-3-1-3-2-4-1-3-1-3-2-3-2-3-2-3-2-2-2-3-3-2-3-1-3-2-3-1-3-1-3-1-4M616 154l0 4 0 3 0 4 2 3 3 2 2 2 3 2 3 2 3 2 2 3 3 2 2 2 3 2 4 2 3 1 3 1 3 2 4 1 3 1M659 173l-3 2-3 2-2 3-2 3-2 2-2 3-2 3-2 3-1 3-2 3-2 3-2 4-1 3-2 2-2 3-3 3-2 2-3 2-4 1-3 1-4 0-3-1-4 0-3-1-4 0-3 0-3-1M524 6l-4 0-3-1-3-1-4-1-3-2-3-2-2-2-2-3-2-3-2-3-2-3-1-3-2-3-2-3-2-3-2-3-2-3-1-3-2-3-2-3-2-3-2-2-2-3-2-3-3-3-2-2-2-3-3-2M462 153l-3 0-3 1-4 0-3 1-4 0-3 0-4 0-3-2-3-2M547 73l-3 3-2 3-2 3-1 3-2 3-1 3-1 4-1 3-1 3-2 3-2 3-3 2-3 2-3 2-3 1-3 1-4 1-3 0-4 1-3 0-4 0-3 1-3 1M449 147l-3 3-3 2-2 2-4 1-3 1-3 2-3 1-4 1-3 1-3 2-3 2-3 2-3 2-2 2M568 23l-2 2-3 3-2 3-1 3-2 3-2 3-1 3-1 3-1 4-1 3 0 4 1 3 0 4 2 3 1 3 2 3M608 56l-1 3 0 4 0 3 1 3 1 4 2 3 2 3 1 3 2 3 2 3 1 3 2 3 1 3 2 4M535 48l-3 2-3 2-3 2-2 3-2 3-1 3-1 3 0 4 1 3 0 4 1 3 1 4 2 3 2 2 3 3 3 2M560 17l3 0 4-1 3-1 4-1 3 0 3-1 4-1 3-2 2-2 3-3 2-2 3-2 3-3 2-2 3-2 3-2M548 135l-3 1-4 1-3 0-4 0-3-2-3-1-3-2-4-1-3-1-3-1-3-1-4-2-3-1-3-2-2-3-2-3M499 132l-3 3-3 2-3 1-3 1-4 0-3 1-4 0-3-1-4-1-3-1-3-1-3-2-3-1-3-2-4-2-2-2-3-2-3-2-2-3-2-3-2-2-3-3-3-2-3-2-3-1-3-1M661 46l3 0 4-1 3-1 4 0 3-1 4 0 3 0 4 0 3 1 3 1 4 1 3 1 3 2 3 1 3 2 3 2 3 2 3 2 2 2 3 2 3 3 3 2 2 2 3 2 3 3 2 2 3 2M459 141l1-3 2-4 1-3 0-3 1-4 0-3 1-4 1-3 0-4 1-3 1-3 1-4 1-3M690 98l0-3 1-4 1-3 1-3 1-4 1-3 1-3 2-3 2-3M666 11l-3 2-2 3-2 3-1 4-1 3-2 3-1 3-1 4-1 3-1 3 0 4 0 3-1 4-1 3-1 4-1 3-1 3-1 4-1 3-2 3-2 3M528 26l-4 0-3 1-3 1-4 2-3 1-3 2-2 2-3 3-2 3-2 2-2 3-3 3-2 2-3 2-4 1-3 1-3 0M670 88l2-3 3-2 3-2 3-2 3 0 4-1 3 0 4-1 3 0 4 0 3 0 4 0 3 0 4 0 3 0 4 0 3 0 4 1 3 1 3 1 4 1 3 1 4 1 3 0M679 169l2-2 3-3 2-2 3-2 3-1 4-1 3-1 4-1 3-1 3-1 3-2 3-2M621 54l3-1 3-2 4-1 3-1 3-1 3-2 3-2 3-2 3-2 3-2 2-2 3-3M470 105l-3 2-3 2-3 2-3 1-3 2-3 2-2 2-3 3-2 3-1 3-1 3-1 4 0 3 0 4M652 146l0-3 1-4 1-3 0-4 1-3 2-3 1-4 0-3 1-3 2-4 2-3 2-2 2-3 2-3 2-3 2-3 2-2 2-3 2-3 2-3 2-3M521 149l3-2 3-2 3-2 3-2 3-2 2-3 2-2 2-3 2-4 1-3 1-3 1-4 1-3 2-3 1-3 1-3 2-4 1-3 1-3 1-4 0-3 1-4 1-3 1-3 1-4 1-3M543 22l3-1 3-1 4-1 3 0 4 0 3-1 4 0 3-1 4 0 3 0 4 0 3 0 4-1 3 0 3-1 3-2 4-1 3-2 3-2 3-2 3-1M527 163l2-3 2-3 2-3 2-3 2-2 2-3 2-3 2-3 2-3 3-2 2-2 3-2M499 121l-2 3-3 2-2 3-2 2-2 3-2 3-2 3-2 3-2 3-2 3-3 2-2 3-1 3-2 3-2 3-3 3-2 1-3 2-3 2-4 2-3 1M549 19l4 1 3 0 4 1 3 0 4-1 3 0 4 0 3 1 3 1 4 1M447-11l-3 2-3 2-3 2-3 1-3 1-3 1-4 0-3 0-4 0-3 0-4 0-3-1-4 0-3-1-4 0-3 0M665 68l3-2 3-2 3-1 3-2 3-2 3-3 2-2 3-2 3-2 3-2 2-2 3-3 2-3 3-2 2-2 3-2 3-3 2-2 2-3 1-4M639 81l1-3 1-3 0-4 1-3-1-4 0-3-1-4-1-3-2-3-2-3-3-2-2-2-3-3-3-2-2-2-3-2-3-2-3-2-3-1-3-2M689 145l0-3 1-4 1-3 0-4 1-3 0-3 1-4 1-3 1-4 1-3 1-3 1-4 2-3M446 48l3-1 4-1 3 0 4-1 3-1 3-1 4-1 3-1 4 0 3 1M454 78l2-2 3-3 2-3 3-2 3-1 3-2 3-1 3-1 4-1 3 0 4-1 3 0 4 0 3 1 3 2 3 1 3 3 3 2 2 3M458 145l-3 1-3 1-4 2-3 0-4 1-3 1-3 1-4 1-3 1-3 1M694 156l3-1 3-2 3 0 4-1 3-1 4 0 3-1 3-2 3-1 3-3 3-2 2-2 3-3 1-3 1-3 1-4-1-3M656 171l2-2 2-3 2-3 3-3 1-3 2-3 1-3 0-4M477 141l-3 1-3 1-3 1-4 1-2 3-3 2-2 3-2 2-2 3-1 4-2 3-2 3-2 2-2 3-2 3-1 3M601 14l-4-1-3 1-4 0-3 1-4 0-3 1-4 0-3 1-4 0-3 0-4-1-3 0-4 0-3-1-3-1-4-1-3-1-3-2-3-1M441 64l-3 1-3 1-4 1-3 2-2 2-3 3-2 2-2 3-2 3-2 3-1 3-1 4 0 3 1 3 2 3 2 3 3 2 4 1 3 1M626 111l-3 0-4 1-3 0-4 0-3 0-4 0-3 0-3 1-4 0-3 1-4 1-3 1-3 1-4 1-3 2-3 2-3 1-3 1-4 0-3 0-4 0-3-1-3-2-3-2M540 146l3 0 4 1 3 0 4-1 3 0 3-1 4-1 3-2 3-1 3-2 3-1 4-1M623 123l3-1 3-1 4-1 3-1 3-2 3-2 2-3 2-2 3-3 2-2 3-3 3-2 2-2M681 83l2-2 2-3 3-3 2-2 2-3 3-2 2-3 3-2 3-1 3-2 4-1 3-1 4-1 3-1 3-1 3-1 4-1 3-1 4-1 3-1 3-1M563 134l-1 4 0 3 0 4 0 3 0 4 1 3 1 4 1 3 1 3 1 4 1 3 1 3 2 3 3 3 2 2 3 2 3 1 3 3 3 2 2 3 2 3 1 3 1 3 1 4 0 3M444 2l4 0 3 1 3 1 4 0 3 0 4-1 3-1 3-2 3-2 3-1 3-3 2-2 3-2 3-2 4-1 3-1 3-2 3-1 3-2M468 6l4-2 3-1 3-1 3-2 4-1 3-1 3-1 4-1 3 0 4-1 3 0 4 0M496 38l2-2 3-3 2-2 2-3 3-2 3-3 2-2 2-3 1-3 0-4 0-3-1-4M680 9l-3 2-3 2-3 2-2 2-3 2-3 3-2 2-3 3-2 2-3 2-2 3-2 3-2 3-2 3-1 3-1 4 0 3 0 4 0 3 1 4 1 3 1 3 2 3 1 4 2 2M592 63l-1 3-2 3-1 3-2 3-1 3-2 4-1 3-1 3-1 4 0 3M555 150l3-2 2-3 3-2 3-2 3-2 3-2 3-2 2-2 3-3 2-2 2-3M639 21l3-2 4-2 3-1 3 0 4 0 3 0 4-1 3 0 4 0 3-1 4 0 3-1 3-1 3-2 3-2 3-2 3-2 3-2 3-1 4-1 3 0 4-1 3-1 3-1 4-2 3-1 3-2 3-1M648 17l0 4-1 3 0 4 0 3 0 4 0 3 0 4 0 3-1 4-1 3 0 3-1 4-1 3-1 4-2 3-1 3-3 2M575 75l3-2 3-1 3-3 3-2 3-2 3-1 3-2 4-1 3-2 3-1 2-3 2-3 1-3 1-3 0-4-1-3-2-3-3-2-3-2-3-1-4 0-3 1-3 2-2 2M691 75l-3 1-4 2-3 0-4 0-3-1-3-1-2-3-3-3-1-3-1-3-1-3-1-4M484 134l-2 3-3 3-3 2-2 2-3 2-3 2-3 1-4 1-3 0-4 0-3 1-4 0-3 0-4 0-3 1M484 122l3-1 3-2 3-1 4-1 3-1 3-1 4-1 3 0 4-1 3 0 4 0 3 0 4-1 3-1 4 0M670 73l1-3 1-3 0-4 1-3 1-4 1-3 1-3 0-4 0-3 1-4 1-3 2-3 3-3 2-2 4-1 3-2 3-1 3-2 3-1M661 52l1-4 1-3 1-3 0-4 1-3 1-3 1-4 0-3 0-4 0-3 1-4 1-3 2-3 2-3 2-3 2-2 3-3 2-2 2-3 2-3 2-3 2-3 2-3 2-3 2-3M606 90l3-2 3-3 2-3 2-3 1-3 2-3 2-2 2-3 2-3 1-3 2-3 2-3 2-3 2-3 1-3 2-3 2-3 3-3 3-1 3-2M631 63l-1 4-1 3-1 3-1 4-2 2-2 4 0 3 0 3 0 4 1 3 1 4 0 3M511 161l3-1 4 0 3-1 4 0 3 0 4 0 3 1 3 1 4 1 3 1 4 0 3 1 4-1M474 151l3-2 3-2 3-2 3-2 3-2 3-1 4-1 3-1 4 0 3 0 4-1 3-2 2-2 2-3 3-3 2-2 1-3 2-3 2-4 1-3 0-3 1-4 0-3 0-4 1-3M595 59l-2 3-2 3-2 4 0 3 0 3 0 4 2 3 3 2 3 1 4 1 3 0 4 0 3 0 3-1 4-1 3-1 4-1 3-2 2-2 2-3 3-3 1-3 1-3 1-4 0-3 1-3 0-4 0-3M658 113l3-2 3-2 2-3 2-3 3-2 2-3 2-3 1-3 1-4 0-3 0-4 0-3 1-4 0-3 0-4 0-3 0-4 0-3 0-4M655 111l2-3 3-2 2-2 3-3 2-2 3-2 3-2 4-1 3 0 4 1 3 1 4 0 3 1 4 0 3-1 4 0 3 0 4 0 3 1 3 1 4 1 3 1 4 0 3 0 3 0M700 125l2-2 3-3 2-3 2-2 2-3 3-2 2-3 2-3 2-3 2-3M497 56l2-3 3-2 2-3 3-2 1-3 1-4 0-3-1-4-1-3 0-4-1-3-1-3-1-4-1-3-2-3-1-3-2-4-2-2M664 134l3-2 3-2 3-1 3-2 3-2 3-1 3-1 4-1 3-1M514 33l1-3 1-4 1-3 0-4-1-3 0-4 1-3 0-4 1-3 0-4 1-3 2-3 2-3 2-3 2-3M533 92l-4 0-3 1-4 1-3 1-3 1-4 1-3 0-4 1-3 0-4-1-3 0-4-1-3-1-3-1-4-1-3 0-4 0-3 1-3 1-3 2-3 2-2 3M529 100l3-2 3-2 3-2 3-2 4 0 3 0 4 0 3 1 3 1 3 2 3 2 3 2 2 3 2 3 2 3M509 17l2-3 3-2 2-3 3-3 2-2 3-2 3-1 4-1 3-1 4 0 3 1 4 1 3 0 3 1 3 2 3 3 2 3 1 3M619 89l4-1 3-1 4 0 3-1 4 0 3 0 4 1 3 0 3 0 4 1 3 0 4 1M495 21l3-1 3-2 3-1 3-2 3-2 3-1 4-2 3-2 3-1 3-2 3-1 4-1 3-1 3-2 3-1 4-1 3 0 4 1 3 2 3 1 2 3 3 2 2 3 1 4 0 3 1 3"/><path stroke="#7f7f7f" stroke-width="0.7" d="M579 65l-3 2-2 2-3 3-1 3-2 3-1 4 0 3-1 3 0 4 1 3 1 4 1 3 1 3 2 3 3 3 2 2 3 2 3 1 4 2 3 2 3 1 3 2 3 2 2 2 2 3M646 104l3-1 4-1 3-2 3-1 4 0 3-1 3-1 4 0 3-1 4-1 3 0 3 2 4 1 3 2M599 132l-1 4-1 3-1 4 0 3-1 3-1 4-1 3 0 4-1 3-1 3-1 4M561 90l2-3 3-3 2-2 3-2 3-2 4-1 3-1 4 0 3 0 3-1M557 129l-4 1-3 2-3 1-3 2-2 3-3 2-2 3-1 3M640 19l-4 0-3 1-3 0-4 1-3 2-3 1-4 1-3 2-3 1M504 139l-3 3-2 2-3 2-3 2-3 1-4 2-3 1-3 2-3 1-3 2-4 1M602 131l-1 3 0 4 0 3 0 4 1 3 1 4 2 3 2 2 3 3M592 72l3-1 3-2 3-2 3-1 3-2 3-1 3-2 3-2 3-2 3-2 2-3 3-2 2-2 3-3 1-3 2-3 0-4 1-3 0-4 0-3 0-4 0-3-2-3M452 57l2-2 3-2 3-2 3-2 3-1 3-1 4-1 3-1 4-1 3 0 4 0 3 1 3 1 4 1 3 2 3 0 4 1M676 93l-3 1-3 2-4 1-3 1-3 0-4-1-3-1-3-2-2-3-3-2-3-2-3-2-3-1M642 137l-3 1-3 1-4 1-3 1-4 0-3-1-3-2-3-2-2-3-2-3M612 122l-3 2-2 3-2 3-3 2-2 3-3 2-2 2-3 3-2 2-3 3-3 1-3 2-3 1-4 1-3 1-4 1-3 1-3 1-3 1-3 2-3 2-2 3-2 3-1 4-1 3 0 4M620 57l-3 2-3 2-2 3-3 2-3 2-3 2-3 2-3 1-3 0-4-1-3-1-3-2-3-2-2-2-3-3-2-2-3-3-2-2-3-2-3-3-2-2-3-2-3-2M459 132l-3 2-3 2-3 1-3 2-3 2-3 2-3 2-3 2-3 2-3 2-3 1-3 2-3 2-2 3-3 2-2 3-2 3-2 2-3 3-2 2M555 33l3-2 3-2 3-2 3-1 3-2 3-1 3-2 4-1 3-2 3-1 3-2 3-2 2-3 3-2 2-2 3-3 2-2 3-3 2-3 2-2 2-3 1-4 0-3M664 154l1 4 1 3 0 4 1 3 1 4 1 3 1 3 1 4 0 3 1 4 0 3 1 4 0 3 1 3 1 4M687 63l2-2 3-3 2-2 2-3 2-3 1-3 0-4 0-3 0-4-1-3 0-4 0-3 1-4 1-3 0-4 1-3 0-4 0-3-1-3-2-3-2-3-2-3-3-2M565-12l3-2 3-1 3-1 4-1 3-1 4 0 3-1 3 0 4-1 3-2M441 123l2-3 2-3 1-3 2-3 2-3 2-3 2-2 2-3 2-3 3-2 3-2 3-2 3-2 3-2 3-1 3-2M609 76l1 3 1 4 0 3 1 3 1 4 0 3 0 4 1 3 1 4 1 3 0 4 0 3-1 4-1 3-2 3-3 2-2 2-3 2M478 103l-3 2-3 1-4 1-3 1-4 0-3 1-4 0-3 0-4 1M700 38l-4 2-3 1-3 1-3 2-3 2-3 2-3 1-4 1-3 1-4 1-3 0-3-1-4-1M670 68l3-1 4 0 3-1 3-1 4-2 3-1 3-1 4 0 3-1 4 0 3 1 3 1 4 1 3 2 3 2 2 2 3 2M572 106l-2 3-2 3-2 3-1 3-2 3-1 4-1 3-1 3-1 4 0 3 0 4 1 3 1 3 1 4 2 2 2 3 3 2 3 2 3 2M554 15l3-1 3-1 4-1 3 0 4 0 3 1 3 1 4 2 2 2 3 3 2 2 3 3 2 2 3 2M603 137l-3 2-3 1-3 2-2 3-2 3-3 2-2 3-2 3-2 3-2 3-2 3-1 3-2 3-2 3-2 3-2 3-2 2-3 2-3 2M444-11l2-2 3-3 2-3 2-2 2-3 2-3 2-3 1-3 1-4 2-3 1-3 2-3M630 32l-3 1-3 2-3 2-3 2-3 2-3 2-3 2-3 2-2 2-3 2-3 2-3 3-1 3M544 91l-4 1-3 1-3 1-3 2-4 1-3 1-3 1-4 0-3 0-4-1-3-1-3-2-2-3-2-3-2-3-1-3-1-3 0-4-1-3 1-4 0-3 1-4 1-3M552 41l2-2 3-3 3-2 3-2 3-1 3-2 3-1 3-2 3-2 3-2M528 132l-1 3 0 4 0 3-1 4-1 3-2 3-2 3-3 2-2 2-3 3-2 3-1 3M463 41l3-3 2-2 3-3 2-3 1-3 2-3 1-3 1-3 1-4 2-3 1-3 1-4 1-3 0-3 0-4M589 90l2-2 3-2 3-2 3-2 3-3 2-2 2-3 2-3 2-3 3-3 2-2 2-3 3-2 2-3 2-3 2-2 3-2 3-2 3-2 4-1 3 0 4 0M505-6l3-1 4-1 3-2 3-1 4 0 3-1 3-1 4-1 3-2 3-1M538 155l-2 3-2 3-3 2-3 2-3 0-4 1-3 0-4 0-3 0-4 0-3 0-3-1M578 155l-2 3-2 3-2 2-2 3-2 3-2 3-3 3-2 2-2 3-3 2-3 2-2 3-2 3-2 2-3 3-3 2-3 2-2 2-3 3-2 2-3 2-3 2-3 1-3 2-3 2M695 165l3-2 3-1 3-2 3-2 4-1 3-1 3-2 3-1 4-1 3-2 2-2 3-3 2-2 3-2 3-1 4-2 3-1 3-2 3-2 3-2 2-3 2-3 1-3 2-3 1-3 3-3 2-3 2-2M553 83l-3-1-4 0-3-2-4-1-3-1-3-1-4-1-3-1-3 0-4-1-3-1-3-1-4-1-3-1-3-2-2-3-2-3-2-3-1-3 0-4-1-3 0-4 0-3M475 153l1-3 1-4 1-3 1-3 2-3 1-4 2-3 0-3 2-4 1-3 1-3 1-4 1-3 1-3 1-4M560 94l3-2 3-2 2-2 3-2 2-3 3-2 3-2 3-1 3-2 3-2 3-3 3-2 3-1 3-2 3-2 2-2 2-3 1-4 0-3 0-4 0-3-1-4-1-3 0-3 0-4M597 1l3-2 3-2 2-2 3-2 4-1 3 0 4 0 3 0 4-1 3 0 4-1 3 0 3-1 4-1 3-2 3-2M542 120l3-1 3-1 4-1 3-1 4-1 3 0 3-1 4-1 3 0 4-1 3-1 3-2 3-2 2-3 1-3 1-3 0-4 0-3-1-4-1-3-2-3-2-2-3-3-3-2M549 46l3-1 4 0 3 0 4 1 3 0 4 1 3 1 3 1 3 2 3 3 2 2 2 4 1 3 0 3 1 4 0 3-1 4 0 3-1 4 0 3 0 4 1 3 0 4 1 3 1 3M473-12l-1 4-1 3-1 3-1 4 0 3 1 3 0 4 1 3 0 4-1 3-1 4 0 3-2 3-1 4-2 3-2 3-1 3-2 3-3 2-2 2-4 2M572 85l3-1 3-2 3-1 4-1 3 0 4 0 3 0 4 1 3 0 4 1 3 1 3 2 3 2 2 3 2 3 2 2 3 2 3 2 4 1 3 0 4 1 3-1 3-2M669 170l1-3 1-4 0-3 1-4 0-3 1-4 0-3 0-4 0-3 1-4 1-3 2-3M643 51l-3-2-3-1-4 0-3-1-3 0-4-1-3 0-4-1-3 1-4 1-3 1M564 171l-2 3-1 3-2 3-2 3-2 3-2 3-2 2-3 2-3 3-2 2-2 3-2 3-1 3-1 4 0 3-1 4 1 3 0 4 1 3 2 3 2 3 1 3 2 3M531 86l3 1 3 0 4 1 3 1 3 2 3 2 2 3 2 3 1 3 1 4 1 3 0 4 0 3-1 3-1 4-2 3-2 3M529 128l3-1 4 0 3-1 4 0 3 0 4 0 3 1 4 0 3 1 4 1 3 2 3 1 3 1M580 22l-2 2-3 2-3 2-4 1-3 0-4 0-3 1-4 1-3 0M434 33l3-1 4 0 3 1 4 1 3 1 2 3 3 2 2 3M534 65l-3 3-3 2-3 2-3 1-3 2-3 2-3 2-3 2-2 2-3 3-2 2-3 2-3 2-3 1-4 1-3 0-4 0-3 0-3-1-4-1-3-2-3-1-4-1-3-1-3 0-4-1-3-1-4 0M450 159l1-3 1-3 2-3 1-4 2-3 2-3 1-3 2-3 2-3 1-3 2-3 1-4-1-3 0-3-1-4-1-3-2-3-2-3-2-3M566 26l3-2 3-2 3-2 3-1 3-2 3-2 3-1 3-2 3-2 3-1 4 0 3-1 4 0 3 0 4-1 3 0 4-1 3-1 4-1 3-1 3-1 3-1 4-2M468 52l-4 1-3 0-4 0-3-1-4 0-3 0-3 0-4 0-3 0-4 0-3 0-4 0-3 0-4 0-3 1-4 1M646 4l-1 3 0 4-1 3-2 3-2 3-2 3-2 3-2 2-2 3-2 3-1 4-2 3-1 3-2 3M510 137l3-2 4-1 3-1 4 0 3 0 3 1 3 2 3 3 2 2 2 3 2 3 1 4 1 3 0 3 0 4 0 3-1 4-2 3-2 3-2 2-3 3-2 2M515 51l-2 3-2 2-2 3-2 3-2 3-1 3-1 4-2 3-1 3-2 3-1 4-1 3-1 3 0 4 1 3 1 4 1 3 2 3 3 2 3 2 3 2 2 2 3 3M528 8l-2 3-2 3-2 3-3 2-2 3-2 2-3 2-3 2-3 2-4 1-3 1-3 2-3 2-3 2-3 2-3 1-4 0-3-1-3-1-3-2-3-2-3-2-2-3-2-2-2-3M604 128l3 2 3 2 3 2 3 1 4 2 3 0 4 1 3 0 3 1 4 0 3-1 4-2 3-2 3-1 2-2 3-2 3-3 2-3 1-3 2-3 1-4 0-3M587 98l3-2 2-3 3-2 3-2 2-3 3-1 3-2 3-2 3-2 3-2 3-2 2-3 2-3 2-3 2-3 1-3 1-3 1-4 1-3 0-4 0-3 1-3 1-4M641 39l4-1 3-1 4-1 3-1 3-1 3-2 3-2 3-2 3-2 3-1 3-2M537 130l3-3 3-2 3-2 3-1 3-1 4-1 3-2 3-2 2-2 3-2 2-3M568 4l-3 2-3 2-3 2-2 2-2 3-2 3-1 4-2 3-1 3-1 3-1 4-1 3-2 3-2 3-2 3-2 3-2 3-1 3-1 3 0 4-1 3M604 100l-2 3-2 2-2 3-2 3-2 3-2 2-2 3-3 3-2 3-3 2-3 1-3 1-4 1M671 103l2-3 2-3 2-3 2-3 1-3 1-4 1-3 1-4 0-3 0-4-1-3 0-3 0-4 0-3 1-4 1-3 1-3 1-4 2-3 1-3M457 59l-3 1-3 1-4 2-2 2-3 2-2 3-3 2-2 3-3 2-2 3-2 3-1 3-1 4 0 3 0 4 0 3 0 4 1 3 0 4 0 3 0 4 0 3 0 4 0 3 1 4 0 3 1 3M499 84l3 1 3 2 4 1 3 0 4 0 3 0 3-1 4-1 3 0 4 0 3 0 4-1 3-1 4-1 3 0 3-1 4-1M573 143l3-2 3-3 2-2 2-3 2-3 1-3 1-3 1-4 0-3 1-4 1-3 1-4 0-3 1-3 0-4 1-3 0-4 1-3 1-4 1-3M558 131l4 0 3 0 4 0 3 0 4 0 3 1 3 1 3 1 3 2 3 2 3 2 3 2 4 1 2 3 3 2 3 2M674 137l-3 0-4 1-3 0-4 0-3 0-4 0-3 0-4 0-3 0-4 1-3 1-3 1-3 2-3 2-3 2-2 2-3 2-3 3-2 2-2 3-2 3 0 4-1 3 0 4M690-7l-3 0-4 1-3 0-4-1-3-1-4 0-3-1-4-1-3 0-3-1-4 0-3-1-4 0-3-1-4 0-3-1-4 0-3 0-3-2-3-2-3-2-3-2-2-3-2-3-1-3-2-3-1-3-1-4M552 157l-3 1-4 0-3 1-4 1-3 1-3 2-2 2-3 3-2 3-1 3-2 3-1 3M454 84l-3 0-4 0-3 1-3 1-4 1-3 1-4 0-3 0-4 1-3 0-4 1-3 1-3 2-3 1-3 2-3 3-3 2-3 1-3 1-3 1-4 1-3 0-4 0-3-1-3-2M467 8l-3 1-3 1-4 1-3 1-3 1-4 1-3 0-4 1-3-1-3-1-3-2M641 128l-3 2-3 2-2 3-3 2-3 2-3 2-3 2-3 2-3 2-2 2-3 3-2 2-1 4-1 3 0 4 0 3 0 4-1 3-2 3-2 3-2 3-3 2-2 2-3 2-3 2-4 1M546 17l-3 2-3 3-2 2-3 2-3 1-4 2-3 0-4 0-3-1-3 0-4 0-3 0-4 0-3-1-4 0-3-1-4 0-3 0-4 0-3 0-4 0-3-1-4 1-3 0-4-1-3 0-4-1M585-9l-4 1-3 0-4 1-3 1-4 0-3 0-4-1-3-1-3-1-3-2-4-1-3-1-3-1-3-2-3-2-3-2M551 129l-2 3-2 3-1 3-2 3-1 4-1 3-2 3-1 3-2 3-1 3-2 4-1 3-1 3-2 3-2 3-1 3M613-14l-3 2-3 1-3 1-4 1-3 1-3 2-4 1-3 2-3 1-2 3-3 2-2 3-2 3-1 3M471-4l-1 3-2 3-1 3-1 3-2 4-1 3-1 3-1 3-2 4M674 6l3-2 2-3 2-3 3-2 2-2 3-3 2-2 2-3 2-3 2-3 2-3 2-3 3-2M510 150l3-2 3-1 3-2 3-2 3-1 3-2 3-2 3-2 3-2 3-2 3-2 3-2 2-3 1-3 1-3M599 135l-4-1-3-1-4 0-3 0-3-1-4 0-3-1-4 0-3 0-4 0-3 0-4 1-3 1-4 0-3 1-4 1-3 1-3 1-4 1-3 1-3 1-4 1-3 1-3 1M642-7l2-3 2-3 2-3 2-3 1-3 2-3 3-2 3-2 3-1 4-1 3-1 4 0 3 0 3 0 4 1 3 2 3 2 3 2 3 2 3 2 2 2 3 2 3 2M625 70l2-3 2-3 2-3 2-3 2-3 2-3 2-3 2-2 3-2 4-1 3-1 4 1 3 1 3 1 4 1 3 1 3 1 4 1M505 91l3-3 2-2 3-3 2-2 2-3 3-2 1-3 2-4 1-3M602 173l3-2 3-2 3-2 2-2 3-2 3-2 3-2 4 0 3-1 4 1 3 2 3 2 3 1 3 1M644 137l-4 0-3 0-4 0-3 0-4-1-3-1-4 0-3-2-3-1-3-1-3-2-3-2-3-2-3-2-2-3-3-2-3-2-2-2-3-3M459 143l-3 2-3 2-2 3-2 2-3 3-2 2-3 3-2 2-3 3-2 2-3 3-2 2M638 23l4-1 3 0 4-1 3-1 3-2 3-2 2-3 2-2 2-4 1-3 1-3 1-3 1-4 1-3 2-3 1-3 2-3 3-2 3-2M692 1l3-2 2-3 2-3 2-3 2-3 2-3 2-3 2-2 2-3 3-3 2-2 3-2 2-3 3-2M539 159l-3 2-3 1-4 0-3 1-4 0-3 1-3 0-4 1-3 0-4 1-3 0-4 1-3 0-4 0-3 0M607 163l4-1 3-1 3-1 3-1 4-1 3-1 4 0 3 0 4 1 3 0 3 1 4 2 3 1 3 2 3 1 3 2 3 2 2 3 2 3 2 3 2 3 2 2M535 44l-3 3-2 3-1 3-1 3-2 4-1 3-2 3-3 2-2 2-3 3-3 2-2 2-3 2-3 2-2 3-3 2-3 2M623 6l2-3 2-2 3-3 2-2 3-3 2-2 3-2 3-2 3-2 3-2 2-3 3-2 3-2 3-2 3-2 2-2 3-2 2-3 2-3 2-2 2-4M527 11l-3 1-4 1-3 1-4 0-3 0-4 0-3-1-4 0-3-1-3-2-3-1-3-2-3-2-3-2"/><path stroke="#7f7f7f" stroke-width="1.1" d="M599 126l3-1 3-2 3-2 3-1 3-2 4-1 3-1 3-1 4-2 3-2 2-2 3-2 3-2 3-2 2-2 4-2 3-1 3-2 3-1 3-1 3-2 4-2 3-1 3 0 4-1 3 1 4 0M467 124l3 0 4 0 3-1 4 0 3-1 4-1 2-2 3-2 3-2 2-3M618 111l3-2 2-2 2-3 2-3 1-3 1-4 2-3 1-3 1-4 0-3 1-4 0-3 0-4-1-3M511 134l2-2 4-2 3-1 3-2 3-1 4 0 3 1 3 1 3 2 3 2 2 3 3 2 3 2 3 2M690 6l3-2 3-1 3-2 3-2 4-1 3-1 3-2 3 0 4-1 3 0 4-1 3 0 4-1 3-1 4-1 3 0 3-1 4-1 3-1M650 65l-3 2-3 2-3 2-2 2-3 3-2 2-3 3-2 2-3 2-2 3-2 3-2 3-2 3-1 3-2 3-3 3-2 2-3 2-2 3-2 2-3 3-2 2-3 3-2 2-3 3-3 1-3 2-4 1M571 151l3-1 3-2 4 0 3-1 4 0 3 0 4 0 3 0 4-1 3-1 4 0 3 0 4 0 3 1 3 2 3 2 3 1 3 1 4 1 3-1 4 0 3-1 4-1 3-2M485 60l3-2 2-3 2-3 2-2 2-3 2-3 2-3 2-3 1-3 0-4 1-3-1-4-1-3M644 73l-4 1-3 1-3 1-3 2-3 2-3 2-3 2-3 1-4 1-3 0-4 1-3-1-4 0-3-1-3-1-4 0-3-1-4-1-3-2-3-2-2-2-2-3-2-3-2-3-2-3-2-3-1-3M646 60l-1 3-1 4-1 3 0 4 0 3 1 4 2 3 2 3 2 2 3 2 3 2 3 1 4 0 3-1 3-1 3-2 3-3 2-2 2-3 1-4 2-3 1-3 1-3 2-3M463 89l-2 3-3 2-3 2-2 3-3 2-3 2-3 2-3 1-3 2-3 1-4 1-3 1-3 1-4 0-3 0-4 0-3 0M623 146l-3 1-3 2-4 2-3 1-3 1-4 1-3 1-3 2-2 2-3 3-1 3-1 3-1 4 0 3 0 4 0 3M449 47l-3 1-3 1-4 2-3 1-3 2-2 3-2 2-2 3-2 4 0 3 0 4 1 3 2 3 1 3 1 4 1 3 2 3 2 3 1 3 2 3 2 3 1 3 1 4 0 3 1 4M562 43l3 0 3 2 4 1 3 1 3 2 3 2 3 1 3 3 3 2M553-7l4-1 2-3 2-3 2-3 1-3 1-3 0-4 1-3 1-4 1-3 2-3 2-2 3-3 2-2 3-3 2-2 3-2 3-2 3-2 3-2 2-3 2-3 2-3 1-3 1-3 0-4 0-3-1-4M496 11l2-2 3-3 3-2 2-3 2-3 2-2 2-3 3-3 3-1 3-2 3-2 3-2 3-2 2-2 3-2M466 119l3-2 3-2 3-1 3-1 4-1 3 0 4 1 3 1 3 1 4 1M605 12l3-1 3-2 4-1 3-1 3-2 3-2 3-1 4-1 3 0 3 1 4 1 3 2 3 1 3 2M449 126l-2 3-2 3-2 2-3 3-2 2-3 2-3 2-3 3-3 2-3 1-3 2-3 1-3 1-4 1-3 1-4 1-3 1-3 0-4 0-3 0-4 0-3 1-3 2-3 1-4 2-2 2-3 2M473 132l-1 3-1 4-1 3-1 3 0 4 0 3 1 4 1 3 1 3 1 4 1 3 0 4 0 3-1 4 0 3 0 4 1 3 1 3 1 4 2 3 0 3 1 4M566 82l2-3 1-3 3-3 3-2 2-2 3-3 2-2 3-3 3-2 2-2 3-2 2-3M643 62l-1 4-1 3-1 3-2 3-3 2-4 1-3 1-4 0-3 0-3-1-4-1-3-1-4 0-3 0-4-1-3-1-3-1-4-1-3-1-3-1-4 0-3 0M564 22l4 0 3 0 4 1 3 2 3 2 3 2 2 2 3 2 2 3 3 2 2 3 3 2 2 3 3 2 2 3M597 116l3 1 4 1 3 1 4 0 3 1 3 1 4 1 3 1 3 2 3 2M599 82l1-3 1-3 0-4-1-3-1-4-1-3-2-3-1-3-2-3-2-3M642-11l2-3 2-3 1-3 2-3 2-3 3-2 3-2 3-2 3-2 3-2 3-1 3-1 3-1 4-1 3 0 4 0 3-1 4 0 3-1 4-1 3 0 4 0 3 0 4-1M514 2l0 3 0 3-1 4 1 3 1 4 2 3 2 3 2 2 2 3 2 3 2 3 1 3 1 4 1 3 0 3 1 4 0 3-1 4-2 3-2 3-1 3M679 32l4 0 3 0 4 0 3 0 4 1 3 1 4 1 3 2 3 1 3 2 2 2 3 2 3 3 3 2 2 2 3 2 3 2 3 2 3 2 2 2 3 2 3 2M485 34l3-3 2-2 3-3 2-2 3-2 3-2 3-1 4-1 3-1 3-2 3-1 3-2M610 124l3-1 3-1 3-2 3-2 4-1 3-1 3-1 4-1 3 0 4-1 3 0 4 0 3 0 4-1 3 0 4-1 3-1 3-1 4 0M556 138l-3 2-3 1-3 2-4 1-3 1-4 0-3 0-4 0-3-1M444 169l3 0 3-1 4-1 3-2 3-2 3-2 3-2 2-2 2-3 2-3 2-3 3-2 2-3 2-2 3-2 3-2M627 11l-3 3-2 2-3 2-3 1-4 2-3 1-3 1-4 1-3 1-3 1-3 2M625 165l-3 3-2 3-2 3-1 3-1 3-1 3-1 4-1 3-1 3-1 4-3 2-2 3-2 3-2 2-3 3-2 2-3 3-2 2-3 3-3 2-3 1-3 2-3 1-4 1-3 1-3 1-3 2M469 21l1-3 0-4-1-3-1-3-2-3-2-3-2-3-3-2-3-2-2-2-3-2-4-1-3-1-3-2-3-2-3-2-2-3-2-3-1-3 0-4M538 151l2-3 2-3 1-3 2-4 1-3 2-3 1-3 2-3 2-3 2-3 2-3 1-3 1-3 1-4M669 119l2-2 2-3 3-2 3-1 4-1 3 0 4 1 3 1 3 2 3 2 3 2 2 3 2 2 2 3M491 116l-4 1-3 1-3 1-4 0-3 0-4 0-3 0-4-1-3-1-4-1-3-1-3-1-4-1-3-1M639 140l2-3 2-2 2-3 2-3 1-4 2-3 1-3 1-4 1-3 0-3 0-4 0-3-2-3-2-3-3-2-3-2-3-2-3-1-3-1-4-1-3 0-4 0-3 0-4 0-3 0-4 0-3 1M573 138l2-2 3-2 2-3 3-3 2-2 3-2 2-3 3-2 2-3 3-2 2-3 3-2 3-2 2-3 2-2 2-4 1-3 0-3 0-4 0-3-1-4-1-3-3-3-2-2M576 7l2-2 3-3 3-2 3-2 2-2 3-2 3-2 3-2 3-2 3-1 3-2 4-1 3 0 3-1 4-1 3-2 3-1 3-2 4-1 3 0 4 0 3 0 4 1 3 1 3 2 3 2 3 2M496 128l2-2 3-3 2-2 3-2 3-2 3-3 2-2 2-3 2-3 3-2 2-3 3-2 3-2 3-1 3-2M678 36l-2 2-3 2-3 2-3 2-4 1-3 1-3 1-4 1-3 1-3 1M582 114l1-4 1-3 1-3 1-3 2-4 2-3 2-3 2-2 3-2 3-2 2-3 3-2 3-2 3-1 3-1 4-1 3 1 4 1 3 1 3 1 3 2 4 1 3 1 3 1M613 140l1-3 2-3 2-3 1-3 1-3 1-4-1-3-2-3-2-3-3-2M659 138l-3 0-4 0-3 1-4 1-3 2-3 2-3 2-3 2-3 1-3 2-3 2-3 1-3 2-3 1-3 2-3 3-2 2-3 2-2 3M639 126l-3 1-3 2-3 2-3 2-2 3-2 2-2 3-2 4-1 3 0 3-1 4-1 3-1 3-1 4-1 3-1 4 0 3 0 4 0 3 1 3 1 4 1 3 2 3 2 3 2 3 3 2 2 2M697-10l-2 3-2 3-2 3-2 3-2 2-2 3-2 3-2 3-2 3-2 3-2 3-2 3M604 25l-3 1-4 1-3 1-3 2-3 1-3 2-4 1-3 2-3 1-3 1-3 2-4 1-3 2-3 1-3 1-4 0-3 1-4-1-3 0-4-1-3-2M621 151l2-3 2-2 3-3 2-2 2-3 2-3 1-3 1-4 2-3 1-3 3-3 2-2M551 1l-3 2-3 2-2 3-2 2-2 3-3 3-2 3-2 3-2 2-2 3-1 3-1 4-1 3-1 3-3 3-3 1-3 1-4 0-3-1-4-1-3-2-3-1M642 32l1-3 0-4 0-3-1-4-2-3-2-3-3-2-2-2-3-2-3-2-3-2-2-3-3-2-3-1-4-1-3-1-3-1-4-1-3 0-4-1-3 0-4 1-3 1-3 1-4 2-3 1-3 1M691 110l-4 1-3 0-4-1-3-1-3-2-3-1-4-2-3-1-3-1-4-1-3 0-3 0-4 1-3 1-3 2-4 1-3 1-3 2-3 1-3 2-3 2-3 2-3 2-2 2-3 2-3 2M503 143l4-1 3 0 4-1 3-2 3 0 4-1 3 0 4-1 3-1 3-1 4-1 3-1 3-1 4-1 3 0 4-1 3 0 4-1 3 0 3 1 3 2 3 3 2 3 1 3 0 4 0 3 0 4M525-1l-3 2-3 3-2 2-3 2-3 2-3 1-4 1-3 0-4 0-3-1-4 0-3 1-4 0-3 2-3 1-4 1-3 1-3 0-4 1-3 2-3 2-2 2-3 2-3 3-3 2-3 2-2 2M482 85l3-1 4-1 3 0 4 0 3 1 4 0 3 1 4 1 3 1 3 0 4 1 3 1M498-2l3-1 3-1 4-1 3 1 4 1 3 2 3 2 2 3 3 2 2 2 3 2 3 2M537 73l3-1 3-1 3-2 3-2 3-2 2-3 3-2 2-3 2-3 2-3 2-3 0-3 0-4-1-3-2-3-2-3-3-1-4-2-3-1-3 0-4-1-3-1-4 0-3-1M458 154l2-2 2-3 3-3 2-2 2-3 2-3 2-3 3-2 2-2 3-2 4-2 3-1 3-1 4-1 3 0 4 0 3-1 4 0M511 171l-3 1-4 1-3 2-3 1-3 1-4 1-3 2-3 1-4 1-3 1-3 1-4 1-3 1-3 2-3 1-4 1-3 2-3 0-4 1-3 0-4 0-3 0-4 0M626 152l3-2 3-1 3-2 4-1 3 0 4 0 3 0 4 0 3-1 4 0 3-1 4 0 3 0 4 1 3 0 4 1 3 0 4 0 3 1 3 1 4 0 3 0 4 0 3-1 4-1 3-1M535 166l3 1 4 1 3 1 4 0 3 0 3-1 4-1 3-2 3-1 3-2 3-2 3-2 2-2 3-3 2-2 3-3 2-2 2-3 2-3 2-3 1-3 2-3 1-4 1-3 0-4-1-3M678 6l-2 3-3 2-2 2-3 3-2 2-3 2-3 3-2 2-2 3-2 3-2 3-2 2-2 3M528 65l1-4 1-3 1-3 2-3 2-3 2-3 2-3 3-2 2-3 3-2 3-2 2-3 2-2 3-3 2-3 1-3 2-3 0-3M440 148l-2 2-3 3-3 1-3 2-3 3-2 2-2 3-1 3 0 4 0 3 1 4 1 3 1 3 2 3 1 4 2 3 2 2 2 3 3 3M579-13l-3 2-3 3-2 2-3 3-3 2-2 2-2 3-2 3-2 3M609 129l-2 3-2 3-2 3-1 4-1 3 0 4-1 3 0 3M608-10l-1 4 0 3-1 4 0 3 0 4-1 3-1 3 0 4-1 3 0 4-1 3-1 4 0 3-1 4 0 3 0 4 1 3 0 3 0 4 0 3 0 4 0 3-1 4-1 3-2 3-2 3M594 23l3-1 3-3 3-2 2-2 3-3 2-2 3-3 2-2 2-3 2-3 2-3 2-3 1-3 1-4 0-3 1-3 0-4 0-3 0-4 0-3 0-4 0-3-1-4 0-3-1-4-1-3-2-3M635 138l-3 3-2 3-2 2-1 4-2 3-1 3 0 4-1 3 0 4 1 3 1 3 0 4 1 3 1 4 1 3 1 3 2 3 2 3 2 3 3 2 2 3 3 2 3 2 2 3M606 96l-3 1-3 1-3 2-4 1-3 2-3 1-3 1-3 2-3 2-3 2-2 3-3 2-2 3-2 3-2 3-3 2-2 2-3 2-3 2-3 3-2 2-3 3M442 45l-3 2-2 3-2 3-2 3-1 3-2 3-2 3-2 3-2 2-2 4-1 3-2 3-1 3-2 3-1 4-2 3-1 3-2 3-1 3-1 4-1 3-1 3-2 3-2 3M566 84l-1 4 0 3 1 4 1 3 1 4 1 3 2 3 2 2 2 3 2 3 3 3 2 2 3 2 3 1 3 2 4 2 3 1 3 1 3 1 4 0 3 0 4 0 3 1 4 0 3 0M662 116l3-2 2-3 2-3 2-3 1-3 2-3 2-3 2-3 1-3 2-3 2-3 2-3 2-3M574 54l-3 2-3 3-3 2-2 2-3 2-3 2-3 1-4 2-3 1-3 1-3 1-4 2-3 1-3 1-4 1-3 0-3 0-4 1-3 0-4 1-3 1-4 1-3 0-4-1M440 131l0-3 0-4-1-3-2-3-2-3-2-3-2-2-3-3-3-2-2-3-1-3-1-3 0-4 0-3 0-4 0-3 0-4-1-3 0-4-1-3 0-4M530 31l4 0 3-1 3-1 4 0 3-1 4 0 3-1 4 0 3-1 4 0 3 0 4-1 3 0 4 0 3 0 4 1 3 0 4 0 3 0M681-10l-2 4-1 3-1 3-2 3-1 3-1 4-1 3-2 3-1 3-2 4-1 3-2 3-1 3-2 3-1 3-1 4-2 3 0 3-1 4-1 3 0 4 0 3M516 164l1-3 1-4 1-3 1-3 2-3 0-4 1-3 0-4-1-3-1-4-2-3-2-3-1-3-2-3-2-3-2-2-2-3-2-3-2-4-1-3-1-3 0-4M564 73l2-3 2-3 2-3 2-3 2-3 2-3 0-3 1-4 0-3 0-4 0-3 1-4 0-3 1-4 1-3 1-3 2-3M629 50l3-1 4-1 3-1 3-2 3-2 3-2 3-1 4 0 3 0 4 0 3 0 4 0 3 1 4 0 3 0 3 2 3 1 3 2 3 3 2 2M569 111l3-1 3-1 4-1 3 0 4 1 3 2 3 2 1 3 0 4 0 3-1 4 0 3-1 3 0 4-1 3 0 4-1 3 0 4 1 3 2 3 2 3 3 2 3 2M479 44l2-3 3-1 4-2 2-2 3-2 3-2 3-2 3-1 3-2 3-2 3-2 3-1 3-2 4-2 3-1 3-2 3 0 4-1 3-1 4 0 3 1 3 1 3 3 3 2M463 132l-3 1-4 0-3 0-4-1-3-1-3-2-2-3-3-2-1-4 1-3 1-4 1-3 2-3 2-3 2-2 3-2 2-3 2-3 1-3 1-4M546 121l3-1 4-1 3-1 3-2 4 0 3-1 3-1 4-1 3-2 3-2 2-2 2-3 1-4 2-3 1-3M678 139l3-1 4-1 3 0 4 0 3 0 4 0 3 1 3 1 4 1 3 0 4 1 3 0 3 2 3 2 3 2 3 2 3 2 3 2 2 2 3 2 3 2 3 2 3 2 3 2 2 3 3 2 2 2M514 28l1-4 2-3 1-3 1-3 2-3 1-4 0-3 0-4 0-3-1-4-1-3-2-3-1-3-2-3-2-3-2-3-3-2-2-2-3-3-3-2-3-2-3-2-2-2-3-2-3-2-2-3-2-3-3-2M698-12l-3 1-3 2-4 1-3 2-3 1-4 0-3 1-3 1-4 1-3 0-4 1-3 1-4 0-3 1-3 1-4 0-3 0-4-1-3-1M609 59l3-2 3-2 3-1 3-1 4-2 3 0 4 1 3 0 3 2 3 2 3 2 3 2 3 1 3 2 3 1 3 2 4 1 3 2 3 2 2 2 4 1 3 1 3 1 4 2 3 1 2 2 3 3 3 2M668-6l2-3 3-2 2-3 3-2 3-1 3-2 4-1 3-2 3-2 2-2 2-3 2-3 2-3 2-3 1-3 2-3 1-3 1-4M562-4l-3 2-1 3-2 3-1 4-1 3-2 3-1 3-2 4-1 3-2 3 0 3-1 4-1 3M548 19l-3 0-4 1-3 0-4 1-3 1-3 1-4 1-3 1-4 0-3 1-4 0-3 0-4 0-3 0-4 0-3 1-3 1-3 1-3 3-2 2-3 3-2 3-2 3-1 3-2 3-1 3-3 3M564 9l-3 2-3 1-3 2-3 2-4 1-3 1-3 1-4 1-3 0-4 1M649 128l2-2 2-3 2-3 1-3 2-3 2-3 2-3 1-3 2-3 2-3 2-3 2-3 3-2 3-2M440 26l-1 3-1 4-1 3 0 4 0 3-1 4 0 3-1 4-1 3-2 3-2 3-2 3-2 2-3 2-3 2-4 1-3 2M657 151l-3 1-4 0-3 1-4 1-3 1-3 2-3 2-2 3-2 3-2 3-2 3-1 3-1 3-1 3M574 14l-4 2-3 1-3 2-3 1-3 1-4 2-3 1-3 2-3 2-3 1-3 1-4 0-3 0"/><path stroke="#919191" stroke-width="0.7" d="M690 88l2-3 3-2 3-2 3-2 3-1 3-2 3-1 4 0 3-1 4 0 3 1 4 0 3 0 4 0 3-1 4 0 3 0 4-1 3-1 4 0 3 0 3 1M511 83l2-3 2-3 2-3 2-3 1-3 2-3 1-3 1-4 2-3 1-3 2-3 1-3 2-3 2-3M519 159l2-3 1-3 2-3 0-4 0-3 0-4 0-3-1-4-1-3-1-3-2-3-3-3-2-2-2-3-2-3-2-3-1-3 0-4-1-3M680 56l3 0 4 0 3 0 4-1 3 0 4-1 3-2 3-1 3-2 3-2 3-2 3-2 3-1 3 0 4-1 3 0 4 0 3 1M553 135l3-1 3-1 4-1 3 0 4 0 3 0 4 0 3 0 4 0 3 0 4 0 3 0 4 0 3-1 3-1 4-2 3-1 3 0 4-1 3 0 4 1 3 1 3 2 2 3 2 3 2 2 2 3M438 131l1-3 1-3 0-4 1-3 1-4 1-3 1-3 0-4 1-3 1-4 1-3 1-3 1-4 1-3 1-3 0-4 1-3 0-4 1-3 1-4 2-3 2-2 2-3 3-3 2-2 3-2M691 36l-2 2-2 3-2 3-2 3-2 3-1 3-2 3-1 3-2 3-2 3-2 3-2 3-2 3-2 3-2 3-2 3-1 3-2 3-2 3-1 3-2 3-1 4-1 3-1 3M656 41l-2 3-2 3-3 3-2 2-3 2-2 3-2 3-2 3-3 2-2 3-2 2-2 3-2 3M638 118l2-3 2-3 2-3 2-2 2-3 3-3 2-2 3-2 3-2 3-2 3-1 4-1 3 0 4-1 3 0 4 0 3 0 3 1 4 1 3 0M602 132l3-2 3-2 3-2 3-2 3-1 3-2 3-2 3-2 3-2 3-1 3-2 3-1 3-2 4-1 3-2 3-2 2-2 3-2 3-2 2-3M590 14l-3 0-4 0-3 0-4 0-3 1-4 0-3 0-3 1-4 2-3 1-3 2-2 2-3 3-1 3-1 3 0 4 0 3 1 4 0 3 1 4 1 3M591 119l4 0 3-1 4 0 3-1 3-1 3-2 3-2 3-2 3-2 3-2 2-3 2-3 2-3 0-3 0-4 0-3-1-4-2-3-1-3M559 61l3-2 2-3 2-3 2-3 1-3 2-3 2-3 3-2 2-3 3-2 3-2 2-2 3-3 3-2 3-2 2-2 3-2 2-3 1-4 1-3M583 48l3-2 2-3 3-2 2-3 2-3 1-3 2-3 1-3 2-3 2-3 2-3 3-2M653 161l4-1 3-1 3-1 3-2 3-1 4-2 3-2 3-2 3-1 3-2 3-2 3-1 4-1 3 0 3 1M489 133l-4 1-3 0-4 0-3 0-4 0-3 1-4 0-3 0-4 0-3 1-4 0-3-1-4-1-3-1-3-1-4-2-3 0-3-1-4 0-3 0-4 0-3 0-4 0-3 0-4-1-3-2-3-2M559 96l4 1 3 0 4-1 3-1 3-1 4-1 3-1 4 1 2 3 2 3 1 3 1 3 1 4 1 3 1 3 1 4 0 3 0 4 0 3-1 4 0 3M604 135l0-4-1-3 0-4-1-3 0-4 0-3 0-4 1-3 1-3 0-4 0-3 0-4-1-3-1-4-2-2-2-3-2-3M643-8l1-3 2-3 1-3 1-4 1-3 0-3 1-4 1-3 0-4-1-3 0-4-1-3-1-3-2-4-2-2-3-2-3-2-3-1M479 89l-2 3-2 3-2 3-1 4-1 3-3 3-2 2-3 2-3 1-3 2-3 2-3 2-3 2-3 2-3 2-3 1-4 0-3 0M441 2l2-3 2-3 2-3 1-3 2-3 2-3 2-3 1-3 2-3 2-3 2-3 1-3 1-4 1-3 2-3 2-3 2-3 2-2 3-3M677 133l-3 1-3 2-3 2-2 3-3 2-3 2-3 2-3 2-3 1-3 1-4 1-3 0-4-1-3-1-4 0-3-1-4 0-3-1-3 0-4 1-3 1-3 1-3 2-3 3-2 3-2 3-1 3-1 3M578 24l-1 3-1 3-1 4-1 3 0 4-1 3 1 3 0 4 1 3 2 3 2 3 2 3 3 2 2 3 3 2M613-1l-3 2-4 1-3 1-3 2-2 2-3 3-2 3-1 3-2 3-1 3-1 4-1 3 0 4 0 3 0 4 1 3 1 3 0 4 1 3 1 4 1 3 1 3 1 4 2 3M462-11l3-1 4-2 3-1 3-1 4-2 3 0 3-1 4-1 3 0 4 0 3 0 4 0 3 1 3 1 3 3 2 2 2 3 2 3 2 3 2 3M543 68l3-2 2-3 2-3 2-3 2-2 2-3 3-3 2-2 2-3 2-3 1-3 1-4 0-3 1-4-1-3 0-4 0-3-1-3-1-4-1-3-1-3-2-4-2-3-2-3-1-3-2-2M684 128l2-3 2-2 3-3 2-3 2-3 2-3 1-3 2-2 3-3 2-2 3-3 2-3 2-3 2-3 2-2 2-3 2-3 3-2 2-3M655 56l1-3 2-3 2-3 1-3 2-3 2-3 1-4 1-3 0-4 1-3 0-3 1-4 1-3 2-3 2-3 1-4 1-3 1-3 2-3 2-3M621 100l-2 3-1 3-2 3-1 3-2 4-2 3-1 3-2 3-2 2-2 3-2 3-2 3M584-8l-3 1-3 1-3 2-3 2-3 2-3 2-3 2-3 2-3 1M445-14l3-1 3-2 4-1 3-1 3 0 4-1 3-1 4 0 3-1 4 0 3-1 4 0 3-1 3-1 4 0 3 0M672 10l-2 3-2 3-1 3-2 3-2 3-2 3-2 3-2 3-2 2-2 3-3 2-3 1-4 2-3 2-2 2-3 2M529 70l3-2 3-1 4-1 3-1 3-1 3-2 4-1 3-1 4 0 3-1 4 0 3 0M575 48l-4 1-3 1-4 0-3-1-4-1-3-1-3-1-4 1-3 0-4 0-3-1-3-1-3-2-3-3-2-2-3-3M529 129l-3 2-4 1-3 1-3 2-3 2-3 1-3 2-3 2-2 3-3 1-3 2-3 3-2 3-2 3-1 3-1 3-2 3 0 4-1 3-1 4 0 3 0 4M603-6l-3 2-3 2-3 1-3 2-3 1-4 1-3 1-4 0-3 0-3-1-4-2-2-2-3-2-1-3-2-3-2-3-2-3M589 105l-3 1-3 1-4 1-3 0-4-1-3-1-3-1-4 0-3-1-4-1-3-1-3-1M607 143l-2 2-2 3-2 3-1 4-1 3-1 3 0 4-1 3 0 4-1 3-2 3-2 3M626 32l3-2 4-1 3-1 4 0 3-1 3 0 4 0 3 0 4-1 3 0 4-1 3 0 4-1 3-1 4 0M681 57l2-2 3-3 2-3 2-2 2-3 2-3 2-3 3-2 2-3 3-2 3-2 3-1 4-1 3 0 4-1 3 0 4 0 3-1 3-1 4-1 3-2 3-2M510 100l2-3 2-3 0-3 1-4-1-3 0-4-1-3-1-4 0-3-1-4-1-3-1-3-1-4-2-3-1-3-2-3-3-2-2-2M458 48l2-3 2-2 1-4 1-3 0-4 0-3 0-4-1-3-1-4 0-3-2-3-1-3-1-4-1-3M631 60l2-3 2-2 3-3 3-1 3-2 3-2 4-1 3-1 3-1 4-1 3-1 3-1 4-1 3-2 3-1 3-2 3-2 3-2 3-2 2-3 1-3 2-3 1-3 2-3M683 174l3-1 3-1 4 0 3-1 4 0 3 0 4 0 3 0 4-1 3 0 4-1 3-2 3-1 3-2 3-2 3-2 3-1 3-1 4 0 3 0M462 37l2-3 3-2 3-1 4-1 3-1 4 0 3 0 3 1 4 2 3 1 3 1 4 0 3 1 4 0 3 1 3 2 3 2 3 2 3 2 2 3 2 3 1 3M531 94l-4 0-3 0-4 0-3 0-4 0-3-1-4-1-3-1-3-1-3-1-4-1-3-2-3-1-3-2-3-2-2-3-3-2-1-3M618 170l-3 1-4 1-3 0-3-1-4-1-3-1-3-1-4-1-3-1M498 121l-3 3-2 2-3 3-2 2-2 3-3 2-3 2-2 3-2 3-3 2-2 2-3 2-3 2-4 0-3 1-4 0-3 0-4 0-3-1-4-1M483 165l-3 1-3 2-3 2-3 2-2 2-3 2-3 2-4 1-3 1-4 0M544 128l3-1 3-1 3-2 3-3 3-2 3-1 3-2 3-1 3-2 3-2 3-2 3-2 2-3 2-2 2-3 2-3 1-4 0-3 1-4 1-3 2-3 2-3 3-2 2-3M539 139l-2 3-1 3-1 3 0 4 0 3 0 4 1 3 1 4 1 3 1 3 2 3 2 3 2 3 2 3 2 2 3 3 2 2 3 3M511 92l4-1 3-1 3-1 4-1 3 0 4 0 3 1 3 1 3 2 4 1 3 1 3 2 3 2 3 2 2 2 2 4 1 3 1 3-1 4 0 3 0 4-1 3 0 4M485 167l-2 3-2 3-2 2-3 3-3 1-3 1-4 1-3 0-4 1-3 0-4 1-3 1-3 1-4 1-3 1-3 2-3 1-4 1-3 1M485 84l2-2 3-2 3-2 2-2 3-3 2-3 2-2 3-3 2-2 3-2 3-2 3-2 3-3 3-1 3-2 3-2 3-1 3-2 3-2 3-2 3-2 3-2 3-1M507 73l2-2 3-3 2-3 1-3 2-3 1-3 1-3 1-4 0-3 0-4 1-3 2-3 2-3 3-3 2-2 3-2 2-3 3-2 3-2 3-2M623 54l-2 4-1 3-2 3-1 3-2 3-2 3-2 3-2 3-3 2-2 2-3 2-2 3-3 3-2 2-3 2-2 3-3 2-3 2M619 99l-3 1-3 1-4 0-3 1-4 0-3 0-4 0-3-1-4-1M686 134l1-3 1-4 2-3 1-3 1-3 2-3 2-3 2-3 3-3 3-1 3-2 3 0 4-1 3 0M505 76l1-3 2-3 2-3 3-2 3-1 4-1 3-1 4-1 3 0 3 0 4 1 3 2 3 2 2 2 3 2 3 2 3 1 4 1 3 0M451 65l-1 4 0 3-1 4 0 3 0 4 1 3 1 3 2 3 2 3 2 3 2 3 1 3 1 3 1 4M617 71l3-1 3-2 3-2 2-3 2-3 1-3 1-3 1-4 2-3 1-3 3-3 2-2 2-3 3-2 3-2 3-1 4 0M488 69l1-3 0-4 1-3 0-4 0-3-1-4 0-3-1-4-2-3-2-3-1-3-3-2-2-3-2-3-1-3-1-4-2-3-1-3-3-3-2-2-3-2-3-2-3-2-3-1-3-2-3-1-4-2M472 145l3-1 3 0 4-1 3 0 4 1 3 0 4 1 3 1 3 1 4 0M631 160l2-3 2-2 3-3 2-2 3-3 2-2 3-2 3-3 3-2 3-1 3-2 3-2 2-2 3-2 3-2 3-2 3-2 3-2 2-2 3-3 2-3 2-3 1-3M451 167l-4 1-3 1-3 1-3 2-4 1-3 0-4 0-3 0-4 0-3 0-4 0-3 0M650 4l3-2 3-2 3-2 2-2 3-2 2-3 1-3 1-4 1-3 1-4 0-3 1-3 1-4 0-3 0-4 1-3 0-4 0-3 1-4 0-3-1-4 0-3 0-4 0-3-1-4 0-3-1-4M512 40l3-2 2-2 2-3 2-3 2-3 1-3 1-3 1-4 0-3 0-4-1-3 0-4 0-3 0-4 1-3 0-4 1-3 1-3M592-12l-4-1-3-1-3-1-4-1-3-2-3-2-3-1-3-2-3-1-4-1-3-1-4-1-3 0-3 0-4-1-3 0M566-7l2-2 2-3 3-3 2-2 3-2 3-2 3-2 3-2 3-2 3-1 3-2 3-2 3-1 4-1 3-2 3-1 3-1 4-1 3-1 4-1 3 0 4-1 3 1M646 49l3-1 4 1 3 1 4 1 3 0 4 0 3-1 3-1 4 0 3-1 4 0 3-1 4-1 3-1 3-1 4-1 3 0 4-1 3 0 4 0 3 0 4 0M688 40l-3 2-4 1-3 1-4 0-3 0-4 1-3 0-3 1-4 0-3 0-4 0-3 1-4 1M619 38l-3 2-2 2-3 3-2 3-2 2-2 3-2 3-2 3-2 3-2 2-3 3M598 0l1-4 1-3 1-3 1-4 1-3 1-3 2-4 1-3 0-3 1-4 0-3-1-4M676 74l-3 0-4 1-3 1-3 0-3 2-3 3-1 3-2 3-1 3-1 4 0 3 0 4 1 3 1 3 1 4 1 3M510 97l-2 3-3 2-3 3-2 2-3 1-4 2-3 1-3 0-4-1M557 22l2-3 1-4 1-3 0-3 0-4 0-3 1-4 1-3 1-4 1-3 1-3 1-4 1-3 1-3 1-4M633 129l-2 2-3 2-4 1-3 2-3 2-2 2-3 2-1 4-2 3-1 3 0 4 0 3 0 4 0 3-1 4 0 3 1 4 0 3 2 3 1 3 3 3 2 3 3 1 3 2M617 27l-4 0-3 0-4 0-3 0-4-1-3 1-3 0-4 0-3 0-4-1-3-1-4-1-3-1-4 0-3 0-3 1-4 2-2 2-3 2-2 3-1 3M502 123l1-3 2-3 1-3 0-4 0-3-1-4-1-3-1-4-1-3-2-3-1-3-1-4-2-3-1-3-1-3-2-3-2-3-1-4-1-3 0-3 0-4 0-3 1-4M615 143l-4 1-3 1-3 2-3 1-3 1-4 1-3 0-4 1-3 0-4 0-3 0-4 0-3 0-4 0-3-1-4 0M620 48l-2 3-2 3-2 3-3 2-2 2-3 3-2 2-2 3-3 3-2 2-2 3-2 3-2 3-2 3-1 3-1 4 0 3 0 4 0 3 1 3 1 4 1 3 1 3M613 50l-3 2-3 2-3 2-2 2-3 3-2 2-2 3-3 3-2 2-2 3-2 3-1 3-1 4 0 3-1 4 0 3 0 4 1 3 1 3 2 4 1 3 1 3 1 4 0 3 0 4 1 3M479 79l-3 3-2 2-3 2-3 3-2 2-3 2-2 3-3 2-2 3-2 3-1 3-2 3-1 4-1 3-1 3-3 3-2 2-3 3-2 2-3 2-3 2-3 2-2 2M507 29l3-2 3-1 3-2 3-1 4-1 3-1 4 1 3 1M485 157l2-3 1-3 1-4 0-3-1-4 0-3 0-4 0-3 0-4 0-3 1-3 1-4 1-3 1-4 0-3 0-4M600-10l0 3-1 4-1 3-1 3-1 4-1 3 0 4-1 3 0 3-1 4 0 3-1 4-1 3-1 3-2 4-1 3-2 3-2 3-2 3-2 3-1 3-2 3-2 3-1 3M527 144l2-3 2-3 2-3 2-3 2-3 1-3 2-3 3-3 1-3M465 96l-2 3-2 3-1 3-1 4-1 3 0 4 0 3-1 4 0 3-1 4 0 3 0 4-1 3 0 4 1 3 1 3 0 4 1 3 1 4 0 3 1 4 0 3-1 4 0 3 0 4"/><path stroke="#919191" stroke-width="1.1" d="M505 51l2-3 1-3 2-3 2-3 1-3 1-4 2-3 3-2 3-2 3-1 4 0 3 0 4 1 3 1 3 1 3 2M457 116l1-3 2-3 3-3 2-3 1-3 2-3 2-3 2-3 2-3 2-3 2-2 2-3 3-2 2-3 3-2 3-1 3-2 4-2 3-1 3-2 3-1 3-1 4-1 3-1 4-1 3-1M615 149l-1 3 0 4 0 3 0 4 0 3 0 4 0 3 0 4M437-12l2-2 3-2 2-3 3-2 4-1 3-1 3-1 4 0 3 0M576 118l2-3 2-3 1-3 1-4 0-3 0-4 0-3-1-4-1-3M501 42l4 1 3 0 4 1 3 0 4 1 3 0 3 1 4 2 3 1 3 3 2 2 2 3 3 2 3 2 2 3 3 2 3 1 3 2 4 1 3 1 3 1 4 1 3 1 3 1 4 0 3 0M600 40l3-3 2-2 2-3 3-2 2-3 2-3 2-3 2-3 1-3M660 3l-3 2-2 3-3 2-2 3-2 2-2 3-2 3-3 3-2 3-2 2-2 3-2 3-1 3-2 3M578 24l1-4 0-3 1-4 0-3-1-4 0-3 0-4-2-3-2-3-2-3-2-2-3-3-3-1-3-2M654-2l-2 3-2 3-2 3-3 2-2 3-2 3-2 3 0 3-1 4 1 3 3 3 2 2 3 2 4 1 3 0 3 2 4 1 3 1 3 2 3 2 2 3 2 3 3 2 2 3 1 3 1 4M656 85l-3 3-2 3-2 2-3 3-2 2-2 3-1 3-2 4-1 3-1 3M690-13l1-3 1-3 1-4 1-3 0-4 1-3 0-4 0-3-1-3-1-4M508 44l-4 1-3 1-4 0-3 0-4 0-3 0-4 0-3 1-3 2-3 1-4 1-3 1-4 0-3 0-4-1-3 0-3-1-4-1-3-1-4-1-3 0-4-1-3-1-3-1-4-1M646 146l3 0 4 0 3 1 4 0 3 1 4-1 3 0 4 0 3 1 3 0 4-1 3-1 4-1 3 0 4 0 3 0 3-1 4-2 3-1 3-2 3-2 3-1 3-1 4-1M459 86l-2 3-1 3-1 3-1 4-1 3-2 3-1 4-1 3-2 3-3 2-2 3-3 2-3 2-2 2M500 153l1-3 2-3 2-3 2-3 3-2 3-2 3-2 3-2 3-2 3-2 3-1 3-2 2-2 4-2 3 0M658-14l3-1 4-1 3 0 4 0 3 0 4 0 3 0 4 0 3-1 3-1 4-1 3-1 3 0M433 155l3-2 2-3 3-2 2-3 2-3 1-3 2-3 1-3 2-3 2-3 3-2 3-2 3-2 3-2 3-2 3-1 3-2 3-1 4-1 3-2 3-1 3-2 3-2 2-3M443 33l-2 3-2 3-2 3-1 3-2 3-1 4-1 3-2 3-1 3-1 4-1 3 0 4-1 3M546 156l3-1 3-2 3-2 3-2 3-2 3-1 3-2 3-1 4-2 3-1 3-2 2-3 2-2 3-3 2-2 3-3 3-2 3-1M583 43l3-2 2-3 2-3 1-3 1-4 1-3 0-3 1-4 0-3 0-4 0-3 0-4M467 56l4-1 3 0 4-1 3-1 3 0 4-2 3-1 3-2 2-2 3-3 3-2 3-2 1-3M460 57l-4 0-3 0-4 0-3 0-4-1-3 0-4-1-3 0-4 0-3 0-4-1-3 0-4 0-3-1-3 0-4-1-3-1-4-1-3-1-3-1-3-2M615 160l1 3 2 4 2 3 2 3 1 3 2 3 1 3 1 4 1 3 1 3 1 4 1 3 1 3 1 4 1 3 1 3 2 3 3 2 2 3 2 3M515 79l-2 3-2 2-2 3-2 3-2 3-2 3-3 2-2 2-3 2M640 120l-3 0-4 0-3-1-4-1-3-2-2-2-3-2-3-2-3-2-3-1-3-2-3-2M611 175l-1 3-1 3-1 4-1 3-1 3-1 4-1 3 0 4 0 3 0 4 0 3-1 4 0 3 1 4 1 3 1 3 2 3M474 77l2-3 2-3 1-3 1-3 1-4 0-3-1-4-2-3-2-2-3-2-4-1-3-1-3-1-4-1-3-1-3-1-4-1-3-2M560 21l3 1 3 0 4 1 3 0 4 0 3 0 4-1 3-1 3-2 3-2 2-3 2-3 2-3 1-3 1-3 2-4 1-3 1-3 2-3 2-3M669 119l-3 2-2 2-3 2-4 1-3 2-3 1-3 1-4 2-3 1-3 1-3 2-4 1-3 0-4 0-3-1-3-1-4-1-2-3M500-9l1-3 2-3 1-3 2-3 2-3 3-2 3-1 3-1 4-1 3 0 4-1M477 89l3-2 3-2 2-3 2-3 1-3 2-3 2-3 2-2 3-3 3-2 2-2 3-3 2-2 3-2M678 167l-3 2-3 1-3 2-2 2-3 3-2 3-2 2-3 3-3 2M628 144l-2 3-2 3-1 3-1 3-1 4-1 3-1 4 0 3-1 3-1 4 0 3 0 4 0 3 0 4-1 3 0 4 0 3-1 4-1 3-2 3-2 3-2 2M445 152l-3 1-3 2-3 2-3 2-3 2-3 1-3 2-3 2-3 2-3 1-4 1-3 0-4 1-3 1-4 1-3 0-3 1M622 60l-3 0-4 1-3 1-3 1-4 2-3 0-3 1-4 2M481 160l-3 0-4 0-3 0-3-1-4-2-3-1-3-1-3-2-3-2-3-2-1-3-2-4 0-3-1-3 1-4 0-3 0-4 0-3 0-4 0-3M488 165l-1 3-1 4-2 3-2 2-3 3-3 2-3 2-3 1-3 2-3 1-3 2-3 1M652 138l3-2 2-3 3-2 3-2 3-1 3-1 4-1 3-2 3-1 3-2 3-2 3-1 3-2M549 29l2-2 2-3 3-3 2-2 3-2 3-2 3-2 3-2 3-1 4 0 3 1 3 1 3 2 3 3 2 2M435 150l-1 3-1 4 0 3 0 4 0 3 1 4 0 3 1 4-1 3-1 4-1 3-2 3-2 2-3 2-3 2-4 1-3 1-3 1-4 0-3 1-4 1-3 1-3 0M630 152l-3 2-4 1-3 1-3 0-4 0-3-1-4-1-3-1-3-2-3-2-3-2-2-2-2-3-3-3-2-2-2-3-2-3-1-3-1-4-1-3-1-4-1-3-2-3M677 56l-1 3-1 4-1 3-2 3-1 4-1 3-2 3-1 3-2 3-2 3-2 3-2 3-2 3-1 3-2 3-2 3-3 2-2 3-3 1-3 2-3 2-3 3M481-7l-1 3-2 3-2 3-3 2-2 3-2 3-2 3-1 3-1 3-1 4-1 3-1 3M689 130l-3 3-2 3-2 3-2 3-2 3-1 2-3 3-2 3-3 2-3 2-3 1-3 1-4 1-3 1-3 1-4 0-3 1-4 0-3 0-4-1-3 0-4 0-3 1-4 1-3 0-4 1M649 52l-3 2-2 3-3 2-2 3-3 2-3 2-2 3-3 2-2 3-2 3-2 3-1 3-1 3-1 4-1 3M474 12l3-2 3-2 2-3 3-2 3-2 2-2 3-3 3-2 2-2 4-2 3-1 3-1 4-1 3 0 3 1 4 1 3 1 3 1 4 1 3 1M570 132l-4 2-3 0-4 1-3 1-3 0-4 1-3 1-4 1-3 1-3 2-3 1-3 2-4 1-3 2-2 2M586 83l-3 2-3 2-2 3-2 3-1 3-2 3-1 3-1 3-1 4-1 3-2 3-1 4M598 117l-1 4-1 3 0 4 0 3 0 3 1 4 1 3 1 4 2 3 1 3 1 3 2 3 1 3 3 3 2 3 2 2M492 69l-3 1-4 1-3 1-3 1-3 2-3 2-3 2-3 1-4 1-3 2-3 2-3 1-3 2-3 2-3 2-2 2-3 2-3 3-2 3-2 2-2 3-2 3-2 3-1 3M603 153l-3 0-4 1-3 0-4 0-3-1-3-1-4-1-3-1-3-2-3-1-3-2-3-2-3-2M444 26l-3 3-2 2-3 3-2 2-3 1-4 1-3 0-4 0-3-2-3-2-3-2-2-2-2-3-1-4-1-3-1-3 0-4 0-3 1-4 2-3 2-3 2-2 3-2 2-3 2-3M584 109l-3 3-2 2-3 2-3 3-2 2-2 3-2 3-2 3-3 2M536 64l4-1 3-1 3-2 3-1 3-2 4-1 3-1 3-1 4-1 3 1 4 0 3 1 3 2M658 13l2-3 2-3 3-2 2-2 3-2 3-2 3-2 3-2 3-2 3-2 3-2 3-2 2-2 2-3 2-3M512 72l4 0 3-1 4 0 3 0 4 1 3 0 4-1 3 0 4-1 3 0 3-1 4-1 3-1 3-1 4-2 2-2 3-2 3-2 2-3 1-3M535 162l3-2 3-1 4-2 3-1 3-2 2-3 2-3 1-3 1-4 1-3 1-3M565 135l2-2 3-3 2-2 3-2 3-2 2-3 3-3 2-2 1-4 2-3 0-3 1-4 0-3 1-4 0-3 0-4 0-3-1-4 0-3-1-3-1-4-1-3-1-4M584-3l-3-1-4 1-3 0-3 2-3 2-2 3-2 3-1 3 0 4 0 3 1 4 0 3M482 145l-1-3-1-3-2-3-2-3-2-3-3-2-3-1-4-2-3-1-3-2-3-1-3-1-4-1-3-2-3-1-3-2M585 111l-2 3-2 3-2 3-2 3-1 3-2 3-2 3-3 2-2 3M656 55l2-3 1-4 1-3 1-3 0-4 1-3 1-4 1-3 1-3 1-4 1-3 1-3 1-4 0-3 2-3 2-3 3-2 3-2 3 0 4 0 3 1 4 1 3 2 3 1 3 1 3 2M471 10l4 0 3-1 4 0 3 0 4 0 3 1 4 0 3 1 3 2 3 2 3 2 2 2 2 3 2 3 2 3 2 3 3 2 3 2 2 2 4 2 3 1 3 1 4 0 3 1 4 1M595 31l-3 0-4 0-3-1-3-1-4-1-2-2-3-2-2-3-2-3-2-3M677 69l1-3 2-4 1-3 1-3 2-3 2-3 3-2 3-2 2-2 3-3 2-2M601 128l4-2 3-1 3-1 4-1 3 0 3-1 4 0 3-1 4 1 3 0 3 2 3 2 3 2 2 3 1 4 1 3 1 3 1 4 1 3 0 4 0 3M532 90l4 0 3 0 4 1 3 1 2 2 3 2 2 3 2 3 2 3 0 4-1 3-1 3-2 3-2 3-2 3-3 2-3 2-3 1-3 2-4 1M494 35l3-2 3-2 3-2 4-1 3-1 3-1 4-1 3-1 3-1 4-1 3-1 3-1 4 0 3 2M542 71l3 0 4 0 3-1 4 0 3-1 3-1 4-1 3-1 4 1 3 1 3 2 3 2 2 3 2 3 2 2 2 3 2 3 2 3 2 3M676 101l-2 2-3 2-2 3-2 3-3 2-2 3-1 4-1 3 0 3 0 4-1 3 0 4 1 3 0 4 0 3 0 4-1 3-2 3-1 3-2 4-1 3-2 3-1 3-1 4-1 3-1 3M556 106l3-2 3-1 4-2 3-1 3-2 3-1 3-2 3-2 2-3 3-2M597 55l1-3 2-3 3-3 2-3 1-3 2-3 2-3 2-3 2-3 2-2 2-3 2-3 2-3 2-3 3-2 3-1 3-1 4 0 3 0 4 0 3 1 4 0M521 20l-3 2-3 2-3 1-3 2-4 2-3 1-3 1-4 0-3 0-3-1-4 0-3 0-4-1-3 0-4 0-3 0-4 0-3-1-4-1-2-2-3-2M515-9l3-2 2-3 3-2 3-2 3-2 2-3 2-2 3-3 2-3M603 150l3-2 3-1 3-2 4-1 3-2 3-1 3-1 3-2 4-2 3-1 3-1 3-2 3-2 3-2 2-3 2-2 2-3 3-3 3-2 3-1M462 102l4 0 3-1 4-1 3-1 3-3 2-2 2-3 2-3M700 41l-4 0-3-1-4 0-3-1-4 1-3 0-4 1-3 1-3 1-3 2-3 2-3 2-3 2-2 2-3 3-3 2-2 2-3 3-3 1-3 1-4 1-3 0-4 1-3 0-4 0M513 65l-3 2-3 2-4 1-3 1-3 1-4 1-3 0-4 0-3-1-3-1-4-1-3-1-3-1M504 118l3-2 2-3 3-2 3-2 3-2 2-2 3-3 2-3 1-3 2-3 2-3M452 134l0 3 0 4 0 3 0 4 0 3 0 4 1 3 0 4 1 3M504 123l-2 2-2 3-3 3-2 2-3 3-3 2-2 2-3 2-3 2-3 1-4 1-3 1-3 1-4 1-3 0-4 0-3-1-4 0-3-1-4-1-3 0-3-1-4 0-3 0-4 0-3-1-4-1M690 4l-4 0-3 1-3 1-3 2-4 1-3 2-3 1-3 1-3 2-3 2-4 1-3 1-3 2-3 1-4 2-3 1-3 1-3 2-3 2-3 2-2 3-2 2M561-5l4 0 3-1 4 1 3 0 4 0 3 1 3 1 4 2 3 1 3 1 4 0 3 1 4 0 3 1 4 0 3 1 4 1 3 1 3 1 4 1 3 1 3 1 3 1 4 1 3 2 3 1M435 168l-3-1-3-1-4-1-3-2-3-2-2-2-4-2-3 0-4 1-3 2-2 2-2 3-1 4 0 3 1 3 1 4 1 3 2 3M563 7l-3 0-4-1-3 0-4 0-3 0-3 1-4 2-3 1-3 1-3 2-4 1-3 1M500 58l-1 3-2 3-1 3-1 4-2 3-1 3-2 3-2 3-2 3-3 2-2 2-3 2-3 2-3 2-3 2-3 2-3 1-3 2-4 1-3 1-3 0-4 1-3 1-4 0-3 1-4 0M622 109l3-2 2-2 3-3 2-2 2-3 1-4 1-3 1-3 1-4-1-3 0-4-1-3-1-3-1-4-1-3M613 62l3-1 3-2 3-1 3-2 3-3 2-2 2-3 2-3 2-3 1-3 1-4 1-3 2-3 1-3 2-3 2-3 2-3 1-3"/></g></g></g><g fill="none" stroke-linecap="round" stroke-linejoin="round" filter="url(#bl)"><path d="M141 22Q133 40 126 55T110 90Q100 100 88 101Q80 103 70 108" stroke="#c8c8c8" stroke-width="1.4"/><path d="M88 101Q110 108 131 115" stroke="#b8b8b8" stroke-width="1.2"/><path d="M154 67Q172 62 190 52" stroke="#c8c8c8" stroke-width="1.4"/><path d="M68 39Q72 52 78 60T90 72" stroke="#b0b0b0" stroke-width="1.1"/><path d="M6 120Q20 128 30 140" stroke="#b0b0b0" stroke-width="1.2"/><path d="M200 100Q215 115 230 150" stroke="#aaaaaa" stroke-width="1.1"/><path d="M606 49Q608 65 610 82" stroke="#c0c0c0" stroke-width="1.3"/><path d="M530 118Q545 110 560 100" stroke="#b5b5b5" stroke-width="1.1"/><path d="M515 45Q540 30 560 20" stroke="#bbbbbb" stroke-width="1.2"/><path d="M600 120Q620 100 640 85" stroke="#b5b5b5" stroke-width="1.2"/><path d="M540 100Q560 95 590 80" stroke="#b0b0b0" stroke-width="1.1"/></g><rect x="231.6" y="6" width="1" height="149" fill="#9a9a9a" opacity="0.6"/><path d="M383.5 41.5Q386 38 389 40T395 37.5" stroke="#f0f0f0" stroke-width="2.6" fill="none" stroke-linecap="round" filter="url(#bl)"/><path d="M318 65.5V72" stroke="#e8e8e8" stroke-width="2" fill="none" stroke-linecap="round"/><circle cx="248.0" cy="74.3" r="1.5" fill="#e4e4e4"/><circle cx="407.8" cy="57.3" r="1.0" fill="#e4e4e4"/><circle cx="382.7" cy="102.2" r="1.0" fill="#e4e4e4"/><circle cx="429.0" cy="119.0" r="1.0" fill="#e4e4e4"/><circle cx="269.8" cy="126.3" r="1.2" fill="#e4e4e4"/><circle cx="334.6" cy="138.5" r="1.3" fill="#e4e4e4"/><circle cx="326.6" cy="144.0" r="1.1" fill="#e4e4e4"/><circle cx="443.7" cy="7.6" r="1.1" fill="#e4e4e4"/><circle cx="296.0" cy="105.4" r="0.9" fill="#e4e4e4"/><circle cx="647.0" cy="97.0" r="1.0" fill="#e4e4e4"/><circle cx="605.0" cy="69.0" r="1.0" fill="#e4e4e4"/><rect x="21.0" y="137.3" width="30.0" height="17.2" fill="#000"/><text x="36.0" y="144.6" font-size="6.6" fill="#cfcfcf" text-anchor="middle" font-family="Liberation Sans">200 nm</text><rect x="28.4" y="147.6" width="14.4" height="1.8" fill="#fff"/><rect x="247.2" y="136.4" width="29.8" height="18.1" fill="#000"/><text x="262.0" y="144.6" font-size="6.6" fill="#cfcfcf" text-anchor="middle" font-family="Liberation Sans">200 nm</text><rect x="254.2" y="147.6" width="14.5" height="1.8" fill="#fff"/><rect x="468.3" y="136.8" width="29.7" height="17.7" fill="#000"/><text x="483.0" y="144.6" font-size="6.6" fill="#cfcfcf" text-anchor="middle" font-family="Liberation Sans">200 nm</text><rect x="475.3" y="147.6" width="14.0" height="1.8" fill="#fff"/></svg>
<svg width="686" height="547" font-family="Liberation Sans" style="will-change:transform"><text transform="matrix(0.9627 0 0 1.0440 13.32 39.46)" font-size="27" fill="#fff">(a)</text><text transform="matrix(1.0542 0 0 1.0480 239.36 42.14)" font-size="27" fill="#fff">(b)</text><text transform="matrix(0.9821 0 0 1.0520 460.18 40.81)" font-size="27" fill="#fff">(c)</text><text transform="matrix(0.9951 0 0 1.0192 13.16 189.74)" font-size="28" fill="#000">(d)</text><text transform="matrix(1.0476 0 0 1.0065 69.31 460.92)" font-size="22" fill="#000">0</text><text transform="matrix(1.0365 0 0 1.0065 50.52 424.06)" font-size="22" fill="#000">0.2</text><text transform="matrix(1.0188 0 0 1.0065 50.54 387.20)" font-size="22" fill="#000">0.4</text><text transform="matrix(1.0276 0 0 1.0065 50.53 350.34)" font-size="22" fill="#000">0.6</text><text transform="matrix(1.0276 0 0 1.0065 50.53 313.49)" font-size="22" fill="#000">0.8</text><text transform="matrix(0.9789 0 0 1.0400 70.09 276.88)" font-size="22" fill="#000">1</text><text transform="matrix(1.0739 0 0 1.0230 49.42 240.02)" font-size="22" fill="#000">1.2</text><text transform="matrix(1.0549 0 0 1.0400 49.45 203.16)" font-size="22" fill="#000">1.4</text><text transform="matrix(0 -1.0000 1.1149 0 42.10 361.00)" font-size="16" font-weight="bold" fill="#000">Absorbance</text><text transform="matrix(0.9859 0 0 0.9956 168.01 222.80)" font-size="16" font-weight="bold" fill="#000">HaCaT</text><text transform="matrix(1.0537 0 0 0.9412 369.98 222.36)" font-size="17" font-weight="bold" fill="#000">NIH/3T3</text><text transform="matrix(1.0571 0 0 0.9935 147.31 492.15)" font-size="22" fill="#000">0</text><text transform="matrix(0.9843 0 0 1.0098 241.07 492.40)" font-size="22" fill="#000">72</text><text transform="matrix(1.0571 0 0 0.9935 346.86 492.15)" font-size="22" fill="#000">0</text><text transform="matrix(0.9843 0 0 1.0098 441.02 492.40)" font-size="22" fill="#000">72</text><text transform="matrix(1.0471 0 0 1.0200 253.04 520.28)" font-size="16" font-weight="bold" fill="#000">Time (hours)</text><text transform="matrix(1.1457 0 0 1.0000 549.74 238.40)" font-size="16" fill="#000">Control</text><text transform="matrix(1.0349 0 0 1.0000 549.81 295.80)" font-size="16" fill="#000">RADA16 (1%</text><text transform="matrix(1.1752 0 0 1.0000 551.10 319.20)" font-size="16" fill="#000">w/v)</text><text transform="matrix(1.0133 0 0 1.0000 550.43 352.00)" font-size="16" fill="#000">RADA16-FPG</text><text transform="matrix(1.1253 0 0 1.0000 549.97 375.40)" font-size="16" fill="#000">(1% w/v)</text><text transform="matrix(1.0129 0 0 1.0000 550.43 409.00)" font-size="16" fill="#000">RADA16-RGD</text><text transform="matrix(1.1253 0 0 1.0000 549.97 432.00)" font-size="16" fill="#000">(1% w/v)</text></svg>
</body></html>
